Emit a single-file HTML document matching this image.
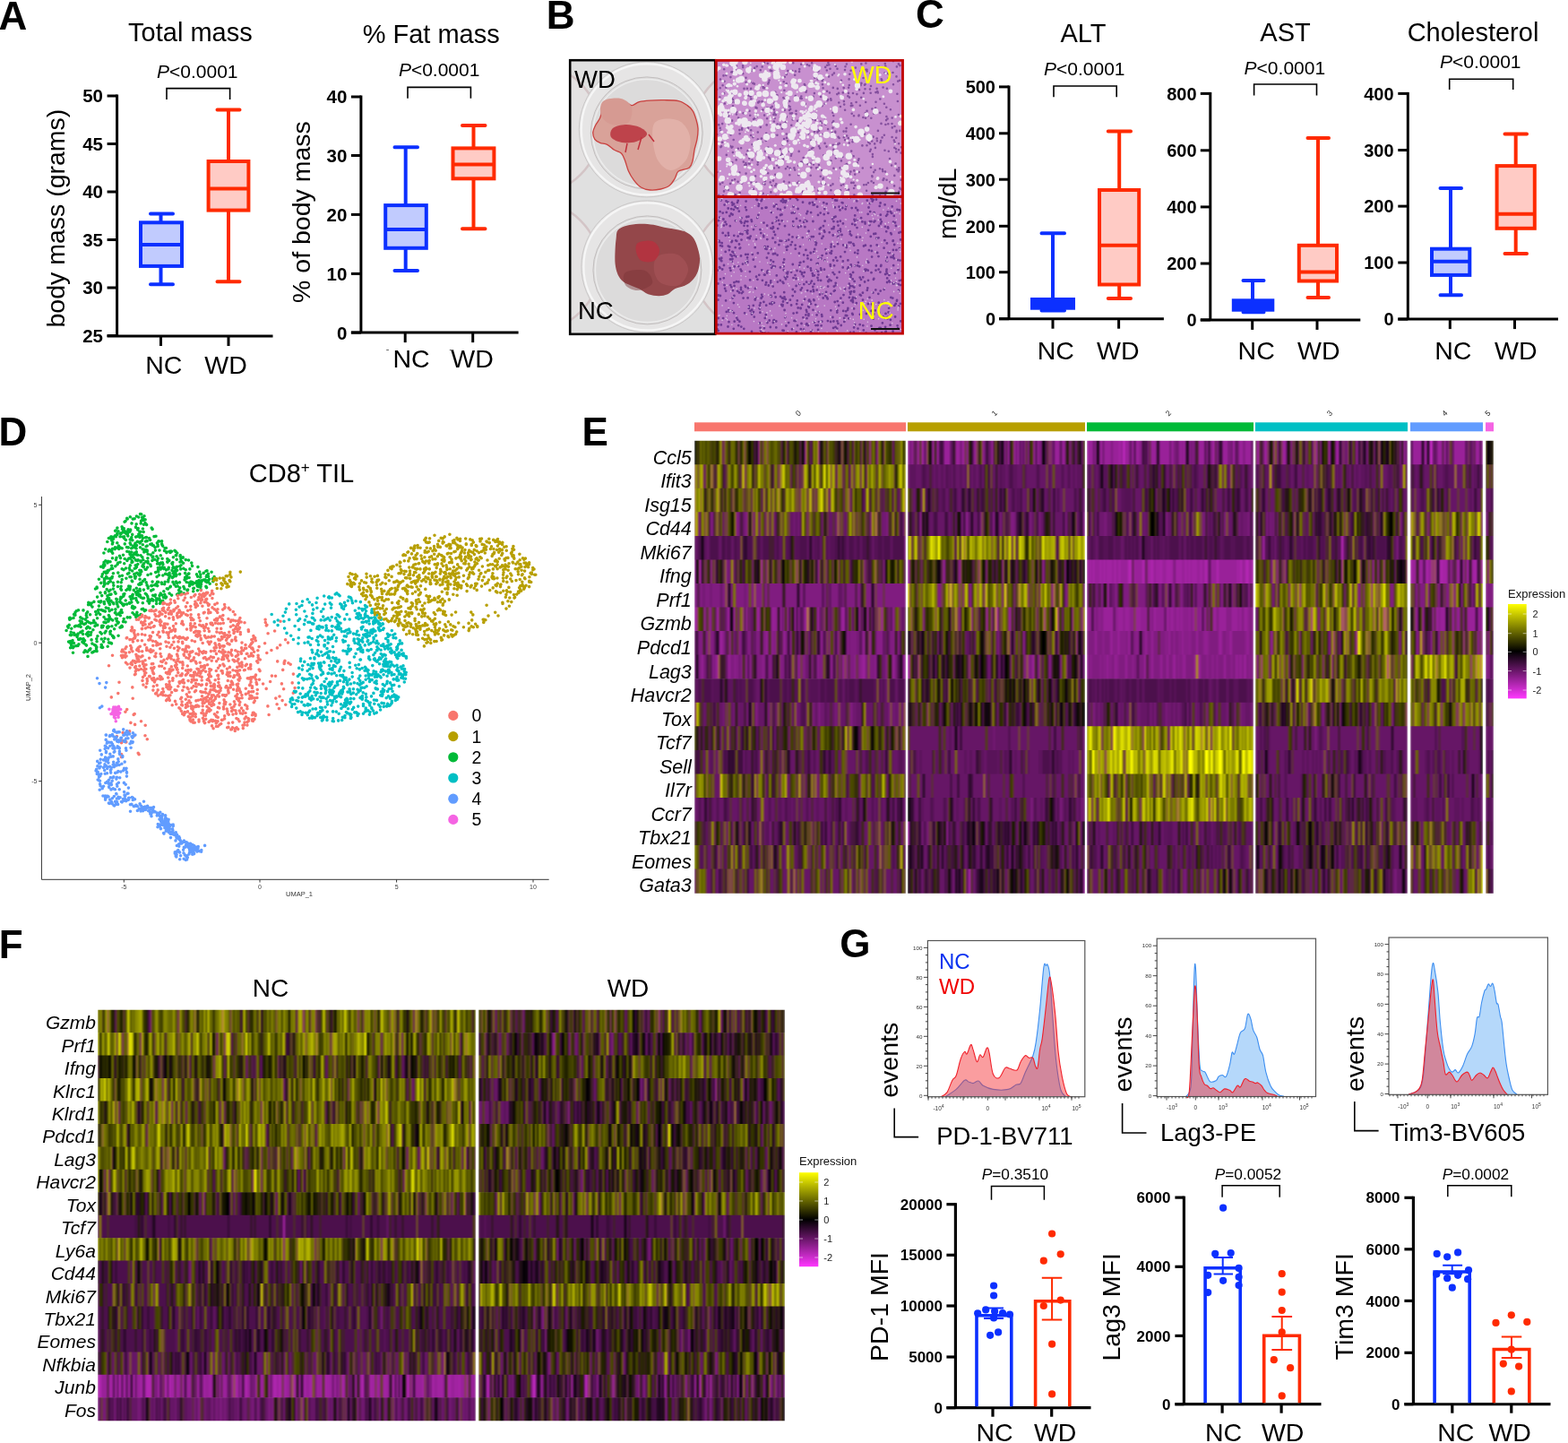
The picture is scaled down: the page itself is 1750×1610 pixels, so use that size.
<!DOCTYPE html>
<html><head><meta charset="utf-8"><title>Figure</title>
<style>
html,body{margin:0;padding:0;background:#fff;width:1750px;height:1610px;overflow:hidden}
svg{display:block}
text{font-family:"Liberation Sans",Arial,Helvetica,sans-serif}
.b{font-weight:bold}
.i{font-style:italic}
</style></head><body>
<svg width="1750" height="1610" viewBox="0 0 1750 1610">
<rect width="1750" height="1610" fill="#fff"/>
<text x="-1.5" y="32.7" font-size="44" class="b">A</text>
<text x="212.4" y="46.3" font-size="29" text-anchor="middle">Total mass</text>
<text x="175" y="86.6" font-size="21"><tspan class="i">P</tspan>&lt;0.0001</text>
<path d="M186 111V98.6H256.6V111" fill="none" stroke="#000" stroke-width="1.6"/>
<path d="M130.6 105.5L130.6 375" stroke="#000" stroke-width="3"/>
<path d="M119.6 375L304.5 375" stroke="#000" stroke-width="3"/>
<path d="M119.6 107L130.6 107" stroke="#000" stroke-width="3"/>
<text x="115" y="114.4" font-size="20.5" text-anchor="end" class="b">50</text>
<path d="M119.6 160.5L130.6 160.5" stroke="#000" stroke-width="3"/>
<text x="115" y="167.9" font-size="20.5" text-anchor="end" class="b">45</text>
<path d="M119.6 214L130.6 214" stroke="#000" stroke-width="3"/>
<text x="115" y="221.4" font-size="20.5" text-anchor="end" class="b">40</text>
<path d="M119.6 267.5L130.6 267.5" stroke="#000" stroke-width="3"/>
<text x="115" y="274.9" font-size="20.5" text-anchor="end" class="b">35</text>
<path d="M119.6 321L130.6 321" stroke="#000" stroke-width="3"/>
<text x="115" y="328.4" font-size="20.5" text-anchor="end" class="b">30</text>
<path d="M119.6 374.5L130.6 374.5" stroke="#000" stroke-width="3"/>
<text x="115" y="381.9" font-size="20.5" text-anchor="end" class="b">25</text>
<path d="M179.5 375L179.5 386" stroke="#000" stroke-width="3"/>
<path d="M255 375L255 386" stroke="#000" stroke-width="3"/>
<path d="M179.5 238.5V248.3M179.5 296.9V317.3" stroke="#0c30ff" stroke-width="4"/>
<path d="M168 238.5H193M168 317.3H193" stroke="#0c30ff" stroke-width="4" stroke-linecap="round"/>
<rect x="157" y="248.3" width="46" height="48.6" fill="#c1cbfe" stroke="#0c30ff" stroke-width="4"/>
<path d="M157 272.9L203 272.9" stroke="#0c30ff" stroke-width="4"/>
<path d="M255 122.6V180M255 234.6V314.3" stroke="#ff2a00" stroke-width="4"/>
<path d="M242.5 122.6H267.5M242.5 314.3H267.5" stroke="#ff2a00" stroke-width="4" stroke-linecap="round"/>
<rect x="232.6" y="180" width="44.8" height="54.6" fill="#ffcbc5" stroke="#ff2a00" stroke-width="4"/>
<path d="M232.6 210.6L277.4 210.6" stroke="#ff2a00" stroke-width="4"/>
<text x="182.8" y="417.4" font-size="28.5" text-anchor="middle">NC</text>
<text x="252" y="417.4" font-size="28.5" text-anchor="middle">WD</text>
<text transform="translate(72.2 243.6) rotate(-90)" text-anchor="middle" font-size="28.5">body mass (grams)</text>
<text x="481.2" y="48" font-size="29" text-anchor="middle">% Fat mass</text>
<text x="444.9" y="85.4" font-size="21"><tspan class="i">P</tspan>&lt;0.0001</text>
<path d="M455 109.7V97.4H525.4V109.7" fill="none" stroke="#000" stroke-width="1.6"/>
<path d="M402.9 106.5L402.9 371.1" stroke="#000" stroke-width="3"/>
<path d="M391.9 371.1L578.6 371.1" stroke="#000" stroke-width="3"/>
<path d="M391.9 108L402.9 108" stroke="#000" stroke-width="3"/>
<text x="387.3" y="115.4" font-size="20.5" text-anchor="end" class="b">40</text>
<path d="M391.9 173.5L402.9 173.5" stroke="#000" stroke-width="3"/>
<text x="387.3" y="180.9" font-size="20.5" text-anchor="end" class="b">30</text>
<path d="M391.9 239.4L402.9 239.4" stroke="#000" stroke-width="3"/>
<text x="387.3" y="246.8" font-size="20.5" text-anchor="end" class="b">20</text>
<path d="M391.9 305.4L402.9 305.4" stroke="#000" stroke-width="3"/>
<text x="387.3" y="312.8" font-size="20.5" text-anchor="end" class="b">10</text>
<path d="M391.9 371.1L402.9 371.1" stroke="#000" stroke-width="3"/>
<text x="387.3" y="378.5" font-size="20.5" text-anchor="end" class="b">0</text>
<path d="M452.2 371.1L452.2 382.1" stroke="#000" stroke-width="3"/>
<path d="M527.7 371.1L527.7 382.1" stroke="#000" stroke-width="3"/>
<path d="M452.7 164.2V229.1M452.7 276.8V302" stroke="#0c30ff" stroke-width="4"/>
<path d="M440.5 164.2H466M440.5 302H466" stroke="#0c30ff" stroke-width="4" stroke-linecap="round"/>
<rect x="430.2" y="229.1" width="45.6" height="47.7" fill="#c1cbfe" stroke="#0c30ff" stroke-width="4"/>
<path d="M430.2 256L475.8 256" stroke="#0c30ff" stroke-width="4"/>
<path d="M528.5 140V165.4M528.5 199.3V255.2" stroke="#ff2a00" stroke-width="4"/>
<path d="M516 140H541.5M516 255.2H541.5" stroke="#ff2a00" stroke-width="4" stroke-linecap="round"/>
<rect x="505.5" y="165.4" width="45.9" height="33.9" fill="#ffcbc5" stroke="#ff2a00" stroke-width="4"/>
<path d="M505.5 183.4L551.4 183.4" stroke="#ff2a00" stroke-width="4"/>
<path d="M431.2 390.5h2.7M501.8 390.5h4.5" stroke="#666" stroke-width="1"/>
<text x="459" y="410" font-size="28.5" text-anchor="middle">NC</text>
<text x="527" y="410" font-size="28.5" text-anchor="middle">WD</text>
<text transform="translate(346 236.6) rotate(-90)" text-anchor="middle" font-size="28.5">% of body mass</text>
<text x="1022.1" y="31.2" font-size="44" class="b">C</text>
<text x="1209" y="46.6" font-size="29" text-anchor="middle">ALT</text>
<text x="1165" y="84" font-size="21"><tspan class="i">P</tspan>&lt;0.0001</text>
<path d="M1176 108.3V96H1246.2V108.3" fill="none" stroke="#000" stroke-width="1.6"/>
<path d="M1126 95.4L1126 355.7" stroke="#000" stroke-width="3"/>
<path d="M1115 355.7L1298.9 355.7" stroke="#000" stroke-width="3"/>
<path d="M1115 96.9L1126 96.9" stroke="#000" stroke-width="3"/>
<text x="1111" y="104.2" font-size="20" text-anchor="end" class="b">500</text>
<path d="M1115 148.8L1126 148.8" stroke="#000" stroke-width="3"/>
<text x="1111" y="156.1" font-size="20" text-anchor="end" class="b">400</text>
<path d="M1115 200.2L1126 200.2" stroke="#000" stroke-width="3"/>
<text x="1111" y="207.5" font-size="20" text-anchor="end" class="b">300</text>
<path d="M1115 252.3L1126 252.3" stroke="#000" stroke-width="3"/>
<text x="1111" y="259.6" font-size="20" text-anchor="end" class="b">200</text>
<path d="M1115 303.7L1126 303.7" stroke="#000" stroke-width="3"/>
<text x="1111" y="311" font-size="20" text-anchor="end" class="b">100</text>
<path d="M1115 355.7L1126 355.7" stroke="#000" stroke-width="3"/>
<text x="1111" y="363" font-size="20" text-anchor="end" class="b">0</text>
<path d="M1175 355.7L1175 366.7" stroke="#000" stroke-width="3"/>
<path d="M1248.6 355.7L1248.6 366.7" stroke="#000" stroke-width="3"/>
<path d="M1175 260.3V334M1175 343.7V346.6" stroke="#0c30ff" stroke-width="4"/>
<path d="M1162.5 260.3H1188M1162.5 346.6H1188" stroke="#0c30ff" stroke-width="4" stroke-linecap="round"/>
<rect x="1150" y="332" width="50" height="13.7" fill="#0c30ff"/>
<path d="M1249.2 146.6V212M1249.2 317.5V332.9" stroke="#ff2a00" stroke-width="4"/>
<path d="M1236.8 146.6H1262M1236.8 332.9H1262" stroke="#ff2a00" stroke-width="4" stroke-linecap="round"/>
<rect x="1227" y="212" width="44.2" height="105.5" fill="#ffcbc5" stroke="#ff2a00" stroke-width="4"/>
<path d="M1227 273.7L1271.2 273.7" stroke="#ff2a00" stroke-width="4"/>
<text x="1178.3" y="400.6" font-size="28.5" text-anchor="middle">NC</text>
<text x="1247.8" y="400.6" font-size="28.5" text-anchor="middle">WD</text>
<text transform="translate(1067 227.3) rotate(-90)" text-anchor="middle" font-size="28.5">mg/dL</text>
<text x="1434.5" y="45.7" font-size="29" text-anchor="middle">AST</text>
<text x="1388.6" y="83" font-size="21"><tspan class="i">P</tspan>&lt;0.0001</text>
<path d="M1399.6 106.4V94H1469.5V106.4" fill="none" stroke="#000" stroke-width="1.6"/>
<path d="M1350.8 102.9L1350.8 356.9" stroke="#000" stroke-width="3"/>
<path d="M1339.8 356.9L1518.3 356.9" stroke="#000" stroke-width="3"/>
<path d="M1339.8 104.4L1350.8 104.4" stroke="#000" stroke-width="3"/>
<text x="1335.6" y="111.7" font-size="20" text-anchor="end" class="b">800</text>
<path d="M1339.8 167.8L1350.8 167.8" stroke="#000" stroke-width="3"/>
<text x="1335.6" y="175.1" font-size="20" text-anchor="end" class="b">600</text>
<path d="M1339.8 230.9L1350.8 230.9" stroke="#000" stroke-width="3"/>
<text x="1335.6" y="238.2" font-size="20" text-anchor="end" class="b">400</text>
<path d="M1339.8 294L1350.8 294" stroke="#000" stroke-width="3"/>
<text x="1335.6" y="301.3" font-size="20" text-anchor="end" class="b">200</text>
<path d="M1339.8 356.9L1350.8 356.9" stroke="#000" stroke-width="3"/>
<text x="1335.6" y="364.2" font-size="20" text-anchor="end" class="b">0</text>
<path d="M1397.7 356.9L1397.7 367.9" stroke="#000" stroke-width="3"/>
<path d="M1470 356.9L1470 367.9" stroke="#000" stroke-width="3"/>
<path d="M1398 313V335.3M1398 345.7V348.3" stroke="#0c30ff" stroke-width="4"/>
<path d="M1387.5 313H1410.5M1387.5 348.3H1410.5" stroke="#0c30ff" stroke-width="4" stroke-linecap="round"/>
<rect x="1374.8" y="333.3" width="47.5" height="14.4" fill="#0c30ff"/>
<path d="M1471 154V273.8M1471 313.5V331.9" stroke="#ff2a00" stroke-width="4"/>
<path d="M1459.5 154H1483M1459.5 331.9H1483" stroke="#ff2a00" stroke-width="4" stroke-linecap="round"/>
<rect x="1449.8" y="273.8" width="42.2" height="39.7" fill="#ffcbc5" stroke="#ff2a00" stroke-width="4"/>
<path d="M1449.8 303.4L1492 303.4" stroke="#ff2a00" stroke-width="4"/>
<text x="1402.2" y="400.5" font-size="28.5" text-anchor="middle">NC</text>
<text x="1471.8" y="400.5" font-size="28.5" text-anchor="middle">WD</text>
<text x="1644" y="45.7" font-size="29" text-anchor="middle">Cholesterol</text>
<text x="1607" y="75.7" font-size="21"><tspan class="i">P</tspan>&lt;0.0001</text>
<path d="M1617.7 100V88.2H1688.7V100" fill="none" stroke="#000" stroke-width="1.6"/>
<path d="M1571.3 102.9L1571.3 356.1" stroke="#000" stroke-width="3"/>
<path d="M1560.3 356.1L1739 356.1" stroke="#000" stroke-width="3"/>
<path d="M1560.3 104.4L1571.3 104.4" stroke="#000" stroke-width="3"/>
<text x="1555.6" y="111.7" font-size="20" text-anchor="end" class="b">400</text>
<path d="M1560.3 167.5L1571.3 167.5" stroke="#000" stroke-width="3"/>
<text x="1555.6" y="174.8" font-size="20" text-anchor="end" class="b">300</text>
<path d="M1560.3 230.1L1571.3 230.1" stroke="#000" stroke-width="3"/>
<text x="1555.6" y="237.4" font-size="20" text-anchor="end" class="b">200</text>
<path d="M1560.3 293L1571.3 293" stroke="#000" stroke-width="3"/>
<text x="1555.6" y="300.3" font-size="20" text-anchor="end" class="b">100</text>
<path d="M1560.3 356.1L1571.3 356.1" stroke="#000" stroke-width="3"/>
<text x="1555.6" y="363.4" font-size="20" text-anchor="end" class="b">0</text>
<path d="M1618.3 356.1L1618.3 367.1" stroke="#000" stroke-width="3"/>
<path d="M1690.5 356.1L1690.5 367.1" stroke="#000" stroke-width="3"/>
<path d="M1619 210V277.7M1619 306.9V329.2" stroke="#0c30ff" stroke-width="4"/>
<path d="M1607.5 210H1631M1607.5 329.2H1631" stroke="#0c30ff" stroke-width="4" stroke-linecap="round"/>
<rect x="1598" y="277.7" width="42.3" height="29.2" fill="#c1cbfe" stroke="#0c30ff" stroke-width="4"/>
<path d="M1598 291.7L1640.3 291.7" stroke="#0c30ff" stroke-width="4"/>
<path d="M1691.7 149.5V185.1M1691.7 254.8V283" stroke="#ff2a00" stroke-width="4"/>
<path d="M1679.5 149.5H1704M1679.5 283H1704" stroke="#ff2a00" stroke-width="4" stroke-linecap="round"/>
<rect x="1670.6" y="185.1" width="42.2" height="69.7" fill="#ffcbc5" stroke="#ff2a00" stroke-width="4"/>
<path d="M1670.6 238.7L1712.8 238.7" stroke="#ff2a00" stroke-width="4"/>
<text x="1621.8" y="400.5" font-size="28.5" text-anchor="middle">NC</text>
<text x="1691.8" y="400.5" font-size="28.5" text-anchor="middle">WD</text>
<text x="609.7" y="31.7" font-size="44" class="b">B</text>
<defs><clipPath id="cph"><rect x="636" y="67" width="162" height="306"/></clipPath><clipPath id="chw"><rect x="800" y="68" width="207" height="151"/></clipPath><clipPath id="chn"><rect x="800" y="220" width="207" height="152"/></clipPath></defs>
<g clip-path="url(#cph)">
<rect x="636" y="67" width="162" height="306" fill="#e0e0e0"/>
<circle cx="597" cy="144" r="72" fill="#e4e2e2" stroke="#d3c4c6" stroke-width="2.5"/>
<circle cx="846" cy="144" r="72" fill="#e4e2e2" stroke="#d3c4c6" stroke-width="2.5"/>
<circle cx="597" cy="297" r="72" fill="#e4e2e2" stroke="#d3c4c6" stroke-width="2.5"/>
<circle cx="846" cy="297" r="72" fill="#e4e2e2" stroke="#d3c4c6" stroke-width="2.5"/>
<circle cx="721.8" cy="144.4" r="75.5" fill="#e6e5e5" stroke="#c9c7c7" stroke-width="1"/>
<circle cx="721.8" cy="144.4" r="73" fill="none" stroke="#f6f6f6" stroke-width="2.2"/>
<circle cx="721.8" cy="148.4" r="62.5" fill="#dcdbdb" stroke="#c2bebe" stroke-width="1"/>
<circle cx="721.8" cy="148.4" r="60" fill="none" stroke="#ececec" stroke-width="1.5"/>
<circle cx="722.4" cy="297.4" r="73.5" fill="#e6e5e5" stroke="#c9c7c7" stroke-width="1"/>
<circle cx="722.4" cy="297.4" r="71" fill="none" stroke="#f6f6f6" stroke-width="2.2"/>
<circle cx="722.4" cy="301.4" r="60.5" fill="#dcdbdb" stroke="#c2bebe" stroke-width="1"/>
<circle cx="722.4" cy="301.4" r="58" fill="none" stroke="#ececec" stroke-width="1.5"/>
<path d="M672.7 117.6C674 115.8 676.9 113.6 679.7 112.7C682.5 111.8 686.3 111.8 689.6 112.1C692.9 112.4 696.9 113.7 699.5 114.6C702.1 115.5 703.2 117.8 705.5 117.6C707.8 117.4 710.1 114.5 713.4 113.6C716.7 112.7 720.8 112.4 725.4 112.1C730 111.8 736 111.6 741.3 111.7C746.6 111.8 752.9 111.7 757.2 112.7C761.5 113.7 764.5 115.8 767.1 117.6C769.8 119.4 771.5 120.9 773.1 123.6C774.8 126.2 776 130.2 777 133.5C778 136.8 778.8 139.8 779 143.4C779.2 147.1 778.7 151.4 778 155.4C777.3 159.4 775.8 163.3 775 167.3C774.2 171.3 774.1 175.9 773.1 179.2C772.1 182.5 771.8 185.2 769.1 187.2C766.5 189.2 759.9 189.1 757.2 191.1C754.6 193.1 754.9 196.4 753.2 199.1C751.5 201.8 749.9 205 747.2 207C744.6 209 740.9 210.2 737.3 211C733.7 211.8 729 212.3 725.4 212C721.8 211.7 718.4 210.8 715.4 209C712.4 207.2 709.8 204.1 707.5 201.1C705.2 198.1 703.1 194.8 701.5 191.1C699.9 187.4 698.9 182.5 697.6 179.2C696.3 175.9 695.6 173.3 693.6 171.3C691.6 169.3 688.2 169 685.6 167.3C683 165.6 680.4 162.6 677.7 161.3C675.1 160 672 160.3 669.7 159.3C667.4 158.3 665.1 157.4 663.8 155.4C662.5 153.4 661.6 150.1 661.8 147.4C662 144.8 663.5 142.2 664.8 139.5C666.1 136.8 668.6 134.2 669.7 131.5C670.9 128.8 671.2 125.9 671.7 123.6C672.2 121.3 671.4 119.4 672.7 117.6Z" fill="#d9a299" stroke="#c9413f" stroke-width="1.3"/>
<path d="M730 138C734 131.3 749.3 131.7 756 134C762.7 136.3 768.3 144.7 770 152C771.7 159.3 769.7 171.7 766 178C762.3 184.3 753.7 190.7 748 190C742.3 189.3 735 182.7 732 174C729 165.3 726 144.7 730 138Z" fill="#e3b5ad" opacity="0.8"/>
<path d="M673 113C676.7 109.8 687.7 108.8 693 110C698.3 111.2 703.7 115.5 705 120C706.3 124.5 704.7 133.8 701 137C697.3 140.2 688 140.3 683 139C678 137.7 672.7 133.3 671 129C669.3 124.7 669.3 116.2 673 113Z" fill="#d69a92"/>
<path d="M684 143C686.7 140.7 693 139.2 698 139C703 138.8 710 140.2 714 142C718 143.8 722.7 147.3 722 150C721.3 152.7 714.7 156.5 710 158C705.3 159.5 698.7 159.8 694 159C689.3 158.2 683.7 155.7 682 153C680.3 150.3 681.3 145.3 684 143Z" fill="#b8323d" opacity="0.85"/>
<path d="M716 153l-4 14M700 160l-2 10M724 150l6 8" stroke="#c0303c" stroke-width="1.5"/>
<path d="M689.6 256.7C691.6 254.2 695.5 252.9 699.5 251.7C703.5 250.5 708.4 249.9 713.4 249.7C718.4 249.5 724.6 250 729.3 250.7C733.9 251.4 737.3 252.9 741.3 253.7C745.3 254.5 749.2 254.9 753.2 255.7C757.2 256.5 761.8 257.2 765.1 258.7C768.4 260.2 771 262 773.1 264.6C775.2 267.2 776.7 270.6 778 274.6C779.3 278.6 780.8 283.9 781 288.5C781.2 293.1 780.3 298.4 779 302.4C777.7 306.4 775.4 309.6 773.1 312.3C770.8 315 768.4 316.6 765.1 318.3C761.8 320 756.5 320.7 753.2 322.3C749.9 323.9 748.2 326.9 745.2 328.2C742.2 329.5 738.9 330.2 735.3 330.2C731.7 330.2 727 329.5 723.4 328.2C719.8 326.9 716.7 323.9 713.4 322.3C710.1 320.7 706.5 319.6 703.5 318.3C700.5 317 697.9 316.3 695.6 314.3C693.3 312.3 691.1 309.7 689.6 306.4C688.1 303.1 687.1 299.1 686.6 294.5C686.1 289.9 686.4 283.2 686.6 278.6C686.8 274 687.1 270.2 687.6 266.6C688.1 263 687.6 259.2 689.6 256.7Z" fill="#94474a"/>
<path d="M734 286C738.3 283 750.3 281.7 756 284C761.7 286.3 767.7 294.3 768 300C768.3 305.7 763 315.3 758 318C753 320.7 742.7 318.7 738 316C733.3 313.3 730.7 307 730 302C729.3 297 729.7 289 734 286Z" fill="#a9555a" opacity="0.6"/>
<path d="M712 271C715 269 724 267.7 728 269C732 270.3 735.7 275.3 736 279C736.3 282.7 733.3 289 730 291C726.7 293 719.3 292.7 716 291C712.7 289.3 710.7 284.3 710 281C709.3 277.7 709 273 712 271Z" fill="#b9303d" opacity="0.8"/>
<path d="M698 304C701.7 301.3 715 300 720 302C725 304 729.3 312.3 728 316C726.7 319.7 717 323.7 712 324C707 324.3 700.3 321.3 698 318C695.7 314.7 694.3 306.7 698 304Z" fill="#7a3437" opacity="0.45"/>
</g>
<rect x="636.2" y="67.2" width="162" height="305.6" fill="none" stroke="#000" stroke-width="2.6"/>
<text x="641" y="98" font-size="27.5">WD</text>
<text x="645" y="356" font-size="27.5">NC</text>
<g clip-path="url(#chw)"><rect x="800" y="68" width="207" height="151" fill="#c890cf"/>
<path d="M893.6 152.5h0M991.3 138.3h0M905.1 156.7h0M838.2 145.3h0M930.4 187.7h0M819.5 113.8h0M818.8 190.3h0M943.5 74.3h0M1003.3 213.7h0M935.4 160.9h0M832.6 70.3h0M909.4 77h0M839.4 104.5h0M806.2 138.1h0M891.2 195.2h0M907.5 164.7h0M903.5 168h0M894.7 110h0M1006.5 218.3h0M973.9 174.9h0M865.3 102.7h0M859.8 78.6h0M958.6 128.5h0M975.2 126.4h0M998.3 195.9h0M800.1 99.7h0M988.4 139h0M1002.9 128h0M815.1 163h0M961.2 108.7h0M818 118.2h0M999.6 182.5h0M824.4 105.2h0M820.9 77h0M965 94.8h0M915.8 135.6h0M839.5 178.5h0M827.1 165.2h0M824.1 131.5h0M844.1 108.7h0M1001 189.3h0M863 201.6h0M843.6 127.5h0M976.9 164.9h0M820.8 217.4h0M844.1 107h0M959.9 117.7h0M861.3 79.1h0M818.7 156h0M850.3 158.8h0M876.9 136.4h0M998.5 141h0M918.9 198.8h0M837.8 91.3h0M988 191.5h0M851.6 96.7h0M953.1 210h0M840.7 211.5h0M982.6 159.1h0M887.2 83.7h0M808 213.4h0M849.4 174.4h0M853.2 192.4h0M923.5 112.3h0M836.3 176.8h0M814.2 102.5h0M915.8 196.7h0M927.2 110.3h0M989.9 98.8h0M803.4 108.6h0M892.3 77.1h0M836.5 123.7h0M918.4 87.9h0M875 202.5h0M1003 167.2h0M943.1 156.3h0M829.1 73.3h0M803.7 205.4h0M945.1 213.4h0M804.4 164.1h0M899.8 178.3h0M866 218.9h0M815.6 150.5h0M952.6 203.9h0M952.6 174.3h0M964.2 206.2h0M872.8 171.5h0M986.5 199.5h0M886.4 187.4h0M978.7 154.5h0M929.4 125.7h0M920.6 159.9h0M816.6 164.6h0M1005.6 200.8h0M950.7 126.7h0M952.2 155.7h0M891.2 194.6h0M817.3 181.3h0M806.2 158.8h0M899.6 102.8h0M944.6 143.1h0M927.2 207h0M853 69.7h0M862.3 170.4h0M841.9 93.6h0M987.5 167.7h0M891.5 202.7h0M867.7 168.6h0M841.1 133.1h0M966.8 206h0M982.2 126h0M920.7 115.8h0M828.2 143h0M973.3 196.2h0M947.2 211.5h0M857.3 93.5h0M893.3 109.5h0M844.3 130.5h0M929.5 142.6h0M865.3 194.7h0M1003.3 136.3h0M815.5 72.8h0M980.7 74.3h0M946.7 154.2h0M864 187.5h0M804 88.5h0M894.2 71.7h0M971.7 103.8h0M829.2 75.1h0M930.2 135.4h0M930.4 166.9h0M967.1 212.7h0M941.7 98.1h0M898.4 95h0M802.2 139.3h0M947.8 95h0M856.4 120.2h0M944.3 146.6h0M927.2 182.2h0M881.5 187.6h0M987.6 81.2h0M993 177.1h0M826.9 136.5h0M929.5 205.4h0M878 153.9h0M982 188.3h0M995.5 138h0M934.8 98.9h0M949.4 191.6h0M932.8 176.4h0M844.2 203.9h0M1003 215.6h0M911.2 187.4h0M866.3 205.4h0M977.1 120.6h0M817.1 134.6h0M913.9 184h0M900.9 72.3h0M967.5 77.7h0M965.6 94.1h0M869.3 187h0M829.1 90.5h0M906.9 177.3h0M973.9 172.1h0M995.8 142.4h0M996.5 81h0M845.8 147.5h0M860.1 178.1h0M932.2 146.9h0M974.6 152.6h0M864.5 125.6h0M975 204h0M843.1 196.5h0M1000.5 147.2h0M918.6 98.3h0M910.9 144h0M925.3 72.2h0M1000.7 145.9h0M882.9 189h0M916.5 142.1h0M943 78h0M911.5 130.5h0M998.1 207.4h0M855.7 139.4h0M826.3 133.5h0M968.9 204h0M898.6 115.9h0M839.6 161.3h0M991.5 87.5h0M961.3 71.4h0M840.2 102.3h0M942.2 116.6h0M873.6 161.6h0M821.7 178.4h0M825.4 145.1h0M851.9 97.9h0M909.8 134h0M877.8 130.4h0M909.6 92.1h0M842.3 163.3h0M932.2 148h0M976.2 160.4h0M977.4 103.1h0M953.3 190.4h0M986.9 115.7h0M865.2 207.3h0M845.2 218.8h0M983.7 88.2h0M849.5 177.7h0M853.7 82.6h0M972.3 131.7h0M963.5 87h0M883.4 171.5h0M803.7 98.3h0M941.3 205.6h0M1000.5 85.4h0M904.7 182.5h0M904.1 171.5h0M839.1 78.7h0M822 73.7h0M914.2 145.7h0M917.7 90.1h0M838.2 98.8h0M973.9 217.5h0M991.9 82.4h0M812.8 211.7h0M895.6 183.5h0M867.7 138.5h0M906.7 132.9h0M924.4 70h0M945.1 195.5h0M837.5 136.5h0M953 129.2h0M840.4 92.9h0M906.1 70.3h0M984.9 189.1h0M945.9 198h0M930.3 129.1h0M924.1 144.1h0M1003.4 189.5h0M853.5 205.6h0M954.1 185.5h0M968.6 129.3h0M985.6 200.9h0M943.8 183.9h0M958.4 129.3h0M949.6 78.7h0M870.7 138.8h0M802.2 121.7h0M932.2 162.2h0M848 210.6h0M937.9 119h0M936.6 154h0M910.3 126.8h0M1007 165h0M945.2 183h0M1002.9 71.4h0M927.4 179.6h0M853.1 128.6h0M810.4 97.5h0M877.8 82.9h0M851.9 204.8h0M913.9 144.7h0M1000.2 153.8h0M1006 164.3h0M967.6 79.5h0M923.7 182.6h0M809.3 208.5h0M833.1 139.2h0M835 142.8h0M926.5 76.8h0M995.7 131.5h0M909 158.3h0M875.7 111.1h0M935.6 152.7h0M858.7 176.2h0M861.3 70.1h0M850.7 74.5h0M832.4 182h0M880.7 203.5h0M954.9 75.6h0M1004.7 210.6h0M815.2 204.7h0M888.9 140.1h0M1001.4 104.8h0M908.3 209.5h0M949.6 138.7h0M1002.6 191.3h0M925 85.4h0M929.2 136.8h0M842.2 75.9h0M909.3 86.8h0M891.7 168.9h0M894.3 107.6h0M920.5 131.3h0M961 148.1h0M1006.5 211.8h0M952 104h0M823.6 202.8h0M962.4 162.4h0M874.4 109h0M941.8 153.3h0M922.5 163.6h0M955.9 96.7h0M851.5 215.9h0M989.6 200.7h0M808.2 77.2h0M856.1 132.2h0M929 83.5h0M912.1 78.9h0M817.9 170.1h0M914 163.3h0M877.2 140.3h0M843.6 119.9h0M954.2 194.6h0M815.4 86.1h0M967.5 162.2h0M959.1 100.2h0M887.8 107h0M967.6 123.7h0M935.3 217.4h0M867.4 150.8h0M954.4 207h0M888.5 123.8h0M820.1 200.2h0M816.3 80.5h0M916.8 141.2h0M941.9 113.1h0M960.5 79.5h0M844.1 168h0M816.9 113.9h0M950.1 172.8h0M858.6 89.6h0M874.1 177.6h0M875.8 85.7h0M946.8 154h0M990.1 209.9h0M989.1 134.1h0M966.2 114h0M865.7 128.3h0M993.5 203.1h0M851.4 122.6h0M875.7 122.9h0M881.9 126.5h0M840.4 153.1h0M965 149.6h0M973.1 153h0M836.6 182.6h0M982.3 110.5h0M804.6 145.9h0M912.6 153.7h0M1000 166.3h0M966.5 77.7h0M913.2 187h0M817.4 80.3h0M952.6 203.8h0M817.5 163.8h0M829.8 180.6h0M934.3 105.1h0M845.6 183.6h0M908 183.5h0M881.6 119h0M1000.4 169.5h0M902.2 149.1h0M949.2 174.9h0M989.4 130h0M971 168.7h0M976.7 189.7h0M972.6 202.2h0M998.3 164.7h0M908.4 175.2h0M966.1 131.7h0M887 90.1h0M953.4 217.6h0M877.7 93.3h0M842.3 132.2h0M860.4 214.4h0M812.3 114.6h0M823.8 165.8h0M960.6 95.1h0M812.9 137.3h0M920.9 205.3h0M807.5 84.4h0M838.2 100.8h0M848.7 176.3h0M923.1 101.8h0M838.3 110.4h0M835.7 182.4h0M864.5 150.8h0M969.1 140.4h0M853.9 202h0M989.3 119.7h0M913.3 212.5h0M899.9 101.4h0M810.3 211.1h0M965.9 126.1h0M909.2 145.9h0M856.8 217.5h0M936.1 103.9h0M802.3 139.4h0M876.9 188.3h0M947.7 159.5h0M832.6 91.7h0M866.6 107.2h0M979.9 145.9h0M931.9 218h0M855.2 148.7h0M831.2 184.3h0M800.3 192h0M975.2 192.1h0M817.1 108.8h0M948.3 82.7h0M899.4 138.8h0M997.8 156.6h0M977.5 113.8h0M963.4 131h0M989.8 81.7h0M971 99.5h0M912.5 147.4h0M832.6 193.6h0M864.5 114.9h0M815.7 114.2h0M896.7 176h0M874.5 171.8h0M821.9 127.5h0M895.6 214h0M971.8 166.7h0M802.6 124.9h0M947 103.9h0M916.8 137.2h0M802.2 217.7h0M965.5 99.2h0M927.5 111.8h0M877.8 149.5h0M861.7 118.9h0M881.2 168.7h0M853.1 98.2h0M951.4 117.7h0M995.6 153h0M949.8 118.1h0M971.2 81.9h0M829.2 82.3h0M940.3 175h0M837.2 128.7h0M973.2 157.5h0M818.7 102.2h0M832.5 86.7h0M884.2 79h0M990.6 132.5h0M905.9 165.7h0M958.7 192h0M879.9 118h0M885.3 70.3h0M882.9 173.7h0M1003.3 187.2h0M936.7 159.9h0M803.8 118h0M870.8 166.3h0M822 125h0M905.4 187.1h0M970.8 160.3h0M832.8 183.7h0M986.9 150.8h0M873 143.6h0M829.3 175.7h0M1004.3 145.9h0M948.1 194.2h0M840.8 210.7h0M929.8 97.9h0M817.2 104.9h0M919.3 173.3h0M868.1 208.3h0M874.8 137.9h0M825.7 215h0M828.1 204.5h0M912.5 152.7h0M916 107.9h0M988.2 217.8h0M969.2 158.8h0M825.4 192.5h0M859.7 203.4h0M849.9 154.6h0M972 96h0M913.4 79.5h0M806.6 95.2h0M1004.3 209.9h0M936.3 114.5h0M938.9 179.4h0M879 157.4h0M966.4 70.5h0M841.3 138.7h0M829.6 126.3h0M917.9 94.2h0M907.6 107.8h0M917.6 118.1h0M932.8 73.7h0M938.9 89.9h0M998.6 158.6h0M897.3 130.1h0M929.1 172.1h0M956.9 181.5h0M900.6 218.2h0M973.5 197.1h0M884.7 133.5h0M917.2 204.7h0M908.9 147.3h0M889.5 204.5h0M866.4 76.3h0M950.2 203.9h0M951.5 158.2h0M955.6 114h0M922.8 78.5h0M825.8 135.5h0M904 127.9h0M810.8 172.9h0M908.9 104.1h0M863.4 127.7h0M848.8 78.3h0M988.6 213.9h0M937.8 198.8h0M887.2 189.6h0M845.9 180.7h0M917.3 204.4h0M820.4 187.6h0M825.6 149.2h0M996.9 68.1h0M850.5 113.2h0M867.2 77.5h0M985.3 191.1h0M882.2 121.8h0M921.2 74.9h0M806.4 203.7h0M863.7 143.3h0M993.3 215.6h0M897.8 99.2h0M861.1 207.3h0M985.6 97.5h0M973.4 121.5h0M897.8 94h0M982.1 218.3h0M841.8 163.5h0M839.6 200.9h0M810.4 84h0M950.2 115.3h0M986.4 199.3h0M947.6 88.4h0M944.1 209.6h0M892.1 79.9h0M846.2 114.4h0M947.1 97.7h0M837.5 103.6h0M937.6 187.4h0M877.1 168h0M983.1 157.1h0M847.4 113.4h0M991.8 168.7h0M857.3 164.6h0M818.6 216.4h0M891.2 147.8h0M909.9 74.8h0M924.1 111h0M851.9 189.3h0M818 111.1h0M956.4 105.1h0M857.8 150.8h0M838.6 203.5h0M1004.5 73.1h0M895.6 181.3h0M879.6 208.3h0M903.5 95.2h0M915.1 165.4h0M874.4 167.4h0M962.1 146h0M904.7 195.7h0M941.6 146.6h0M997 94.3h0M961.4 92.9h0M925.9 103.5h0M891.2 184.7h0M962.8 187.5h0M848.8 141.9h0M845.8 155.6h0M903.3 73.3h0M923.5 175.9h0M918.5 199.8h0M837.3 90.9h0M803.7 142.9h0M890 134.7h0M854.4 188.6h0M815 205h0M917.8 150h0M963.9 103.9h0M830.3 115h0M808.8 115.5h0M928.6 147.3h0M854.8 156.9h0M818.3 191.9h0M835.5 106.5h0M833.1 172.3h0M972 186.8h0M812.7 130h0M875.4 100.7h0M1000.9 74.4h0M901.3 183h0M1004.1 89.8h0M894.3 180.5h0M808.1 104.3h0M984.2 89.4h0M881.3 113h0M887.9 79.5h0M807.1 218.4h0M958 178.8h0M847.6 106.2h0M914.2 104.5h0M895.5 208.8h0M875.3 118.9h0M1003.1 160.2h0M808.2 128.9h0M934.5 76.8h0M871 172.9h0M978.9 157.2h0M983.5 137.9h0M881.3 195.3h0M878.9 186h0M844.6 120.5h0M838 151h0M833.9 98.8h0M844.4 138.6h0M863.9 135.5h0M1005.6 170.6h0M978.6 98.9h0M879.3 79h0M943.1 122.8h0M856.8 70.8h0M837.7 107.6h0M881.3 207.5h0M948 108.6h0M874.7 91.2h0M993.9 122.3h0M958.5 177.2h0M987.8 71.1h0M866.7 126h0M817.2 201.2h0M867.3 184.4h0M907.5 76.3h0M881.6 104h0M808.5 90.8h0M923.2 72.8h0M864.6 132h0M912.6 88.5h0M946.3 107.3h0M950.2 168.6h0M830.5 98.9h0M858 175.6h0M883.9 126.4h0M979.3 102.1h0M860.5 120.1h0M844.7 74.1h0M805.1 163.2h0M917.1 190.1h0M1001.9 113h0M938.8 206.8h0M844.8 172.1h0M938 212.2h0M979.8 103.4h0M930.9 81.6h0M888.5 127.3h0M812.4 125.9h0M867.9 143.1h0M857.9 91.9h0M883.3 139.8h0M834.5 168.4h0M849.6 82.1h0M870.8 131.8h0M831.2 156h0M945.2 151.5h0M944.9 71.5h0M881 123h0M813 129.1h0M811.3 142.8h0M921.3 138.8h0M867.4 106.3h0M804.9 120.4h0M984.6 153.4h0M854.2 168.9h0M838.5 138.9h0M927.4 212.2h0M875.1 155h0M995.1 184.5h0M929.9 161.7h0M885.1 130.8h0M857.2 193.3h0M982.1 125.7h0M988.3 73.8h0M828.1 144.6h0M863.9 122.4h0M1002.2 90.6h0M839.8 102.5h0M940.8 103.4h0M800.2 150.1h0" stroke="#85509f" stroke-width="2.6" stroke-linecap="round"/>
<g fill="#eee8f0"><circle cx="881.5" cy="104.1" r="3.2"/><circle cx="854.7" cy="83.7" r="3.8"/><circle cx="843" cy="127.8" r="1.5"/><circle cx="901.6" cy="153.1" r="1.5"/><circle cx="875.9" cy="168.9" r="3.2"/><circle cx="851.6" cy="117.1" r="2.4"/><circle cx="952.7" cy="200.5" r="1.1"/><circle cx="906.1" cy="170.6" r="2.8"/><circle cx="979.3" cy="199.3" r="1.5"/><circle cx="882.3" cy="179.7" r="1.5"/><circle cx="867.7" cy="118.4" r="2.8"/><circle cx="946.3" cy="162.1" r="1.3"/><circle cx="825.9" cy="124.9" r="1.5"/><circle cx="935" cy="215" r="3.8"/><circle cx="994.8" cy="214.5" r="3.8"/><circle cx="856.1" cy="106" r="1.8"/><circle cx="993.2" cy="217.3" r="3.8"/><circle cx="873.8" cy="149.3" r="1.8"/><circle cx="868.3" cy="72" r="2.1"/><circle cx="835.4" cy="78.2" r="3.2"/><circle cx="858.7" cy="127.1" r="1.3"/><circle cx="913" cy="188.8" r="1.3"/><circle cx="856.7" cy="128.4" r="1.1"/><circle cx="899.8" cy="123.2" r="0.9"/><circle cx="831.4" cy="69.1" r="3.2"/><circle cx="816.2" cy="95.6" r="1.5"/><circle cx="1005.3" cy="129.7" r="1.8"/><circle cx="967.1" cy="127.8" r="2.4"/><circle cx="927.7" cy="192.9" r="1.5"/><circle cx="891.7" cy="193.9" r="1.3"/><circle cx="939.7" cy="108.9" r="2.4"/><circle cx="864.2" cy="145.7" r="1.5"/><circle cx="813.2" cy="123" r="1.5"/><circle cx="882.6" cy="189.3" r="1.1"/><circle cx="884.6" cy="203.8" r="0.9"/><circle cx="919.4" cy="102.3" r="1.8"/><circle cx="904.8" cy="109.8" r="3.2"/><circle cx="932.1" cy="121.5" r="3.2"/><circle cx="866.6" cy="82.2" r="3.8"/><circle cx="837.3" cy="75.1" r="1.5"/><circle cx="940.8" cy="94.8" r="1.3"/><circle cx="877.2" cy="95.5" r="1.8"/><circle cx="904" cy="128.9" r="2.4"/><circle cx="973.9" cy="183" r="1.3"/><circle cx="866.4" cy="181.9" r="1.8"/><circle cx="889" cy="213.4" r="1.8"/><circle cx="814.5" cy="126.9" r="1.3"/><circle cx="961" cy="147.3" r="3.8"/><circle cx="843.9" cy="161.1" r="3.8"/><circle cx="823.6" cy="194.5" r="2.1"/><circle cx="890.3" cy="138.6" r="2.4"/><circle cx="847.6" cy="158.7" r="2.4"/><circle cx="858.8" cy="75" r="1.8"/><circle cx="831.4" cy="138.8" r="3.8"/><circle cx="914.2" cy="75.9" r="2.1"/><circle cx="823" cy="96.2" r="1.3"/><circle cx="894" cy="149" r="1.5"/><circle cx="901.2" cy="213.2" r="1.1"/><circle cx="914.9" cy="186.9" r="1.5"/><circle cx="814.9" cy="143" r="2.4"/><circle cx="859.7" cy="130.8" r="0.9"/><circle cx="814.9" cy="217.2" r="3.2"/><circle cx="865.5" cy="212.5" r="2.4"/><circle cx="938.4" cy="133" r="1.8"/><circle cx="944.9" cy="195.5" r="3.2"/><circle cx="924.8" cy="172.9" r="1.3"/><circle cx="835.5" cy="155.7" r="1.5"/><circle cx="824" cy="210.1" r="1.8"/><circle cx="863.6" cy="69.2" r="1.5"/><circle cx="952.4" cy="122.4" r="1.8"/><circle cx="841.4" cy="78.8" r="1.8"/><circle cx="904.8" cy="210.2" r="3.8"/><circle cx="886.5" cy="142.4" r="1.1"/><circle cx="880.2" cy="180.2" r="2.1"/><circle cx="932.4" cy="123.4" r="2.8"/><circle cx="891.3" cy="212.1" r="3.8"/><circle cx="802.6" cy="160.2" r="1.8"/><circle cx="827.4" cy="203.2" r="1.8"/><circle cx="857.6" cy="83.4" r="2.8"/><circle cx="821.6" cy="167.3" r="1.5"/><circle cx="818.3" cy="122.9" r="3.8"/><circle cx="922.2" cy="173.3" r="0.9"/><circle cx="938.3" cy="91.5" r="1.3"/><circle cx="896.2" cy="115.7" r="2.8"/><circle cx="812.6" cy="101.6" r="1.8"/><circle cx="889.7" cy="102.7" r="1.1"/><circle cx="883.1" cy="167.1" r="2.8"/><circle cx="843.4" cy="123.9" r="1.8"/><circle cx="819.9" cy="188" r="3.2"/><circle cx="944.1" cy="186.7" r="3.2"/><circle cx="824.8" cy="138.8" r="1.8"/><circle cx="995.5" cy="203.3" r="1.8"/><circle cx="885.5" cy="152.7" r="1.1"/><circle cx="862.4" cy="144.6" r="2.8"/><circle cx="849.2" cy="168.1" r="1.5"/><circle cx="860.9" cy="185.4" r="1.8"/><circle cx="896.5" cy="217.5" r="1.3"/><circle cx="915.5" cy="137.4" r="1.1"/><circle cx="967.6" cy="144.1" r="2.8"/><circle cx="908.7" cy="129.4" r="3.8"/><circle cx="999.5" cy="130.4" r="1.3"/><circle cx="877.9" cy="112.4" r="1.8"/><circle cx="822.8" cy="113.4" r="3.2"/><circle cx="957.8" cy="185.1" r="1.5"/><circle cx="816.2" cy="107.4" r="1.8"/><circle cx="868.1" cy="141.8" r="2.4"/><circle cx="888.9" cy="140" r="1.8"/><circle cx="869.1" cy="85.6" r="2.4"/><circle cx="812.8" cy="147.7" r="1.8"/><circle cx="806.7" cy="122.3" r="2.4"/><circle cx="955.1" cy="141.6" r="1.8"/><circle cx="922.8" cy="83.8" r="1.8"/><circle cx="876.4" cy="113.5" r="2.8"/><circle cx="811.6" cy="95.7" r="1.8"/><circle cx="811" cy="82" r="1.5"/><circle cx="877.3" cy="81.6" r="1.1"/><circle cx="817.7" cy="216.6" r="1.8"/><circle cx="806.7" cy="90.6" r="1.5"/><circle cx="809.9" cy="162.3" r="1.8"/><circle cx="955.8" cy="155.6" r="3.8"/><circle cx="899.2" cy="118.7" r="1.1"/><circle cx="835.7" cy="80.6" r="1.3"/><circle cx="878.2" cy="135.6" r="1.1"/><circle cx="892.1" cy="203.5" r="1.1"/><circle cx="947.4" cy="174.2" r="3.8"/><circle cx="843.7" cy="130.6" r="1.1"/><circle cx="832.1" cy="109.4" r="1.8"/><circle cx="902.3" cy="133.9" r="2.4"/><circle cx="834.5" cy="156.5" r="1.8"/><circle cx="921.9" cy="137.8" r="1.3"/><circle cx="899.5" cy="216.1" r="3.8"/><circle cx="901.3" cy="163.5" r="1.8"/><circle cx="919" cy="106.8" r="1.5"/><circle cx="878.2" cy="176.2" r="2.8"/><circle cx="813.5" cy="95.1" r="2.4"/><circle cx="894.3" cy="141.5" r="2.8"/><circle cx="821.2" cy="114.3" r="0.9"/><circle cx="901.5" cy="141.9" r="1.8"/><circle cx="845.2" cy="98.1" r="2.8"/><circle cx="871.2" cy="92.6" r="1.3"/><circle cx="875.4" cy="211.6" r="1.5"/><circle cx="925.9" cy="193.4" r="1.1"/><circle cx="851.6" cy="71.1" r="1.5"/><circle cx="854.4" cy="79.4" r="1.5"/><circle cx="970.1" cy="150.2" r="1.1"/><circle cx="912.6" cy="178.8" r="3.2"/><circle cx="945.5" cy="157" r="1.5"/><circle cx="811.2" cy="209.4" r="2.4"/><circle cx="848.3" cy="136.4" r="3.8"/><circle cx="844.7" cy="164.7" r="3.8"/><circle cx="872.2" cy="103.1" r="1.1"/><circle cx="919" cy="207.9" r="1.5"/><circle cx="824.8" cy="217.3" r="1.3"/><circle cx="812.7" cy="168.6" r="0.9"/><circle cx="885.6" cy="89.6" r="2.4"/><circle cx="912.3" cy="134" r="1.1"/><circle cx="909" cy="121.5" r="1.5"/><circle cx="982.1" cy="83.4" r="1.5"/><circle cx="816.3" cy="141.5" r="2.4"/><circle cx="818.4" cy="203.8" r="1.5"/><circle cx="945.3" cy="209.8" r="1.3"/><circle cx="977.7" cy="209.2" r="2.1"/><circle cx="822.6" cy="113" r="0.9"/><circle cx="885.7" cy="90.5" r="2.8"/><circle cx="907.6" cy="155.6" r="1.1"/><circle cx="800.1" cy="78.3" r="1.8"/><circle cx="871.8" cy="70.3" r="1.5"/><circle cx="809.9" cy="123.8" r="2.4"/><circle cx="939.7" cy="136.7" r="1.8"/><circle cx="836.4" cy="90.6" r="2.1"/><circle cx="845.7" cy="206.7" r="3.2"/><circle cx="852.8" cy="200.4" r="1.5"/><circle cx="813.6" cy="145" r="1.5"/><circle cx="939.5" cy="187.3" r="1.1"/><circle cx="809.3" cy="152.1" r="3.2"/><circle cx="873.8" cy="205.6" r="1.8"/><circle cx="848.1" cy="217.9" r="1.5"/><circle cx="916.4" cy="210.5" r="0.9"/><circle cx="810.8" cy="73" r="1.8"/><circle cx="870.8" cy="208.5" r="3.8"/><circle cx="866.1" cy="74.5" r="3.8"/><circle cx="940.4" cy="201.3" r="3.2"/><circle cx="893.9" cy="124.2" r="1.5"/><circle cx="830.3" cy="199.5" r="3.8"/><circle cx="871.9" cy="75.4" r="1.3"/><circle cx="920.6" cy="109.4" r="2.8"/><circle cx="891.6" cy="189.3" r="1.1"/><circle cx="816.9" cy="101.7" r="1.5"/><circle cx="838.5" cy="213.7" r="1.1"/><circle cx="860.9" cy="187.7" r="2.1"/><circle cx="872.5" cy="218.6" r="0.9"/><circle cx="839.5" cy="210.6" r="0.9"/><circle cx="890.9" cy="156.2" r="1.5"/><circle cx="833.7" cy="94.1" r="1.5"/><circle cx="999" cy="160.4" r="0.9"/><circle cx="837.8" cy="70.3" r="0.9"/><circle cx="869.7" cy="196" r="3.8"/><circle cx="897.9" cy="162.2" r="1.8"/><circle cx="829.7" cy="155.5" r="1.8"/><circle cx="911.8" cy="137.5" r="2.1"/><circle cx="848.3" cy="209.3" r="3.2"/><circle cx="833.7" cy="144.8" r="1.5"/><circle cx="958.4" cy="209" r="2.4"/><circle cx="920.8" cy="91.8" r="1.5"/><circle cx="932.3" cy="163.7" r="2.1"/><circle cx="915.8" cy="143.1" r="2.4"/><circle cx="934.7" cy="171.5" r="1.8"/><circle cx="855.7" cy="154.7" r="2.1"/><circle cx="811.7" cy="116.2" r="0.9"/><circle cx="932.7" cy="214.5" r="2.1"/><circle cx="810.4" cy="110.3" r="2.8"/><circle cx="914.9" cy="210.8" r="2.1"/><circle cx="831.4" cy="115.7" r="2.4"/><circle cx="870.9" cy="97.7" r="2.1"/><circle cx="941.8" cy="188.4" r="1.5"/><circle cx="862.8" cy="104.9" r="0.9"/><circle cx="933.3" cy="170" r="3.2"/><circle cx="853.8" cy="111.5" r="1.5"/><circle cx="838.5" cy="172.8" r="3.8"/><circle cx="812.1" cy="199" r="0.9"/><circle cx="917.8" cy="210.5" r="2.1"/><circle cx="846.6" cy="175.4" r="1.3"/><circle cx="903.5" cy="215.9" r="2.8"/><circle cx="865.4" cy="109.2" r="3.2"/><circle cx="855.2" cy="184.5" r="1.8"/><circle cx="908.2" cy="141.7" r="3.8"/><circle cx="910.8" cy="139.4" r="1.5"/><circle cx="859.7" cy="208.8" r="1.8"/><circle cx="867.8" cy="78.6" r="1.8"/><circle cx="861.2" cy="197.8" r="2.4"/><circle cx="885.8" cy="129.4" r="2.1"/><circle cx="898.5" cy="130.8" r="3.2"/><circle cx="921.4" cy="131.4" r="1.1"/><circle cx="839.2" cy="183.7" r="1.3"/><circle cx="838" cy="214.3" r="2.8"/><circle cx="934.1" cy="174.6" r="1.8"/><circle cx="852.3" cy="204.6" r="0.9"/><circle cx="855.8" cy="172.9" r="1.3"/><circle cx="850.7" cy="191" r="2.8"/><circle cx="884.6" cy="81.1" r="1.5"/><circle cx="811.3" cy="139.5" r="1.1"/><circle cx="953.8" cy="178.3" r="1.5"/><circle cx="921.7" cy="115.7" r="1.1"/><circle cx="869.5" cy="71.3" r="3.8"/><circle cx="905.3" cy="130" r="1.5"/><circle cx="853.3" cy="187.5" r="2.1"/><circle cx="842.9" cy="168.1" r="1.8"/><circle cx="865.3" cy="162.2" r="1.5"/><circle cx="929.5" cy="151.1" r="3.2"/><circle cx="883.1" cy="169.3" r="1.5"/><circle cx="847.4" cy="159.2" r="3.2"/><circle cx="894.1" cy="100.1" r="2.8"/><circle cx="870.7" cy="175.5" r="1.8"/><circle cx="871.3" cy="132.4" r="1.8"/><circle cx="845.7" cy="128.2" r="1.5"/><circle cx="810.7" cy="100.5" r="1.1"/><circle cx="922.2" cy="175.5" r="3.8"/><circle cx="875.5" cy="140.2" r="3.2"/><circle cx="916.2" cy="150.2" r="1.3"/><circle cx="955.8" cy="156.3" r="2.4"/><circle cx="909.4" cy="142.8" r="3.2"/><circle cx="820.3" cy="75.3" r="2.4"/><circle cx="873" cy="182.6" r="1.5"/><circle cx="913" cy="93.4" r="1.5"/><circle cx="878.7" cy="109.3" r="2.4"/><circle cx="906.3" cy="149.5" r="1.8"/><circle cx="830.8" cy="115" r="2.8"/><circle cx="851.7" cy="94.9" r="1.1"/><circle cx="931.9" cy="72" r="0.9"/><circle cx="901.2" cy="173" r="1.5"/><circle cx="845.2" cy="139.6" r="2.1"/><circle cx="904.6" cy="122.2" r="2.8"/><circle cx="870.6" cy="134.4" r="1.3"/><circle cx="873.5" cy="174.7" r="1.8"/><circle cx="847.4" cy="176.5" r="3.8"/><circle cx="954.3" cy="183.8" r="2.8"/><circle cx="805.1" cy="116.9" r="2.1"/><circle cx="924.2" cy="198.2" r="1.1"/><circle cx="886.4" cy="205.2" r="2.4"/><circle cx="856.4" cy="168.7" r="1.8"/><circle cx="811.1" cy="185.7" r="0.9"/><circle cx="873.7" cy="122.4" r="1.5"/><circle cx="862" cy="70.3" r="1.8"/><circle cx="922.5" cy="108.6" r="1.1"/><circle cx="897.1" cy="145.3" r="2.8"/><circle cx="850.5" cy="191.3" r="1.5"/><circle cx="897" cy="147.9" r="1.5"/><circle cx="859" cy="112.7" r="3.2"/><circle cx="839.6" cy="199.2" r="3.2"/><circle cx="895.8" cy="124.1" r="1.1"/><circle cx="882.3" cy="151.5" r="3.2"/><circle cx="989.8" cy="194.2" r="1.5"/><circle cx="910.6" cy="118.7" r="2.4"/><circle cx="864.1" cy="198.2" r="1.1"/><circle cx="910.1" cy="85" r="1.8"/><circle cx="948" cy="181.4" r="1.8"/><circle cx="922.4" cy="150.5" r="3.8"/><circle cx="835.9" cy="138.1" r="3.2"/><circle cx="903.4" cy="209.3" r="1.8"/><circle cx="802.5" cy="177" r="2.8"/><circle cx="815.1" cy="183" r="2.4"/><circle cx="908.3" cy="215.5" r="1.5"/><circle cx="811.8" cy="73.2" r="1.3"/><circle cx="866.2" cy="85.4" r="3.2"/><circle cx="809.1" cy="153" r="3.2"/><circle cx="852.2" cy="176" r="2.1"/><circle cx="856" cy="98.2" r="1.5"/><circle cx="838.6" cy="103.8" r="3.2"/><circle cx="945" cy="215.9" r="3.2"/><circle cx="943.2" cy="209.2" r="0.9"/><circle cx="812.2" cy="142.3" r="2.4"/><circle cx="852.5" cy="85.7" r="2.8"/><circle cx="876.8" cy="117.8" r="2.8"/><circle cx="933.2" cy="159.8" r="0.9"/><circle cx="903.4" cy="183.6" r="1.5"/><circle cx="892.8" cy="141.2" r="2.4"/><circle cx="896.8" cy="195.4" r="3.8"/><circle cx="833.8" cy="123" r="1.8"/><circle cx="807.8" cy="72.3" r="1.8"/><circle cx="830" cy="175.7" r="1.8"/><circle cx="924.5" cy="206.4" r="1.1"/><circle cx="847.6" cy="95.2" r="1.8"/><circle cx="841.5" cy="164.7" r="1.3"/><circle cx="878.3" cy="180.8" r="0.9"/><circle cx="898.2" cy="74" r="1.5"/><circle cx="859.2" cy="168.4" r="3.8"/><circle cx="982.5" cy="207.6" r="3.2"/><circle cx="808.5" cy="111" r="1.1"/><circle cx="944.8" cy="207.6" r="1.8"/><circle cx="915.4" cy="86.2" r="3.2"/><circle cx="875" cy="159.4" r="2.8"/><circle cx="900" cy="108.7" r="1.5"/><circle cx="883.6" cy="153.2" r="3.2"/><circle cx="812.9" cy="162.9" r="1.8"/><circle cx="938.3" cy="198.2" r="1.3"/><circle cx="875.7" cy="172.8" r="1.5"/><circle cx="841.1" cy="152.1" r="0.9"/><circle cx="823.8" cy="171.8" r="3.2"/><circle cx="857" cy="217.7" r="1.1"/><circle cx="889.3" cy="206.8" r="1.3"/><circle cx="949.6" cy="197.4" r="1.8"/><circle cx="855.5" cy="152.8" r="3.8"/><circle cx="831.5" cy="186.2" r="1.5"/><circle cx="826" cy="158.4" r="1.8"/><circle cx="885.7" cy="95.7" r="2.8"/><circle cx="876.4" cy="208.9" r="3.2"/><circle cx="977.2" cy="124.2" r="3.2"/><circle cx="934.2" cy="139.9" r="2.8"/><circle cx="833.5" cy="77.6" r="1.3"/><circle cx="819.3" cy="173.8" r="1.1"/><circle cx="877.2" cy="166.1" r="1.8"/><circle cx="914.7" cy="155.9" r="3.2"/><circle cx="911.7" cy="117.3" r="1.5"/><circle cx="931" cy="138.7" r="2.1"/><circle cx="832.5" cy="108.2" r="1.8"/><circle cx="925.6" cy="171" r="3.8"/><circle cx="860" cy="136.8" r="1.5"/><circle cx="881.7" cy="207" r="1.8"/><circle cx="941.2" cy="197.1" r="1.1"/><circle cx="809.6" cy="128.3" r="3.2"/><circle cx="820.3" cy="102.8" r="3.2"/><circle cx="861.1" cy="123.5" r="1.5"/><circle cx="950.8" cy="68.5" r="1.3"/><circle cx="827.4" cy="88.5" r="3.8"/><circle cx="951.9" cy="153.5" r="1.8"/><circle cx="892.3" cy="159.4" r="0.9"/><circle cx="869.4" cy="89.7" r="1.1"/><circle cx="914.4" cy="215.3" r="1.8"/><circle cx="809.3" cy="159.1" r="1.5"/><circle cx="863.5" cy="131.1" r="1.1"/><circle cx="886.8" cy="91.7" r="1.3"/><circle cx="866.3" cy="177.3" r="0.9"/><circle cx="906.6" cy="150.5" r="1.3"/><circle cx="914.2" cy="115.9" r="3.8"/><circle cx="854.3" cy="104.6" r="3.8"/><circle cx="993.9" cy="101.8" r="2.4"/><circle cx="819.8" cy="93.6" r="2.1"/><circle cx="816" cy="102" r="1.5"/><circle cx="826.6" cy="174.1" r="2.8"/><circle cx="825.5" cy="105.8" r="2.4"/><circle cx="852" cy="115.6" r="1.3"/><circle cx="824.2" cy="89.5" r="3.2"/><circle cx="817.4" cy="106.4" r="1.5"/><circle cx="819.5" cy="78.2" r="1.5"/><circle cx="863.2" cy="140.4" r="2.8"/><circle cx="824.8" cy="79.7" r="2.8"/><circle cx="914.7" cy="104.6" r="2.1"/><circle cx="866.1" cy="73.3" r="1.8"/><circle cx="853.4" cy="88.1" r="3.2"/><circle cx="918.9" cy="87" r="1.1"/><circle cx="836.5" cy="167.1" r="1.3"/><circle cx="885" cy="91.6" r="2.8"/><circle cx="861.3" cy="112.5" r="2.1"/><circle cx="885.6" cy="145.8" r="3.8"/><circle cx="925.9" cy="192" r="2.1"/><circle cx="819.1" cy="89.9" r="1.3"/><circle cx="999.2" cy="185.5" r="1.3"/><circle cx="896.3" cy="153.2" r="2.8"/><circle cx="868.7" cy="195.7" r="0.9"/><circle cx="901.9" cy="125.1" r="1.5"/><circle cx="814.4" cy="108.4" r="2.8"/><circle cx="957" cy="95.5" r="3.2"/><circle cx="842.1" cy="137.8" r="3.2"/><circle cx="896.4" cy="150.7" r="2.8"/><circle cx="910.3" cy="155.8" r="1.5"/><circle cx="956.5" cy="191.5" r="1.5"/><circle cx="988.6" cy="81.7" r="1.3"/><circle cx="831.9" cy="147.4" r="0.9"/><circle cx="913.9" cy="203.1" r="1.5"/><circle cx="876.3" cy="115" r="2.8"/><circle cx="942.1" cy="161.4" r="1.3"/><circle cx="821.8" cy="70.3" r="1.5"/><circle cx="838.6" cy="191.5" r="1.5"/><circle cx="839.1" cy="115.6" r="3.8"/><circle cx="818.4" cy="83.1" r="1.1"/><circle cx="841.5" cy="189.5" r="1.5"/><circle cx="866" cy="81.2" r="2.4"/><circle cx="807" cy="112.7" r="1.8"/><circle cx="882.5" cy="79.6" r="1.8"/><circle cx="814.8" cy="105.1" r="1.8"/><circle cx="890.6" cy="143.5" r="1.5"/><circle cx="885.4" cy="150.5" r="2.8"/><circle cx="911.5" cy="123.7" r="0.9"/><circle cx="869.5" cy="142.2" r="1.5"/><circle cx="832.5" cy="103.9" r="2.8"/><circle cx="804" cy="200.7" r="2.1"/><circle cx="910.9" cy="92.5" r="1.8"/><circle cx="871.2" cy="181.4" r="3.8"/><circle cx="895.5" cy="148.5" r="2.4"/><circle cx="906.8" cy="217.3" r="2.8"/><circle cx="911.2" cy="152.4" r="2.8"/><circle cx="898.3" cy="124.7" r="1.3"/><circle cx="895.6" cy="208.5" r="3.8"/><circle cx="909.3" cy="73.1" r="1.8"/><circle cx="835.3" cy="155.5" r="2.1"/><circle cx="825.7" cy="135.3" r="3.2"/><circle cx="903.8" cy="95.5" r="2.4"/><circle cx="897.9" cy="133.7" r="0.9"/><circle cx="847.3" cy="104.9" r="3.2"/><circle cx="899.8" cy="174.2" r="1.5"/><circle cx="864.7" cy="70.9" r="1.5"/><circle cx="936.3" cy="83.1" r="1.1"/><circle cx="985.8" cy="107.8" r="1.5"/><circle cx="954.6" cy="183.9" r="1.5"/><circle cx="953.6" cy="88.6" r="1.5"/><circle cx="836" cy="180.4" r="0.9"/><circle cx="970" cy="153.6" r="3.8"/><circle cx="993.5" cy="180.4" r="1.8"/><circle cx="812.7" cy="178.3" r="2.8"/><circle cx="937.7" cy="172.7" r="3.2"/><circle cx="831" cy="134.8" r="3.8"/><circle cx="822.5" cy="68.6" r="1.5"/><circle cx="969.8" cy="157.2" r="0.9"/><circle cx="938.7" cy="174.6" r="1.5"/><circle cx="927" cy="121.5" r="1.1"/><circle cx="872.2" cy="217.4" r="2.4"/><circle cx="1004.9" cy="137.4" r="2.8"/><circle cx="924.6" cy="93.7" r="1.8"/><circle cx="875.2" cy="68.7" r="2.8"/><circle cx="901.7" cy="141.2" r="0.9"/><circle cx="959.9" cy="217.6" r="3.2"/><circle cx="882.1" cy="69.7" r="1.8"/><circle cx="812.5" cy="154" r="1.1"/><circle cx="943" cy="82.7" r="1.8"/><circle cx="873.9" cy="74.9" r="3.2"/><circle cx="840.5" cy="148.2" r="0.9"/><circle cx="908.4" cy="130.9" r="1.8"/><circle cx="901.1" cy="147.1" r="2.4"/><circle cx="874.1" cy="129.6" r="3.8"/><circle cx="878.1" cy="120.3" r="1.1"/><circle cx="832.7" cy="153.6" r="2.8"/><circle cx="896" cy="125.9" r="1.5"/><circle cx="812.3" cy="134.5" r="3.8"/><circle cx="938.5" cy="107.2" r="1.5"/><circle cx="894" cy="132.5" r="2.4"/><circle cx="852.4" cy="192.4" r="2.8"/><circle cx="921.1" cy="192.6" r="3.8"/><circle cx="902.7" cy="135.4" r="3.8"/><circle cx="855.6" cy="166.1" r="2.1"/><circle cx="919.8" cy="130.4" r="1.5"/><circle cx="817.7" cy="127.8" r="0.9"/><circle cx="820.7" cy="81.8" r="2.8"/><circle cx="900.9" cy="139.3" r="3.8"/><circle cx="926.7" cy="161.9" r="1.5"/><circle cx="856.2" cy="80.8" r="0.9"/><circle cx="833.1" cy="155.7" r="2.4"/><circle cx="910.2" cy="83.5" r="2.8"/><circle cx="928.2" cy="145.7" r="1.3"/><circle cx="848.1" cy="171.8" r="3.8"/><circle cx="842" cy="112.6" r="2.1"/><circle cx="810.6" cy="123.7" r="1.1"/><circle cx="835.3" cy="171.1" r="1.8"/><circle cx="979.7" cy="198.9" r="1.8"/><circle cx="849.4" cy="196.8" r="1.8"/><circle cx="910.6" cy="76.5" r="3.8"/><circle cx="854.3" cy="192.2" r="1.8"/><circle cx="877.8" cy="104.4" r="1.3"/><circle cx="943.8" cy="101.8" r="2.1"/><circle cx="905.4" cy="119.9" r="2.4"/><circle cx="825" cy="209.2" r="3.8"/><circle cx="880.7" cy="216.6" r="3.8"/><circle cx="893.3" cy="152.8" r="1.5"/><circle cx="826.2" cy="80.6" r="2.8"/><circle cx="803" cy="110.8" r="1.5"/><circle cx="933.2" cy="188.9" r="1.3"/><circle cx="921.2" cy="136.2" r="2.4"/><circle cx="805.9" cy="199" r="3.2"/><circle cx="901.1" cy="205.7" r="3.8"/><circle cx="811.7" cy="183.4" r="1.3"/><circle cx="859.9" cy="133.1" r="1.5"/><circle cx="956.7" cy="201.3" r="1.5"/><circle cx="862.6" cy="151.3" r="2.8"/><circle cx="904.7" cy="90" r="1.1"/><circle cx="875.8" cy="217.9" r="2.1"/><circle cx="894.7" cy="134.6" r="1.1"/><circle cx="917.9" cy="129.6" r="2.1"/><circle cx="935.4" cy="84.4" r="1.1"/><circle cx="926.3" cy="198.9" r="1.3"/><circle cx="804.7" cy="120.4" r="3.8"/><circle cx="809.6" cy="152.4" r="2.4"/><circle cx="842.8" cy="98.9" r="0.9"/><circle cx="819.2" cy="193" r="3.2"/><circle cx="803.2" cy="155" r="2.8"/><circle cx="841.4" cy="215.7" r="3.8"/><circle cx="853.4" cy="199.3" r="2.4"/><circle cx="871.6" cy="212.1" r="1.5"/><circle cx="959.6" cy="155.9" r="1.1"/><circle cx="820.7" cy="185.3" r="2.1"/><circle cx="856.5" cy="122.9" r="3.2"/><circle cx="867" cy="125.3" r="1.5"/><circle cx="824.3" cy="88.5" r="1.5"/><circle cx="907.2" cy="159.5" r="3.2"/><circle cx="835.6" cy="186.8" r="1.5"/><circle cx="825.6" cy="134.4" r="1.5"/><circle cx="804.4" cy="127.9" r="2.1"/><circle cx="836.9" cy="187.2" r="1.5"/><circle cx="941.2" cy="192.7" r="3.2"/><circle cx="816.5" cy="147.1" r="3.2"/><circle cx="941.7" cy="188.1" r="2.1"/><circle cx="921.2" cy="215.2" r="2.4"/><circle cx="956.1" cy="99.5" r="1.8"/><circle cx="902" cy="202.6" r="1.8"/><circle cx="818" cy="70.6" r="3.8"/><circle cx="855.6" cy="197.9" r="0.9"/><circle cx="888.6" cy="214.5" r="1.3"/><circle cx="881.1" cy="161.6" r="0.9"/><circle cx="835.2" cy="146.1" r="1.1"/><circle cx="841.4" cy="205.1" r="2.1"/><circle cx="859.2" cy="186.6" r="2.1"/><circle cx="887.9" cy="96.5" r="3.2"/><circle cx="856.1" cy="150.7" r="0.9"/><circle cx="902.2" cy="134.9" r="1.5"/><circle cx="887.3" cy="158.8" r="2.8"/><circle cx="932.1" cy="163.9" r="1.3"/><circle cx="849.1" cy="215.5" r="1.8"/><circle cx="874.7" cy="133.6" r="2.1"/><circle cx="854.7" cy="199.4" r="1.8"/><circle cx="887.5" cy="89.8" r="1.8"/><circle cx="916" cy="211.4" r="1.1"/><circle cx="873.7" cy="86.6" r="1.5"/><circle cx="821.8" cy="137.6" r="1.8"/><circle cx="802.6" cy="76.1" r="2.1"/><circle cx="849.7" cy="84.1" r="2.8"/><circle cx="849.7" cy="124.2" r="1.1"/><circle cx="885.8" cy="132.6" r="1.3"/><circle cx="901.8" cy="189.6" r="2.8"/><circle cx="812" cy="160.7" r="1.8"/><circle cx="904.6" cy="171.8" r="3.8"/><circle cx="806.7" cy="104.4" r="1.5"/><circle cx="905.5" cy="94.8" r="3.2"/><circle cx="1005.1" cy="197.1" r="0.9"/><circle cx="912.3" cy="97.6" r="2.8"/><circle cx="892.4" cy="90.2" r="2.4"/><circle cx="945.5" cy="194.6" r="1.5"/><circle cx="803.9" cy="190.8" r="1.1"/><circle cx="905.1" cy="95.9" r="1.5"/><circle cx="801.6" cy="124" r="3.8"/><circle cx="901.9" cy="128.3" r="3.2"/><circle cx="814.2" cy="194.4" r="1.5"/><circle cx="906" cy="90.2" r="1.5"/><circle cx="907.8" cy="175.9" r="2.4"/><circle cx="962.2" cy="151.2" r="2.1"/><circle cx="925.2" cy="182.1" r="2.8"/><circle cx="899.3" cy="179.6" r="3.2"/><circle cx="862.6" cy="177.9" r="2.1"/><circle cx="814" cy="103.2" r="1.5"/><circle cx="896.5" cy="70.6" r="1.3"/><circle cx="908.7" cy="95.9" r="1.5"/><circle cx="859.5" cy="187" r="1.8"/><circle cx="931.7" cy="153.2" r="1.8"/><circle cx="895.5" cy="193.3" r="1.5"/><circle cx="942.8" cy="151.4" r="1.1"/><circle cx="814.4" cy="111.4" r="1.3"/><circle cx="913.7" cy="159.7" r="1.5"/><circle cx="835.7" cy="204.2" r="1.3"/><circle cx="866" cy="115.4" r="1.8"/><circle cx="919" cy="203.8" r="2.4"/><circle cx="892.9" cy="135.4" r="1.8"/><circle cx="843.1" cy="108.5" r="2.4"/><circle cx="888.8" cy="110.4" r="3.2"/><circle cx="898.6" cy="211.6" r="1.1"/><circle cx="963.8" cy="110.2" r="1.3"/><circle cx="814.2" cy="113" r="3.2"/><circle cx="908.3" cy="161.5" r="2.4"/><circle cx="869" cy="179.6" r="1.3"/><circle cx="893.6" cy="183.8" r="2.8"/><circle cx="921.3" cy="175.7" r="1.8"/><circle cx="949.6" cy="153.8" r="1.3"/><circle cx="908" cy="181.1" r="1.8"/><circle cx="896.7" cy="99" r="3.2"/><circle cx="828" cy="158.4" r="2.8"/><circle cx="897.4" cy="138.4" r="2.8"/><circle cx="886.6" cy="181" r="1.8"/><circle cx="805.6" cy="147.3" r="1.8"/><circle cx="867.6" cy="170.8" r="3.8"/><circle cx="832.2" cy="126.2" r="1.8"/><circle cx="862.7" cy="104.7" r="3.2"/><circle cx="819.3" cy="188.2" r="3.8"/><circle cx="836.5" cy="207.4" r="1.1"/><circle cx="946" cy="195" r="2.1"/></g>
<rect x="972" y="214.5" width="32" height="2" fill="#111"/>
</g>
<g clip-path="url(#chn)"><rect x="800" y="220" width="207" height="152" fill="#b878c4"/>
<path d="M885.5 310.1h0M814.3 275.4h0M867.9 314.6h0M801.5 334.6h0M815.4 284.3h0M900.4 348h0M930.9 242.4h0M937.9 255.7h0M927.7 282.8h0M997.9 288.3h0M856.3 267.1h0M998.2 273h0M850.3 301.3h0M938.7 363h0M816.5 270.1h0M949.7 295.3h0M943.1 322.5h0M819.1 227.6h0M836.7 266.2h0M837.7 263.6h0M823.7 224h0M908.6 335.2h0M833 234.3h0M950.7 232.1h0M829 294.6h0M861.5 339.3h0M904.8 299.5h0M877.4 224.2h0M969.9 279.2h0M971.2 236.1h0M889.5 302h0M832 231.3h0M993.6 362.7h0M1007 302.7h0M951.7 311.4h0M898.8 246.1h0M932.9 287.4h0M940.5 226.4h0M860.9 237.1h0M957.9 292.8h0M859.2 338.8h0M907.8 264.1h0M881.2 220.3h0M812.5 225.6h0M999.1 353.5h0M912.7 363h0M911.7 323.6h0M821.7 286.3h0M926.5 282.2h0M935.1 272.2h0M935.5 251.6h0M901.3 285.1h0M908.9 228.4h0M850.2 328.8h0M834.4 292.4h0M1005.9 312.7h0M951.9 337.2h0M1000.4 278.9h0M881.9 334.7h0M805.3 291.2h0M856.2 304.6h0M951.7 350.9h0M904.9 325.1h0M816.4 320.3h0M992.4 313.5h0M901.5 297.7h0M885.2 247.2h0M840.8 340.8h0M906.8 225.8h0M927.3 346.3h0M934.8 247.4h0M997 247.7h0M905.2 289.9h0M834.3 260.6h0M838.6 245.5h0M808.5 318.1h0M937.9 258.2h0M997 284.3h0M894.5 361h0M934.4 290.8h0M954.6 332.5h0M863.8 230.6h0M951.6 333.7h0M924.3 237.8h0M954.1 246.6h0M965.1 314.5h0M931.8 231.4h0M875.5 331.4h0M823 225.9h0M885.6 349.6h0M930.4 255h0M816.9 347.2h0M974.4 326.6h0M842.8 334.1h0M802 246.2h0M866.3 365.4h0M807.4 244.4h0M951.9 335.9h0M855.5 231.6h0M976.8 367.5h0M988.1 306h0M817.6 332.5h0M934.4 346.4h0M957.2 296.4h0M1002.2 290.2h0M892.3 316.9h0M963.2 309.3h0M994.8 261.3h0M985.6 353.5h0M871.7 224.3h0M924.5 314.2h0M998.7 304.8h0M949.9 335.4h0M834.9 321.4h0M890.8 252.9h0M856.9 275.1h0M952.1 303.9h0M866.4 228.4h0M963 334.6h0M973.1 339.5h0M813.1 262.7h0M895.8 265.1h0M970.5 251.1h0M803 288.6h0M810.5 224.3h0M925.5 311.9h0M912.2 230.7h0M916.1 299.5h0M863 253.9h0M832.3 293.4h0M875.9 309h0M939.5 262h0M925.7 259.3h0M954.3 251h0M923 331.9h0M965.5 300.7h0M988.8 369.9h0M964 274.5h0M855.2 315.2h0M826.6 246.9h0M819.6 318.9h0M880.2 360.1h0M966.9 300.8h0M870.5 268.7h0M810.8 236.9h0M980.5 265.3h0M801.7 369h0M878.7 337.8h0M893.8 367.2h0M816.7 291.9h0M934 223.7h0M989.9 271.4h0M940.3 232h0M816.2 233.1h0M963.3 363.2h0M989.6 300.7h0M818.9 338.1h0M905 338.9h0M931.3 306.1h0M835.4 241.7h0M816.9 285.7h0M859.8 365h0M810.1 335.4h0M824.8 235.7h0M991 253.4h0M923.2 308.9h0M882.6 273.2h0M829.1 325.7h0M877 311.3h0M969.5 231.5h0M887.6 273.6h0M993 314.4h0M840.8 289.7h0M803 298.2h0M814.4 241h0M905.2 301.8h0M844.1 308.7h0M864.5 326.8h0M810.8 347.9h0M892.9 246.3h0M860.2 315.4h0M819.7 358.7h0M845.8 282.4h0M815 289.3h0M999 248.4h0M836.9 303.1h0M932.5 241.7h0M845.4 311.8h0M849.6 224.2h0M943.8 352h0M966.9 350h0M844 267.1h0M924.2 313.6h0M929.6 304.1h0M848.4 256.2h0M817.5 228.7h0M920.3 233.1h0M981.5 365.8h0M830.3 366.8h0M929.2 220.9h0M879.3 274.9h0M864 230.2h0M850.4 222.6h0M892.8 293.2h0M848 360.5h0M983.4 295.9h0M965.9 273.7h0M955.8 338.2h0M872.9 332.5h0M872.7 246.3h0M886.7 237.3h0M948.6 258.3h0M903 342.9h0M923.9 358.1h0M950.2 325.3h0M953.3 325h0M990.2 310.4h0M936.8 303.6h0M910.5 363.1h0M862.1 248.9h0M903.7 267.4h0M947.8 316.7h0M800.4 251.7h0M928.2 280.2h0M940.8 291.4h0M823.1 324.8h0M1001.5 234h0M927.5 313.2h0M926.8 296.8h0M904.9 370.4h0M980.5 286.1h0M968.3 321.5h0M966.7 371.7h0M814.8 252.2h0M848 344.4h0M991.3 254.4h0M900.5 355.2h0M949.5 309.2h0M984.9 360.4h0M818.8 366.8h0M860.3 313.4h0M955.9 264.7h0M863.4 357.6h0M963.8 368.4h0M819.4 315.2h0M953.1 365.4h0M950.2 262.6h0M820.9 246.3h0M853.6 306.7h0M866.8 242.6h0M817.9 324.2h0M968.7 238.8h0M906.3 369h0M874.7 301.3h0M967.8 223.6h0M980.7 337.7h0M952.4 272.1h0M901.8 363h0M812.7 232.5h0M932.5 364.8h0M830.9 248.7h0M895.2 339.9h0M916.7 320.3h0M810.7 250.3h0M921.2 330.1h0M818.9 233.8h0M865.1 283h0M869 245.9h0M815.3 318.1h0M997.4 316.4h0M990.3 239.3h0M927.5 275.5h0M975.3 311h0M927.1 359h0M997.8 240.9h0M890.6 233h0M916 254.1h0M944.6 274h0M801.6 355h0M826.2 260.8h0M907.7 228.7h0M959.8 328.9h0M824.3 314.4h0M826.6 300.6h0M819.3 262.8h0M893.2 302.8h0M935.4 360.9h0M869.4 273.2h0M843.3 332.1h0M876 252.2h0M839.8 283.9h0M973.1 286.6h0M968.4 291.7h0M920.4 258.8h0M884.7 330.1h0M817.4 289h0M852.3 264.2h0M870 250.1h0M919.3 226.2h0M849.3 260.1h0M837.5 346.8h0M942.1 354.9h0M827.5 248.5h0M864.9 297.3h0M972.6 346.9h0M978 222.6h0M805.7 271.2h0M888.7 221h0M872.5 239.4h0M980.9 252h0M866 246.6h0M975.6 237.1h0M891 253.5h0M851 371.2h0M947.9 331.9h0M873.5 368.6h0M999.8 316.6h0M847 227.4h0M912.7 293.9h0M978.6 371.7h0M969.1 256.8h0M1003.8 313.1h0M807.9 251.6h0M998.4 340.9h0M953.3 320.6h0M804.8 362.4h0M861.7 337.3h0M911.7 294.2h0M908.9 359.6h0M972.9 280h0M976.5 246.6h0M872.3 268.8h0M809.7 280.9h0M800.4 367.2h0M969.3 292.8h0M812.8 260h0M959.9 264.6h0M819.6 284.9h0M919.7 239.2h0M878 304.6h0M954.2 281.9h0M1005.2 258.9h0M955.3 232h0M989.4 302.8h0M835.8 343.9h0M982.8 239.7h0M982.7 365.8h0M873.6 340.2h0M949.1 306.2h0M880.2 267.6h0M968.9 339h0M995.7 230.4h0M918 327.3h0M845 223.2h0M985 338.7h0M947.6 270.6h0M890.7 343.5h0M819.4 329.9h0M946.4 290.4h0M997.2 316h0M983 249.5h0M884.5 264.4h0M903.2 334.6h0M1005.2 358.4h0M976.5 368.3h0M951.9 332h0M818.8 281.9h0M901.3 236h0M986.6 276.7h0M850.4 232.4h0M911.1 271.2h0M996.3 316.4h0M889 243.9h0M810.1 324.6h0M926.7 295.2h0M904.8 282.4h0M987.6 228.4h0M847.9 340.7h0M865.3 270.4h0M889.5 265h0M957.2 234.5h0M915 328.6h0M871.1 330.9h0M873.5 314.6h0M821.2 268.3h0M916.1 312.9h0M896 225.7h0M911.6 351.5h0M856.2 251.7h0M928.5 255.3h0M821.1 231.3h0M929.4 354h0M959.7 309.6h0M981.1 349h0M855.6 277.9h0M1001.6 363.3h0M932.7 315.8h0M870.9 233.8h0M868.2 255.1h0M930.8 319.6h0M930.4 358.5h0M800.1 251.3h0M820.7 276.2h0M989.1 291.1h0M965.4 247.8h0M873.4 341.4h0M860.7 331h0M924.1 319.6h0M806 274.7h0M1003.8 277.1h0M857.7 371.9h0M922.1 325.8h0M900.1 314.7h0M880.7 261.8h0M860.3 254.6h0M943.7 233.3h0M824.2 297.1h0M1004.9 338.8h0M938.4 332.7h0M842.7 297.6h0M803.6 299.1h0M806.7 237.6h0M825 272.5h0M898.4 253.2h0M816 238.5h0M996.6 369.7h0M989.1 240.8h0M841.8 353.6h0M803.2 242.6h0M934.3 366.6h0M991.6 348.4h0M865.7 331.5h0M993.9 356.8h0M1000.9 335.8h0M962.9 326.7h0M887.5 307.1h0M992.4 306.9h0M805.3 288h0M980.3 327.8h0M899.9 362h0M956.5 254.1h0M945.2 352.2h0M801.4 362.4h0M889.4 348.9h0M802.6 268.6h0M862.9 253.1h0M936.1 341h0M934.5 358.3h0M823.6 263.6h0M883.1 340.5h0M952.8 370.6h0M980.6 300.6h0M953.1 344.4h0M907.7 323.3h0M976.7 346.4h0M832.6 224.6h0M946.4 344h0M839.2 349.3h0M956.7 245h0M832.1 320h0M929 244.3h0M987.9 252.8h0M972.5 363.7h0M825 326.5h0M913.8 359.1h0M891.9 282.6h0M848.3 348.7h0M866.3 358.5h0M807.1 355.1h0M803.9 330h0M996.6 268.9h0M922.3 282.9h0M813.5 347.5h0M902.2 341.9h0M807.4 244.8h0M847.6 344.1h0M804.8 223.4h0M878.2 278.8h0M975.2 350.5h0M849.6 332.8h0M874 336.5h0M936.5 230.7h0M897.2 284.4h0M895.1 304.4h0M943 281.1h0M907.5 345.8h0M940.9 249.4h0M828.5 261.3h0M996.9 278.9h0M982 366.6h0M944.7 276.1h0M954.2 296.3h0M997.2 296.2h0M931.7 324.1h0M930.4 247.1h0M917.6 285.1h0M940.8 337.7h0M842.7 276.2h0M853 366.1h0M901.5 288.4h0M999.7 339h0M977.8 296.5h0M826.2 276.6h0M817.4 280.8h0M893.3 292.9h0M1002.5 301h0M834.3 247.2h0M940.7 298.4h0M884.8 295h0M884.8 323h0M922.7 227.4h0M902.6 258h0M920.6 290.4h0M957.5 366.6h0M953.6 313.9h0M905.1 237.2h0M951.2 249.9h0M878.6 308.8h0M854.8 351.2h0M913.1 367.9h0M804.6 290.6h0M866.8 307.4h0M934.2 309.8h0M994.5 287h0M876.7 334h0M914.7 260.9h0M990.8 254.3h0M815.5 301.8h0M988.5 349.9h0M969 312.8h0M905.8 264.2h0M834.1 287.3h0M972.5 304.2h0M1003.2 341.6h0M912.5 309.8h0M886.5 357.9h0M972.4 247.1h0M986.7 322.9h0M874.6 333.2h0M887.2 325.5h0M904.5 315.9h0M990.6 355.4h0M899.4 278.9h0M948 321.4h0M819.7 297.4h0M857.8 318.5h0M834.6 265.3h0M852.2 262.6h0M917.1 351.2h0M932.7 318.3h0M957.6 279.4h0M888.6 319h0M842.8 334.5h0M990.7 353.9h0M813.5 359.2h0M846.4 239.8h0M927.7 272.7h0M837.1 312.4h0M911.1 301.6h0M905.9 313.7h0M960.9 329.6h0M946.1 345.8h0M897.3 317.2h0M823.3 232.4h0M893.7 323.5h0M848.6 365.8h0M859.9 294.7h0M897 367.6h0M831.8 258.2h0M931.3 275.1h0M871 240h0M989.8 287.2h0M919.8 257.3h0M993.7 236.1h0M944.4 230h0M910 269.4h0M996.8 286.7h0M973.7 224.5h0M848.8 369.9h0M876.5 225.8h0M853.7 275.1h0M909.2 278h0M863.1 292.1h0M897.1 247.8h0M907.2 307.7h0M918.7 332.5h0M893.8 252.4h0M995.2 237.9h0M862.9 283.4h0M885.4 252h0M978.2 266h0M913.2 312.6h0M827 285.5h0M827.5 302.4h0M951.2 349.8h0M994.5 237.2h0M895 321.3h0M877.4 363.5h0M902.4 352.2h0M813.9 279.1h0M944.2 347.3h0M902.5 350.5h0M957.3 282.8h0M946.7 298.5h0M823.3 356.7h0M974.8 355.6h0M848.7 338.1h0M808 296h0M862.6 296.8h0M879.3 303.6h0M889.8 335.4h0M936.2 262.2h0M841 256.1h0M867.6 284.6h0M904.4 336.3h0M1003.3 259.7h0M861.1 298.8h0M801.4 316.5h0M807.8 310.3h0M921.5 278.2h0M1005.1 267.5h0M803.6 236.2h0M849.8 332.1h0M953.1 273.8h0M982.8 244.8h0M847.3 306.8h0M910.3 340.1h0M863.9 357.1h0M930.8 324.8h0M918.9 252.2h0M916.6 363.3h0M803.1 270.2h0M863.8 258.7h0M959.7 318.5h0M827.8 327.1h0M981.8 229.9h0M803.9 311.4h0M982.4 303.6h0M904.7 281.8h0M917.3 358.7h0M923.7 333.4h0M896.4 354.3h0M959.2 297.3h0M862.5 265.7h0M1002.7 317.2h0M814.7 299.1h0M888.5 311h0M858.7 357.5h0M899.9 345.9h0M853.8 354.9h0M913.1 302.9h0M890 363.2h0M916.5 301.2h0M875.2 289.5h0M855.9 287.6h0M854.6 231.7h0M875.6 224.1h0M937.5 234.4h0M987.4 268.2h0M856.2 303.5h0M860.4 330h0M862.9 360h0M808.6 228.6h0M982.7 324.6h0M854.5 317.7h0M874.6 297.3h0M856.9 302.1h0M934.3 348.6h0M853 306.6h0M917.4 352.9h0M899.4 351.4h0M991.4 282.1h0M884 367.3h0M920 300.7h0M961 311.9h0M907.3 320h0M854.2 277.4h0M801.8 329.5h0M970.5 331.9h0M1001.1 334.9h0M822.2 268.9h0M990.8 236.3h0M981.7 341.1h0M830.5 251.8h0M951.5 319.3h0M806.2 300.5h0M839 350.5h0M910.9 222h0M881.9 221.6h0M987.5 354.9h0M948.6 220.4h0M994.2 260.1h0M934.7 336.1h0M915.7 237.6h0M850.8 331.1h0M825.6 277.2h0M992.9 282.2h0M831.6 318.8h0M872.3 340h0M875.6 346h0M970.9 247.1h0M913.2 287.7h0M825.4 358.7h0M870.8 313h0M812.5 364.5h0M1002.9 324h0M827 320.8h0M897 291.9h0M845.2 243.1h0M974.9 311.8h0M954.6 332.3h0M883.1 303.6h0M862.7 319.6h0M889.2 339.2h0M860.4 278h0M817 225.9h0M844.4 222.6h0M887.8 277.7h0M982.6 226.5h0M1003.9 234.4h0M971.9 274.4h0M850.9 312.8h0M873.7 222.5h0M827 323.2h0M949 371h0M852.4 336.9h0M870.9 298.4h0M857.6 282.6h0M989.2 258.3h0M887.8 358.1h0M893.5 343.6h0M910.6 273.2h0M949.1 319.2h0M878.8 371.7h0M819 349.2h0M949.2 327.9h0M898.1 333.8h0M809.1 321.9h0M979.2 282h0M953.3 325.7h0M903.9 337.1h0M900.3 238.3h0M908.2 334.5h0M834 290.2h0M972.8 222h0M978.7 273.4h0M875.2 326.2h0M918.7 263.7h0M832.2 283.9h0M984.2 371.2h0M948.6 325.8h0M942.3 358.9h0M833.3 242h0M974.6 223h0M908.2 281.2h0M990.1 315h0M846.6 229.8h0M897.8 303.9h0M896.7 308.3h0M812.8 274.6h0M971.8 263.9h0M839 247.1h0M994.3 352.1h0M883.9 270.1h0M876.2 354.1h0M988.1 364.8h0M977.3 323.4h0M824.2 363.2h0M834.6 332.4h0M873.9 225.6h0M936.2 258.7h0M983.8 247.5h0M938.2 286.4h0M809.8 262.8h0M864 337.8h0M959.7 362.2h0M834.3 252.1h0M877.3 268.7h0M842.7 334.4h0M801.1 301.6h0M827.5 267.6h0M860.4 290.3h0M994.4 331.9h0M888.9 370.4h0M852.5 248.6h0M931.7 337h0M949.9 297.1h0M949.6 270.6h0M996.3 332.6h0M965.8 302.1h0M990.1 291.4h0M996.9 287.4h0M996.8 268.3h0M906.8 305.2h0M913.8 348.2h0M975.5 247.6h0M946.1 299.9h0M883.7 237.6h0M988.3 370.3h0M949.9 306.8h0M817.1 268.8h0M868.1 233.2h0M877.6 275.7h0M885.5 230.5h0M827.3 364.6h0M914.8 255.4h0M893 275.2h0M900.5 246.9h0M954.1 361.8h0M930.1 365.9h0M968.7 301.7h0M908.1 325h0M876 231.6h0M893.6 344.2h0M939.7 226.1h0M971 227.1h0M907.4 247h0M862.1 255.1h0M927.3 328h0M983.1 296.9h0M812.5 225.8h0M817.6 239.5h0M836.4 265h0M831.1 349.3h0M874.4 292.9h0M962.4 247.4h0M903.7 226.3h0M900.4 361.1h0M917.3 265.9h0M931.1 296.3h0M903 316.7h0M947.2 355.3h0M1002.2 366.1h0M967.8 323.8h0M965.6 249.5h0M840.9 348.1h0M890.2 223.1h0M954.2 240.4h0M856.4 360h0M839.2 345.7h0M855.2 340.7h0M878.9 305.4h0M941.5 329.1h0M842.9 322h0M834.4 257.2h0M961.1 243.2h0M885.7 237.3h0M920.6 246.7h0M874.7 368.8h0M892.2 296.1h0M806.7 259.9h0M821.9 314.2h0M831.9 246.9h0M829.6 332.6h0M935 264.4h0M865.1 262h0M913.4 306.6h0M827.5 243.3h0M929.7 262.5h0M937.8 246.7h0M820.3 230.6h0M977.5 301.6h0M804 274.1h0M930.7 253.2h0M972.2 220.8h0M908.8 307.3h0M839 370h0M913 239.9h0M956.3 224.3h0M941.2 346.9h0M932.2 223.5h0M813.2 346.2h0M975.3 261h0M992.1 343.7h0M822.2 354.5h0M802.8 269.3h0M843.3 251.9h0M903.5 227h0M999.9 252h0M941.2 273.5h0M989.9 305.2h0M902.7 335.6h0M916.4 288.5h0M835.9 341.6h0M930.1 290.5h0M1004.6 290.6h0M953.5 244.9h0M874.4 315.9h0M853.5 371.4h0M1005 318.1h0M948.8 261.2h0M959.8 350.8h0M895 306h0M935.5 257.9h0M809.5 247.7h0M908.7 316.8h0M977.2 260.7h0M834.7 283.8h0M833.9 259.4h0M901.2 324.1h0" stroke="#6e3a93" stroke-width="2.8" stroke-linecap="round"/>
<path d="M821.8 246.4h0M897.5 299.2h0M836.4 320.3h0M916.9 366.4h0M997.5 315.4h0M818.3 299.4h0M856.2 262.4h0M815.7 325.1h0M935.9 261.8h0M847.8 370.9h0M914.4 326h0M850.9 363.2h0M948.8 297.4h0M823.2 286.3h0M805.1 251.9h0M961.8 236.9h0M842.5 271.9h0M1000.3 245h0M886.2 300.9h0M809.4 305.6h0M814.5 268.6h0M866.7 371.6h0M890.7 265.5h0M868.2 265.6h0M833.5 268h0M943.2 273.6h0M847.5 225.8h0M963 265.3h0M856 348.9h0M1000.6 303.7h0M814.4 347.1h0M957.9 222.6h0M859.6 346.9h0M898.5 246.8h0M1003.9 252.3h0M837.4 325.6h0M1004.3 327.5h0M804.1 223.1h0M844.4 321.1h0M998.6 237.6h0M938.4 322.6h0M806.1 357.2h0M864.9 276.9h0M964 302.6h0M929.6 228.8h0M928.8 242.7h0M970.5 337.7h0M934.3 318h0M1002.1 346h0M948.2 274.7h0M802.6 372h0M813.3 226.6h0M923.1 370.8h0M892.2 251.8h0M804 244.5h0M875 273h0M855.7 353.6h0M1006.9 368.7h0M840.6 326h0M833.9 290.3h0M903.6 267.9h0M962.3 253.4h0M966.2 336.4h0M930.2 231.6h0M825.1 342.5h0M998.4 256.4h0M938 335.2h0M979.9 240.7h0M842.4 229.5h0M943.5 274.4h0M944.5 245h0M932.1 261.4h0M890.8 309.7h0M996.8 249.1h0M962.1 227.6h0M836.6 325.9h0M817.2 347.8h0M983.9 253.3h0M946.3 318.6h0M1002.4 295.3h0M876.2 353.5h0M855.3 358.8h0M875 281.9h0M973 335h0M838.1 320.1h0M1004.6 280.8h0M915.5 319.7h0M949 279.4h0M878.8 246.9h0M929.6 270.2h0M962.8 226.7h0M957.2 244.4h0M979.8 345.1h0M873.7 235.1h0M843.6 251.6h0M1002.6 342.6h0M804.9 221.3h0M915.7 289.1h0M914.3 347.9h0M973.4 240.5h0M1000.5 289.8h0M897.3 243h0M849.4 248.3h0M858.1 302.7h0M853.4 260.9h0M822.9 230.5h0M988.6 286.7h0M893.6 239.9h0M1003.6 221.9h0M962.4 226.6h0M859.7 293.9h0M894.3 327h0M918 326.7h0M813.8 264.6h0M856.8 293.2h0M886.7 236.4h0M826.6 229.2h0M811.4 318.4h0M999.5 310.2h0M840.9 312.8h0M902.5 263h0M966.4 260h0M863.3 226.9h0M850.1 360.2h0M899.2 330.8h0M901.4 260.3h0M873.4 297.4h0M863.9 298.3h0M805.2 278.9h0M823.9 292.7h0M909.8 358.5h0M980.6 355.8h0M892.1 264.8h0M975.4 238.1h0M878.6 229.4h0M968.2 333.3h0M991.7 248.2h0M973.2 326h0M912.8 287.4h0M966.7 291.9h0M995.8 360.6h0M876 301.9h0M888.9 357h0M976.8 280.9h0M876.1 268.2h0M937.5 321.1h0M928.5 299.2h0M939 220.9h0M899 325.4h0M951 343.9h0M846.7 360.8h0M1000.6 314.3h0M969.9 249.9h0M838.9 253.1h0M910.5 355.8h0M872.5 361.9h0M971.9 226.7h0M806.1 371.7h0M903.5 338.4h0M978.3 266.2h0M803.1 351.7h0M992.8 280.7h0M936.8 221.8h0M994.5 312.9h0M1002.4 324.7h0M874.4 247.3h0M906.5 351.4h0M910.6 301.9h0M845.5 242.4h0M849.3 266.2h0M897.7 363.2h0M856.2 254.7h0M953.3 362.6h0M848.8 265.4h0M885.8 229.2h0M819.2 303.8h0M850.9 255.5h0M966.7 293.2h0M916.8 319.7h0M953.7 360h0M1000.8 237h0M953.3 223.8h0M824.7 258.9h0M826.8 243.2h0M848.3 343.5h0M962.8 296.2h0M913.8 333.7h0M922.3 231.7h0M895.2 250.8h0M897.4 368.6h0M840.8 269h0M920.4 320.2h0M863.3 280h0M903.2 361.3h0M810.3 355.3h0M915.3 359.3h0M880.8 318.9h0M804.8 253.8h0M934.3 270.1h0M907.2 369.4h0M916 321.7h0M916.8 258.3h0M1004.1 277.8h0M804.9 284.6h0M885.8 251.3h0M888.5 231h0M994.8 299.2h0M859.3 303.3h0M922.4 279.2h0M967.5 289.2h0M991 336.5h0M943.4 244.7h0M945.7 368.9h0M968.3 226.7h0M858.7 220.3h0M937.7 354.7h0M942.1 320.9h0M912.2 331h0M913.2 341.5h0M832.3 291.5h0M930.2 230.4h0M916.4 359.1h0M818.1 331.6h0M948.8 355.2h0M1000 316.9h0M923.7 292.1h0M891.1 311.5h0M869.9 341.4h0M913.1 286.1h0M906.6 327.8h0M973.1 343.9h0M946.8 257.1h0M800.1 238.3h0M817.4 297.1h0M816 291.9h0M956.5 286.9h0M980.8 274.7h0M900.3 260.3h0M827.1 307.8h0M825.7 242.5h0M860.1 330.7h0M1002.6 253h0M849.8 367.4h0M920.2 341.1h0M1006.8 320.3h0M851.2 369.2h0M984.7 220.4h0M1000.4 318.6h0M848 292.1h0M862.4 337.8h0M882.8 233h0M984.1 270.3h0M836 326.3h0M827 312h0M892 238.5h0M997.6 325.4h0M811.6 356.7h0M933.5 345.1h0M959.8 245.9h0M865 246.2h0M967.9 364h0M918.7 321.2h0M1002.1 299.2h0M891.2 262.7h0M1004.1 238.6h0M839.4 349.4h0M805.6 250.1h0M909.5 256h0M879.6 223.9h0M938.4 231.3h0M859.9 235.5h0M944 253h0M914.8 225.1h0M917.2 272h0M988 249.4h0M861.3 352h0M812.6 294.6h0M900.5 264.2h0M834.8 295.8h0M806.1 221.4h0M859.2 277.4h0M853.4 328h0M886 312.5h0M922.1 328h0M992.9 305.3h0M943.7 304.6h0M815.8 346.8h0M909.5 226h0M953.8 296.2h0M996.1 283.4h0M897.5 356.2h0M992.1 337.1h0M892 285.6h0M952.3 356.4h0M894.8 326.8h0M916.2 303.8h0M844.3 262.8h0M852.8 369.6h0M805.3 253.3h0M842.1 344h0M939 266.9h0M822.1 322.3h0M954.5 317.5h0M948 310.9h0M806.1 340.9h0M980.3 245.4h0M879.3 369.5h0M1002.1 344.2h0M974.5 243.9h0M981.2 345h0M841.4 358.6h0M968.4 359.2h0M985.9 234.1h0M835.1 342.5h0M835.8 272.9h0M963.3 346.2h0M882.7 282.7h0M944.1 371.3h0M930 272.7h0M849.7 248.5h0M926.6 329.4h0M846 333.1h0M925.1 307h0M908.9 282.5h0M803.1 301.7h0M937.1 354.9h0M1001.4 318.4h0M833.2 350.6h0M885.7 366.4h0M995.5 233.7h0M810.8 227.5h0M939.8 294.8h0M929.1 269.4h0M922.8 234.4h0M842.7 331.5h0M847.4 237.3h0M934.4 369.5h0M993.7 354h0M947.7 221.2h0M832.3 308.5h0M910.2 347.2h0M806.3 315.1h0M814.9 334.8h0M818.5 294h0M959.8 369.7h0M964.9 338.9h0M861.7 317.1h0M912.1 295.2h0M923.3 287.6h0M878.4 336h0M933.9 368.2h0M991.9 341.7h0M822.8 296.5h0M902.9 340.1h0M988.3 249.9h0M802.2 352.2h0M1002 271.4h0M924.4 278.6h0M879.5 316.8h0M943.2 356.9h0M875.5 295.1h0M893.3 369.9h0M907.1 359.5h0M1000.5 224.4h0M959.7 237h0M903 315.8h0M816.3 307.9h0M943.2 272.9h0M911.6 280.2h0M831.5 258.8h0M994.8 316.8h0M912 342.4h0M973.2 334.9h0M882.9 302.1h0M866.7 229.8h0M991.4 232.2h0M877 349.5h0M864.2 358.5h0M804.4 242.8h0M892.6 316.6h0M964.2 356.2h0M969.6 248.2h0M1005.3 227h0M896.6 273h0M804.9 250.9h0M1005.7 367.5h0M871.3 372h0M952.9 225h0M924.7 251.1h0M857.6 329.1h0M842.9 273.5h0M801.2 268.8h0M862.8 237.3h0M820.1 281.8h0M816.9 362.3h0M853.4 275.8h0M813.2 343.5h0M839.2 231.6h0M876.8 358.7h0M990 290.9h0M920.2 231.1h0M986.9 334.6h0M851 347.7h0M833.1 293.4h0M859.3 306.3h0M851.9 302.6h0M852.9 222.4h0M823.5 339.9h0M892.6 297.9h0M936.6 258.8h0M839 282h0M955.6 331.3h0M895.2 312.3h0M852.8 364.1h0M932.5 342.2h0M876.4 308h0M947 300.9h0M957.5 261.4h0M962.4 268.4h0M906.7 241.8h0M883.6 354.7h0M806.3 248.6h0M912.3 320h0M942.2 324.4h0M949 311.6h0M831.8 302.7h0M858.1 220.8h0M905 368.2h0M896.6 335.6h0M929 225.7h0M913.6 370.2h0M935.3 265.2h0M987.3 321.7h0M993.1 349h0M920.8 291.1h0M909.8 268.6h0M976.6 239.4h0M1004.8 271.6h0M891.1 312.5h0M864.4 312.4h0M811.3 352.2h0M821.8 352.7h0M977.7 339.6h0M955.4 248.4h0M917.6 229.4h0M954.3 339.8h0M843.6 287.3h0M818.8 321.5h0M944.5 229.1h0M926.8 353.6h0" stroke="#dcc3e2" stroke-width="1.6" stroke-linecap="round"/>
<rect x="972" y="366" width="32" height="2" fill="#111"/>
</g>
<path d="M799.3 67.3H1007.5V372.2H799.3ZM799.3 219.5H1007.5" fill="none" stroke="#c00000" stroke-width="2.8"/>
<text x="995.5" y="93" font-size="27.5" text-anchor="end" fill="#ffff00">WD</text>
<text x="997.5" y="356" font-size="27.5" text-anchor="end" fill="#ffff00">NC</text>
<text x="-1.4" y="496.7" font-size="44" class="b">D</text>
<text x="336.5" y="538" font-size="29" text-anchor="middle">CD8<tspan font-size="17" dy="-11">+</tspan><tspan dy="11"> TIL</tspan></text>
<path d="M46.4 554V981.3H612.7" fill="none" stroke="#333" stroke-width="1"/>
<path d="M138.3 981.3L138.3 984.5" stroke="#333" stroke-width="1"/>
<text x="138.3" y="992" font-size="7" text-anchor="middle" fill="#444">-5</text>
<path d="M290 981.3L290 984.5" stroke="#333" stroke-width="1"/>
<text x="290" y="992" font-size="7" text-anchor="middle" fill="#444">0</text>
<path d="M442.6 981.3L442.6 984.5" stroke="#333" stroke-width="1"/>
<text x="442.6" y="992" font-size="7" text-anchor="middle" fill="#444">5</text>
<path d="M595 981.3L595 984.5" stroke="#333" stroke-width="1"/>
<text x="595" y="992" font-size="7" text-anchor="middle" fill="#444">10</text>
<path d="M43.2 563.3L46.4 563.3" stroke="#333" stroke-width="1"/>
<text x="41.5" y="565.8" font-size="7" text-anchor="end" fill="#444">5</text>
<path d="M43.2 717.2L46.4 717.2" stroke="#333" stroke-width="1"/>
<text x="41.5" y="719.7" font-size="7" text-anchor="end" fill="#444">0</text>
<path d="M43.2 871.6L46.4 871.6" stroke="#333" stroke-width="1"/>
<text x="41.5" y="874.1" font-size="7" text-anchor="end" fill="#444">-5</text>
<text x="334" y="999.5" font-size="7.5" text-anchor="middle" fill="#333">UMAP_1</text>
<text transform="translate(33.5 767) rotate(-90)" text-anchor="middle" font-size="7.5" fill="#333">UMAP_2</text>
<path d="M152.1 612h0M164.7 665.4h0M120.2 721.3h0M107.6 725.4h0M134 598.8h0M123.9 670.2h0M130 622.3h0M210.9 650.2h0M126.3 650.3h0M76.2 700.3h0M134.8 666.2h0M103.6 727.7h0M106.3 695.1h0M131.1 629.6h0M91.4 693.9h0M164.9 622.7h0M126.5 600.7h0M141.5 610.5h0M149.8 640.6h0M82.6 721.3h0M98.3 709.6h0M122.8 645.7h0M237.4 645.8h0M153.8 619.2h0M141.1 595.6h0M157.2 627h0M134 700.1h0M134.3 686.7h0M120.4 651h0M182.5 666.5h0M115.4 681.4h0M131.7 676.9h0M132.1 709.3h0M160.4 658.1h0M101.2 708.3h0M230.9 649.6h0M185.1 640.4h0M147.4 677.9h0M110 683.7h0M152.5 608.6h0M126.6 601.3h0M151.5 633.8h0M176.1 668.1h0M113.2 719.2h0M120 638.7h0M92.6 707.5h0M164.9 627.1h0M210.9 640.1h0M135.3 594.9h0M173.4 663.8h0M175.6 629h0M136.4 642.2h0M173.4 614.1h0M143.1 623.8h0M121.4 649.6h0M147.8 619.6h0M175.5 649.2h0M181.7 670.3h0M201.1 620.8h0M162.9 626.6h0M123.1 658.2h0M151.3 630.7h0M75.6 698.8h0M145.1 665.7h0M138 635.7h0M123.1 707.2h0M84.3 708.3h0M190 642.4h0M121.4 699.2h0M153.7 661.4h0M156.9 625.7h0M111.9 705.5h0M77.5 689.7h0M142.8 598h0M145.8 623.1h0M174.2 651.6h0M82.6 685.6h0M98.6 674.8h0M166.5 673.1h0M117.5 661.8h0M116 694.3h0M160.2 593.5h0M112.6 632.3h0M87.5 680.8h0M173.1 610.7h0M220.7 650.2h0M127.6 701.8h0M78.2 690.1h0M178.3 629.6h0M176.4 628.6h0M138.1 594h0M208.5 642.5h0M216.4 656.2h0M172.9 665.3h0M197.7 636.3h0M222.8 650.2h0M177.4 641.7h0M151.5 588h0M136.2 634.7h0M115.9 617h0M112.8 650.4h0M78.6 722.7h0M93 680.9h0M122.2 681.8h0M134.5 622.6h0M151.9 617.9h0M181.8 642h0M83.4 699h0M142.2 579h0M160.5 628.9h0M224.4 651.9h0M140 581.5h0M116.2 638.2h0M140.9 658.5h0M155 665h0M136.5 673.8h0M124.9 645h0M87.9 697.8h0M145.3 665.9h0M136.1 587.8h0M143.9 623h0M199.7 662.5h0M118.2 704.3h0M137.5 593h0M117.4 682.1h0M201.7 662.7h0M176.1 609.4h0M145.3 630.9h0M162.4 599.7h0M192.5 644.6h0M227.1 647h0M146.2 643.8h0M210.2 640.2h0M139.3 606.9h0M119.8 604.5h0M167.8 630h0M132.4 612.2h0M140.6 595.1h0M213.1 651.7h0M89.8 688.9h0M207.3 624.6h0M159.3 667.5h0M125.7 634.2h0M153.3 686.6h0M134.2 668.6h0M187.5 657h0M193.4 621.8h0M108.3 656.1h0M138.8 600.8h0M138.2 589.5h0M189.1 662.1h0M193.5 632.8h0M124.6 615.4h0M101.4 675h0M195.7 639.8h0M144.8 658h0M120.4 670.6h0M167.8 670.2h0M126.8 710.6h0M111.7 685.5h0M214.6 649.5h0M98.8 672.2h0M90.8 695.5h0M136.2 646.6h0M164.6 633h0M136.2 683.4h0M153.8 629.5h0M137.5 619.2h0M157.1 685.5h0M123 626.7h0M215.8 656.5h0M113.2 680.5h0M202 630.7h0M150.3 634.2h0M160.1 580.4h0M147.7 648.8h0M158.6 580.4h0M146.3 668.6h0M77.2 697.4h0M98.1 699.2h0M144.1 615.9h0M152.2 618.5h0M113 722h0M118.1 694.8h0M135.9 698.3h0M181.4 632.9h0M135.2 649.7h0M113.7 664.6h0M117.4 660.8h0M154.1 687h0M143.7 654h0M123.3 645.2h0M135.5 658.3h0M124 598.9h0M162.1 635.2h0M156.3 664.1h0M130.7 595.2h0M119.6 699.7h0M138.6 674.4h0M220.6 643.3h0M197.6 663.3h0M211.8 652.4h0M176.1 607.9h0M84 683.4h0M150.6 677.7h0M200.7 655.9h0M224.9 647.7h0M144.7 673.2h0M188.8 644.7h0M156.3 659.2h0M184.6 640.2h0M116.8 630.1h0M202.7 626.6h0M137.8 675.6h0M195 614.3h0M141.9 625.5h0M193.8 638.7h0M123.9 601.1h0M224 654.4h0M168.2 619.1h0M151.6 588.5h0M163.6 585.4h0M146.8 616.1h0M145.2 605.9h0M137.4 675.2h0M209.6 658.1h0M231.1 647.8h0M169.7 653.4h0M121 693.2h0M116.3 648.5h0M100.6 685.8h0M115.6 629.9h0M82 689.4h0M93.8 696.5h0M129.8 668.3h0M180.7 651.5h0M120.6 626.2h0M143.9 639.4h0M186.9 627.2h0M196.3 654.2h0M163.2 649.9h0M113.3 707.1h0M182.7 634.6h0M181.6 609.1h0M183.6 666.6h0M198.2 654h0M146.3 621.7h0M196.9 632.6h0M148 683.7h0M150.3 643.3h0M208.2 649.5h0M161 575.7h0M76.6 716.1h0M123.7 690.7h0M138.6 598.8h0M140.9 645.3h0M206.6 639.6h0M147.8 602.8h0M128.3 612.6h0M214.5 631.4h0M134.2 595.2h0M200.5 649.7h0M208.3 645.4h0M163.5 599.6h0M144.9 643.6h0M122.8 705.1h0M110.1 680.3h0M196 638.2h0M127.1 711.6h0M204.2 622.2h0M160.5 585.2h0M159.5 648.4h0M147.7 596.4h0M120 645.1h0M85.2 681.8h0M130.8 605.8h0M187.9 647.1h0M89.7 712.5h0M128.4 683.7h0M121.2 614.9h0M211.5 653.7h0M131.5 654.5h0M149.1 679h0M176.7 637.9h0M144.9 593.2h0M124.7 631.3h0M174.7 668.1h0M91.5 695.1h0M121.1 678.9h0M189.9 655h0M126.9 673.8h0M91.9 716.3h0M135.5 699.7h0M150.2 617.1h0M229.9 637.3h0M116.2 672.9h0M146.8 671.9h0M149.6 618.5h0M79.2 705.3h0M184 611.5h0M157.2 666.6h0M204.2 621.7h0M130.2 671.6h0M100.5 724.2h0M119.2 657.6h0M110.4 646.2h0M125.6 612.2h0M194.3 651.9h0M137.7 665.3h0M116.9 646.4h0M114.8 631.8h0M234.2 651.2h0M172.8 624.3h0M139.2 623.5h0M171.5 608.9h0M184.9 667.1h0M120.6 691h0M107.9 722.1h0M151.5 660.7h0M89.2 692.8h0M131.5 649.3h0M124 663.1h0M125.7 617.3h0M152.3 669.8h0M148.2 663.2h0M157.1 619.8h0M132.4 685.2h0M223.7 643.9h0M116.5 650.1h0M154.8 596.1h0M153.5 659.5h0M158.2 679.8h0M128.9 683.4h0M135.1 672.4h0M112 672h0M156 657.2h0M147.7 664.2h0M87.4 698.6h0M182.8 659.8h0M129.3 697.4h0M162.6 680.7h0M156.2 652.3h0M183.8 663.4h0M81.5 728.3h0M126.8 653.3h0M123.4 704.3h0M113.8 680.7h0M153.4 625.4h0M116.8 631.1h0M132.8 612.5h0M122.5 674.4h0M153.7 590.9h0M161.3 615.6h0M97.4 699.9h0M202 660.3h0M223.8 641h0M145 656.7h0M149.5 622.4h0M232.6 649.3h0M124.9 698.7h0M114.3 640.7h0M161.3 681.6h0M186.3 656.8h0M134.9 595.8h0M186.7 626.8h0M156.1 605.9h0M216.6 650.6h0M122.2 688.1h0M80.9 716.9h0M95.7 726.5h0M218.8 650.5h0M131.7 628.1h0M160 632.6h0M118.1 639h0M78.4 715.5h0M176.6 649.4h0M194.7 641.6h0M131.8 639.1h0M120.1 699.3h0M156 599.5h0M110.4 676.1h0M133.5 620.3h0M124.1 670.9h0M157.8 651.4h0M187.7 649h0M232.5 643.3h0M177.8 667.9h0M188.8 625.4h0M133.4 642.9h0M170.9 676.9h0M121.5 716.9h0M96.5 707.6h0M121.5 672.6h0M197.2 624.3h0M117.8 625.7h0M152.5 663.5h0M183.5 614.5h0M171.1 669.5h0M156.7 640.6h0M152.5 632.4h0M93.8 727.7h0M165.3 667.8h0M170.1 590.4h0M95.2 691.1h0M132 592.7h0M201.7 634.9h0M95.4 695.7h0M109.5 680.8h0M190.3 616.3h0M196.2 642.8h0M170.8 621h0M112 661.3h0M174.8 653.3h0M141.8 615.2h0M188 634.9h0M133.6 683.8h0M183.6 651.8h0M210.5 625h0M132.2 694.4h0M187.5 641.2h0M209 658.8h0M138.7 592.1h0M105.3 726.8h0M131.3 611.3h0M105.5 719.5h0M117.9 691h0M110.2 671.3h0M116.5 652.3h0M186.8 623.5h0M171 657.8h0M180.5 663.8h0M92.4 713.1h0M136.5 590.3h0M152.3 615.9h0M151.1 606h0M195.9 634.9h0M152.9 683.4h0M119.2 668.8h0M165 641.5h0M130.9 589.1h0M129.5 598.8h0M187.5 657.1h0M122.1 613.3h0M147 583.9h0M161.1 613.4h0M229.5 648.7h0M222 647.5h0M164.2 614h0M200.6 631.8h0M145.3 576.8h0M118.4 639.8h0M135.5 666.9h0M206.1 646.9h0M166 669.4h0M124.9 680.2h0M97.4 693.3h0M196.1 615.4h0M144.3 633.7h0M108.6 666.1h0M115.2 633.3h0M150.4 640.3h0M120 627.9h0M158.6 597.9h0M139.1 582.3h0M137.9 663.1h0M166.6 600.5h0M164.1 652.9h0M128.5 610.7h0M179.2 662h0M123.3 648.6h0M141.6 674.1h0M220.9 632.6h0M163.7 663.5h0M185.4 611.5h0M114.7 722.3h0M97.7 682.9h0M117 651.9h0M149.1 610.7h0M102.8 728h0M197.5 632.3h0M106 698.5h0M192.1 636.4h0M83.9 686.2h0M193.5 643.5h0M157.2 583.9h0M97.6 727.2h0M188.1 641.6h0M151.1 609.7h0M195.3 641.9h0M155.8 636.3h0M151.5 624.9h0M178.4 633.9h0M151.7 661.2h0M207.2 635.7h0M103.9 702.8h0M170.3 608.5h0M223.5 652h0M128.2 660.5h0M165.1 618.3h0M190.5 615h0M135.2 681.3h0M136.4 699.3h0M123.2 599.7h0M128.6 592.2h0M143.2 610.9h0M156.9 593.3h0M174.9 620.8h0M185.9 616.6h0M201 627h0M219.5 640.9h0M130.8 596.5h0M125.3 643.6h0M130.3 690.3h0M149.4 677.2h0M159.4 630.6h0M141.7 578.4h0M204.9 654.6h0M97.7 706h0M124.1 634.6h0M196.7 619.7h0M95 725.8h0M146.8 599.6h0M214.8 651.9h0M199.6 658.6h0M156 646.2h0M179.3 672.1h0M103 677.1h0M192.5 629.6h0M174 598.3h0M118 638.1h0M145 635.8h0M98.7 705.3h0M181.3 627.8h0M190 616.5h0M198.6 663h0M201.2 619.6h0M165.1 628.1h0M152.5 619h0M129 592h0M82.5 717.5h0M143.8 591.4h0M145.4 654.5h0M177.8 604h0M154.1 624.9h0M153.8 672.1h0M158.5 603.3h0M185.9 615.9h0M154.7 577h0M159 631.8h0M150 685.7h0M157.8 637.8h0M170.9 616.7h0M188 640.9h0M191.9 628.6h0M180.6 603.7h0M154.8 652.1h0M96.5 701.1h0M96.5 720.1h0M162.3 662.2h0M152.4 576h0M180.3 650.1h0M129.2 690.3h0M180.7 607.5h0M219.4 648.9h0M162.5 604h0M213 649.1h0M160.5 667.3h0M151.1 610.5h0M152.2 584.7h0M147 627.5h0M113.7 698.3h0M145.2 602.1h0M138.1 664.5h0M145.3 654.3h0M140.4 602.5h0M196.3 619.5h0M117.7 612.7h0M77.8 691.3h0M124.8 614.8h0M116.1 627.2h0M149.3 658.4h0M95.8 719.2h0M121.6 659.7h0M124.5 717.9h0M191.6 664.1h0M120.3 636.5h0M211.9 634.9h0M151.6 599.1h0M193.1 639.8h0M222.2 654.8h0M141.7 593h0M121.7 667.6h0M236.1 638.2h0M86.9 720.5h0M155.9 593.3h0M220.4 658.8h0M97 688.8h0M84.9 698.3h0M123.6 717.4h0M121.1 692.6h0M156.5 610.8h0M155.8 642h0M130.3 672.1h0M106.5 657h0M113.5 700h0M164.2 609h0M93.5 717.6h0M125.4 607h0M165 626.4h0M157.5 581.2h0M122.2 663.5h0M100.6 724.6h0M159.4 600.5h0M108.9 709.8h0M178.5 673.3h0M119.9 664.8h0M107.4 685.8h0M153.4 604.4h0M128.8 631.8h0M178.1 664.4h0M79.6 719.8h0M148.5 667.6h0M104 694.7h0M165.2 654.6h0M125.5 709.4h0M120.8 699h0M142.5 595.6h0M99.3 725.4h0M116 688.5h0M233.6 646.3h0M181.1 623.3h0M192.8 627.5h0M167.6 602.5h0M170.1 649.1h0M140 694h0M147.7 637h0M130.7 611h0M107.8 712.7h0M125.7 692h0M81.4 722.7h0M87.7 713.5h0M211.1 644.5h0M205.9 656.9h0M220.3 654.1h0M168.8 653.6h0M131.8 695.2h0M126.2 672.5h0M94.1 714.2h0M168.4 640.2h0M206.6 644.2h0M156.5 573.5h0M120 700.7h0M137.5 693.6h0M185.6 666.1h0M205.3 662h0M163.7 613.9h0M81 714.5h0M116.9 650.4h0M176.9 603.8h0M108.1 715.8h0M179.3 619.7h0M78.7 690.2h0M169.9 625.5h0M147.9 664.8h0M107.5 723.3h0M163.1 635.2h0M116.4 645.7h0M79.8 701.2h0M237.8 648.8h0M228.9 646.7h0M158.7 577.4h0M170.9 670.1h0M140.5 634h0M116.3 671.5h0M176.5 623.1h0M227.2 639.4h0M78.3 708.5h0M184.2 649.3h0M157 604.6h0M101.1 673.2h0M99 694.3h0M87.1 707h0M165.2 656.3h0M189.1 639.4h0M138.2 690.6h0M112.7 670.9h0M151.7 667.6h0M114.5 699.8h0M204.9 634.2h0M175.1 643.6h0M163.6 615.3h0M93.2 712.9h0M147.8 676.2h0M174.6 670.4h0M169.7 668.2h0M190.3 654.4h0M90.1 699.4h0M116.5 673.8h0M102.1 673h0M200.6 640.6h0M159.2 612.8h0M170.7 664.3h0M134.1 610.9h0M145.6 591.4h0M144.5 672.5h0M175.4 625.7h0M130.4 693h0M169.4 606.7h0M94.6 714.7h0M108.1 655h0M214 651h0M153.4 598.5h0M185.5 635.9h0M192.9 633.6h0M159.7 679.4h0M169.2 668.5h0M78.5 717.2h0M140.2 670h0M197.2 632.8h0M180.6 606.7h0M98 732.4h0M106.7 682.5h0M126.4 657.1h0M152.9 639.2h0M181.9 629.6h0M143.1 590.7h0M178.5 669.7h0M134.8 657.1h0M155.6 663.4h0M120.8 713.2h0M197 641.4h0M79.1 690.2h0M160.4 632.2h0M175.4 605.8h0M117 706.1h0M120.4 667.3h0M163.1 609.7h0M164.2 614.7h0M115.7 654.3h0M128.9 679.9h0M129.1 662.2h0M156.5 597h0M113.3 713h0M224.9 648.9h0M113.7 643.3h0M164.2 603.6h0M121.6 636.2h0M130.2 685.8h0M230.3 643.5h0M152.3 656.2h0M193 649.4h0M204.6 628.2h0M121.4 600.5h0M101.7 705.6h0M239.1 643.5h0M102.9 718.1h0M118.3 678.1h0M89.6 713h0M198.9 662.3h0M215.7 659.7h0M150.1 578.7h0M167.8 607.2h0M142.4 640.2h0M132.4 609.1h0M168.7 658.9h0M104.9 671.4h0M152.2 685.9h0M160.8 616h0M159.3 672.8h0M78.1 689.4h0M213.8 628.1h0M230.9 641.7h0M150.3 607.9h0M142.5 657.1h0M121.4 686.5h0M178.4 633.1h0M174.6 673.5h0M79.5 708.6h0M114.1 722.5h0M164.9 670.6h0M231.6 643.2h0M83 708.4h0M86.8 708.3h0M92.1 704h0M154.4 640.7h0M148.2 579.1h0M96.5 684.5h0M118.6 643.5h0M151.8 688.4h0M115.2 698.2h0M102.1 713.9h0M232.5 640.2h0M162 583.6h0M86.1 710.6h0M178 614h0M82.3 706.2h0M126 599.3h0M168.3 631.6h0M161.6 646.6h0M164.2 615.3h0M150.9 645.3h0M130.8 674.2h0M135.1 654.2h0M239.3 646h0M230.6 655.6h0M115.6 715.9h0M175.7 653.6h0M179.4 628h0M113.6 721h0M172.7 652.8h0M154.2 589.6h0M147.2 648.1h0M231 636.9h0M159.3 607.8h0M124.7 603h0M147.3 625.7h0M201.8 623.6h0M125.9 605.1h0M170.2 622.1h0M189.1 615.3h0M138.7 628.7h0M221.9 653.3h0M128.4 597.7h0M147.9 627.1h0M222.7 638.1h0M134.1 627.2h0M130.4 668.8h0M145.1 688.9h0M74.1 703.5h0M132.4 684.9h0M108.7 697.4h0M106.9 720.4h0M88.1 713.5h0M126.7 711.5h0M146.7 611.7h0M157.4 636.6h0M129.4 624.6h0M100.3 700.8h0M100.9 723.8h0M108.6 689.7h0M148.8 609.4h0M146 607.7h0M133.8 671.4h0M197.6 650.4h0M145.1 618.6h0M191.5 615.3h0M200.5 662.3h0M220 653.3h0M92 690.2h0M87.9 718.7h0M197.7 617.1h0M174.4 651.6h0M142.2 688.9h0M135.5 680.5h0M169.2 589h0M159.4 590h0M96.3 686.5h0M196.6 649.1h0M104.7 692.3h0M149.1 610.1h0M137.1 599h0M121.5 670.7h0M125.5 622.7h0M188.3 633.3h0M108.1 726.6h0M145.6 591h0M85.1 720.6h0M173.7 638.6h0M172 598.6h0M136.2 611.7h0M89.9 705.4h0M155.9 639.7h0M117 712.4h0M176.4 636.4h0M224.2 657.9h0M176.4 633.5h0M159.8 624.8h0M126.4 639.7h0M99.2 708.8h0M90.1 695.7h0M155.6 605h0M159.6 578.3h0M151.5 643.3h0M183.3 633.3h0M157.7 573.8h0M179.3 635.1h0M229.9 654.4h0M101.2 695.3h0M138.9 662.5h0M195.4 637.2h0M162.1 579.8h0M156.8 650.4h0M158.9 621.7h0" stroke="#00BA38" stroke-width="3.6" stroke-linecap="round"/>
<path d="M243.4 789.4h0M257.3 728.3h0M257.8 813.9h0M239.5 764.6h0M250.5 727.5h0M190.6 704.3h0M244.8 719.9h0M139.9 723.8h0M247.1 748.5h0M285.1 798.5h0M274 742.7h0M213.9 767.7h0M232.7 683.9h0M218.9 729.3h0M210.5 734.6h0M212.6 753.5h0M181.7 680.5h0M256.6 709.1h0M177.1 687.4h0M228.7 806.6h0M224.9 795.5h0M232.6 710.9h0M170.9 750.6h0M224.5 670.1h0M185.6 763.8h0M274 719.5h0M249.5 788.7h0M243.2 800.4h0M264.4 779.7h0M226.9 662.4h0M219.9 752.2h0M196.9 678.2h0M225 698.4h0M166.1 689.8h0M237.8 765h0M200 680.7h0M227.7 665.5h0M233.2 790.2h0M158.7 726.7h0M208.3 774.7h0M246.7 701.4h0M205.1 730.1h0M184.6 687.7h0M252.6 731.2h0M207 724.4h0M232.3 701.2h0M264.9 749.8h0M232.9 774.6h0M247.9 690.6h0M269.9 775.5h0M252.5 775.6h0M247.5 803.4h0M177.2 705.3h0M242.9 679.8h0M177.8 743.3h0M222 805.1h0M241.5 799.6h0M166.7 696.4h0M236.5 695.3h0M148.4 737.4h0M274.7 723.2h0M277.7 732.3h0M249.3 695.2h0M226.7 782.2h0M179.3 697.7h0M187.8 776.6h0M189.9 775.8h0M235.8 803.3h0M191.3 743.9h0M163.7 688.8h0M275.3 729.5h0M187.9 708.6h0M221.9 729.9h0M189.2 746.8h0M177 719.1h0M182.7 698.4h0M232.6 675.4h0M180.6 743.3h0M216.6 750.3h0M159.5 697.8h0M226.4 801.2h0M265.3 731.1h0M249.9 775.5h0M213.6 754.1h0M226.5 697.7h0M187.7 756h0M277.6 756.9h0M158.3 701.6h0M225.5 727.7h0M193.9 716.2h0M254.9 811.4h0M171.3 765.8h0M246.1 695.7h0M226.4 772.3h0M226.1 743.7h0M172.2 698.5h0M183 736.4h0M198.3 689h0M161.8 692.9h0M229.7 768.8h0M159.5 740.7h0M234.1 772.4h0M240.7 777.8h0M247.1 727.8h0M244.5 773h0M254.6 770.6h0M238.4 733.5h0M262.9 711.1h0M186.8 751.6h0M235.3 732.7h0M207.9 713.4h0M190.2 749.3h0M157.2 733h0M155.3 738h0M210.8 722.1h0M169.3 740.8h0M285.3 714.8h0M198.8 765.8h0M211 781.7h0M211.8 732.1h0M204.6 758.5h0M162.4 701h0M171 726h0M181.9 704h0M282.3 755.5h0M232.7 752.8h0M222.7 663.1h0M228.1 784.3h0M221.8 763.6h0M188.2 717h0M250.2 742.9h0M213 703.1h0M221.7 705.5h0M259.4 811.7h0M224.9 772.2h0M203.7 796.4h0M242.8 683.5h0M242.6 794.8h0M161.8 751.5h0M270.1 778.8h0M233.2 734.9h0M168.1 700.2h0M221.6 704.6h0M243.5 695.8h0M231 689.8h0M241 798.4h0M273.5 723.4h0M194.3 701.8h0M189.2 751.9h0M251.1 727.4h0M278.6 764.6h0M249.6 791h0M188.5 779h0M208.5 702.1h0M238.3 769.7h0M282.2 724.4h0M279.8 719.2h0M204.3 761.5h0M179.9 693.5h0M236.3 710.3h0M274.3 774.4h0M153.2 737.9h0M227.3 683.9h0M262.5 812.9h0M236.5 782.8h0M196.3 695.8h0M239.4 796.8h0M248.7 680.1h0M241.6 690.3h0M256.4 744.4h0M189.3 701h0M267.1 779.2h0M247.7 735.7h0M174.8 720h0M228 742.8h0M231.9 673.2h0M172.5 761h0M213.4 796.5h0M167.7 713.7h0M192 703.6h0M239.3 710h0M195.5 782.4h0M210.7 722h0M202 683.4h0M183.4 696h0M164.1 757.4h0M242.9 753.7h0M135.9 726.9h0M197.9 684.2h0M250.2 720.8h0M266 735.4h0M141.2 712h0M189.6 673.5h0M233.4 704.4h0M281.7 802.7h0M237.9 769.6h0M168.5 710.1h0M189.8 769h0M286.1 761.6h0M224.5 764.6h0M245.8 714.3h0M227.4 726.7h0M209.3 711.7h0M279 776.3h0M280.7 717.9h0M217.5 715.7h0M219.1 766h0M201.1 753.7h0M226.7 747.8h0M214.1 689.7h0M175.2 764.6h0M140.3 728.5h0M281.5 797.7h0M167.2 754.6h0M188.5 705.8h0M186.4 674.3h0M188.8 689.8h0M137.2 731.4h0M264.4 778h0M218.2 675.4h0M204.6 696.9h0M205.3 797.7h0M163 741.7h0M206.4 727h0M269.4 729.2h0M268.3 705.6h0M167.1 709.5h0M264.1 811.7h0M207.4 676.9h0M181.1 738.5h0M231.6 741.8h0M254.9 727.8h0M265.5 766.2h0M228.2 671.7h0M182.4 700.6h0M270.7 796.3h0M243.5 765.6h0M144.4 727.8h0M181 685.3h0M261.1 788.2h0M207.9 733.8h0M150.4 752.8h0M250.7 798.7h0M262.3 785.8h0M218.6 770.6h0M233.6 754.9h0M245.4 720.6h0M223.9 771.5h0M196.3 744.5h0M267.4 755.1h0M208 721h0M148.4 715.9h0M286.7 737.7h0M205.4 761.9h0M168.3 727.4h0M170.8 740.6h0M212.7 784.2h0M252.5 714.2h0M289.2 747h0M193.7 681.9h0M229.3 699.4h0M152.5 732.3h0M152.4 691.2h0M211.2 772.2h0M185.9 766.6h0M182.6 678.2h0M258.2 760.2h0M236.3 775.8h0M213.3 666.5h0M155.8 743h0M236.4 661.7h0M248.3 803.3h0M227.7 798.3h0M209.8 777.2h0M250.7 783.1h0M278.4 721.3h0M240.4 804.4h0M179.8 755.4h0M226.2 717.5h0M253.5 733.4h0M264.9 704.5h0M228.9 733.6h0M218.2 699.7h0M202.6 711.8h0M217.9 663.5h0M250.3 710.4h0M183.7 698.5h0M237.9 785.4h0M207 794.7h0M196.3 742.2h0M261.4 705h0M206.7 712.9h0M266.4 781.8h0M228.8 772.2h0M152 746.7h0M267.2 786.6h0M267 768.2h0M261.7 737.9h0M207.3 753.3h0M262.2 685.8h0M258.7 813.7h0M212.8 748.1h0M235.5 754.8h0M209 672.5h0M189.2 732.2h0M288.9 735.8h0M234.9 761.8h0M230.4 764.1h0M164.1 725h0M194.1 736.5h0M225.5 776.7h0M203.8 717.8h0M161.6 746h0M267 691.5h0M233.4 674.5h0M203.2 751.9h0M226.2 787.8h0M181.2 757.4h0M266.4 752.5h0M283.2 795.4h0M232.8 781.8h0M288.2 733.8h0M226.7 795.9h0M161.9 708.5h0M235.4 711h0M249.8 721.2h0M224.5 744.3h0M262.8 701.4h0M219.8 753.3h0M168.9 681.6h0M198.8 750.6h0M264.8 744.4h0M211.1 730.3h0M254.3 759.5h0M271.5 793.1h0M251.9 708.7h0M173.8 715.9h0M198.3 664.4h0M162.9 766.6h0M159.7 694.8h0M263.3 732.4h0M178.5 754.6h0M248.1 748.7h0M226.2 784.4h0M219.4 758.8h0M279.8 746.3h0M229.4 798.2h0M150.5 711.9h0M185.4 750.5h0M255.5 750.9h0M221.3 781.2h0M189 763.5h0M254 731.2h0M229.9 773h0M242.4 673h0M214.3 758.2h0M244.9 808.8h0M237.9 662.6h0M201.9 663.8h0M232.4 757.6h0M186 705.7h0M209.8 750.6h0M199.6 683.2h0M222.5 668.1h0M171 751h0M190.4 669h0M235.7 696.4h0M158.6 701.6h0M260 797.1h0M260.3 692.1h0M195.4 742.8h0M215.7 806.3h0M255.2 737.2h0M251.4 776.5h0M281.1 776.9h0M224.3 743.4h0M229 664.3h0M230 671.7h0M176.4 776.1h0M258.4 760.4h0M265 737.6h0M199.9 789.7h0M223.9 672.8h0M136.4 733.8h0M139.8 733.2h0M250.6 706.6h0M240 717.8h0M225.4 764h0M220.3 710.1h0M270 717.1h0M228.2 683.2h0M200.4 681.6h0M197 754h0M239.9 726h0M229 778.7h0M227.3 779.9h0M256.6 750.2h0M250.2 785.4h0M262.9 692.8h0M146.9 704h0M145.9 740.6h0M155.1 726.7h0M188.2 749.6h0M181.9 673.7h0M192.8 759.2h0M216.9 758.6h0M271.3 812.6h0M191.5 748.1h0M258.4 789.7h0M228.5 709.2h0M154.3 724.5h0M231.2 662h0M227.6 803.8h0M150.3 737.8h0M170.4 758.8h0M285.8 758.3h0M284.1 778.7h0M239 763.2h0M253.9 793.6h0M212.7 727.4h0M215.9 794.6h0M224.2 712.2h0M273.7 786.5h0M193.5 698.6h0M136.6 725h0M213.1 737.4h0M150.5 708.6h0M218.3 738.3h0M198.2 737.3h0M141 721.7h0M236.7 659.3h0M237.6 803.5h0M182.3 705.2h0M237.6 733.6h0M266 758.2h0M195.6 709.9h0M191.2 684.4h0M261.4 782.8h0M254.8 754.2h0M233.9 804.7h0M259.9 763.8h0M200.8 738.8h0M251.1 677.5h0M204.1 742h0M230.6 782.4h0M224.2 780.6h0M275.9 790.8h0M269.6 722.7h0M163.6 725.4h0M209.3 743h0M241.2 807h0M170.5 715.2h0M161.8 689.3h0M219.2 704.2h0M244.2 714.2h0M258.2 692.1h0M240.3 779.8h0M275.8 788.1h0M259.7 806.1h0M175 719.2h0M215.8 796.7h0M188.6 685h0M260.2 697.8h0M243.1 810.5h0M241.3 748.5h0M244.5 777.1h0M289.4 758.3h0M240.9 719.8h0M274.5 799.8h0M194.4 723.3h0M243.9 761.5h0M282.3 795.4h0M205 669.7h0M234.5 664.2h0M200.1 723.1h0M280.2 776.2h0M151.5 743.5h0M235.1 695.4h0M224.6 664h0M248.4 751.1h0M277.8 802.3h0M236.9 765.8h0M249.6 707h0M196.7 785.8h0M227.5 700.4h0M265.3 727.2h0M217.4 771.7h0M146.4 724.3h0M191.3 732h0M226.3 728.8h0M242.3 692.2h0M248.6 733.4h0M225.1 755.4h0M216.7 758.9h0M169.4 726.9h0M198.2 721.7h0M277.4 704.5h0M203.2 663.1h0M184.7 696h0M194.1 681.3h0M178.4 710.4h0M205.5 731.3h0M233.4 759.2h0M207.2 723.7h0M213.8 761h0M260.2 792h0M154.7 691.2h0M230.2 795.8h0M203.5 786.9h0M192.2 786.8h0M164.4 759.7h0M233.7 718.8h0M160.5 747.6h0M239.5 691.8h0M215 736.6h0M248.6 720.9h0M255.7 705.2h0M282.7 712.8h0M158.4 707.7h0M281.4 767.4h0M183.5 673.1h0M241.4 771.5h0M153.7 714.7h0M261.4 755.1h0M285 754.3h0M159.4 738.4h0M181.3 679.3h0M264.4 770.7h0M152.6 732.4h0M283.6 727.3h0M217.9 671.3h0M218.3 704.2h0M281.7 723h0M235.3 786.3h0M261.3 736.9h0M264.8 769.1h0M186.7 735h0M220 746.3h0M239.1 722.8h0M263.5 795.8h0M158.4 714.7h0M267.6 747.8h0M217.2 806.3h0M249.6 735.4h0M207.5 786.2h0M187.9 768.8h0M279.1 763.8h0M151.3 749h0M245.4 742.6h0M183.6 745.8h0M229.6 728.2h0M177.9 686.7h0M219.5 788.2h0M186 721.3h0M169.2 694.6h0M172.9 691.2h0M273.1 801.9h0M188.2 765.7h0M229.9 780.3h0M237 677.9h0M241.6 681.5h0M162 736.7h0M262.5 713h0M193.9 680.3h0M241.9 705.1h0M171.9 682h0M264.9 737.6h0M277.7 745.5h0M210.1 747.5h0M243 690.3h0M173.1 758.9h0M236.2 737.2h0M201 790.8h0M237.2 782.7h0M178.9 696.7h0M235.6 747.3h0M149.7 712.1h0M233.8 746.5h0M174 680.9h0M280.5 729.1h0M179 729.6h0M218.3 799.8h0M215.7 698.7h0M260.6 769.2h0M210.1 768.8h0M256.9 786h0M258.5 725.4h0M276.1 805.6h0M215.4 803h0M162.2 687.5h0M200.1 760.9h0M174 687.5h0M265.5 748.3h0M201.7 779.7h0M235.8 803.3h0M194.6 680.3h0M216.4 753.2h0M277.2 702.7h0M239.3 679.7h0M191.3 685.3h0M244.8 764.7h0M206.8 663h0M212.8 695.8h0M213.5 691.7h0M230.9 788.3h0M231.7 661.3h0M145.7 720.5h0M241.6 737.8h0M241.4 722.6h0M267.9 689.6h0M189 730.2h0M237.3 804.7h0M243.9 757.4h0M230.4 696.6h0M277.2 773.3h0M187.2 680.3h0M257.2 764.6h0M158.7 686.3h0M212.9 777.7h0M190.5 672.8h0M208.9 727.1h0M262.3 815.5h0M214 700.3h0M170.8 720.3h0M263.6 796.2h0M266.9 759.2h0M175.6 717.5h0M187 696.3h0M257 754.4h0M206.1 796h0M170.9 770.1h0M230.7 763h0M258.2 730.2h0M236.2 787.5h0M276.3 756.8h0M141.1 732h0M274.3 768.3h0M250.6 674.5h0M154.7 747.4h0M267.1 804.8h0M253.4 712.2h0M247.9 712.8h0M249.9 721.3h0M216.7 665h0M242.9 775.7h0M150 703.6h0M213.2 805h0M167 681.4h0M184.9 683.4h0M282.4 804.4h0M188.6 674.6h0M265.1 701.9h0M260.3 682.5h0M290.1 748.6h0M262.2 785.9h0M252.7 765.5h0M144.9 713.6h0M281 779.1h0M236.9 667.5h0M219.3 708.1h0M215.9 691.6h0M232.6 680.3h0M222.8 726.6h0M228.2 703.8h0M269.1 694h0M273 806h0M135.4 731.6h0M203.1 759.9h0M271.6 725.7h0M190.7 766.8h0M182.3 672.6h0M244.7 726.7h0M156 689.1h0M197.6 730.1h0M235.6 779.5h0M265.9 692.8h0M265.7 813.6h0M245.4 688.1h0M267.5 743.3h0M178.6 683.1h0M250.6 801.9h0M156.3 721.3h0M265.8 730.5h0M277.7 771.9h0M153.1 734.8h0M163.9 762.5h0M236.6 809.9h0M172 744.6h0M286.6 763.4h0M203.8 770.2h0M182.4 771.9h0M223.3 709h0M157.5 746.5h0M167.7 712h0M220.6 675.7h0M222.9 754.3h0M218.5 762.6h0M179.9 732.5h0M263.4 699.1h0M207.6 748h0M231.1 793.7h0M240.6 778.4h0M283.9 802.4h0M215.9 735.9h0M235.4 726.6h0M233.1 805.5h0M203.9 739.9h0M203.9 724.8h0M286.9 778.5h0M197.5 686.7h0M231.2 758.5h0M277.6 804.2h0M259.3 761.9h0M173.7 732.7h0M262.8 725.7h0M262.9 792.8h0M245.9 688.1h0M230.5 661.8h0M161.7 719.2h0M165.8 714.1h0M202.5 686.3h0M198.1 747.2h0M275.9 729.2h0M146.3 703.6h0M258.9 714.4h0M268.4 795.8h0M268 756.7h0M250.1 780.9h0M271 809.2h0M289.1 721.6h0M233.6 793.6h0M265.1 697h0M245.2 706.1h0M266.2 702.2h0M147.9 726.8h0M188.3 678.2h0M238.7 786.3h0M232.1 716.1h0M207.6 685.7h0M222 748.4h0M202.6 778.2h0M257.3 766.9h0M251.9 783.5h0M263.9 801.5h0M212.8 700.8h0M253.9 717.9h0M279.6 731.7h0M282 716.6h0M210.1 721.4h0M171.6 756.6h0M188.2 733.4h0M210.3 799.6h0M206.5 667h0M191.6 772.5h0M221.1 669.3h0M202.3 793.2h0M232.3 757.6h0M195.1 769.9h0M228.3 745.2h0M279.7 741.5h0M184.4 700.3h0M278.4 779.5h0M267.6 770.6h0M154.7 735.8h0M235.1 792.3h0M212.5 800.6h0M178.8 691.9h0M222 803h0M263.2 748.5h0M243.9 771.4h0M221.5 750.8h0M281.7 804.3h0M249 728.7h0M249.5 730.7h0M159.5 755.5h0M223.3 692.8h0M154.2 722.7h0M238.7 781.6h0M154 707.9h0M195.4 704.1h0M232.8 716.8h0M203.7 738.7h0M192.8 756.9h0M261.4 753.7h0M229.1 710.5h0M217.6 750.1h0M146.7 722.8h0M243.5 753.3h0M154.8 726.5h0M145 745.1h0M287.8 725.7h0M221.8 746.8h0M174 729.1h0M203.3 695h0M202.6 753.7h0M187.1 767.1h0M275.3 741.2h0M255.1 806.7h0M264.4 764.1h0M280.6 723.1h0M223.2 739.3h0M254.1 796h0M193.3 711.8h0M197.1 741.6h0M222.5 709h0M272.4 747.8h0M213.1 685.7h0M191 735h0M267.8 783.4h0M178.1 711h0M157.8 695h0M193 756.9h0M272.5 808.9h0M250.4 732h0M209.3 686.6h0M193 747.3h0M158.9 738.1h0M227.5 662.4h0M225.9 676.2h0M269.5 790.1h0M140.4 739.2h0M269.8 739.1h0M185.6 781.6h0M258.6 715.2h0M191.8 719.5h0M191.4 704.3h0M218.4 677.5h0M290.3 736h0M213 727.9h0M146.9 739h0M253.9 708.7h0M288.1 731.3h0M260.4 703h0M239.8 674.4h0M181.8 768.6h0M254.8 767.9h0M264.2 763.8h0M198.2 731.9h0M284.7 711.8h0M287.3 769.5h0M200.8 687.9h0M244.9 784.5h0M212.7 680.2h0M201.7 760.9h0M273.3 747.5h0M223.9 751.2h0M254.4 731.7h0M176.2 769.9h0M228.4 806.6h0M265.7 763.1h0M262.9 776.7h0M215.1 791.6h0M281.5 765.9h0M186.6 780.3h0M213 747.4h0M222.7 697.3h0M178.7 683.5h0M196.3 739h0M229.7 668.8h0M235.4 716.1h0M198.2 711.3h0M227.5 804.7h0M245.4 766.8h0M253.2 752.5h0M280 758.2h0M174.8 773h0M153.2 724.3h0M231.5 792.7h0M179.3 685.1h0M240.2 758.7h0M225.2 759h0M137.9 727h0M282.9 709.6h0M158.3 688h0M209.2 784.6h0M251.3 785.8h0M229.7 802.3h0M267.5 700.3h0M182.9 681.4h0M217.4 695.7h0M225.7 669h0M170.6 705.6h0M260.6 755.8h0M280.7 771.7h0M282.4 731.9h0M166.4 689.4h0M282.6 771.6h0M218.9 781.9h0M198.6 676.8h0M245.4 722.6h0M252 766.9h0M194.7 670.3h0M173.7 773.9h0M273.5 734.8h0M239.2 767.1h0M209.6 681.2h0M268.5 772.4h0M247.4 710.6h0M168.1 724.8h0M179.7 738h0M212.8 676.6h0M193.6 691.3h0M184.8 776h0M188.7 780.7h0M216.1 765.6h0M287.8 739.3h0M240.2 770.4h0M197.5 747h0M233.7 784.2h0M139.4 731.2h0M280 755.7h0M203.6 716.2h0M170.1 748.2h0M179.3 774.8h0M253.8 734.2h0M233.9 752.2h0M166.8 726.3h0M159.9 764.1h0M202.7 786.4h0M246.7 807.5h0M224.8 667.8h0M248.8 725h0M197 770.2h0M280.8 713.8h0M284.3 782h0M189.9 722.2h0M266.9 740.2h0M258.6 793.4h0M226.8 784.1h0M221.8 730.6h0M256.1 718.9h0M200.2 712.3h0M221.9 788.1h0M230.5 661.3h0M142.2 741h0M219.2 673.6h0M178 693.6h0M243.5 753.9h0M149.7 706.2h0M210.1 759.6h0M199.1 715.9h0M244.8 790h0M249 741.1h0M255.2 678.4h0M227.3 734.3h0M195.8 770.4h0M253.9 750h0M225.5 665.2h0M195.6 702.2h0M162.1 696.8h0M212.2 804h0M238.3 775.8h0M285.1 797h0M173 685.5h0M157.7 694h0M151 710.3h0M283.8 796.9h0M255.2 797.3h0M171.3 745.8h0M175.8 708.2h0M193.3 688.7h0M214.2 714.8h0M233 682.8h0M218.8 709.3h0M159 759.4h0M179.1 757.9h0M229.6 749.3h0M198.8 667.8h0M155.8 721.5h0M279.7 743.1h0M169.4 757.2h0M213.3 787.9h0M174.6 692.2h0M168.8 745.4h0M228.9 700.1h0M260.1 736.3h0M204.4 711.4h0M266.4 695.5h0M211.9 802.8h0M280 761h0M185.2 739.9h0M226.2 792.4h0M178.7 723.7h0M189.3 781.4h0M179.2 718.5h0M185 716.1h0M275.9 809.1h0M152.7 725.3h0M171.6 751.8h0M165 699.7h0M209.6 787.9h0M284.1 756h0M248.6 691.5h0M199 735.1h0M169 680.7h0M221.7 724h0M236.3 778h0M173.1 758.8h0M257.5 693.6h0M171.4 699.2h0M224.3 713.7h0M207.3 789.5h0M253.7 811.8h0M233 790.5h0M287 774h0M264.9 774.6h0M268.3 707.8h0M246 770.4h0M255 772.3h0M206 794.5h0M190.4 681.9h0M151.2 752.1h0M238.9 726.3h0M233.5 785.2h0M187.4 780.2h0M212.1 796.5h0M159.5 739.2h0M285.5 753h0M212.8 689.1h0M181.3 680.6h0M197.1 741.6h0M227.2 743.9h0M195.3 672.2h0M147.3 699.7h0M218.4 788.4h0M265.1 696.5h0M203.1 783.1h0M203.7 745.5h0M188.7 684.4h0M202.7 695.8h0M222.2 689.3h0M270.2 741.8h0M188.5 732.1h0M268.8 727.6h0M242.1 701.2h0M147.7 713.5h0M209 767.2h0M221.9 666.5h0M230.1 711.8h0M258.9 731.3h0M230.7 735.9h0M195.5 704h0M253.5 746.2h0M247.1 705.8h0M207.3 780.2h0M203.4 693.4h0M208.3 752.3h0M234.9 683.4h0M154.4 732.3h0M273 694.7h0M266.9 701.4h0M240.4 695.3h0M270.1 725.5h0M224.8 749h0M197.4 745.2h0M198 736.3h0M147.5 701h0M233.8 749.5h0M182 775.6h0M217 788.8h0M253.2 791.1h0M161.5 753.5h0M217.5 674.2h0M208.6 721.6h0M209.4 661.8h0M159.6 739.9h0M215 798.9h0M247.3 705.7h0M241.4 810.5h0M283.3 783.7h0M179.5 693.8h0M265.4 697.7h0M248.5 775.6h0M200.5 762.3h0M264.8 752.9h0M213.8 790.4h0M243.5 745.3h0M267.2 793.1h0M205.1 766.4h0M235.3 765.6h0M147.5 741.6h0M204.7 683.9h0M236.3 710h0M224.3 658.8h0M246.4 767.8h0M213.1 804.2h0M277 801.5h0M280.7 756.3h0M229.7 727.6h0M188.3 711.4h0M258.3 760.9h0M189.1 764.7h0M248.9 686.6h0M254.9 690.5h0M243 804.9h0M216.5 733.7h0M255.4 710.5h0M218.2 796.8h0M200.5 710.5h0M214.8 788h0M250.7 678.6h0M209.5 793.9h0M238.1 812.8h0M241.4 729.4h0M163.7 722.9h0M243.8 713.3h0M212.6 697.8h0M230.7 668.4h0M152.6 746.9h0M224.3 668.9h0M234.4 779.5h0M243.7 735.1h0M146.7 739.4h0M198.6 725.9h0M219.1 740.1h0M221.7 685.9h0M257.4 699.3h0M151.9 730.2h0M274 795.5h0M141.7 711.6h0M175.9 757.3h0M270.1 744.1h0M256.8 680.2h0M160.1 740.5h0M228.6 742.9h0M260 747.7h0M255.1 773.1h0M222.9 704.7h0M235.1 769.9h0M216.7 705.5h0M265.7 802.5h0M189.1 760.4h0M237.4 697.2h0M214.5 753.9h0M177.9 682.9h0M220.1 787h0M162.9 746.5h0M216.1 755.1h0M180.4 772.8h0M263.3 714.8h0M172.8 732.2h0M239.3 766.8h0M231.5 777.6h0M214.9 726.9h0M218.8 787.3h0M277.4 745.9h0M222.1 707h0M261 706.4h0M244.7 718.9h0M151 739.5h0M307.8 779.1h0M324.2 741.2h0M321.4 717.1h0M312.7 719.7h0M293.6 763h0M297.9 697.3h0M301.6 760.5h0M307.5 754.2h0M313 693.3h0M298.9 787.9h0M316.6 768.7h0M312 777h0M317.9 737.4h0M299.1 706.8h0M327.3 773.3h0M329.1 767.6h0M306.6 704h0M326.2 761.9h0M297.3 697.9h0M309.7 737.9h0M314.4 762.9h0M297.8 728.5h0M302.9 725.5h0M295.6 717.7h0M315.1 781.6h0M300.1 797.5h0M297.2 768.4h0M318.6 713.7h0M327.4 752.1h0M303.4 754.1h0M309.1 785.7h0M296.3 694.5h0M317.2 739.1h0M296.1 691.2h0M309.4 722.9h0M318.8 786.2h0M315.7 747.4h0M311.4 790.6h0M321.9 739.7h0M317.2 740.4h0M125.5 731.2h0M124.3 777.9h0M131.8 773.6h0M136.6 826.3h0M140.8 827.9h0M141.7 791.6h0M130.4 821.5h0M150.6 744.5h0M149.2 797.4h0M166.6 734.3h0M139.9 794.2h0M166.6 754.6h0M147.8 766.9h0M162.8 750.8h0M137.1 817.5h0M148.2 779.3h0M150.2 796.6h0M121.5 742.8h0M160.7 743.6h0M140.3 827.9h0M133 761.2h0M161 748.9h0M136.5 731.5h0M135.6 828.8h0M159 731.9h0M150.6 808.4h0M164.3 824.7h0M145.9 806.4h0M155.1 841.7h0M162.2 809.3h0M162 820.8h0M149.1 821.4h0M154.2 840.3h0M135.4 844.6h0M144.6 815.9h0M157.5 804.8h0M135.5 841.6h0" stroke="#F8766D" stroke-width="3.6" stroke-linecap="round"/>
<path d="M390.4 744.5h0M436.2 718.7h0M339.2 786.6h0M358.2 773.6h0M440 752.5h0M335.5 737.6h0M409.5 677.1h0M341.3 795.2h0M390.2 796.6h0M411.7 718.9h0M357.8 782.3h0M408.2 791h0M433.5 747.3h0M343.5 785.6h0M425.1 755.9h0M443.8 734.6h0M384.7 690.9h0M325.6 788.5h0M393.3 791.5h0M401.8 719.9h0M352.8 729.7h0M450 742.9h0M437.3 764.6h0M395.8 794.9h0M422.1 693.3h0M423.6 740.7h0M431.2 778.7h0M415.8 742.6h0M442 780.8h0M410.5 706.1h0M431.7 762.7h0M359.7 778.1h0M443.9 748.6h0M408.3 745.6h0M430.1 740.3h0M397.1 729.3h0M426.9 731.6h0M385 798.6h0M343.2 668.8h0M337.4 756.7h0M333.1 778.2h0M348.9 684.4h0M425.3 720.2h0M432.4 722.3h0M405.5 785.5h0M446.3 714.9h0M356.5 796.7h0M365.6 786h0M347.7 753.4h0M346.6 767.2h0M348.2 776.7h0M335.2 793.9h0M404.5 778.9h0M371.1 783.9h0M445.5 765.7h0M332.8 692.5h0M405.2 772.7h0M351 734.9h0M349.3 762.6h0M395 714.9h0M353.8 701.3h0M428.1 743h0M409 707.3h0M415.3 679.8h0M375 778h0M432.3 743.4h0M444.7 777.9h0M448.3 746.1h0M416.7 696h0M368.9 772.5h0M427.8 741.2h0M428.7 721.4h0M405 699.4h0M408.3 774.4h0M324.7 709.3h0M378.2 776.7h0M369.8 763.3h0M375.1 715.3h0M426.1 775.6h0M422.7 700.1h0M370.7 775.2h0M414.5 689.5h0M354.2 772.9h0M381.7 803.5h0M355.4 719.4h0M428.1 752.7h0M358.5 682.3h0M417.4 735.6h0M432.4 707.3h0M318.4 683.1h0M359.9 792.4h0M348.8 728h0M416.7 693.7h0M364 766.4h0M408.6 681.8h0M348.4 800.4h0M369.9 674.6h0M371.1 698.8h0M418.6 736.8h0M330.7 685.7h0M379.5 746.5h0M358.8 778.7h0M342.8 757.8h0M438.1 771.2h0M361.7 665h0M405.7 708.2h0M389.5 702.1h0M361.9 719.7h0M384.3 709.8h0M345.7 793.1h0M365 803.4h0M319.4 679.2h0M370.7 711.1h0M362.1 760.5h0M419 692.4h0M405.5 690.3h0M370.4 703.9h0M353.1 755.1h0M337.3 747.1h0M425.1 735.1h0M339.8 738.4h0M418.4 755.3h0M333.2 767.3h0M353.8 772.9h0M391 666.5h0M447.8 756.3h0M389.3 666h0M428.6 730.2h0M420.6 715.3h0M402.6 778h0M342 687.7h0M364.2 779.8h0M443.4 778.9h0M378.5 702.1h0M387.6 795.8h0M353.3 714.5h0M343.7 786.9h0M367.5 667.1h0M424.5 703.4h0M324.4 780h0M406.7 708.2h0M383.3 716.2h0M375.5 711.7h0M390.9 705h0M379.1 664.8h0M383.3 787.3h0M418.8 752.5h0M387.4 763.4h0M333.7 745.4h0M435.2 787h0M385 704.3h0M369.8 711.7h0M425.4 771.9h0M378.9 688.1h0M432.9 740.5h0M422.5 786.3h0M424.6 792h0M397.1 670.8h0M443.4 757.7h0M366.3 713h0M338.3 777.6h0M442.8 722.3h0M326.9 780.7h0M391.7 783.2h0M426.6 720.2h0M412.8 736h0M361.9 739.2h0M411 747.7h0M371.6 733.7h0M426.8 747.1h0M357.1 745.9h0M427.8 718.8h0M343.9 694.3h0M420.1 759.7h0M441.4 781.5h0M422.4 700.5h0M359.9 710.7h0M383.9 755.7h0M378.1 694.7h0M405.5 694.3h0M398.3 684.7h0M433.9 747.2h0M428.5 738h0M358.4 753h0M363.6 691h0M416.5 793h0M408.9 777.7h0M437.3 782.3h0M377.3 686.4h0M444.7 719.1h0M362.9 768.1h0M414.5 703.2h0M339.9 682h0M443.5 723.5h0M432.9 786.1h0M371.6 793.9h0M453.5 734.2h0M345.6 746.5h0M437.3 784h0M412 754h0M383.9 748.6h0M396.1 717.4h0M370.8 760.8h0M349.9 759.4h0M346.5 719.5h0M386.4 710.1h0M409.5 709h0M367 727h0M345.5 779.4h0M333.2 711.7h0M388.1 795.7h0M420.6 755.3h0M343.8 716.2h0M429.2 765.1h0M368.4 713.3h0M393.2 755.1h0M432.1 754.3h0M360.8 679.5h0M437.3 703.6h0M411.3 756.7h0M414.5 776.9h0M411.8 753.5h0M349.1 745.6h0M420.7 686.3h0M409.6 703.7h0M390.2 691h0M417 711.4h0M360 731.2h0M328.8 785.5h0M408.1 707.5h0M427 774.7h0M358.2 765.1h0M411.6 734.5h0M418.9 704h0M367.7 772.2h0M416.8 704.8h0M380.6 777.8h0M423.6 754.2h0M363.8 703.2h0M390.2 772.2h0M382 754.6h0M399.6 689.2h0M360.4 800.1h0M437.2 753.1h0M445 748.7h0M394.4 768.7h0M447.2 751.8h0M391.8 774.4h0M420.5 725.3h0M396.8 742.3h0M391.9 800.4h0M345.5 801.2h0M413.2 758.5h0M371.2 804.5h0M382.7 714.3h0M333.3 762h0M373.4 777.2h0M439.2 757.9h0M417.8 796.1h0M349.6 689.7h0M409.1 765.8h0M374.1 737.7h0M400 772.2h0M399.3 724.5h0M440.1 743.3h0M436.7 738.7h0M388.3 670.2h0M374.9 735.6h0M410.4 687.9h0M413.8 717.6h0M419 694.6h0M359.1 764.1h0M429.8 743.3h0M355.5 740.1h0M337.8 767.9h0M351 772.2h0M410.3 747.4h0M346 786.2h0M426.2 775.7h0M366.6 666.5h0M416.9 773.4h0M368.6 746.2h0M428.2 701h0M442.9 747.5h0M414.2 724.5h0M389.8 725.3h0M439 711.6h0M407.3 719.9h0M407.1 679.3h0M415 681.1h0M414.8 789.9h0M352.5 790.9h0M375.7 753.7h0M391.5 724.4h0M388 706.7h0M378 738.4h0M399.7 788.1h0M442 757.9h0M429.7 736.3h0M371.7 801.6h0M384.6 784.6h0M435.4 778.5h0M375 734.3h0M395.2 713h0M417.9 688.8h0M394.3 773.2h0M387.1 761.8h0M427.4 696.2h0M416.7 702h0M417.4 781h0M417.2 712.9h0M320 706.4h0M435.1 708.6h0M362.6 714.6h0M355.4 731h0M399.1 712.8h0M408.2 754h0M365.7 690h0M374.2 765.4h0M303.2 685.5h0M404.8 711.9h0M357.4 709.1h0M448.6 717.9h0M361.1 798.7h0M366.1 717.4h0M402.4 671.6h0M432.6 785.3h0M358.9 800.2h0M362 765.7h0M425.8 747.6h0M388.1 727.1h0M383.2 788.3h0M391.8 797.2h0M359.1 789.6h0M443.5 780.3h0M385.5 781.3h0M407.4 794h0M361.6 800.1h0M432.3 742.8h0M340.4 691.9h0M384.5 672.4h0M399.4 718.3h0M383.8 767.6h0M371.1 747.4h0M385.9 780.5h0M378.2 736.2h0M418.2 734.9h0M367.8 765.7h0M360.6 751.6h0M376.2 685.8h0M368.3 672.9h0M368.3 692.1h0M416.9 730.8h0M415.2 753.1h0M427.3 768.9h0M402.5 736h0M368.4 726.7h0M361.5 799.2h0M402.3 686.4h0M345.3 672h0M340.3 787.1h0M322.7 691.4h0M370.4 712.4h0M430.6 749.1h0M376.4 761.7h0M385.7 726.5h0M431.4 738.6h0M445.9 718.3h0M404.8 716.3h0M368.5 781.5h0M348.3 689.3h0M398.8 704.3h0M381 674.6h0M413 752.7h0M401.4 764.2h0M396.3 681.2h0M385.7 675.5h0M422.3 723.7h0M343.3 797.8h0M332.8 782.2h0M410.4 782.6h0M391.5 763h0M424.7 775.7h0M343.8 741.6h0M441.8 711.9h0M387.3 729.6h0M367.7 734.3h0M376.2 739.8h0M362.7 674.1h0M387.1 782.8h0M415.2 758.6h0M443.5 721.6h0M345.8 694.2h0M360.3 750.1h0M344.3 794.8h0M441.5 730.7h0M438.8 708.5h0M422.2 736.3h0M397.4 707.2h0M354.4 780.2h0M420 752.6h0M413 705.9h0M346.9 703.4h0M374.9 689.5h0M383.6 679.4h0M372.2 771.5h0M412.5 797.2h0M428.8 770.2h0M420.9 721.8h0M348.2 712.5h0M372.4 804.8h0M428.2 788.4h0M438 741.7h0M337.3 778.1h0M386.2 756.3h0M418.8 690.8h0M363.3 772.9h0M431.7 788.1h0M340 717.3h0M362.6 729.8h0M337.7 742.8h0M383 726h0M328.4 771.3h0M402.2 770.4h0M356 702h0M366.7 703.7h0M435.9 723.2h0M435.5 761.9h0M407.8 703.2h0M354.7 795.5h0M326 778.7h0M345.5 757h0M364.1 757.3h0M366.3 710.8h0M384.9 800.7h0M423 702.4h0M400.3 757h0M365.6 733.7h0M333.7 702.4h0M358.6 699.6h0M428.5 784.7h0M365.2 783.1h0M394.5 707.1h0M388.2 702.8h0M348.1 725.3h0M350.4 740.3h0M359.4 803.9h0M366.1 689.6h0M406.8 767.3h0M413.1 759h0M403.9 679.5h0M432.7 785.4h0M413.2 784h0M410.1 715.7h0M380.4 770.9h0M362.5 719.8h0M400.5 715.8h0M411.2 725.9h0M376.3 692.9h0M432.6 771.4h0M337.6 671h0M357.7 800.5h0M339.5 696.6h0M408.2 758.2h0M330.8 790.1h0M363.5 768.7h0M391.4 801.5h0M441.5 777.2h0M356.5 742.2h0M407.1 748.3h0M399 762.6h0M331 673.5h0M403.3 762.7h0M390.7 705.8h0M348.5 695.9h0M436.9 728.7h0M380.4 771.8h0M371.1 745.4h0M391.5 799.9h0M343.2 748.5h0M418.6 728.2h0M341.2 774.8h0M404.4 776.6h0M443.9 759h0M383.4 760.7h0M358.4 727.3h0M382.3 800.2h0M363.1 789h0M433.3 724.1h0M400.1 796.5h0M436.8 785.1h0M412.6 760.4h0M348 780h0M435.4 779.2h0M404 714.6h0M353 672.5h0M340.8 777.2h0M403 767.6h0M363.2 773.6h0M425 698.2h0M344 711.1h0M351.3 692.1h0M426.7 748.4h0M430.6 735.1h0M347.9 764h0M371.4 781.9h0M390.5 785.1h0M441 777.8h0M402.8 726.8h0M402.8 762.6h0M388.9 720.2h0M401.4 723.4h0M414.8 683.6h0M372.7 708.3h0M370.1 751.9h0M400.2 717.1h0M348.1 756.7h0M323.9 783.1h0M352.9 768.5h0M337 797.4h0M329.1 698.5h0M397.7 794.9h0M404.2 745.5h0M397.9 707.9h0M334.1 677.1h0M417.2 692.4h0M378.3 698.5h0M409 710.7h0M422.6 696.1h0M378.3 737.6h0M365 723.6h0M376.5 760.7h0M435.5 727.3h0M371.5 721.5h0M404.1 767.2h0M442.8 733.2h0M448.6 729.8h0M357.5 793.6h0M434.8 738.4h0M408.4 781.4h0M391.5 783.8h0M387.9 763.9h0M422 752.7h0M434.2 719.7h0M353.7 728.9h0M378.5 775.1h0M437.2 725.9h0M381.4 704.6h0M407.7 684.9h0M412.5 709.2h0M390.6 771.6h0M351.3 767.3h0M422.2 718.1h0M430.6 712.5h0M443 742.3h0M425.2 729.5h0M407.5 675.6h0M433.6 749.3h0M399.3 796.5h0M330.9 781.6h0M411.7 753.9h0M400.3 713.2h0M375.9 661.9h0M356.4 744.1h0M372.3 727.5h0M432.9 721.1h0M445.4 728.2h0M354.2 699.2h0M419.4 768.5h0M451.2 731.7h0M416.6 716h0M410.7 714.5h0M381.3 676h0M443.2 759.2h0M404.6 681h0M389.9 758.1h0M367.5 742.5h0M322.7 673.9h0M420.3 795.1h0M376.3 701.8h0M335.2 774h0M401.4 746.9h0M368.2 746.4h0M436.9 768.3h0M344 772.9h0M424.9 776h0M430.2 731.1h0M379.3 772.5h0M349.1 791h0M361.9 692h0M369.5 678.3h0M400.4 741.6h0M352.3 775.8h0M383.4 766.3h0M385.5 788.1h0M400.7 684.2h0M364.7 728.4h0M440.8 707.2h0M407.3 686.1h0M449.4 754.4h0M419.6 717.6h0M391.3 779.4h0M345.9 770.9h0M427.4 702.5h0M404.8 725.2h0M426.5 776.5h0M451.6 746.5h0M397.6 689.1h0M379.8 753.6h0M433.1 716.3h0M354.6 725.8h0M442.8 724.9h0M364.1 698.1h0M399.9 684.7h0M348 740.3h0M443.9 745.3h0M420.1 692.1h0M345.2 710.9h0M400.7 708.7h0M345.6 778.7h0M425.2 689.6h0M407.2 688.7h0M429.6 741.1h0M412.2 696h0M424.2 788.4h0M367.4 733.6h0M362.1 721h0M390.1 768.9h0M388 772.1h0M375.5 776.9h0M421 738.2h0M384.8 676.2h0M386.3 703.2h0M452.6 750.7h0M370.6 770.5h0M451.2 749.1h0M354.6 710.9h0M443.1 780.2h0M378.6 774.1h0M370.4 698.8h0M395.4 733h0M373.2 734.7h0M367.9 761.4h0M419.7 749.9h0M363.9 770.2h0M420.3 762.8h0M358.6 743.1h0M388.8 723.9h0M368.2 765h0M443.6 723.6h0M414.9 790.6h0M419.5 781.2h0M424.2 754.7h0M380.9 790.4h0M357.9 747.1h0M421.3 768.9h0M395.3 761.7h0M381.5 677.9h0M387 779.3h0M435.3 743.9h0M450.4 757h0M453.2 750.3h0M450.8 746.8h0M408.5 693.4h0M367.8 712.9h0M366.3 763.2h0M347.3 781.1h0M412.2 784.5h0M451 752.3h0M332.9 718h0M445.6 731.4h0M386.8 786.4h0M348.4 801.2h0M386.6 784.3h0M433.1 710.5h0M428.2 771.7h0M360.2 699.9h0M343.9 716.9h0M346.4 734.5h0M411.8 732.7h0M418.9 689.6h0M366.2 777.4h0M377.6 804.1h0M392.7 670.1h0M350.3 800.5h0M423.6 733.9h0M389.2 783.9h0M394.3 773.1h0M443.7 730h0M431.7 720.7h0M400.6 678.6h0M330.4 680.2h0M447.2 744h0M405.2 761.4h0M354 798.6h0M450.2 729.1h0M429.6 737.1h0M436.9 750.4h0M434.2 787.4h0M409.6 710.9h0M386.2 758.5h0M358.3 747.6h0M376.8 699.1h0M354.2 756.4h0M345.7 752.2h0M332.4 754.5h0M405.5 787.5h0M338.9 758.6h0M366.7 751h0M387.1 685.5h0M388.5 790.8h0M420.3 738h0M378.2 796.2h0M437.8 777.3h0M365.3 794h0M330.3 771.5h0M350.9 733.7h0M326 785.8h0M332.6 794.6h0M432.2 760.3h0M349.8 741.7h0M403 689.4h0M402.7 714.6h0M403.6 702h0M349.8 696.1h0M402.9 722.5h0M310.1 697.6h0M413.9 703.3h0M375.4 777.9h0M393.1 750.5h0M336.7 783.3h0M401.4 724h0M397.7 774.8h0M387.8 760.9h0M384.4 704.6h0M448.1 725.4h0M349.7 779.8h0M431.2 787.8h0M340.3 776.5h0M379.7 673.7h0M343.5 775.9h0M335.7 735h0M442.3 776.4h0M420.9 725.7h0M370.7 774.6h0M373 767.3h0M390.2 739.4h0M361.5 738.7h0M410.8 792.7h0M417.1 748.8h0M411.2 751.9h0M339.6 757.6h0M404.2 780.2h0M437.5 765h0M379.5 759.5h0M382.5 771.9h0M380 695.2h0M380.5 785.8h0M401.8 754h0M380.5 744.2h0M329.7 772.2h0M445.7 751.9h0M358.2 793.9h0M399.7 687.8h0M436.2 742.2h0M355 796.5h0M364.4 700.8h0M348.1 799.1h0M407.8 709.5h0M404.9 727.6h0M347 743.1h0M373.5 779.4h0M378.7 748.6h0M417.3 683.5h0M393.5 672.7h0M429.6 724h0M417.8 785.2h0M390.9 784.3h0M434.2 768.8h0M371 770h0M434.4 748.1h0M407.5 744.2h0M386.4 794.5h0M354.1 667.3h0M413 794.6h0M414.7 703h0M426 784.4h0M427.1 695.8h0M351.5 800.8h0M453.3 732.5h0M385.3 715.5h0M387.9 780.8h0M409.5 792.9h0M410 725.4h0M361 778.4h0M380.4 701.4h0M425.2 691.2h0M409.9 687.5h0M368.3 774.6h0M394.9 779.6h0M445.3 752.3h0M370.2 688.5h0M316 687.2h0M384.2 757.4h0M448 752.9h0M337.9 795h0M366.1 751.4h0M367.3 665.8h0M334.6 690.5h0M355.9 731.7h0M443.2 755.4h0M433.5 776.7h0M411.8 689.4h0M389.8 726.3h0M433.2 720h0M419.5 709.1h0M375.3 794.1h0M419 754.1h0M369.7 737.6h0M423.7 695.5h0M358.4 768.3h0M306.2 693.9h0M317.6 701h0M336.9 675.5h0M402 736.1h0M374.2 743.5h0M394.7 789.4h0M423.7 703.6h0M442 780.5h0M334.2 752.6h0M404.1 694.2h0M409.1 694.1h0M449.7 731.3h0M357.5 789.2h0M411.7 692.5h0M356.2 698.5h0M399.1 769.2h0M372.4 742.5h0M452.5 757.2h0M366.6 731.3h0M317 693.3h0M405.5 796.3h0M451.3 761h0M354.9 715.7h0M425.1 725.3h0M370.3 667h0M354.9 795.6h0M420.5 781.4h0M415.3 706.8h0M452.8 752.8h0M377.9 663.5h0M364.7 800.3h0M360.7 688.1h0M376.9 764.1h0M419.2 767.9h0M416.4 751.8h0M370 773.9h0M439.8 764.2h0M353.9 678.3h0M425 749.8h0M398.6 795.7h0M408.7 778h0M404 767.2h0M418.1 761.4h0M437.6 776.9h0M371.7 772.6h0M400.3 690.5h0M433.7 751h0M399.1 798.4h0M427.9 748h0M427.3 763.5h0M433 714.5h0M382.5 753.2h0M360.2 803.1h0M373.2 750.9h0M381.7 774.1h0M357.9 739.9h0M375.3 782.7h0M382.7 769.1h0M408.3 790.1h0M348.5 674.9h0M440.2 727.9h0M358.2 691.9h0M368 769.7h0M327.4 713.5h0M369.9 787h0M310.2 692h0M391.8 667.5h0M402 778.6h0M374.2 663h0M357 777.6h0M374.7 699.9h0M342.7 775h0M377.1 697.1h0M401.8 759.6h0M398.2 745.7h0M374.7 689.9h0M412.8 787h0M377.6 803.7h0M390.8 797.4h0M349.7 680.1h0M427 732.6h0M439.9 775.1h0M403.3 700.3h0M410.1 748.9h0M444.7 758.9h0" stroke="#00BFC4" stroke-width="3.6" stroke-linecap="round"/>
<path d="M530.2 630.4h0M500 709.9h0M431 690.6h0M490.6 701.3h0M433.5 668.8h0M522.6 619.5h0M540.2 611.5h0M459.2 649.9h0M461.8 630.3h0M555.1 634.7h0M398.4 642.9h0M476 634.5h0M480.8 651.4h0M488.2 649.9h0M469.4 661.2h0M489.1 667.1h0M455.8 686.2h0M507.3 642.3h0M482.6 639.2h0M585.6 637.1h0M436.9 692.7h0M514.6 621h0M480.2 651.6h0M478.3 626h0M421.4 648.2h0M565.5 658.9h0M442.9 630.2h0M482.5 644.2h0M415.9 649.8h0M554.5 613.5h0M505.5 603.6h0M517.2 648.8h0M464.3 704h0M414.3 660.6h0M491.4 680.6h0M549.2 620.4h0M434 659.4h0M390.3 647.4h0M504.4 639.8h0M429.1 681.7h0M531.8 609.8h0M487.2 643.5h0M475 643.9h0M488.3 620.8h0M458.4 677.5h0M497.8 704.5h0M470.7 648.3h0M559 652.1h0M476.7 616.3h0M465.5 707.7h0M428.8 685.4h0M465.1 673.7h0M486.8 651.5h0M496.7 704.3h0M503.1 611.6h0M544.7 636.4h0M490.2 665.5h0M504 626.4h0M426.1 659.9h0M590.5 629.7h0M532.2 651.3h0M575.9 629.2h0M474.9 635.8h0M501.3 640.1h0M486.3 696.9h0M451 640.6h0M490 618.4h0M547.4 612.5h0M424.2 678.9h0M577.9 627.1h0M453.2 637.5h0M474.6 695.5h0M523.7 615h0M437.1 663h0M407.8 664.6h0M573.5 663.5h0M519 613.6h0M529.9 627h0M420.5 652.8h0M507.8 605.9h0M496 625.1h0M495.7 638.8h0M446.4 628h0M488.8 610.2h0M476.9 697.4h0M441 649.3h0M510.7 629.9h0M478.2 615.2h0M446.9 627.5h0M550.2 655.9h0M456.7 633.1h0M459.3 672.5h0M465.1 623.6h0M481.6 620.7h0M526.3 607.3h0M543.8 604.8h0M445.4 692.6h0M420.8 656.3h0M554.9 660.9h0M486 629.8h0M580.7 653.9h0M498.3 645h0M580.2 624.8h0M496.7 696.8h0M523.2 703.6h0M408.5 664.6h0M484.8 715.6h0M568.4 676.3h0M469.6 680.3h0M466.8 657.9h0M499.7 652.8h0M462.9 648.3h0M452.9 657.6h0M505.6 637h0M507 649h0M465.9 648.7h0M566.9 670.8h0M539.8 694.4h0M449.9 668.3h0M480.8 717.5h0M471.8 684.3h0M555.3 626.7h0M535.9 621.5h0M405.5 656.3h0M441 656.3h0M471.5 682.9h0M473.9 713.6h0M458.1 696h0M452 692.5h0M488.5 607.2h0M579.9 629.8h0M463.6 660.3h0M532.2 658.4h0M457.5 639.7h0M451.2 656.2h0M452.9 682.5h0M413.4 657.2h0M573.8 623.2h0M539.2 691.2h0M405.5 661.3h0M443.5 672.5h0M443.4 687.3h0M519.7 601h0M492.7 619.6h0M580.9 629.5h0M431.7 663h0M468.2 644.5h0M528.3 699.7h0M502.2 634.7h0M550 618.4h0M506.9 656.8h0M461.3 700.7h0M496.3 682.5h0M510.9 611.4h0M464.8 698h0M459.7 684.6h0M556.7 616.3h0M571.9 612.4h0M519.6 621.4h0M433.8 693.6h0M552.7 683.3h0M464.5 670.9h0M494.8 625.7h0M583 652.3h0M578.5 640.8h0M450.4 702.6h0M456.9 704.1h0M592.2 639.4h0M526.3 608.4h0M479.6 600.7h0M558 614.4h0M444.2 649h0M500.4 617.3h0M472.9 627.4h0M580.8 657.8h0M486 638.3h0M514.1 623.3h0M444.9 683.2h0M554.9 645h0M431 668.7h0M499.3 617.9h0M494.4 624.4h0M430.3 684h0M465.7 700.8h0M511.8 695h0M467.5 658h0M515.3 625.7h0M550.9 612.5h0M435.7 633.1h0M505.8 663.3h0M586.8 628.1h0M556 687h0M551.3 617.6h0M514.7 656h0M513.6 601.2h0M572 620.8h0M468 698.7h0M553.9 653.4h0M504.1 686.1h0M548.5 609.7h0M442.2 657.9h0M504 624.1h0M501 607.3h0M485.5 708h0M468.5 671.5h0M406.6 649.7h0M495.6 708.9h0M445.9 685.5h0M470 620.1h0M482 669.8h0M401.5 651.1h0M464.5 669.9h0M534.6 636.2h0M463.9 623h0M554.2 653.6h0M480.2 671h0M413.5 664.1h0M527.2 633.6h0M567.2 636.3h0M403.6 662.7h0M473.7 704.5h0M430.7 644.6h0M594.8 635.7h0M458.5 699.2h0M527.8 685.9h0M517.4 699.8h0M560.7 617.4h0M571.3 648.5h0M409.2 658.9h0M490.9 646.4h0M498.1 608.9h0M491.3 640.1h0M484.3 639.7h0M505.6 637.4h0M560.8 605.4h0M466.1 608.5h0M447.7 638.8h0M544 625h0M490.9 646.9h0M515.6 614.6h0M590.9 643.8h0M463.9 638.7h0M447.2 666.2h0M492.3 637.6h0M506 698.7h0M530.8 653.5h0M463.1 692.6h0M484.8 612.2h0M495.1 645.7h0M473.8 602.6h0M494.9 645.6h0M549 643.9h0M496.8 657h0M459 683.5h0M452.5 619.5h0M433.7 641.4h0M479.7 690.5h0M565.1 609.7h0M576 647.6h0M519.8 626.1h0M532.1 614.7h0M498.6 633h0M488.4 681h0M482.3 640.7h0M426.5 662.5h0M465.9 643.6h0M545.9 636.2h0M509.7 705h0M460.4 632.9h0M527.2 639.3h0M457.8 645.6h0M455.8 625.9h0M494.8 702.9h0M451.3 625.8h0M557.6 612.5h0M494.2 620.8h0M587.1 653.3h0M459.8 683.9h0M555.1 630.1h0M455.9 678.6h0M466.5 708.5h0M474.4 684.3h0M450.3 698.5h0M508 636.7h0M474.2 616.2h0M467.8 641.8h0M506.2 640h0M590.6 654.6h0M510.3 657.6h0M443.4 657.9h0M568 628.8h0M457.5 637h0M507.9 699.7h0M550.3 645.6h0M447.4 635.5h0M458.6 611.4h0M487.2 633.6h0M486.5 643.4h0M559.8 619.5h0M584.7 657.3h0M501.9 596.3h0M392.4 654.5h0M544.8 630.7h0M509.4 640h0M488.1 630.3h0M500 655.3h0M522.3 645.6h0M564.1 634.9h0M469 700.8h0M514.6 624h0M562 638.7h0M477.6 688.4h0M464.6 708.3h0M578.5 660.1h0M417.7 668.8h0M500.2 651.6h0M512.1 621.7h0M473.1 646.7h0M510 608.1h0M463.2 634.2h0M486.9 706h0M566.3 660.2h0M460.7 632.5h0M514 609.8h0M538.4 647.6h0M444.2 696.4h0M536.2 640.2h0M474.8 657.4h0M440.1 663.1h0M475.6 604.9h0M565 622.5h0M455.8 654.6h0M497.6 686.5h0M506.5 632.7h0M465.2 672.4h0M463.8 702.5h0M491.2 652.8h0M484.9 667.4h0M537.5 654.1h0M476 717.2h0M490.8 694.2h0M409 640.3h0M583.5 622.8h0M439.5 687.2h0M447.6 649.5h0M411 654.6h0M484.3 696.4h0M520.8 636.1h0M460.4 662.2h0M438.1 679.9h0M526.2 698.9h0M485.4 699.8h0M569.6 660.6h0M527.2 602.8h0M494.4 673.8h0M474 707.9h0M574 667.1h0M461.8 614.2h0M428.8 670.5h0M513.6 619.1h0M474.2 697.9h0M503.5 617.5h0M454.1 660.6h0M557.3 606.5h0M414.8 649h0M529.2 656.2h0M522.9 622.6h0M557.2 623.3h0M456.6 687.6h0M573.2 619.8h0M474.2 628.3h0M461.8 622.3h0M501.3 668.9h0M427.5 675.7h0M558.2 632.9h0M514.5 616.7h0M485 647.1h0M491.7 670.1h0M550.9 643.8h0M452.5 658.8h0M494.6 684.9h0M494.1 649.4h0M511 650.4h0M503.2 644.7h0M524.6 638.7h0M516.1 611h0M496.3 670.9h0M546.1 605.6h0M523.7 701.4h0M581.9 632.3h0M497.6 640.5h0M489.3 703.4h0M500 648.2h0M445.6 691h0M446.9 695h0M546.7 658.5h0M462.9 609.1h0M505.7 605.5h0M464.7 696.9h0M502.2 621.6h0M508.6 683h0M444.6 673.7h0M489.1 703.5h0M498.1 630.8h0M477.3 605.5h0M554.9 626.8h0M465.1 654.7h0M578.2 637.8h0M541.9 691.8h0M561.8 659.3h0M512.9 610.7h0M540.9 612.5h0M492.8 714.3h0M453.9 660.1h0M465.2 679.7h0M518.7 624h0M455.6 615.8h0M560.5 607.4h0M513.5 603.5h0M452.4 699.5h0M473.2 679.4h0M485.9 623.7h0M413.3 656.4h0M521.1 659.6h0M485.2 629.8h0M502.8 696.9h0M478.2 668.5h0M494.3 604.5h0M589.6 632.8h0M569.8 646h0M526.1 624.2h0M391.4 649.4h0M444.2 654.6h0M479.2 605h0M563.7 634.7h0M470.7 687.8h0M557.5 604.9h0M464.1 677.4h0M469.1 611.3h0M476.6 702.7h0M497 657h0M590.8 648.2h0M452.5 644.8h0M529.3 613.4h0M454 695.5h0M494.5 646.9h0M478.5 701.9h0M443 648.1h0M566.9 622.4h0M586.4 623.1h0M421.4 642.4h0M497 638.6h0M483.4 692.2h0M565.3 614.3h0M501.3 669.2h0M495.8 643.4h0M567.5 632.3h0M513.9 609.3h0M525.6 621.1h0M579.6 655.8h0M503.7 702.8h0M492.3 711.4h0M480.2 647.3h0M471.4 675.8h0M512.4 632.9h0M514.7 633.7h0M518.4 617h0M549.9 639.8h0M464.1 619.6h0M543 604h0M570.9 642h0M392.7 653.4h0M579.1 661.3h0M492.2 600.3h0M451.8 688h0M560.9 672.3h0M565.1 644.6h0M509.1 644.5h0M426.9 678.8h0M511.7 655.1h0M396.7 641h0M502.8 643.2h0M579.3 633.9h0M488.5 671.8h0M485 597.2h0M523.1 695.4h0M405.3 664.8h0M560.4 613.4h0M509.9 600.2h0M446.3 627h0M550.4 634.9h0M500.4 693.8h0M437.1 634.8h0M474.3 614.5h0M449.7 667.5h0M396.9 646.3h0M447.1 639.6h0M463.7 651.1h0M458.9 654.9h0M493.3 660.2h0M553.3 631.9h0M425.6 657.2h0M465 699.7h0M468.9 702.2h0M458.7 696.9h0M544 649.8h0M395.7 651.6h0M472.4 680.2h0M465.5 647.9h0M445.6 677.6h0M456.3 684.8h0M464.7 635.3h0M523.1 644.1h0M555.8 604.6h0M478.2 671.8h0M432.9 636.4h0M499.6 643.6h0M448.3 636.7h0M493.9 651.9h0M414.8 664.8h0M540.4 608h0M499.1 661.3h0M519.2 629h0M510.6 653.9h0M421.6 683.4h0M480.2 649.7h0M467.5 694.6h0M484.5 669.3h0M536 604h0M500.1 649.7h0M486.7 695.9h0M507 602.5h0M554.7 626.1h0M552.4 626h0M465.4 704.9h0M426.8 650.2h0M439.1 632h0M502.9 641.3h0M491.9 637.4h0M515.8 611.5h0M460.1 655.3h0M523.2 619.3h0M520.3 606.9h0M440.7 678.2h0M430.1 640.7h0M461.4 612.5h0M433 660.9h0M455.1 685.5h0M534.3 625h0M544 650.5h0M498.9 635.4h0M456.1 641.8h0M486.3 614.3h0M497.8 649.2h0M462.5 638.6h0M462.2 610.5h0M573.4 613.3h0M469 634.9h0M494.1 600.9h0M526.7 634.9h0M551.6 616.4h0M594.7 633.6h0M504.9 703.2h0M563.6 625.3h0M535.7 601.3h0M409.7 659.7h0M545.4 647h0M481.6 693h0M488.5 628.9h0M426.3 669.2h0M583.1 640.8h0M466.4 611h0M453 670.6h0M508.2 615.3h0M454.7 698.5h0M467 646.8h0M525.8 683.1h0M523.7 614.1h0M411.9 671.9h0M587.8 629h0M532.1 622.7h0M558.5 652.9h0M484.3 683.6h0M498.8 609.2h0M395.5 645.2h0M520.6 651.7h0M587.4 631.6h0M420.6 678.7h0M565.6 631.5h0M530.6 651.3h0M488.8 608.9h0M534.5 616.6h0M521.6 653.4h0M469.5 653.8h0M549.3 642.7h0M532.5 698.8h0M478.7 711.9h0M408 668.8h0M453.9 668.9h0M507.2 652.5h0M536.9 639.5h0M567.9 655.4h0M437.7 632.1h0M494.1 606.1h0M508.4 646.7h0M558.7 661.3h0M587.9 630.5h0M558.5 654.6h0M471.7 712.3h0M508.6 707.6h0M445.1 670.8h0M461.4 641.8h0M538.4 632h0M509.9 634.9h0M527.5 638.9h0M462.7 611.4h0M442.8 689.6h0M499.5 703.7h0M462.7 623.7h0M490 679.3h0M479 605.1h0M538.2 607.4h0M487.9 706.1h0M415.5 666.4h0M531.9 609.3h0M489.2 707.3h0M485.4 690.2h0M413.3 675.4h0M451.6 637.3h0M496.4 685.8h0M431 644.3h0M501.9 611.7h0M503.5 708h0M454.1 653.9h0M428.6 691h0M517.5 642.3h0M518.7 623.7h0M457.5 645.2h0M461.5 648.7h0M564.3 666.3h0M486.1 702.7h0M446.2 650.8h0M440.7 662.3h0M418.3 683.4h0M508.9 622.9h0M487.1 715.5h0M500.8 710.7h0M435.7 633.8h0M465.1 708.4h0M466.9 713.5h0M491.5 671.6h0M534.8 643.3h0M581.9 632.3h0M502.8 607.9h0M553.9 603.1h0M422.7 647h0M543.1 675.2h0M534 646.3h0M546.3 605.6h0M596 635h0M501.5 627.8h0M525.6 624.7h0M506.8 615.7h0M562.8 610.3h0M532.8 698.7h0M506.4 641.7h0M454.9 616.2h0M484.5 609.6h0M454.5 653h0M495.7 621.9h0M472.6 646.9h0M510.2 664.2h0M597.8 641.2h0M502.8 652h0M512.2 643.9h0M420.2 649.6h0M454.8 659.5h0M484.7 618.2h0M572.6 628h0M409.2 644.1h0M405.9 657.7h0M460.7 707.7h0M479.6 665.4h0M531.1 608.5h0M571.2 618.5h0M447.4 676.8h0M526 615.8h0M441.3 659.8h0M419.6 674h0M437.1 643.4h0M590.6 627.8h0M499.1 662.7h0M475.4 649h0M580.3 646.5h0M408.6 650.3h0M473.9 621.8h0M521.9 634.4h0M551.5 645.7h0M532.5 628.8h0M511.8 639.4h0M423 689.1h0M568.8 667h0M541.9 638.4h0M537.2 622.8h0M561.8 635.8h0M424.8 652h0M569.8 640h0M522.6 616.8h0M387.8 651.6h0M561.6 641.2h0M552.6 631.6h0M440.5 693.6h0M541.4 651.5h0M570.8 671.6h0M560.7 631.9h0M444.7 653h0M447.8 682.2h0M493 628.9h0M450.7 618.7h0M542.8 610.1h0M479.3 625.6h0M449.3 697.4h0M468.7 663h0M391.5 651.5h0M426.4 666.5h0M476 664.7h0M428.8 659.4h0M577.8 634.8h0M454.1 685.9h0M539.6 614h0M564.9 663.4h0M465.7 634.7h0M465.7 617.6h0M444.7 685.7h0M527.9 616.5h0M553.5 659.9h0M437.8 690.1h0M541.3 617h0M489 666.2h0M545 687.1h0M504.9 710.1h0M561.5 645.1h0M463.7 648.6h0M482.2 642.9h0M393.2 640.8h0M571.3 615.7h0M467.4 685.4h0M540.2 691.2h0M555.4 609.1h0M508.9 651h0M467.1 668.8h0M479.4 621.7h0M523.7 641.2h0M552.9 604.4h0M429.9 643.9h0M592.7 649.5h0M435.5 657.6h0M574.6 666.4h0M458.1 679.2h0M467.6 628.6h0M455.9 694.7h0M439.7 649.6h0M496.2 598.9h0M450.4 698.7h0M529.4 632.1h0M463.1 690.2h0M530.7 696.2h0M491.6 635.4h0M514.9 653.6h0M456.3 683.8h0M476.2 713.2h0M585.1 628.1h0M495.8 626.2h0M459.5 617.9h0M550.2 618.5h0M454.1 670.6h0M553.4 624.8h0M463.7 629.5h0M437.6 672.5h0M470.8 688h0M424.1 689.7h0M593.4 640.4h0M476.3 611.2h0M418.5 685.6h0M565 679.1h0M491.3 610.4h0M478 666h0M549.8 629.7h0M421.2 647.2h0M481.8 703.6h0M563.1 623.9h0M432.7 692.6h0M593.4 639h0M419.4 674.6h0M504.4 627.7h0M473.7 637.8h0M502.4 609.7h0M485.7 685.5h0M575.2 634.8h0M443.7 678h0M474.8 601.2h0M421.6 670.2h0M424.5 688.9h0M472.5 639.3h0M477.3 716.4h0M442 682.9h0M515.6 615h0M430.4 651.2h0M582.8 649.2h0M582.5 641.7h0M584.5 623.3h0M566 643h0M560.5 630.9h0M422.6 674.1h0M464.3 696.5h0M449.8 648.3h0M396.3 644.4h0M489.7 603.4h0M583.8 654.1h0M497.8 699.2h0M528.7 640.3h0M475.3 633.5h0M523.4 644.1h0M565.8 649.4h0M576.8 663.1h0M441.3 692.5h0M572.9 609.6h0M582.1 636.3h0M502.1 621.6h0M586 632.6h0M473.4 720.9h0M471.8 626.4h0M537.5 601.1h0M547.1 629.8h0M537.5 615.4h0M390.8 639.9h0M495.2 605h0M479.3 634.9h0M457.1 622.9h0M451.5 656.8h0M526.7 691.9h0M573.6 613.3h0M573.6 622.2h0M445 639.7h0M517.8 628.7h0M477.7 709h0M473.5 634.9h0M512 652.3h0M478.7 640h0M494.6 682.1h0M403.5 647.9h0M511 601.9h0M494.5 631.5h0M449.5 656.7h0M468.9 698.7h0M506.2 708.9h0M470.7 623.5h0M545.8 601.3h0M418.1 643.3h0M572.2 627.2h0M417.7 679.9h0M474 687.3h0M540.1 643.8h0M449.9 619.6h0M454.8 662.6h0M443.2 683.8h0M413.4 642.7h0M527.7 633.9h0M531.1 623.7h0M549.7 645.3h0M499.9 657.3h0M451.2 698h0M423.5 685.5h0M484.7 705.2h0M415 646.1h0M586 645.8h0M400.8 654.9h0M528 634.4h0M421.5 677.6h0M563.5 632.2h0M475.3 600.4h0M467.1 628.7h0M401.5 658.1h0M423.5 666.5h0M528.4 605.1h0M480.4 611.9h0M524.8 601.9h0M434.3 647.8h0M477.2 645.8h0M482.9 614.7h0M570.5 617.2h0M460.2 676.1h0M561 673.5h0M477.9 644.8h0M437.2 656.6h0M460.5 673.6h0M525.2 654.9h0M564 630.1h0M581.7 659.2h0M454 644.9h0M550.7 602.4h0M511.2 608.8h0M596.7 641.2h0M494.2 675.3h0M555.3 651h0M555.5 601.6h0M421.2 667.5h0M464.5 705.5h0M560.9 631.8h0M584.8 624.2h0M483 623.9h0M391 653.2h0M561.8 648.4h0M526.2 653.3h0M493.9 668.3h0M590.7 649.3h0M439.6 678.4h0M529.4 618.6h0M409.3 665.9h0M493.3 624.8h0M414.2 659.6h0M436.6 692.5h0M480.6 713.9h0M579.9 618.3h0M474 673h0M485.7 669.1h0M532.8 699.4h0M435.1 663.1h0M475.6 626.1h0M457.5 641.2h0M446.2 694.8h0M523.1 629.3h0M467.3 663.9h0M493.6 713.8h0M446.5 632h0M394.5 650.2h0M478.8 628.3h0M553.1 652.7h0M520.3 607.5h0M482.6 693.2h0M533.7 625.2h0M471.8 697.9h0M457 706.4h0M453.6 707.7h0M510.7 612.6h0M585.5 655.6h0M442.9 686.7h0M585.5 644.9h0M487.4 647.9h0M523.9 632.6h0M444.7 697.9h0M431.3 679.5h0M389 643.5h0M542.4 613.2h0M246.9 650.7h0M253.7 642.7h0M245.3 645.1h0M248.8 645.1h0M241.7 645.7h0M256.7 641.1h0M241.7 647.2h0M253.6 651.5h0M256.1 647.6h0M247.5 651.4h0M252.2 642.8h0M256.9 638.2h0M239.5 645.1h0M251.2 650.6h0M238.3 647.7h0M250.2 645.8h0M251.3 649.2h0M268.3 638.1h0M248.3 652.9h0M246.9 656.8h0M253 655.1h0M241.5 652.1h0M253.1 655.1h0M255.1 654.4h0M242.3 656.5h0M249.8 647.6h0M256.8 648.8h0M257.9 643.9h0" stroke="#B79F00" stroke-width="3.6" stroke-linecap="round"/>
<path d="M135.9 894.7h0M138.4 827.3h0M130.4 891.1h0M126.2 843.9h0M117.3 863.2h0M112 851h0M139.7 892.8h0M137.5 859.7h0M133.2 880.8h0M132.2 849.8h0M118.2 825.4h0M141.9 820.1h0M124.4 875.6h0M117.3 832.2h0M121.8 845.1h0M121.4 896.1h0M130.3 817.3h0M121.1 889h0M118.7 888.4h0M142.9 823.8h0M136.8 843.5h0M125.2 871.3h0M130.6 851.3h0M128 835.2h0M146.1 834.2h0M134.4 826.4h0M117.2 835.5h0M147.9 828.6h0M130 886h0M135.9 852.3h0M131.8 846.9h0M131 861.7h0M142.9 816.9h0M112.1 876.8h0M136.1 895h0M117.3 888h0M139.8 827.4h0M141.6 815.6h0M141.5 862.2h0M125.8 831.5h0M119.5 862.8h0M127.8 825h0M133.4 838.3h0M137.7 813.9h0M126.8 866.8h0M127.7 855.2h0M108.4 863.1h0M114.2 879.7h0M131.2 832.9h0M140.9 837.2h0M130.8 852.2h0M126.8 832.6h0M139.8 817.7h0M132.4 827.8h0M150.9 820.1h0M119.7 857.4h0M121.5 870.3h0M138.7 819.9h0M122 828.3h0M122.8 832.3h0M117.8 873.5h0M131.8 816.9h0M128.7 862.4h0M117 852.9h0M126.8 815.5h0M120.6 834.7h0M131.6 897.4h0M138.6 883.5h0M126.9 821.7h0M135.5 823.2h0M130.1 822.2h0M131.2 833h0M148.5 821.4h0M117.6 845.1h0M131.2 834.1h0M129.9 869.1h0M130.2 854h0M122.8 820.5h0M126.7 850.3h0M115.6 877.3h0M109.2 861.4h0M146.4 827.4h0M111.7 837.3h0M141 892.9h0M122.2 896.4h0M111 857h0M118.3 845.5h0M130.6 894.7h0M124.3 828.4h0M133.1 853.5h0M127.6 898.9h0M127.2 855.6h0M117.6 892.3h0M127 898.6h0M111.8 865.7h0M132.1 825.7h0M127.4 834.1h0M147.9 823.1h0M111.5 871.3h0M118.5 838.5h0M124 820.8h0M123.4 859.4h0M122.4 821.4h0M128.4 880.8h0M115 888h0M108.3 863.5h0M126.2 867.6h0M109.6 863.9h0M130.8 877.3h0M126 834.9h0M125.4 830h0M108.9 854.8h0M144.6 818.9h0M140.3 858.5h0M134.1 889.7h0M124.2 856.5h0M138.3 893.2h0M118.3 833h0M127.9 838.6h0M116.3 855.7h0M119.3 829.3h0M137.4 891.6h0M132.5 891h0M133.8 841.8h0M145.1 829.7h0M129.6 897.4h0M138.6 857.4h0M141.4 861.4h0M111.6 874.8h0M141.4 866.1h0M121.8 878.6h0M119.7 849h0M121.1 874.2h0M131.9 860.5h0M118.3 846.2h0M134.9 823.3h0M118.4 839.8h0M125.4 819.5h0M140.2 875.3h0M139.2 826.2h0M128 816.2h0M139.1 887.5h0M123.9 873.8h0M119.6 872.2h0M122.8 841.2h0M110.8 871h0M128.6 894.2h0M120 855.9h0M119.9 847.2h0M147.1 821.8h0M115.6 847.9h0M125.9 834.7h0M110.5 867.1h0M129.7 885.5h0M124 880.9h0M124 858.3h0M143 885.3h0M114.1 878.2h0M120.5 847.7h0M123.3 875h0M112.2 847.2h0M138.3 826.4h0M130.7 827.1h0M140.7 824.1h0M141.8 816.4h0M107.1 859.9h0M137.8 820.3h0M138.4 873.4h0M125.9 867.7h0M112.2 855.2h0M139.2 850.1h0M118.1 849.3h0M124.4 894.5h0M120.2 888.4h0M148.2 827.8h0M135.5 894.6h0M143.4 879.1h0M130 896.4h0M138.2 820.2h0M122.7 892.2h0M132.4 873.2h0M125.3 890.8h0M139.2 890.6h0M148.4 817.8h0M112.8 863.5h0M123.3 867.6h0M126.2 853.3h0M134.8 861.1h0M133.4 840.5h0M119.8 827.8h0M126.7 815h0M127.3 814.3h0M124.2 844.1h0M133.3 816.8h0M118.6 889.8h0M132.9 834h0M140.5 834.7h0M116.7 859.5h0M130.4 867.2h0M136.8 844.6h0M129.2 823.9h0M122.5 855.2h0M107.7 858.2h0M133.7 867.7h0M127.3 888.5h0M142.1 885.4h0M113.3 841.9h0M129.1 895.5h0M121.6 877.7h0M111.2 881.3h0M118.2 820.1h0M125.2 896.7h0M141 857.3h0M133.3 834.9h0M126.3 879.9h0M108.7 849.4h0M118.5 820.1h0M118.8 854.8h0M127.2 852.8h0M121 873.5h0M109.2 870h0M117.6 890.5h0M123.7 862.1h0M130.5 875h0M139.8 887.8h0M132.1 889.2h0M127.2 839.2h0M120.9 851.1h0M115.6 856.4h0M125 895.7h0M110.7 851.7h0M160.5 894.3h0M156.1 896.7h0M140.7 893.7h0M151.9 898.3h0M150.5 899.5h0M149.2 899.6h0M160.3 900.9h0M146.9 897.4h0M148.3 892.4h0M153.3 899.5h0M144.2 890.3h0M145.5 905.2h0M145.4 897.8h0M138.7 891h0M148.5 890.4h0M147.4 889.6h0M151.2 898.7h0M143.6 891.9h0M143.4 890.6h0M157.1 904.9h0M150.5 891.8h0M143 892.4h0M153.4 904.5h0M139 887h0M165.7 904.7h0M159 903.6h0M162.5 903.4h0M160.6 901.7h0M158.5 903.3h0M168.2 902.5h0M163 900.7h0M164.6 899.2h0M161.1 903.4h0M166.3 904.7h0M161.9 900h0M165.7 901.1h0M159.5 904.7h0M155.3 902.4h0M157 898.8h0M168.7 908.2h0M164.3 901.2h0M159.7 902.5h0M157.6 899.3h0M158.4 902.5h0M157.8 902.4h0M161.8 900.4h0M176.9 907.8h0M168.2 906.6h0M170.8 903.4h0M167.4 905.7h0M170.7 906h0M171.5 900.5h0M175.9 908.2h0M179.9 913.4h0M176.6 909.3h0M175.5 907.1h0M175.3 909.9h0M170.6 904.1h0M178.6 910.7h0M169 910.8h0M178.8 906.3h0M173.2 905.9h0M167.8 908.1h0M168.6 901.2h0M170.9 904.7h0M188.1 918.6h0M187.8 918.4h0M181.2 918.4h0M180.9 910.8h0M187.3 924.2h0M181.5 908.6h0M178.6 910h0M179.7 916.4h0M185.4 919.8h0M184.6 910.6h0M185 922.9h0M187.8 915.8h0M180.9 913.9h0M179.8 911.1h0M184.6 909.7h0M180.6 916.2h0M184.6 914.4h0M187.5 918.4h0M184.5 913.3h0M185.4 917.5h0M183.9 923.7h0M185.2 927.3h0M191.9 927.7h0M182.8 920.8h0M196 931.1h0M187 921.8h0M191.4 928.5h0M192 930.4h0M192.7 920.2h0M194 931.2h0M181.4 920.4h0M193.1 928.8h0M192.9 926.6h0M187.8 918.6h0M188.9 926.4h0M188.2 921.5h0M185.2 921.3h0M190 930.2h0M191.4 928.9h0M189.3 924.9h0M189.4 922.3h0M197 931.8h0M198.5 934.4h0M196 937.9h0M200.9 941.2h0M200.5 937h0M190.5 934.6h0M196.9 933.1h0M201.1 937.4h0M200.5 935h0M199.7 941.7h0M195 931.6h0M199.8 933.6h0M204.5 939.6h0M200.6 936.8h0M197.6 931.4h0M201.8 938.5h0M200.6 937.1h0M198.8 935.5h0M196.3 928.7h0M199.8 935.6h0M197 934.5h0M209.7 942.8h0M206.4 939.3h0M209.3 941.5h0M216.5 943.6h0M202.8 940.9h0M213 944.8h0M208.3 939.7h0M205.4 938.1h0M202.1 939h0M215.3 946.3h0M211.5 947.9h0M213.2 943.5h0M205.3 945.4h0M212 945.3h0M212.1 941.3h0M207.5 942.7h0M216.2 948.8h0M212.7 942.6h0M209.7 945.1h0M206.3 945.4h0M208.2 940h0M220.2 948.2h0M224.1 949.2h0M220.1 945.1h0M212.5 950.2h0M221 946.3h0M219.9 950.1h0M215.5 943h0M216.6 952.6h0M212.6 941.3h0M221.2 944.6h0M222.4 949.6h0M216.2 948h0M224.8 948.6h0M214.5 951.2h0M228.6 943.4h0M214.8 953.3h0M224.6 950.2h0M182.7 916.5h0M176 922.8h0M187.5 915.8h0M188.3 928.4h0M193.2 920.1h0M183 930.1h0M192.5 924.7h0M183.5 920.2h0M188.1 914.3h0M178.3 921.9h0M179.6 924.5h0M178 914.1h0M182.6 929.5h0M185.7 926.2h0M193.3 921.6h0M185.5 915.4h0M179.2 919.9h0M180.2 914h0M181.3 919h0M184.1 919.2h0M178.5 920.7h0M190.2 920.5h0M184.2 919.3h0M183.3 921.1h0M185.4 920.7h0M179.4 924.8h0M176.3 919.6h0M191.6 920.5h0M185.6 913.4h0M188.1 919.7h0M186.5 916.2h0M181.7 920.4h0M205.4 938.2h0M208.6 959h0M205 938.9h0M204.6 948.2h0M208.8 956.6h0M210.4 945h0M214.3 948.6h0M218.3 946.4h0M205.2 958.2h0M206.3 953.9h0M208.8 954.8h0M197.7 950.1h0M205 951.7h0M211 952.9h0M197.1 953.5h0M199.8 944.3h0M195.3 952.2h0M200.6 951.1h0M213.3 946.5h0M217.5 946h0M213.1 943.8h0M198 950.3h0M207.3 959.5h0M196.2 955h0M214.7 942.5h0M208 955.7h0M218.3 948.1h0M196.8 955.9h0M197.3 950h0M200.2 950.6h0M201.6 954.7h0M197.4 943.5h0M210.5 945.3h0M198.8 948.5h0M195.3 950.9h0M217 944h0M209.3 956.7h0M216.4 951.5h0M209.4 940.8h0M200.7 958.8h0M211.7 950.9h0M198.8 942.8h0M113.8 788.1h0M118.8 761.6h0M117.6 767.1h0M111.4 789.7h0M108.5 756.8h0M111 762.6h0" stroke="#619CFF" stroke-width="3.6" stroke-linecap="round"/>
<path d="M130 790.9h0M129 797.6h0M131.1 792.5h0M132.5 788.4h0M130 797h0M126.9 791h0M128.2 792.8h0M128 795.5h0M132.9 795.5h0M134.7 791.5h0M127.4 797.3h0M133.7 795.6h0M127 792.7h0M127.3 795.7h0M124 796.6h0M126.8 789.1h0M129.2 790.4h0M132.3 791.9h0M126 791.3h0M129.7 791.4h0M127.6 795.9h0M130.8 790.5h0M125.7 796.4h0M131.9 798.7h0M126.1 796.3h0M128.3 797.2h0M121.9 791.2h0M132.2 794.6h0M126 793h0M129.2 795h0M130.7 789.2h0M128.9 796.3h0M127.5 794.2h0M131.3 793.1h0M131.5 795h0M132.3 796.8h0M132.3 796.4h0M127 793.3h0M128.8 789.1h0M128.7 801.3h0M127 797.5h0M134.3 791.3h0M127.4 800.2h0M127.6 798.5h0M128.4 793.3h0M129.3 804.8h0M132.1 800.3h0M129.6 792.8h0M125.5 795.2h0M131.9 792.8h0" stroke="#F564E3" stroke-width="3.6" stroke-linecap="round"/>
<circle cx="505.8" cy="798.4" r="5.6" fill="#F8766D"/>
<text x="526.5" y="805.4" font-size="19.5">0</text>
<circle cx="505.8" cy="821.6" r="5.6" fill="#B79F00"/>
<text x="526.5" y="828.6" font-size="19.5">1</text>
<circle cx="505.8" cy="844.8" r="5.6" fill="#00BA38"/>
<text x="526.5" y="851.8" font-size="19.5">2</text>
<circle cx="505.8" cy="868" r="5.6" fill="#00BFC4"/>
<text x="526.5" y="875" font-size="19.5">3</text>
<circle cx="505.8" cy="891.2" r="5.6" fill="#619CFF"/>
<text x="526.5" y="898.2" font-size="19.5">4</text>
<circle cx="505.8" cy="914.4" r="5.6" fill="#F564E3"/>
<text x="526.5" y="921.4" font-size="19.5">5</text>
<defs><filter id="hb" filterUnits="userSpaceOnUse" x="0" y="0" width="1750" height="1610" color-interpolation-filters="sRGB"><feGaussianBlur stdDeviation="0.8 0"/></filter></defs>
<text x="649.6" y="497" font-size="44" class="b">E</text>
<rect x="775" y="471.3" width="236" height="10" fill="#F8766D"/>
<text transform="translate(893 463) rotate(-45)" font-size="8.5" text-anchor="middle" fill="#222">0</text>
<rect x="1013" y="471.3" width="198" height="10" fill="#B79F00"/>
<text transform="translate(1112 463) rotate(-45)" font-size="8.5" text-anchor="middle" fill="#222">1</text>
<rect x="1213" y="471.3" width="186" height="10" fill="#00BA38"/>
<text transform="translate(1306 463) rotate(-45)" font-size="8.5" text-anchor="middle" fill="#222">2</text>
<rect x="1401" y="471.3" width="170" height="10" fill="#00BFC4"/>
<text transform="translate(1486 463) rotate(-45)" font-size="8.5" text-anchor="middle" fill="#222">3</text>
<rect x="1574" y="471.3" width="81" height="10" fill="#619CFF"/>
<text transform="translate(1614.5 463) rotate(-45)" font-size="8.5" text-anchor="middle" fill="#222">4</text>
<rect x="1658" y="471.3" width="9" height="10" fill="#F564E3"/>
<text transform="translate(1662.5 463) rotate(-45)" font-size="8.5" text-anchor="middle" fill="#222">5</text>
<g stroke-width="27.2" filter="url(#hb)">
<path d="M1347 505.3h1" stroke="#ff37ff"/>
<path d="M1254 505.3h1m9 0h1" stroke="#e632e6"/>
<path d="M1024 505.3h2m328 0h1m241 0h2" stroke="#cc2ccc"/>
<path d="M1019 505.3h1m229 0h1m57 0h1m47 0h1m75 0h1" stroke="#b226b2"/>
<path d="M806 505.3h1m1 0h1m15 0h1m6 0h1m10 0h1m3 0h2m3 0h1m4 0h1m15 0h1m5 0h1m14 0h1m4 0h2m4 0h1m8 0h2m8 0h1m16 0h1m5 0h1m5 0h1m8 0h1m4 0h1m3 0h2m6 0h2m6 0h1m26 0h2m1 0h1m1 0h1m3 0h1m5 0h4m1 0h2m5 0h3m2 0h3m5 0h8m1 0h1m3 0h6m1 0h4m2 0h2m6 0h3m1 0h1m4 0h2m1 0h1m4 0h1m1 0h3m12 0h2m1 0h3m4 0h3m1 0h3m1 0h1m1 0h1m1 0h2m2 0h2m4 0h3m1 0h3m1 0h2m4 0h1m2 0h2m1 0h2m2 0h6m2 0h3m5 0h2m1 0h1m3 0h1m7 0h1m4 0h7m2 0h2m3 0h4m1 0h8m2 0h7m1 0h4m1 0h6m1 0h1m4 0h5m2 0h1m2 0h1m2 0h1m1 0h1m1 0h7m3 0h12m2 0h2m2 0h1m1 0h1m1 0h3m1 0h3m4 0h2m2 0h2m1 0h1m2 0h7m7 0h2m5 0h1m5 0h7m1 0h2m1 0h4m1 0h1m1 0h6m1 0h8m1 0h1m3 0h4m2 0h1m1 0h5m1 0h1m4 0h2m2 0h2m2 0h1m2 0h4m4 0h2m2 0h1m4 0h1m3 0h1m2 0h1m1 0h1m6 0h2m1 0h3m2 0h2m7 0h3m5 0h5m2 0h2m1 0h2m1 0h2m3 0h1m5 0h2m2 0h1m1 0h1m4 0h2m6 0h1m4 0h1m1 0h1m18 0h1m2 0h2m2 0h3m1 0h1m3 0h1m1 0h11m2 0h4m2 0h1m2 0h2m1 0h1m2 0h6m1 0h3m2 0h2m2 0h1m1 0h14m1 0h2m1 0h1m2 0h2m1 0h6m1 0h2" stroke="#992199"/>
<path d="M996 505.3h2m53 0h1m26 0h1m37 0h1m71 0h2m50 0h2m30 0h2m37 0h1m7 0h1m3 0h1m20 0h1m12 0h1" stroke="#801c80"/>
<path d="M1015 505.3h1m1 0h1m3 0h1m64 0h1m11 0h1m41 0h1m35 0h1m30 0h1m12 0h2m43 0h1m44 0h1m4 0h1m13 0h2m22 0h1m5 0h1m28 0h1m70 0h1m52 0h2m20 0h1m68 0h1" stroke="#661666"/>
<path d="M906 505.3h1m141 0h2m22 0h1m12 0h1m16 0h2m6 0h1m1 0h1m7 0h1m13 0h1m11 0h1m13 0h1m22 0h2m16 0h2m28 0h1m31 0h1m17 0h1m11 0h1m52 0h1m2 0h2m9 0h2m9 0h1m70 0h1m104 0h1m2 0h1m5 0h1m45 0h1m11 0h2m25 0h1" stroke="#4c104c"/>
<path d="M897 505.3h1m7 0h1m12 0h1m13 0h2m3 0h2m97 0h1m26 0h2m19 0h1m15 0h2m3 0h1m9 0h1m52 0h1m6 0h1m23 0h1m4 0h1m21 0h1m34 0h1m16 0h1m12 0h1m14 0h1m6 0h1m12 0h1m6 0h1m11 0h1m28 0h1m6 0h1m54 0h1m8 0h1m17 0h2m20 0h1m23 0h1m13 0h1m6 0h1m38 0h1m72 0h1" stroke="#330b33"/>
<path d="M779 505.3h1m13 0h1m5 0h1m13 0h2m29 0h2m23 0h1m9 0h2m5 0h1m5 0h1m42 0h1m15 0h1m8 0h1m16 0h1m23 0h1m2 0h1m21 0h1m5 0h1m6 0h1m10 0h1m10 0h1m56 0h2m7 0h2m9 0h1m3 0h1m22 0h2m31 0h1m6 0h2m59 0h1m8 0h2m2 0h1m45 0h1m36 0h2m15 0h1m17 0h1m29 0h1m9 0h1m64 0h1m3 0h1m9 0h2m3 0h2m1 0h1m2 0h1m7 0h2m6 0h1m17 0h1m2 0h1m35 0h1m20 0h1m30 0h1m6 0h1m2 0h1m2 0h1" stroke="#1a061a"/>
<path d="M775 505.3h2m25 0h1m23 0h1m9 0h2m3 0h1m53 0h2m18 0h1m10 0h1m9 0h1m6 0h2m2 0h1m16 0h2m19 0h1m4 0h1m7 0h1m9 0h1m28 0h1m14 0h1m30 0h1m9 0h1m23 0h1m38 0h1m6 0h2m59 0h2m66 0h1m31 0h1m23 0h1m58 0h1m9 0h2m28 0h2m6 0h1m19 0h1m10 0h2m1 0h1m5 0h2m10 0h1m21 0h1m1 0h1m9 0h2m3 0h1m1 0h2m3 0h2m2 0h1m17 0h1m11 0h2m4 0h2m41 0h1m23 0h2" stroke="#000000"/>
<path d="M783 505.3h1m3 0h1m7 0h1m11 0h1m2 0h1m10 0h2m11 0h2m2 0h1m1 0h1m2 0h1m27 0h1m1 0h3m11 0h3m1 0h1m9 0h1m1 0h1m12 0h2m4 0h1m7 0h1m24 0h2m27 0h1m7 0h2m26 0h1m2 0h1m14 0h1m5 0h1m20 0h1m43 0h1m3 0h2m8 0h1m25 0h2m39 0h3m2 0h1m139 0h2m19 0h1m52 0h1m18 0h1m9 0h2m14 0h1m17 0h1m3 0h2m2 0h1m77 0h1m6 0h1m44 0h1m34 0h1m17 0h2" stroke="#1a1a00"/>
<path d="M796 505.3h1m3 0h2m25 0h2m20 0h2m2 0h1m4 0h1m1 0h2m2 0h1m2 0h1m14 0h1m11 0h1m15 0h1m30 0h2m2 0h1m4 0h1m17 0h1m7 0h1m18 0h1m47 0h1m37 0h2m9 0h1m59 0h1m44 0h1m5 0h1m5 0h2m72 0h1m117 0h1m17 0h2m3 0h1m32 0h1m2 0h1m10 0h1m7 0h1m1 0h1m17 0h1m11 0h1m7 0h1m12 0h1m4 0h1m6 0h2m6 0h1m7 0h1m78 0h1m26 0h1" stroke="#333300"/>
<path d="M777 505.3h2m1 0h2m2 0h1m4 0h1m1 0h1m6 0h1m24 0h1m8 0h1m50 0h3m16 0h1m4 0h1m13 0h1m6 0h2m4 0h1m18 0h1m4 0h2m7 0h1m1 0h1m3 0h2m8 0h1m4 0h1m5 0h1m14 0h1m67 0h1m51 0h2m14 0h1m23 0h1m2 0h1m233 0h1m8 0h1m14 0h1m15 0h1m31 0h1m9 0h1m39 0h1m26 0h1m62 0h2" stroke="#4c4c00"/>
<path d="M786 505.3h1m1 0h1m1 0h1m1 0h1m4 0h1m13 0h2m3 0h5m4 0h1m7 0h1m5 0h1m15 0h1m6 0h2m2 0h1m9 0h2m12 0h1m20 0h1m7 0h2m10 0h1m16 0h2m12 0h2m8 0h1m7 0h1m1 0h1m6 0h1m17 0h1m2 0h1m16 0h1m62 0h1m3 0h2m55 0h1m291 0h1m6 0h3m8 0h2m42 0h1m152 0h1" stroke="#666600"/>
<path d="M785 505.3h1m8 0h1m9 0h2m9 0h1m13 0h2m17 0h1m3 0h1m4 0h1m10 0h1m1 0h1m10 0h1m42 0h2m1 0h1m26 0h1m2 0h1m23 0h1m9 0h1m7 0h2m1 0h1m464 0h1m42 0h1m28 0h1" stroke="#808000"/>
<path d="M859 505.3h1m5 0h1m42 0h2m29 0h1m47 0h1m15 0h1m31 0h1m75 0h1m311 0h1m127 0h1" stroke="#999900"/>
<path d="M782 505.3h1m26 0h1m44 0h1m120 0h1m29 0h2" stroke="#b2b200"/>
<path d="M803 505.3h1m96 0h1m11 0h1" stroke="#cccc00"/>
<path d="M775 531.8h1m3 0h1m5 0h3m5 0h1m1 0h1m1 0h1m1 0h1m9 0h1m1 0h1m13 0h1m1 0h1m3 0h2m26 0h1m3 0h1m4 0h2m1 0h1m10 0h2m5 0h1m2 0h2m1 0h2m30 0h1m6 0h1m4 0h1m1 0h2m5 0h2m3 0h1m6 0h1m5 0h2m10 0h1m34 0h4m1 0h2m1 0h8m4 0h1m1 0h2m2 0h1m1 0h4m1 0h5m1 0h4m2 0h2m1 0h3m2 0h6m1 0h5m1 0h1m3 0h4m1 0h5m3 0h3m5 0h2m2 0h3m2 0h3m2 0h2m1 0h5m5 0h2m1 0h7m4 0h12m3 0h8m1 0h2m1 0h3m2 0h8m2 0h5m2 0h4m1 0h4m1 0h2m1 0h1m6 0h1m1 0h3m1 0h1m1 0h4m5 0h2m2 0h2m5 0h2m3 0h1m1 0h1m2 0h1m1 0h1m6 0h3m1 0h3m3 0h6m2 0h3m7 0h1m2 0h2m1 0h1m5 0h5m1 0h3m1 0h1m1 0h1m3 0h1m5 0h1m3 0h1m3 0h2m1 0h1m2 0h7m1 0h3m6 0h1m4 0h1m4 0h1m4 0h1m1 0h3m5 0h1m1 0h1m1 0h1m2 0h3m4 0h6m5 0h2m1 0h2m3 0h2m1 0h2m2 0h2m10 0h2m1 0h2m1 0h1m2 0h4m1 0h1m1 0h7m1 0h4m1 0h6m2 0h3m1 0h1m2 0h1m2 0h1m1 0h1m1 0h2m1 0h1m3 0h1m1 0h3m1 0h4m3 0h2m1 0h4m1 0h4m1 0h5m1 0h2m2 0h1m1 0h2m1 0h2m1 0h3m2 0h2m3 0h6m1 0h1m2 0h2m1 0h1m1 0h1m2 0h5m3 0h2m4 0h1m1 0h1m1 0h4m1 0h1m4 0h7m2 0h1m1 0h1m3 0h7m1 0h1m3 0h1m1 0h2m1 0h3m1 0h8m2 0h1m1 0h2m3 0h4m1 0h2m2 0h2m9 0h1m3 0h1" stroke="#661666"/>
<path d="M807 531.8h2m32 0h1m1 0h1m9 0h1m8 0h1m25 0h1m2 0h1m12 0h1m10 0h1m16 0h2m13 0h1m4 0h1m8 0h1m22 0h1m13 0h1m18 0h1m2 0h1m8 0h4m1 0h1m2 0h1m2 0h1m4 0h1m5 0h1m4 0h2m2 0h1m3 0h2m6 0h1m5 0h1m2 0h2m4 0h1m5 0h3m6 0h1m4 0h1m3 0h1m4 0h2m2 0h1m5 0h5m2 0h1m7 0h1m1 0h2m12 0h3m11 0h1m13 0h2m5 0h2m4 0h1m4 0h1m2 0h1m1 0h1m4 0h1m1 0h1m5 0h1m4 0h3m4 0h2m4 0h1m8 0h1m6 0h3m11 0h2m6 0h1m4 0h2m1 0h2m7 0h1m5 0h1m11 0h1m1 0h1m1 0h1m1 0h1m3 0h1m1 0h1m1 0h1m2 0h2m4 0h2m14 0h2m2 0h1m1 0h2m6 0h1m4 0h1m4 0h1m2 0h1m1 0h1m3 0h2m3 0h1m1 0h2m8 0h3m7 0h1m2 0h1m6 0h2m2 0h2m1 0h3m2 0h1m4 0h2m4 0h1m14 0h1m6 0h1m23 0h1m3 0h1m9 0h1m9 0h1m5 0h1m2 0h2m1 0h1m5 0h1m7 0h1m8 0h1m1 0h2m6 0h1m14 0h1m3 0h1m4 0h1m3 0h2m10 0h1m2 0h2m7 0h1m1 0h3m1 0h1m2 0h1m18 0h1m1 0h1m4 0h1m6 0h2m3 0h1m4 0h1" stroke="#4c104c"/>
<path d="M1649 531.8h2" stroke="#330b33"/>
<path d="M1099 531.8h1m3 0h1m140 0h1m8 0h1m33 0h2m9 0h2m33 0h1m76 0h1m13 0h1m2 0h1" stroke="#1a061a"/>
<path d="M791 531.8h1m48 0h1m20 0h1m139 0h1m227 0h2m9 0h2m49 0h1m56 0h1m97 0h1m26 0h1m7 0h1" stroke="#000000"/>
<path d="M798 531.8h1m7 0h1m48 0h1m46 0h2m5 0h1m13 0h1m63 0h1m124 0h1m132 0h1m22 0h1m27 0h1m9 0h1m12 0h1m29 0h2m5 0h1m19 0h1m13 0h1m93 0h1m15 0h2m7 0h1m19 0h1m30 0h1m15 0h1m8 0h2" stroke="#1a1a00"/>
<path d="M790 531.8h1m25 0h2m5 0h1m2 0h1m8 0h1m44 0h1m3 0h2m1 0h1m17 0h1m31 0h1m17 0h1m8 0h2m4 0h2m7 0h1m19 0h2m6 0h1m30 0h1m170 0h2m26 0h2m11 0h2m7 0h2m17 0h1m5 0h1m5 0h1m24 0h1m37 0h1m28 0h1m53 0h1m17 0h1m21 0h2m1 0h1m56 0h2m17 0h1m1 0h1m78 0h1m3 0h1m24 0h1" stroke="#333300"/>
<path d="M803 531.8h1m6 0h1m7 0h1m5 0h1m14 0h1m4 0h2m6 0h1m13 0h1m9 0h2m30 0h1m7 0h3m24 0h1m2 0h1m29 0h1m269 0h1m17 0h1m56 0h1m6 0h1m15 0h1m32 0h1m28 0h1m16 0h1m47 0h1m14 0h2m80 0h1m27 0h2m61 0h1" stroke="#4c4c00"/>
<path d="M796 531.8h1m36 0h1m15 0h2m6 0h1m2 0h1m3 0h1m13 0h1m7 0h1m7 0h1m27 0h1m17 0h1m3 0h1m41 0h1m2 0h2m4 0h1m12 0h1m91 0h2m40 0h1m32 0h2m42 0h1m38 0h1m61 0h1m4 0h1m42 0h1m130 0h1m160 0h2" stroke="#666600"/>
<path d="M777 531.8h2m9 0h2m10 0h2m2 0h2m7 0h3m3 0h1m1 0h2m15 0h1m28 0h1m5 0h1m7 0h1m54 0h1m20 0h1m15 0h2m2 0h1m2 0h1m4 0h1m23 0h1m96 0h1m61 0h1m128 0h1m12 0h1m49 0h2m47 0h1m223 0h2m29 0h1" stroke="#808000"/>
<path d="M780 531.8h3m1 0h1m7 0h1m19 0h1m29 0h1m5 0h1m5 0h1m1 0h1m22 0h1m10 0h1m9 0h2m8 0h1m2 0h2m6 0h1m4 0h1m1 0h1m1 0h1m14 0h1m4 0h1m3 0h1m3 0h2m8 0h1m6 0h1m6 0h2m7 0h4m1 0h2m5 0h2m357 0h2m2 0h2m173 0h2" stroke="#999900"/>
<path d="M820 531.8h1m7 0h1m5 0h1m1 0h2m13 0h1m6 0h1m6 0h1m4 0h1m27 0h2m29 0h1m21 0h1m36 0h1m13 0h1m464 0h1m133 0h1" stroke="#b2b200"/>
<path d="M776 531.8h1m6 0h1m45 0h2m15 0h2m49 0h1m8 0h2m3 0h2m18 0h1m3 0h1m20 0h1m5 0h2m5 0h1m11 0h1m28 0h1m406 0h2m69 0h1m77 0h2" stroke="#cccc00"/>
<path d="M794 531.8h1m77 0h1m1 0h2m48 0h2m12 0h1m66 0h2m73 0h1m293 0h1m99 0h1m149 0h1" stroke="#e6e600"/>
<path d="M802 531.8h1m116 0h2m51 0h1" stroke="#ffff00"/>
<path d="M1405 558.4h1" stroke="#801c80"/>
<path d="M775 558.4h1m21 0h1m4 0h1m3 0h1m12 0h1m12 0h1m6 0h1m11 0h1m2 0h1m5 0h1m3 0h1m4 0h1m18 0h1m1 0h1m1 0h2m6 0h1m1 0h1m3 0h1m1 0h1m1 0h2m12 0h3m8 0h1m5 0h2m3 0h1m1 0h3m13 0h2m13 0h1m2 0h2m1 0h2m3 0h1m5 0h2m3 0h1m1 0h2m5 0h1m5 0h1m1 0h5m4 0h3m8 0h2m1 0h1m1 0h2m3 0h2m1 0h1m3 0h4m4 0h2m3 0h5m3 0h1m1 0h2m3 0h1m4 0h2m3 0h1m3 0h1m1 0h1m3 0h1m5 0h2m2 0h3m8 0h5m4 0h2m2 0h2m1 0h6m5 0h2m3 0h2m1 0h1m5 0h4m1 0h1m1 0h4m1 0h3m2 0h5m1 0h11m2 0h2m1 0h1m3 0h3m5 0h2m4 0h4m1 0h2m2 0h1m3 0h2m9 0h6m1 0h1m1 0h1m2 0h1m2 0h1m1 0h2m1 0h8m6 0h1m8 0h3m2 0h1m5 0h1m5 0h2m2 0h2m2 0h1m2 0h1m2 0h1m2 0h1m1 0h3m3 0h3m1 0h5m3 0h1m1 0h1m2 0h1m6 0h1m1 0h8m1 0h3m1 0h1m1 0h3m3 0h2m1 0h1m2 0h5m4 0h4m4 0h1m5 0h1m4 0h4m1 0h6m7 0h1m1 0h1m9 0h2m2 0h2m9 0h1m1 0h1m6 0h1m1 0h1m1 0h1m2 0h1m4 0h2m5 0h1m2 0h4m7 0h1m8 0h1m1 0h1m3 0h1m5 0h1m2 0h1m3 0h1m1 0h1m2 0h1m1 0h1m1 0h2m2 0h3m1 0h3m3 0h1m1 0h3m1 0h1m1 0h3m5 0h4m5 0h1m1 0h2m1 0h5m5 0h2m6 0h1m1 0h2m1 0h1m2 0h2m4 0h2m4 0h9m1 0h8m1 0h4m1 0h4m1 0h1m1 0h3m6 0h1m1 0h4m2 0h1" stroke="#661666"/>
<path d="M782 558.4h1m4 0h1m3 0h1m18 0h1m5 0h2m11 0h2m4 0h1m2 0h1m10 0h2m70 0h1m40 0h2m6 0h2m5 0h1m9 0h1m14 0h1m29 0h4m10 0h2m2 0h1m1 0h3m4 0h2m5 0h2m5 0h1m6 0h1m3 0h1m1 0h2m6 0h2m8 0h2m1 0h2m8 0h4m8 0h4m2 0h2m9 0h1m1 0h3m7 0h1m2 0h1m7 0h1m10 0h2m17 0h1m3 0h1m2 0h2m6 0h1m4 0h1m1 0h1m7 0h2m2 0h2m2 0h2m1 0h5m7 0h1m1 0h1m1 0h2m1 0h2m1 0h1m11 0h1m2 0h2m2 0h1m14 0h2m3 0h1m6 0h1m4 0h1m10 0h1m3 0h1m11 0h2m2 0h1m8 0h2m14 0h1m19 0h2m1 0h1m15 0h2m1 0h1m16 0h1m4 0h1m2 0h1m7 0h1m3 0h1m14 0h2m15 0h1m1 0h1m10 0h1m1 0h2m3 0h2m1 0h1m5 0h1m1 0h3m2 0h2m6 0h1m1 0h1m3 0h1m17 0h2m1 0h1m13 0h1m4 0h1m5 0h1m8 0h5m5 0h1m15 0h1m2 0h2m25 0h1m6 0h1m3 0h1m6 0h1m4 0h1" stroke="#4c104c"/>
<path d="M874 558.4h2m186 0h1m27 0h2m70 0h1m37 0h1m92 0h1m18 0h1m16 0h2m18 0h2m32 0h1m7 0h1m68 0h1m10 0h1m9 0h1m39 0h2m32 0h1m60 0h1m48 0h1" stroke="#330b33"/>
<path d="M794 558.4h1m47 0h1m12 0h1m180 0h1m28 0h1m8 0h2m5 0h2m13 0h1m24 0h2m16 0h1m23 0h2m67 0h1m46 0h1m4 0h1m97 0h1m21 0h1m45 0h2m15 0h1m4 0h1m2 0h1m7 0h2m50 0h1m68 0h2" stroke="#1a061a"/>
<path d="M786 558.4h1m40 0h1m38 0h1m5 0h1m82 0h1m5 0h1m33 0h1m41 0h1m78 0h1m36 0h2m21 0h1m110 0h2m9 0h2m2 0h1m1 0h2m3 0h1m5 0h1m3 0h1m22 0h1m3 0h1m24 0h1m5 0h1m2 0h1m29 0h1m20 0h1m5 0h1m15 0h1m40 0h1m10 0h2m11 0h1m19 0h1m60 0h1m46 0h1" stroke="#000000"/>
<path d="M804 558.4h2m3 0h1m13 0h1m9 0h1m12 0h2m84 0h2m81 0h1m7 0h3m72 0h1m12 0h1m93 0h1m7 0h1m1 0h1m49 0h1m17 0h1m81 0h1m9 0h1m21 0h1m36 0h2m25 0h2m11 0h1m17 0h1m11 0h1m14 0h1m11 0h1m11 0h1m3 0h1m13 0h1m2 0h1m43 0h2" stroke="#1a1a00"/>
<path d="M789 558.4h1m3 0h1m1 0h1m12 0h1m11 0h3m34 0h1m28 0h1m52 0h1m14 0h1m3 0h2m6 0h1m5 0h1m11 0h1m4 0h1m1 0h1m34 0h1m13 0h1m4 0h1m31 0h1m14 0h1m9 0h1m9 0h1m47 0h1m10 0h1m54 0h1m55 0h1m35 0h1m15 0h1m16 0h2m45 0h1m25 0h1m13 0h2m14 0h1m31 0h2m104 0h1m3 0h2m12 0h1" stroke="#333300"/>
<path d="M788 558.4h1m10 0h1m12 0h4m45 0h1m9 0h1m25 0h1m9 0h1m28 0h1m1 0h1m1 0h1m10 0h1m26 0h1m2 0h1m10 0h2m5 0h2m16 0h1m24 0h1m18 0h1m38 0h2m4 0h1m48 0h1m62 0h1m1 0h1m18 0h1m45 0h2m5 0h1m2 0h1m20 0h1m4 0h1m54 0h1m25 0h2m2 0h1m9 0h1m6 0h1m1 0h2m13 0h2m3 0h1m3 0h1m5 0h1m13 0h1m27 0h2m3 0h1m36 0h1m22 0h2m10 0h1" stroke="#4c4c00"/>
<path d="M777 558.4h2m6 0h1m10 0h1m27 0h1m1 0h1m46 0h1m7 0h1m1 0h1m17 0h1m10 0h1m6 0h2m16 0h1m5 0h2m11 0h1m18 0h2m11 0h1m16 0h3m5 0h2m70 0h1m189 0h2m26 0h1m43 0h1m8 0h1m70 0h1m1 0h1m22 0h1m23 0h2m50 0h1m4 0h1m23 0h1m69 0h1m8 0h1m16 0h2" stroke="#666600"/>
<path d="M798 558.4h1m8 0h1m23 0h1m4 0h2m2 0h1m2 0h1m4 0h1m7 0h1m2 0h1m5 0h1m10 0h2m1 0h1m2 0h1m6 0h1m1 0h1m3 0h2m18 0h1m2 0h1m12 0h1m2 0h1m18 0h1m3 0h1m11 0h1m3 0h2m212 0h1m268 0h1m1 0h1m56 0h1m63 0h1m22 0h1" stroke="#808000"/>
<path d="M779 558.4h1m4 0h1m5 0h1m34 0h1m18 0h2m7 0h1m8 0h1m17 0h1m6 0h1m21 0h1m17 0h1m2 0h1m14 0h1m6 0h1m45 0h1m124 0h1m23 0h1m174 0h1m184 0h1m85 0h2m22 0h1" stroke="#999900"/>
<path d="M780 558.4h2m10 0h1m10 0h1m7 0h1m22 0h1m17 0h1m10 0h1m4 0h1m25 0h1m3 0h2m4 0h1m8 0h2m7 0h1m6 0h1m30 0h1m7 0h1m11 0h1m13 0h1m250 0h1m219 0h1" stroke="#b2b200"/>
<path d="M783 558.4h1m16 0h2m16 0h1m22 0h1m36 0h1m5 0h2m17 0h1m1 0h1m17 0h1m4 0h1m18 0h1m61 0h1m20 0h2m493 0h1" stroke="#cccc00"/>
<path d="M828 558.4h1m29 0h1m8 0h1m2 0h1" stroke="#e6e600"/>
<path d="M776 558.4h1m139 0h2m49 0h1m40 0h1" stroke="#ffff00"/>
<path d="M1027 584.9h1" stroke="#b226b2"/>
<path d="M1078 584.9h2" stroke="#992199"/>
<path d="M780 584.9h2m11 0h3m3 0h1m2 0h1m18 0h4m6 0h4m5 0h1m1 0h1m43 0h1m4 0h1m8 0h2m16 0h1m15 0h1m17 0h1m13 0h1m5 0h1m5 0h1m6 0h1m1 0h1m1 0h3m6 0h1m10 0h1m18 0h1m11 0h1m2 0h1m15 0h1m6 0h2m5 0h1m12 0h1m6 0h3m12 0h3m4 0h2m10 0h6m15 0h3m5 0h1m2 0h2m12 0h2m13 0h2m11 0h2m6 0h2m6 0h1m4 0h2m4 0h1m2 0h1m1 0h2m8 0h1m15 0h2m1 0h1m15 0h1m15 0h1m1 0h1m4 0h2m12 0h1m2 0h1m7 0h1m4 0h1m9 0h1m1 0h2m3 0h1m13 0h2m2 0h2m15 0h1m4 0h1m2 0h1m1 0h2m3 0h1m10 0h1m2 0h2m1 0h1m1 0h2m2 0h2m21 0h1m10 0h1m10 0h1m14 0h1m41 0h1m8 0h1m2 0h1m22 0h1m3 0h2m29 0h2m18 0h1m23 0h1m20 0h1m5 0h1" stroke="#801c80"/>
<path d="M775 584.9h1m3 0h1m6 0h1m1 0h1m3 0h1m3 0h1m9 0h3m1 0h2m13 0h2m1 0h3m7 0h1m2 0h1m4 0h3m4 0h3m1 0h1m1 0h2m2 0h4m3 0h1m2 0h1m5 0h1m1 0h5m1 0h4m1 0h2m9 0h1m4 0h1m7 0h2m4 0h1m1 0h6m1 0h3m2 0h2m1 0h1m1 0h5m9 0h1m1 0h1m2 0h1m7 0h1m1 0h2m4 0h1m3 0h1m2 0h2m1 0h1m1 0h1m5 0h1m8 0h2m2 0h2m4 0h2m2 0h1m1 0h1m1 0h1m1 0h1m2 0h1m5 0h1m3 0h3m2 0h1m4 0h9m5 0h1m1 0h2m8 0h1m1 0h2m1 0h1m2 0h4m3 0h5m5 0h2m5 0h2m1 0h1m9 0h3m1 0h2m1 0h2m7 0h2m2 0h1m2 0h1m2 0h2m1 0h1m4 0h4m6 0h4m12 0h10m3 0h2m2 0h2m8 0h2m2 0h1m5 0h1m1 0h1m1 0h1m1 0h1m5 0h2m1 0h2m1 0h1m2 0h7m11 0h2m1 0h2m5 0h1m1 0h1m2 0h4m2 0h4m2 0h2m11 0h1m3 0h1m2 0h1m2 0h5m2 0h1m3 0h1m1 0h2m2 0h4m3 0h1m1 0h2m3 0h1m4 0h1m2 0h1m2 0h1m1 0h1m3 0h3m1 0h1m1 0h2m6 0h1m2 0h1m1 0h6m3 0h1m1 0h2m1 0h4m1 0h2m1 0h1m2 0h1m1 0h1m3 0h1m2 0h3m7 0h1m4 0h2m3 0h3m3 0h2m2 0h2m1 0h1m5 0h1m2 0h1m2 0h1m4 0h1m2 0h2m1 0h1m4 0h1m3 0h1m1 0h1m2 0h1m1 0h2m1 0h1m3 0h1m2 0h2m12 0h2m2 0h1m1 0h2m1 0h1m10 0h1m5 0h1m6 0h1m3 0h1m1 0h2m2 0h1m20 0h2m4 0h1m3 0h1m3 0h1m2 0h2m1 0h1m6 0h1m3 0h1m5 0h1m5 0h1m2 0h1m7 0h2m10 0h2m15 0h1m5 0h2m4 0h3" stroke="#661666"/>
<path d="M1020 584.9h1m18 0h1m5 0h1m10 0h3m2 0h1m80 0h1m15 0h1m33 0h1m14 0h1m71 0h1m10 0h1m21 0h1m36 0h2m65 0h1m42 0h1m69 0h1" stroke="#4c104c"/>
<path d="M791 584.9h1m213 0h2m11 0h1m5 0h2m80 0h1m6 0h2m20 0h1m29 0h2m3 0h1m1 0h1m3 0h1m22 0h1m3 0h1m20 0h2m18 0h1m88 0h1m42 0h1m90 0h1m56 0h1m3 0h1m37 0h2m98 0h1" stroke="#330b33"/>
<path d="M797 584.9h1m69 0h1m26 0h1m135 0h2m2 0h1m7 0h1m1 0h1m10 0h1m9 0h1m10 0h1m8 0h1m26 0h1m23 0h1m20 0h1m38 0h2m23 0h1m23 0h1m12 0h1m95 0h1m5 0h2m34 0h1m31 0h1m43 0h2m1 0h1m14 0h2m3 0h2m11 0h1m1 0h1m4 0h1m43 0h1m20 0h1m9 0h1m54 0h1" stroke="#1a061a"/>
<path d="M816 584.9h2m18 0h2m83 0h1m59 0h1m53 0h1m32 0h1m1 0h2m12 0h1m7 0h1m18 0h1m26 0h2m5 0h1m1 0h1m20 0h1m18 0h1m10 0h1m7 0h1m8 0h1m30 0h1m3 0h2m12 0h1m1 0h1m17 0h5m2 0h2m2 0h1m2 0h2m28 0h1m49 0h1m28 0h1m3 0h1m36 0h1m21 0h1m14 0h1m28 0h1m10 0h1m15 0h2m8 0h4m72 0h1m14 0h1" stroke="#000000"/>
<path d="M782 584.9h1m20 0h1m14 0h1m8 0h1m81 0h1m5 0h1m31 0h1m51 0h2m14 0h2m12 0h1m3 0h1m65 0h3m21 0h1m51 0h1m66 0h1m4 0h1m35 0h1m24 0h2m3 0h1m32 0h1m9 0h1m7 0h1m12 0h1m24 0h2m4 0h1m14 0h1m9 0h1m2 0h1m3 0h3m4 0h1m20 0h1m9 0h1m5 0h1m4 0h1m28 0h2m1 0h2m4 0h1m3 0h1m17 0h2m9 0h1m102 0h1" stroke="#1a1a00"/>
<path d="M813 584.9h2m36 0h1m17 0h1m36 0h1m12 0h2m29 0h1m3 0h1m7 0h2m5 0h1m22 0h2m70 0h1m4 0h1m56 0h1m40 0h1m1 0h1m1 0h1m21 0h1m55 0h1m17 0h1m112 0h1m57 0h2m13 0h1m2 0h1m6 0h2m23 0h1m22 0h1m18 0h1m5 0h1m1 0h1m8 0h2m7 0h2m53 0h1m13 0h2m2 0h1m32 0h1" stroke="#333300"/>
<path d="M790 584.9h1m28 0h1m48 0h1m9 0h1m18 0h3m30 0h1m30 0h1m5 0h1m7 0h1m19 0h1m106 0h2m51 0h1m92 0h1m40 0h1m69 0h1m67 0h1m1 0h1m52 0h1m14 0h2m6 0h1m10 0h2m28 0h1m22 0h1m13 0h1m12 0h2m2 0h1m35 0h1m11 0h1m16 0h1" stroke="#4c4c00"/>
<path d="M785 584.9h1m18 0h2m9 0h1m36 0h1m5 0h1m2 0h1m12 0h2m26 0h1m2 0h1m1 0h1m2 0h5m8 0h1m16 0h1m17 0h2m4 0h2m13 0h1m2 0h1m19 0h1m19 0h1m97 0h1m20 0h1m58 0h1m18 0h1m32 0h1m2 0h1m26 0h1m36 0h1m4 0h1m125 0h2m9 0h2m17 0h1m12 0h2m97 0h1m11 0h2m8 0h2m1 0h1m2 0h1m1 0h1m1 0h1m8 0h3" stroke="#666600"/>
<path d="M798 584.9h1m1 0h2m7 0h1m25 0h1m7 0h1m5 0h2m21 0h1m7 0h1m57 0h1m7 0h1m4 0h1m4 0h1m44 0h1m8 0h1m85 0h1m116 0h1m47 0h1m63 0h1m6 0h1m4 0h2m1 0h1m69 0h1m81 0h1m10 0h1m30 0h1m20 0h1m5 0h1m14 0h1m12 0h1m8 0h1m17 0h1m21 0h1m12 0h1" stroke="#808000"/>
<path d="M784 584.9h1m27 0h1m26 0h1m4 0h2m25 0h1m4 0h2m118 0h2m274 0h2m37 0h1m57 0h1m62 0h1m12 0h1m6 0h1m46 0h1m2 0h1m41 0h2m22 0h1m8 0h1m7 0h4m19 0h2m2 0h1m15 0h1" stroke="#999900"/>
<path d="M777 584.9h2m4 0h1m3 0h1m1 0h1m30 0h1m41 0h1m41 0h1m68 0h2m360 0h2m175 0h2m89 0h1m35 0h2m2 0h2m1 0h1" stroke="#b2b200"/>
<path d="M776 584.9h1m79 0h1m38 0h2m38 0h1m12 0h2m3 0h1m625 0h1m19 0h1m2 0h1m3 0h1m25 0h1m19 0h1" stroke="#cccc00"/>
<path d="M1621 584.9h1" stroke="#e6e600"/>
<path d="M977 584.9h1m597 0h1m47 0h1m17 0h1m7 0h2" stroke="#ffff00"/>
<path d="M1410 611.5h1" stroke="#e632e6"/>
<path d="M1497 611.5h2" stroke="#cc2ccc"/>
<path d="M1010 611.5h1m412 0h1m135 0h1" stroke="#992199"/>
<path d="M1405 611.5h1" stroke="#801c80"/>
<path d="M776 611.5h3m7 0h1m1 0h4m10 0h4m4 0h1m5 0h3m4 0h1m2 0h1m13 0h1m8 0h2m14 0h1m4 0h2m6 0h1m7 0h1m1 0h1m2 0h1m9 0h2m4 0h2m2 0h1m3 0h3m3 0h1m2 0h2m1 0h1m2 0h1m6 0h1m7 0h2m6 0h1m1 0h1m4 0h2m11 0h3m2 0h1m6 0h1m8 0h2m13 0h1m17 0h2m3 0h1m39 0h1m3 0h1m57 0h1m80 0h2m3 0h1m1 0h4m6 0h1m2 0h1m7 0h2m2 0h1m2 0h5m3 0h1m3 0h1m3 0h1m4 0h4m2 0h1m3 0h1m2 0h3m3 0h1m3 0h1m1 0h1m1 0h2m2 0h1m1 0h1m11 0h2m3 0h3m3 0h1m5 0h1m8 0h1m1 0h1m3 0h1m5 0h1m7 0h2m1 0h1m8 0h1m2 0h1m10 0h1m1 0h1m4 0h1m11 0h3m1 0h1m2 0h1m4 0h2m6 0h1m6 0h2m1 0h1m4 0h1m3 0h1m2 0h1m2 0h2m4 0h1m7 0h1m1 0h1m5 0h1m3 0h1m13 0h1m1 0h1m4 0h3m19 0h2m1 0h1m10 0h1m11 0h1m7 0h2m1 0h1m1 0h1m5 0h2m11 0h1m16 0h2m5 0h1m8 0h1m12 0h2m3 0h3m2 0h1m7 0h2m2 0h1m15 0h1m2 0h1" stroke="#661666"/>
<path d="M775 611.5h1m3 0h4m2 0h1m1 0h1m4 0h10m5 0h3m1 0h5m3 0h4m1 0h2m2 0h1m2 0h1m1 0h7m2 0h1m1 0h5m2 0h8m1 0h2m1 0h2m1 0h4m2 0h2m2 0h2m1 0h4m4 0h1m1 0h2m1 0h9m2 0h1m1 0h2m2 0h2m1 0h3m7 0h2m2 0h1m1 0h2m1 0h5m2 0h2m1 0h4m2 0h6m1 0h1m1 0h4m2 0h6m1 0h4m3 0h2m1 0h6m1 0h8m2 0h13m8 0h2m5 0h2m39 0h3m39 0h1m5 0h2m8 0h1m5 0h2m4 0h1m21 0h1m2 0h1m17 0h4m11 0h1m3 0h1m15 0h2m2 0h3m1 0h1m4 0h6m1 0h2m1 0h7m2 0h2m1 0h2m5 0h3m1 0h3m1 0h3m1 0h4m7 0h3m1 0h2m3 0h3m1 0h3m1 0h1m1 0h1m2 0h2m1 0h1m1 0h11m2 0h3m3 0h3m1 0h5m1 0h8m1 0h1m2 0h2m1 0h5m1 0h1m1 0h5m2 0h1m1 0h8m1 0h2m1 0h10m1 0h1m1 0h4m1 0h3m3 0h2m8 0h2m1 0h1m1 0h2m2 0h2m1 0h3m2 0h5m2 0h1m1 0h2m3 0h2m2 0h2m1 0h2m2 0h4m1 0h7m1 0h1m1 0h1m3 0h1m1 0h3m1 0h1m1 0h2m2 0h6m2 0h1m1 0h2m5 0h2m1 0h1m1 0h3m2 0h2m1 0h4m1 0h1m5 0h2m1 0h3m1 0h1m2 0h11m3 0h1m6 0h1m3 0h5m11 0h1m7 0h4m2 0h1m3 0h1m3 0h1m4 0h2m2 0h2m1 0h1m8 0h1m1 0h2m3 0h2m7 0h1m4 0h1m3 0h1m2 0h4m10 0h1m1 0h2" stroke="#4c104c"/>
<path d="M806 611.5h1m22 0h2m640 0h1m47 0h1m48 0h1" stroke="#330b33"/>
<path d="M940 611.5h1m156 0h1m20 0h2m296 0h1m23 0h2m30 0h1m52 0h1m6 0h1m15 0h2m1 0h2m45 0h1m7 0h1" stroke="#1a061a"/>
<path d="M783 611.5h2m47 0h1m50 0h1m20 0h1m31 0h1m210 0h1m127 0h2m251 0h1m63 0h1m7 0h1m45 0h1m12 0h1" stroke="#000000"/>
<path d="M918 611.5h1m49 0h1m76 0h1m34 0h1m64 0h1m6 0h1m192 0h1m10 0h1m44 0h1m26 0h1m62 0h1m12 0h1m73 0h1m45 0h1" stroke="#1a1a00"/>
<path d="M859 611.5h1m2 0h1m21 0h2m147 0h1m16 0h1m5 0h2m1 0h1m2 0h1m7 0h2m74 0h1m364 0h1m22 0h1m49 0h1m55 0h1m19 0h2" stroke="#333300"/>
<path d="M1030 611.5h2m4 0h1m42 0h1m30 0h1m4 0h1m27 0h2m17 0h1m31 0h1m3 0h1m205 0h1m75 0h1m2 0h1m22 0h1m46 0h2m20 0h1m13 0h1m17 0h1m34 0h1m9 0h1" stroke="#4c4c00"/>
<path d="M1020 611.5h1m13 0h1m16 0h4m3 0h1m29 0h3m1 0h1m7 0h2m10 0h1m12 0h1m7 0h1m17 0h1m3 0h2m2 0h1m8 0h1m1 0h1m5 0h1m268 0h1m24 0h1m43 0h1m55 0h1m5 0h1m13 0h1m10 0h2m15 0h2m38 0h1" stroke="#666600"/>
<path d="M843 611.5h1m30 0h2m43 0h2m92 0h2m11 0h1m28 0h1m4 0h2m19 0h2m2 0h1m16 0h1m17 0h1m15 0h1m3 0h1m12 0h2m6 0h1m26 0h2m2 0h1m7 0h1m7 0h1m197 0h1m116 0h1m56 0h1m2 0h1m33 0h1m11 0h1m7 0h1m15 0h2" stroke="#808000"/>
<path d="M841 611.5h1m177 0h1m15 0h1m48 0h1m18 0h4m1 0h1m2 0h1m53 0h2m4 0h1m1 0h2m26 0h2m2 0h1m1 0h1m373 0h2m27 0h1m2 0h4m16 0h2m3 0h1" stroke="#999900"/>
<path d="M827 611.5h1m195 0h1m5 0h1m7 0h1m3 0h2m20 0h2m3 0h1m8 0h1m8 0h2m6 0h2m28 0h1m12 0h1m3 0h1m6 0h3m16 0h1m4 0h1m9 0h3m5 0h2m11 0h1m2 0h1m277 0h1m84 0h1m23 0h2" stroke="#b2b200"/>
<path d="M1021 611.5h1m17 0h1m3 0h2m29 0h2m20 0h1m1 0h1m10 0h1m6 0h1m4 0h2m4 0h2m29 0h1m26 0h3m11 0h1m9 0h2m428 0h1" stroke="#cccc00"/>
<path d="M1016 611.5h1m5 0h1m15 0h1m9 0h2m23 0h1m4 0h1m12 0h1m1 0h1m5 0h1m17 0h1m13 0h2m5 0h2m2 0h1m32 0h1m19 0h2m377 0h1" stroke="#e6e600"/>
<path d="M1015 611.5h1m24 0h1m5 0h2m21 0h1m13 0h1m42 0h1m36 0h2m4 0h1m7 0h1m26 0h1m305 0h1m110 0h1" stroke="#ffff00"/>
<path d="M780 638h2m16 0h1m50 0h2m3 0h1m1 0h1m79 0h1m30 0h1m41 0h1m83 0h1m41 0h1m80 0h1m3 0h1m7 0h1m3 0h1m3 0h1m2 0h1m4 0h1m4 0h1m9 0h4m2 0h1m9 0h2m3 0h1m2 0h1m1 0h2m4 0h1m2 0h1m1 0h1m5 0h1m1 0h1m1 0h1m2 0h1m4 0h1m2 0h1m5 0h1m3 0h1m3 0h1m2 0h1m5 0h1m4 0h2m11 0h2m21 0h1m2 0h2m4 0h4m3 0h1m99 0h2m71 0h1m4 0h1m17 0h2m1 0h2m1 0h1m2 0h1m3 0h1m1 0h2m1 0h1m1 0h1m8 0h1m22 0h1m1 0h1m5 0h2" stroke="#b226b2"/>
<path d="M775 638h2m5 0h1m3 0h1m1 0h1m4 0h2m12 0h1m2 0h2m1 0h2m3 0h1m1 0h1m3 0h1m15 0h1m20 0h1m7 0h1m18 0h1m1 0h1m3 0h1m14 0h1m2 0h1m8 0h1m1 0h1m5 0h1m34 0h2m11 0h1m3 0h1m2 0h1m1 0h2m25 0h3m6 0h1m4 0h1m1 0h1m20 0h1m1 0h3m6 0h1m2 0h1m4 0h1m2 0h1m13 0h1m4 0h1m8 0h2m6 0h1m3 0h1m5 0h2m25 0h1m6 0h1m5 0h1m4 0h2m23 0h2m17 0h1m5 0h3m1 0h3m1 0h7m1 0h3m1 0h3m1 0h2m1 0h4m1 0h4m1 0h9m4 0h1m2 0h9m2 0h2m2 0h2m1 0h1m2 0h4m1 0h2m1 0h1m1 0h5m1 0h1m1 0h1m1 0h2m2 0h3m1 0h2m1 0h5m1 0h3m1 0h3m1 0h2m1 0h5m1 0h4m2 0h2m2 0h7m2 0h21m1 0h2m2 0h4m4 0h3m1 0h1m12 0h1m7 0h2m2 0h1m1 0h2m4 0h1m2 0h2m34 0h1m10 0h1m10 0h1m34 0h1m4 0h2m3 0h2m5 0h2m11 0h1m16 0h1m1 0h5m2 0h6m1 0h3m7 0h1m2 0h1m3 0h1m2 0h1m1 0h1m1 0h2m2 0h3m4 0h5m2 0h3m1 0h4m2 0h3m1 0h1m1 0h1m2 0h1m8 0h2" stroke="#992199"/>
<path d="M882 638h1m30 0h2m155 0h2m61 0h1m384 0h1m97 0h1" stroke="#801c80"/>
<path d="M796 638h1m42 0h1m27 0h1m50 0h1m29 0h2m215 0h2m37 0h1m227 0h1m40 0h1m4 0h1m44 0h1m4 0h1m2 0h1m63 0h1" stroke="#661666"/>
<path d="M792 638h1m36 0h2m20 0h1m18 0h1m98 0h3m29 0h1m33 0h1m6 0h1m12 0h1m2 0h1m111 0h1m9 0h2m11 0h1m4 0h1m1 0h1m109 0h1m38 0h2m66 0h2m10 0h1m89 0h1m20 0h1m15 0h1m4 0h1" stroke="#4c104c"/>
<path d="M784 638h1m15 0h2m10 0h1m8 0h2m5 0h1m15 0h2m12 0h1m42 0h1m1 0h1m37 0h2m8 0h1m8 0h2m10 0h1m104 0h1m6 0h1m3 0h1m34 0h1m3 0h2m12 0h2m29 0h1m10 0h2m9 0h2m211 0h1m36 0h1m7 0h1m18 0h1m13 0h1m65 0h1m13 0h1m57 0h1" stroke="#330b33"/>
<path d="M804 638h2m2 0h1m6 0h1m15 0h1m3 0h1m6 0h1m10 0h1m11 0h1m6 0h2m28 0h1m2 0h1m10 0h2m32 0h1m29 0h1m2 0h1m26 0h1m9 0h1m25 0h2m18 0h2m39 0h1m3 0h1m9 0h2m6 0h2m8 0h1m3 0h2m16 0h1m14 0h1m251 0h1m7 0h1m21 0h1m6 0h1m10 0h2m12 0h1m19 0h1m55 0h3m71 0h1m8 0h2m14 0h1" stroke="#1a061a"/>
<path d="M777 638h2m4 0h1m15 0h1m46 0h2m12 0h1m13 0h2m2 0h1m13 0h2m12 0h1m4 0h1m20 0h2m19 0h1m2 0h1m31 0h2m4 0h1m24 0h1m3 0h1m24 0h2m13 0h1m1 0h1m8 0h2m20 0h2m1 0h1m4 0h1m4 0h1m7 0h1m18 0h1m19 0h2m15 0h2m15 0h3m3 0h1m2 0h1m5 0h2m2 0h2m199 0h1m44 0h1m35 0h1m8 0h2m1 0h1m8 0h2m7 0h2m24 0h1m4 0h1m2 0h1m4 0h1m1 0h3m24 0h1m14 0h2m24 0h2" stroke="#000000"/>
<path d="M790 638h1m28 0h1m5 0h2m16 0h1m53 0h4m9 0h1m13 0h2m2 0h1m2 0h1m6 0h1m27 0h1m1 0h1m16 0h1m9 0h4m3 0h2m13 0h1m8 0h1m7 0h1m2 0h2m1 0h1m4 0h1m32 0h2m1 0h3m1 0h1m27 0h2m1 0h1m7 0h1m6 0h2m1 0h1m2 0h1m8 0h1m13 0h1m16 0h1m4 0h1m4 0h1m13 0h2m61 0h1m14 0h1m124 0h1m32 0h1m10 0h1m45 0h3m14 0h1m23 0h1m23 0h1m21 0h2m34 0h1m3 0h1m19 0h1m17 0h1" stroke="#1a1a00"/>
<path d="M779 638h1m7 0h1m3 0h1m11 0h1m2 0h1m31 0h1m2 0h1m13 0h1m3 0h1m4 0h1m14 0h1m1 0h1m2 0h2m21 0h1m19 0h1m17 0h1m9 0h1m1 0h1m32 0h1m17 0h1m9 0h1m9 0h1m1 0h2m7 0h1m4 0h1m6 0h1m4 0h2m1 0h2m7 0h1m11 0h1m6 0h1m10 0h1m3 0h2m1 0h2m3 0h1m36 0h2m6 0h1m6 0h1m4 0h1m1 0h1m15 0h2m215 0h2m8 0h2m29 0h1m3 0h1m2 0h2m9 0h2m3 0h1m15 0h1m5 0h1m13 0h1m3 0h3m11 0h1m3 0h1m5 0h1m5 0h1m2 0h1m1 0h2m5 0h1m1 0h1m2 0h2m3 0h1m65 0h1m10 0h1m16 0h1" stroke="#333300"/>
<path d="M785 638h1m3 0h1m5 0h1m6 0h1m24 0h1m6 0h1m1 0h2m24 0h1m3 0h1m1 0h1m53 0h1m12 0h1m1 0h1m5 0h1m3 0h1m4 0h1m1 0h1m18 0h3m3 0h1m2 0h1m9 0h2m11 0h3m8 0h1m7 0h2m10 0h1m39 0h1m13 0h1m24 0h1m24 0h1m10 0h1m23 0h1m21 0h1m10 0h1m192 0h1m7 0h1m5 0h1m8 0h1m2 0h1m2 0h1m15 0h1m6 0h1m5 0h2m6 0h1m1 0h1m16 0h2m1 0h1m3 0h1m10 0h1m21 0h1m7 0h1m131 0h1" stroke="#4c4c00"/>
<path d="M797 638h1m25 0h1m8 0h1m43 0h2m2 0h1m2 0h1m2 0h1m2 0h1m5 0h2m11 0h1m10 0h2m9 0h1m9 0h1m21 0h2m14 0h1m42 0h1m10 0h1m10 0h1m18 0h1m26 0h1m2 0h1m56 0h2m2 0h2m251 0h1m7 0h1m25 0h3m2 0h1m11 0h1m16 0h2m3 0h2m2 0h2m24 0h1m15 0h1m20 0h1m2 0h1m19 0h1m28 0h1" stroke="#666600"/>
<path d="M833 638h1m14 0h1m3 0h1m18 0h1m32 0h1m10 0h1m23 0h1m4 0h1m1 0h1m52 0h2m32 0h1m7 0h1m31 0h1m20 0h2m24 0h1m17 0h1m20 0h1m8 0h1m2 0h1m6 0h2m23 0h1m201 0h1m2 0h1m7 0h1m16 0h1m4 0h2m9 0h1m13 0h2m3 0h1m3 0h1m42 0h1m27 0h1m57 0h1m60 0h3" stroke="#808000"/>
<path d="M857 638h1m5 0h1m23 0h1m3 0h1m42 0h1m23 0h2m31 0h1m133 0h1m295 0h2m31 0h1m1 0h1m57 0h1m14 0h1" stroke="#999900"/>
<path d="M809 638h1m6 0h2m108 0h1m49 0h1m27 0h1m494 0h1m16 0h2m140 0h1" stroke="#b2b200"/>
<path d="M1126 638h1m378 0h1" stroke="#cccc00"/>
<path d="M1236 664.6h1" stroke="#b226b2"/>
<path d="M775 664.6h4m1 0h5m1 0h7m1 0h10m2 0h4m1 0h2m2 0h3m3 0h10m1 0h4m2 0h4m1 0h8m2 0h4m1 0h15m3 0h14m2 0h5m1 0h20m1 0h2m1 0h1m1 0h2m1 0h9m5 0h2m1 0h11m1 0h5m5 0h7m2 0h2m1 0h8m1 0h24m4 0h1m7 0h1m22 0h5m1 0h1m6 0h1m2 0h1m7 0h2m2 0h2m5 0h4m6 0h1m5 0h1m1 0h1m12 0h1m5 0h2m3 0h1m7 0h2m4 0h1m9 0h1m8 0h1m3 0h1m12 0h3m1 0h1m4 0h1m5 0h4m17 0h2m2 0h1m4 0h1m3 0h2m2 0h1m1 0h4m3 0h1m1 0h2m1 0h2m1 0h5m5 0h8m1 0h1m3 0h1m2 0h10m1 0h1m1 0h1m2 0h2m5 0h1m1 0h3m3 0h1m1 0h3m2 0h5m2 0h1m1 0h5m2 0h1m1 0h1m1 0h2m2 0h3m1 0h8m3 0h1m1 0h1m2 0h2m3 0h2m4 0h4m2 0h2m1 0h1m2 0h3m1 0h2m2 0h1m3 0h2m2 0h1m1 0h4m1 0h2m12 0h1m9 0h2m2 0h2m11 0h2m6 0h1m3 0h2m16 0h1m1 0h1m9 0h1m7 0h1m11 0h2m7 0h1m5 0h4m2 0h2m7 0h2m4 0h1m2 0h1m11 0h5m20 0h1m2 0h4m1 0h7m2 0h3m6 0h1m1 0h4m2 0h2m1 0h5m2 0h1m1 0h3m5 0h3m4 0h1m2 0h1m1 0h3m1 0h1m4 0h1m6 0h9" stroke="#801c80"/>
<path d="M785 664.6h1m7 0h1m10 0h2m25 0h1m41 0h1m47 0h1m15 0h4m87 0h1m105 0h1m13 0h1m2 0h1m62 0h2m8 0h2m38 0h1m24 0h1m3 0h1m4 0h2m43 0h1m3 0h1m41 0h1m29 0h2" stroke="#661666"/>
<path d="M936 664.6h1m222 0h1m59 0h2m21 0h1m24 0h1m45 0h1m7 0h2m37 0h2" stroke="#4c104c"/>
<path d="M852 664.6h1m73 0h1m35 0h2m284 0h1m30 0h1m7 0h2m8 0h1m26 0h1" stroke="#330b33"/>
<path d="M891 664.6h1m5 0h1m20 0h1m268 0h1m51 0h1m43 0h1m22 0h1m19 0h1m7 0h1m10 0h1m34 0h1m122 0h1m74 0h1m60 0h1m5 0h1" stroke="#1a061a"/>
<path d="M813 664.6h2m75 0h1m82 0h2m257 0h1m19 0h1m38 0h1m13 0h1m66 0h2m10 0h2m5 0h1m35 0h1m82 0h1m118 0h1" stroke="#000000"/>
<path d="M779 664.6h1m94 0h2m67 0h1m11 0h1m5 0h1m118 0h1m22 0h1m91 0h1m3 0h1m3 0h1m12 0h1m4 0h1m5 0h1m5 0h2m30 0h1m24 0h1m21 0h1m16 0h2m13 0h1m13 0h1m7 0h2m20 0h1m7 0h1m26 0h1m33 0h1m11 0h1m5 0h1m9 0h1m13 0h1m5 0h1m93 0h2m7 0h2m18 0h1m12 0h1m10 0h1" stroke="#1a1a00"/>
<path d="M857 664.6h1m65 0h1m97 0h2m11 0h1m8 0h1m24 0h1m16 0h2m9 0h1m19 0h1m12 0h2m4 0h1m4 0h1m14 0h1m45 0h2m5 0h1m8 0h1m31 0h3m11 0h1m17 0h1m2 0h1m30 0h1m33 0h2m19 0h1m10 0h1m1 0h1m49 0h1m9 0h1m29 0h2m8 0h2m40 0h1m49 0h1m7 0h1m12 0h2m35 0h2" stroke="#333300"/>
<path d="M818 664.6h1m167 0h1m29 0h1m3 0h1m5 0h1m2 0h1m6 0h1m16 0h2m47 0h1m2 0h1m14 0h1m4 0h1m7 0h1m29 0h2m3 0h1m9 0h4m3 0h2m18 0h1m55 0h1m92 0h1m22 0h1m28 0h2m23 0h1m5 0h1m9 0h1m11 0h1m1 0h2m3 0h1m4 0h1m21 0h1m3 0h2m3 0h1m17 0h1m17 0h1m8 0h2m1 0h1m5 0h2m33 0h1m11 0h1m8 0h1" stroke="#4c4c00"/>
<path d="M820 664.6h1m15 0h2m126 0h2m11 0h1m40 0h1m5 0h2m7 0h1m5 0h1m5 0h1m5 0h1m3 0h1m2 0h1m5 0h1m8 0h1m32 0h3m4 0h2m9 0h1m1 0h3m13 0h1m6 0h2m1 0h3m2 0h1m3 0h1m7 0h2m21 0h1m215 0h3m6 0h2m13 0h1m1 0h2m22 0h1m1 0h1m4 0h1m6 0h1m8 0h1m4 0h2m6 0h1m24 0h1m3 0h2m2 0h2m35 0h1m4 0h1m31 0h1m34 0h1m12 0h2" stroke="#666600"/>
<path d="M851 664.6h1m165 0h1m1 0h1m12 0h1m30 0h1m8 0h1m3 0h1m12 0h1m8 0h1m5 0h1m66 0h2m24 0h1m2 0h1m5 0h1m61 0h1m32 0h1m103 0h1m10 0h1m11 0h2m14 0h2m7 0h2m8 0h2m14 0h1m24 0h1m30 0h1m22 0h1m7 0h3m1 0h1m3 0h1m23 0h1m19 0h2m18 0h1" stroke="#808000"/>
<path d="M810 664.6h1m219 0h2m3 0h1m1 0h2m26 0h1m3 0h1m18 0h1m3 0h2m16 0h1m6 0h1m21 0h1m1 0h1m3 0h1m12 0h1m34 0h2m1 0h1m10 0h1m145 0h1m1 0h1m46 0h2m10 0h2m14 0h1m5 0h1m3 0h2m10 0h1m36 0h1m5 0h2m15 0h3m17 0h1m1 0h1m5 0h4m2 0h1m12 0h1m2 0h2m13 0h1m47 0h3m19 0h1" stroke="#999900"/>
<path d="M819 664.6h1m22 0h1m184 0h1m12 0h1m3 0h1m21 0h2m9 0h2m11 0h1m20 0h1m3 0h1m30 0h1m18 0h2m31 0h1m160 0h1m52 0h2m10 0h1m23 0h1m6 0h1m20 0h2m4 0h1m8 0h2m18 0h1m14 0h1m22 0h1m10 0h1m92 0h2" stroke="#b2b200"/>
<path d="M1041 664.6h2m13 0h2m29 0h1m6 0h2m40 0h1m6 0h2m38 0h2m19 0h1m199 0h1m37 0h1m6 0h1m17 0h1m10 0h1m11 0h1m15 0h3m28 0h1m54 0h1m28 0h1m13 0h1" stroke="#cccc00"/>
<path d="M1013 664.6h2m45 0h1m39 0h2m7 0h1m28 0h1m37 0h1m279 0h1m76 0h1m27 0h1m3 0h1" stroke="#e6e600"/>
<path d="M1061 664.6h1m17 0h1m41 0h2m39 0h1m4 0h1m233 0h1m127 0h1m14 0h2m102 0h1" stroke="#ffff00"/>
<path d="M775 691.1h4m7 0h2m3 0h2m6 0h4m6 0h1m1 0h4m3 0h3m2 0h1m5 0h2m1 0h3m1 0h2m6 0h4m5 0h1m6 0h1m1 0h3m1 0h2m2 0h3m1 0h2m2 0h2m2 0h1m3 0h3m2 0h2m1 0h1m2 0h3m7 0h1m4 0h3m4 0h2m3 0h2m2 0h1m1 0h1m4 0h1m3 0h4m2 0h2m4 0h1m1 0h1m4 0h2m8 0h2m2 0h1m3 0h1m2 0h1m1 0h1m1 0h3m4 0h1m1 0h2m1 0h1m2 0h1m4 0h1m1 0h2m1 0h2m7 0h1m12 0h2m36 0h1m1 0h2m12 0h2m3 0h1m2 0h1m7 0h3m3 0h2m2 0h1m1 0h3m2 0h1m8 0h3m7 0h1m19 0h1m1 0h1m6 0h2m5 0h1m7 0h2m14 0h2m9 0h2m4 0h1m1 0h2m4 0h1m4 0h1m1 0h1m2 0h12m2 0h1m1 0h7m1 0h6m1 0h1m1 0h1m2 0h7m1 0h2m1 0h2m3 0h2m2 0h4m1 0h2m1 0h2m1 0h2m1 0h4m1 0h4m1 0h1m1 0h3m1 0h3m1 0h1m1 0h1m1 0h1m1 0h2m2 0h3m1 0h2m2 0h2m3 0h1m1 0h1m6 0h5m2 0h9m2 0h1m2 0h8m1 0h3m2 0h5m1 0h1m3 0h1m3 0h2m28 0h1m12 0h1m10 0h1m2 0h1m3 0h2m6 0h2m6 0h1m17 0h2m16 0h1m17 0h1m4 0h1m5 0h2m1 0h1m12 0h1m3 0h1m14 0h1m1 0h2m4 0h2m9 0h2m2 0h4m1 0h6m7 0h2m1 0h1m1 0h2m1 0h2m7 0h10m2 0h3m1 0h2m7 0h1m3 0h1" stroke="#992199"/>
<path d="M785 691.1h1m3 0h1m3 0h2m2 0h1m8 0h1m17 0h1m14 0h2m7 0h1m12 0h1m3 0h1m14 0h1m9 0h1m9 0h1m1 0h2m7 0h1m4 0h2m9 0h1m10 0h1m4 0h1m6 0h1m9 0h1m1 0h2m3 0h1m28 0h2m46 0h1m6 0h1m9 0h1m3 0h1m59 0h1m5 0h2m6 0h1m45 0h2m27 0h1m2 0h2m1 0h1m1 0h4m1 0h1m1 0h2m13 0h1m1 0h1m7 0h1m6 0h1m1 0h1m1 0h1m8 0h1m2 0h1m2 0h1m4 0h2m4 0h1m2 0h1m2 0h1m7 0h1m4 0h1m1 0h1m3 0h1m3 0h1m1 0h1m1 0h1m1 0h1m2 0h2m6 0h2m2 0h1m1 0h1m1 0h1m2 0h3m7 0h2m9 0h2m1 0h2m8 0h1m3 0h2m5 0h1m1 0h3m102 0h2m1 0h1m45 0h1m30 0h1m8 0h1m5 0h1m4 0h1m5 0h1m6 0h1m2 0h2m4 0h1m4 0h1m4 0h3m17 0h1" stroke="#801c80"/>
<path d="M937 691.1h1m267 0h1m76 0h1" stroke="#661666"/>
<path d="M804 691.1h2m2 0h1m86 0h2m76 0h2m3 0h1m542 0h2m54 0h1m85 0h1" stroke="#4c104c"/>
<path d="M810 691.1h1m16 0h1m45 0h1m41 0h1m73 0h1m31 0h1m50 0h1m20 0h1m149 0h1m226 0h1m13 0h1m105 0h1m56 0h1" stroke="#330b33"/>
<path d="M825 691.1h1m12 0h1m83 0h1m3 0h1m105 0h1m27 0h1m47 0h1m37 0h1m153 0h1m41 0h1m114 0h1m31 0h1m94 0h1m8 0h2m53 0h1" stroke="#1a061a"/>
<path d="M783 691.1h1m31 0h3m33 0h1m17 0h1m11 0h1m2 0h2m3 0h1m3 0h1m11 0h2m1 0h1m35 0h1m7 0h1m2 0h1m1 0h1m6 0h2m9 0h1m18 0h1m12 0h1m14 0h1m36 0h1m17 0h1m2 0h1m17 0h1m38 0h1m5 0h2m4 0h2m10 0h2m10 0h2m1 0h1m17 0h1m24 0h1m181 0h1m2 0h1m35 0h2m48 0h1m18 0h1m43 0h2m7 0h2m10 0h2m7 0h1m30 0h2m44 0h2" stroke="#000000"/>
<path d="M798 691.1h1m32 0h1m3 0h1m5 0h2m12 0h1m3 0h1m8 0h1m41 0h1m12 0h1m12 0h1m19 0h1m4 0h1m4 0h1m3 0h2m15 0h1m3 0h1m18 0h1m23 0h2m3 0h1m8 0h2m26 0h1m1 0h1m7 0h1m10 0h1m17 0h1m17 0h3m23 0h1m8 0h1m18 0h1m7 0h1m85 0h1m129 0h1m5 0h2m14 0h1m2 0h1m56 0h1m32 0h1m10 0h1m38 0h1m14 0h1m4 0h2m37 0h1m23 0h1" stroke="#1a1a00"/>
<path d="M780 691.1h2m6 0h1m18 0h1m41 0h2m3 0h1m3 0h1m17 0h2m40 0h1m10 0h1m2 0h2m13 0h1m56 0h1m18 0h1m12 0h1m1 0h1m2 0h1m8 0h1m1 0h1m5 0h1m4 0h1m9 0h1m17 0h1m2 0h2m8 0h1m24 0h2m7 0h1m14 0h2m16 0h1m3 0h1m7 0h2m162 0h1m3 0h2m57 0h1m18 0h1m12 0h1m35 0h1m9 0h1m35 0h1m30 0h1m9 0h1m4 0h1m21 0h1m8 0h1m16 0h2m4 0h1m5 0h2m4 0h1m27 0h1" stroke="#333300"/>
<path d="M784 691.1h1m5 0h1m4 0h2m6 0h1m17 0h2m20 0h1m12 0h2m46 0h1m29 0h1m13 0h2m38 0h1m10 0h2m18 0h2m3 0h3m1 0h1m26 0h1m13 0h1m18 0h1m7 0h1m2 0h1m3 0h1m5 0h1m13 0h1m17 0h2m4 0h1m9 0h1m12 0h1m11 0h1m7 0h2m8 0h1m2 0h1m2 0h1m198 0h1m3 0h1m5 0h1m3 0h2m13 0h2m8 0h1m1 0h1m7 0h2m2 0h1m14 0h2m1 0h2m7 0h1m21 0h1m6 0h1m21 0h1m4 0h2m16 0h1m1 0h1m6 0h1m16 0h2m71 0h1m6 0h1" stroke="#4c4c00"/>
<path d="M883 691.1h1m25 0h1m11 0h1m9 0h1m45 0h1m24 0h1m10 0h2m3 0h1m10 0h1m3 0h1m3 0h1m7 0h1m7 0h2m1 0h2m6 0h1m40 0h1m12 0h2m4 0h1m15 0h1m11 0h1m16 0h1m7 0h1m21 0h1m66 0h1m67 0h1m72 0h1m30 0h2m3 0h1m3 0h1m4 0h1m7 0h1m31 0h1m15 0h1m7 0h2m2 0h1m2 0h1m7 0h1m16 0h1m9 0h1m19 0h1" stroke="#666600"/>
<path d="M779 691.1h1m2 0h1m171 0h1m25 0h1m1 0h1m3 0h1m14 0h1m13 0h1m63 0h1m1 0h2m7 0h1m25 0h1m4 0h2m32 0h1m32 0h2m2 0h2m4 0h1m2 0h2m1 0h1m203 0h1m7 0h1m8 0h4m1 0h1m17 0h2m18 0h1m12 0h1m9 0h1m18 0h1m16 0h2m1 0h1m9 0h1m9 0h2m5 0h1m8 0h2" stroke="#808000"/>
<path d="M852 691.1h1m163 0h1m23 0h1m1 0h2m18 0h1m11 0h2m11 0h1m32 0h1m42 0h2m44 0h2m195 0h1m5 0h3m8 0h2m25 0h2m9 0h2m3 0h1m2 0h1m5 0h1m4 0h1m5 0h2m14 0h1m1 0h1m1 0h1m5 0h2m4 0h2m12 0h1m2 0h1m20 0h1m12 0h1" stroke="#999900"/>
<path d="M828 691.1h1m198 0h1m18 0h2m18 0h2m15 0h1m64 0h1m2 0h1m8 0h1m6 0h1m263 0h1m62 0h3m8 0h1m19 0h1m3 0h1m4 0h1" stroke="#b2b200"/>
<path d="M1421 691.1h2m14 0h1m15 0h1m28 0h1m16 0h1" stroke="#cccc00"/>
<path d="M826 691.1h1m351 0h2m285 0h1m1 0h1m15 0h1m59 0h1m2 0h1m5 0h1" stroke="#e6e600"/>
<path d="M901 691.1h1m209 0h1m33 0h1m365 0h1m27 0h1" stroke="#ffff00"/>
<path d="M815 717.7h1" stroke="#b226b2"/>
<path d="M792 717.7h1m10 0h4m18 0h1m5 0h1m22 0h1m1 0h2m4 0h1m3 0h1m4 0h1m2 0h2m6 0h1m9 0h1m22 0h1m2 0h1m16 0h1m10 0h1m17 0h2m2 0h1m1 0h3m7 0h1m2 0h1m6 0h1m7 0h1m52 0h1m17 0h1m10 0h1m3 0h1m17 0h1m3 0h1m17 0h1m12 0h1m31 0h1m31 0h2m19 0h2m7 0h1m7 0h3m2 0h1m2 0h3m2 0h1m2 0h1m3 0h2m7 0h1m2 0h1m6 0h2m5 0h2m14 0h1m2 0h2m4 0h1m5 0h1m2 0h2m2 0h1m2 0h1m1 0h1m6 0h2m6 0h1m1 0h2m1 0h1m11 0h4m5 0h1m2 0h3m15 0h1m1 0h2m25 0h2m67 0h1m25 0h1m66 0h2m7 0h1m5 0h2m35 0h2m10 0h1m5 0h1m1 0h2" stroke="#992199"/>
<path d="M775 717.7h1m3 0h6m2 0h4m2 0h5m1 0h1m2 0h1m4 0h3m1 0h1m1 0h2m3 0h2m4 0h1m1 0h1m1 0h1m4 0h6m1 0h2m1 0h6m2 0h3m1 0h1m4 0h2m1 0h3m3 0h1m3 0h1m2 0h3m2 0h1m1 0h1m3 0h1m3 0h1m6 0h2m2 0h2m3 0h1m3 0h1m4 0h2m3 0h2m1 0h2m4 0h2m2 0h1m1 0h1m1 0h1m6 0h1m2 0h9m1 0h2m1 0h3m13 0h3m1 0h2m1 0h2m1 0h2m3 0h6m3 0h3m6 0h1m5 0h1m1 0h1m3 0h1m4 0h1m7 0h1m3 0h1m6 0h2m11 0h1m12 0h1m4 0h2m8 0h2m10 0h1m13 0h3m1 0h1m9 0h2m2 0h2m8 0h4m14 0h1m12 0h1m4 0h1m2 0h2m12 0h1m2 0h1m10 0h1m4 0h9m2 0h7m1 0h7m3 0h2m1 0h2m3 0h2m1 0h2m1 0h3m2 0h2m1 0h4m1 0h2m3 0h4m2 0h5m2 0h6m1 0h7m1 0h2m2 0h4m1 0h5m1 0h2m2 0h2m1 0h2m1 0h1m1 0h6m2 0h6m1 0h1m2 0h1m1 0h11m4 0h5m1 0h2m3 0h15m1 0h1m2 0h5m18 0h2m5 0h1m12 0h1m12 0h2m11 0h2m10 0h1m6 0h3m4 0h1m3 0h1m1 0h2m5 0h1m3 0h1m5 0h2m11 0h1m2 0h1m32 0h3m4 0h1m11 0h1m3 0h1m2 0h2m4 0h2m3 0h1m2 0h1m2 0h4m2 0h2m9 0h2m14 0h1m1 0h1m8 0h3m7 0h1m1 0h3m3 0h1" stroke="#801c80"/>
<path d="M821 717.7h2m4 0h1m60 0h1m37 0h1m17 0h1m2 0h1m9 0h1m46 0h1m106 0h1m43 0h1" stroke="#661666"/>
<path d="M776 717.7h1m43 0h1m58 0h1m21 0h1m162 0h1m16 0h2m29 0h1m44 0h1m248 0h1m27 0h2m178 0h2" stroke="#4c104c"/>
<path d="M777 717.7h2m31 0h1m31 0h1m46 0h1m14 0h2m6 0h1m6 0h2m11 0h2m42 0h1m9 0h1m18 0h2m12 0h1m21 0h2m23 0h2m83 0h2m53 0h1m278 0h1m6 0h1m42 0h1m38 0h1m8 0h1" stroke="#330b33"/>
<path d="M786 717.7h1m11 0h1m30 0h2m1 0h1m37 0h1m22 0h1m19 0h2m28 0h1m16 0h1m30 0h1m21 0h2m9 0h2m3 0h3m16 0h2m2 0h1m5 0h1m20 0h1m16 0h1m10 0h1m28 0h1m16 0h2m23 0h2m8 0h2m2 0h2m11 0h1m1 0h1m55 0h1m201 0h1m2 0h1m83 0h1m39 0h1m34 0h1m2 0h2m33 0h1" stroke="#1a061a"/>
<path d="M800 717.7h2m66 0h1m11 0h1m9 0h1m4 0h2m42 0h1m1 0h2m24 0h1m40 0h1m6 0h1m12 0h1m15 0h1m10 0h1m4 0h1m25 0h1m7 0h2m25 0h2m6 0h2m14 0h1m14 0h1m1 0h5m31 0h1m5 0h1m67 0h2m137 0h1m15 0h1m20 0h1m4 0h1m1 0h1m3 0h1m12 0h1m8 0h1m15 0h2m32 0h1m25 0h1m11 0h1m9 0h1m15 0h1m7 0h1m32 0h1m9 0h1" stroke="#000000"/>
<path d="M839 717.7h1m9 0h2m7 0h1m13 0h1m55 0h1m37 0h1m6 0h2m14 0h1m9 0h2m35 0h1m19 0h2m4 0h1m7 0h2m11 0h1m5 0h1m7 0h2m17 0h1m22 0h1m27 0h1m15 0h4m12 0h1m3 0h1m201 0h1m1 0h1m28 0h1m30 0h1m5 0h1m20 0h1m13 0h1m12 0h2m9 0h1m10 0h1m6 0h1m2 0h2m9 0h1m5 0h1m6 0h1m13 0h1m10 0h1m21 0h1m17 0h1" stroke="#1a1a00"/>
<path d="M785 717.7h1m26 0h1m3 0h2m66 0h3m7 0h1m2 0h1m10 0h1m100 0h1m13 0h1m2 0h1m7 0h1m2 0h1m2 0h1m4 0h1m4 0h1m23 0h3m8 0h1m6 0h1m11 0h1m4 0h1m8 0h2m13 0h1m6 0h1m8 0h2m10 0h1m6 0h1m2 0h1m18 0h2m3 0h1m97 0h1m108 0h2m4 0h1m7 0h1m23 0h4m8 0h1m8 0h2m15 0h1m28 0h1m2 0h1m23 0h1m6 0h2m12 0h1m3 0h1m29 0h1m9 0h1m16 0h1m8 0h2m32 0h1m4 0h1" stroke="#333300"/>
<path d="M823 717.7h1m35 0h1m49 0h1m27 0h1m2 0h1m28 0h1m5 0h1m41 0h1m3 0h1m51 0h1m34 0h1m37 0h3m7 0h1m16 0h2m12 0h1m8 0h1m12 0h2m203 0h1m6 0h2m2 0h2m4 0h1m6 0h2m18 0h1m7 0h1m9 0h2m13 0h1m19 0h1m15 0h1m2 0h1m25 0h1m3 0h1m14 0h1m42 0h2m8 0h1m14 0h2m7 0h1" stroke="#4c4c00"/>
<path d="M867 717.7h1m32 0h1m5 0h1m3 0h1m12 0h1m5 0h1m102 0h2m4 0h1m4 0h1m17 0h1m31 0h1m6 0h2m18 0h1m2 0h1m2 0h1m7 0h1m35 0h1m11 0h1m249 0h1m11 0h1m1 0h1m23 0h2m2 0h1m4 0h2m24 0h1m13 0h1m13 0h1m3 0h2m39 0h1m29 0h2m2 0h1m19 0h1m2 0h1m2 0h1m8 0h1m15 0h1" stroke="#666600"/>
<path d="M791 717.7h1m135 0h1m92 0h1m32 0h2m10 0h1m2 0h1m22 0h1m13 0h1m29 0h1m2 0h1m19 0h1m17 0h1m23 0h1m208 0h1m18 0h2m3 0h1m13 0h1m8 0h1m33 0h1m8 0h1m3 0h1m5 0h1m13 0h1m20 0h2m2 0h2m50 0h1m16 0h1m5 0h1m5 0h1" stroke="#808000"/>
<path d="M1007 717.7h1m55 0h1m26 0h1m12 0h1m6 0h1m14 0h1m275 0h1m8 0h1m4 0h1m33 0h1m68 0h1m1 0h1m3 0h1m11 0h1m2 0h2m10 0h1m6 0h1m6 0h3m8 0h1m36 0h1m6 0h1m19 0h2" stroke="#999900"/>
<path d="M1175 717.7h1m236 0h2m16 0h1m14 0h1m11 0h1m28 0h2m12 0h2m2 0h1m24 0h1" stroke="#b2b200"/>
<path d="M1404 717.7h1m18 0h1m36 0h1m8 0h1m45 0h1m10 0h1m19 0h2m37 0h2" stroke="#cccc00"/>
<path d="M1454 717.7h1" stroke="#e6e600"/>
<path d="M1516 717.7h2" stroke="#ffff00"/>
<path d="M1015 744.2h1" stroke="#b226b2"/>
<path d="M783 744.2h2m7 0h1m1 0h1m4 0h3m11 0h2m5 0h1m3 0h1m2 0h1m6 0h1m1 0h3m12 0h1m9 0h1m8 0h1m12 0h1m6 0h2m17 0h1m2 0h1m14 0h1m8 0h2m3 0h2m1 0h1m9 0h1m5 0h1m1 0h4m11 0h1m18 0h2m10 0h2m3 0h2m6 0h1m2 0h2m55 0h2m64 0h1m4 0h3m5 0h1m11 0h1m10 0h2m9 0h1m18 0h1m3 0h1m10 0h1m3 0h1m2 0h2m2 0h1m4 0h2m1 0h1m8 0h2m6 0h1m12 0h2m6 0h2m8 0h2m5 0h2m5 0h3m3 0h1m3 0h1m1 0h2m10 0h2m2 0h3m7 0h1m5 0h1m4 0h1m7 0h2m6 0h1m4 0h2m1 0h1m1 0h2m2 0h3m3 0h1m13 0h1m7 0h1m16 0h1m19 0h1m37 0h1m56 0h2m74 0h1m22 0h1m4 0h1" stroke="#992199"/>
<path d="M775 744.2h2m2 0h4m2 0h1m1 0h2m1 0h1m4 0h4m4 0h1m2 0h1m2 0h1m1 0h2m2 0h5m1 0h3m2 0h1m1 0h1m2 0h3m6 0h1m3 0h7m1 0h3m2 0h4m4 0h1m5 0h5m2 0h2m1 0h1m4 0h2m4 0h2m1 0h5m1 0h2m2 0h3m3 0h1m1 0h6m2 0h1m4 0h1m1 0h2m2 0h2m5 0h2m4 0h2m1 0h6m1 0h1m1 0h3m1 0h1m4 0h1m1 0h1m1 0h7m1 0h1m5 0h2m1 0h4m4 0h1m2 0h3m1 0h1m1 0h1m2 0h1m2 0h1m17 0h1m11 0h1m3 0h1m10 0h1m8 0h1m14 0h1m13 0h1m8 0h1m2 0h1m9 0h1m4 0h1m6 0h2m4 0h1m3 0h1m4 0h4m2 0h4m5 0h1m1 0h1m10 0h2m18 0h2m12 0h2m2 0h1m5 0h3m1 0h10m1 0h3m1 0h2m2 0h2m1 0h4m2 0h1m1 0h8m2 0h6m1 0h4m2 0h6m2 0h1m1 0h4m2 0h8m2 0h5m2 0h5m3 0h3m1 0h3m1 0h1m2 0h10m7 0h7m1 0h5m1 0h4m1 0h7m2 0h6m1 0h4m2 0h1m1 0h1m2 0h2m3 0h3m1 0h4m3 0h3m2 0h1m20 0h1m9 0h2m4 0h1m9 0h1m15 0h1m5 0h2m3 0h1m4 0h2m37 0h1m1 0h1m11 0h1m12 0h1m2 0h1m5 0h1m13 0h2m26 0h1m37 0h2m15 0h6m1 0h2" stroke="#801c80"/>
<path d="M786 744.2h1m180 0h1m69 0h1m13 0h1m13 0h1m37 0h2m11 0h1m41 0h1m4 0h2m44 0h2m291 0h1" stroke="#661666"/>
<path d="M825 744.2h1m30 0h1m32 0h1m10 0h1m29 0h1m55 0h1m14 0h1m17 0h1m18 0h1m4 0h1m28 0h1m14 0h1m25 0h2m19 0h1m38 0h2m94 0h2m146 0h2" stroke="#4c104c"/>
<path d="M810 744.2h1m51 0h2m3 0h1m8 0h2m45 0h1m56 0h1m64 0h1m54 0h2m9 0h1m6 0h2m42 0h1m6 0h1m22 0h1m2 0h1m5 0h2m285 0h1m30 0h1" stroke="#330b33"/>
<path d="M842 744.2h2m11 0h1m26 0h1m20 0h1m20 0h2m5 0h1m3 0h1m43 0h1m1 0h1m1 0h1m52 0h1m13 0h1m5 0h3m9 0h4m20 0h1m13 0h1m1 0h1m31 0h1m36 0h1m2 0h3m10 0h1m230 0h1m21 0h1m10 0h1m2 0h1m39 0h2m5 0h1m23 0h1m93 0h2m37 0h1" stroke="#1a061a"/>
<path d="M777 744.2h2m10 0h1m3 0h1m13 0h1m27 0h1m30 0h1m1 0h1m11 0h1m29 0h1m92 0h1m1 0h2m11 0h1m3 0h1m6 0h1m11 0h2m9 0h1m21 0h2m2 0h1m9 0h1m1 0h1m3 0h3m15 0h1m4 0h1m3 0h4m1 0h1m8 0h1m20 0h1m19 0h1m19 0h1m1 0h1m1 0h1m5 0h2m241 0h1m9 0h1m13 0h1m6 0h1m13 0h1m10 0h1m10 0h2m51 0h1" stroke="#000000"/>
<path d="M804 744.2h2m33 0h1m64 0h1m3 0h1m13 0h1m69 0h3m25 0h1m6 0h1m6 0h1m11 0h2m5 0h2m6 0h1m4 0h2m5 0h1m15 0h1m7 0h2m79 0h2m19 0h1m80 0h1m133 0h1m8 0h1m16 0h3m9 0h1m12 0h1m17 0h1m39 0h1m4 0h1m5 0h1m50 0h2m20 0h1m15 0h1m5 0h1m15 0h1" stroke="#1a1a00"/>
<path d="M791 744.2h1m16 0h1m20 0h2m10 0h1m22 0h1m23 0h1m49 0h1m8 0h1m75 0h1m6 0h3m2 0h1m23 0h2m1 0h1m17 0h1m3 0h1m14 0h1m7 0h1m17 0h1m5 0h2m6 0h1m27 0h2m6 0h1m229 0h1m5 0h1m59 0h1m3 0h1m3 0h1m2 0h1m1 0h1m7 0h2m15 0h1m1 0h1m2 0h1m11 0h1m6 0h1m7 0h2m23 0h2m9 0h1m54 0h1m6 0h1" stroke="#333300"/>
<path d="M956 744.2h1m59 0h1m16 0h1m5 0h1m23 0h1m13 0h1m7 0h1m5 0h1m46 0h1m2 0h1m13 0h1m9 0h2m18 0h2m10 0h1m233 0h1m2 0h2m11 0h1m2 0h2m9 0h4m4 0h1m34 0h1m7 0h2m1 0h1m13 0h2m5 0h2m2 0h1m3 0h2m7 0h2m3 0h1m1 0h1m9 0h1m7 0h2m9 0h1m9 0h1m35 0h1" stroke="#4c4c00"/>
<path d="M869 744.2h1m24 0h1m24 0h2m22 0h1m38 0h1m8 0h1m25 0h1m58 0h1m6 0h1m2 0h1m23 0h1m18 0h2m56 0h1m15 0h1m206 0h1m18 0h1m7 0h1m30 0h1m3 0h1m17 0h1m12 0h1m14 0h1m2 0h2m1 0h1m10 0h1m21 0h1m4 0h2m19 0h1m16 0h1m5 0h1m9 0h1m13 0h2" stroke="#666600"/>
<path d="M884 744.2h2m48 0h1m34 0h1m78 0h2m86 0h1m24 0h1m26 0h2m237 0h1m8 0h1m6 0h1m1 0h1m2 0h1m6 0h2m21 0h1m10 0h1m7 0h3m8 0h1m11 0h1m17 0h1m12 0h1m4 0h1m2 0h1m5 0h1m21 0h2m4 0h3m14 0h1m3 0h2m1 0h1m19 0h1" stroke="#808000"/>
<path d="M1109 744.2h1m36 0h1m254 0h1m7 0h1m2 0h2m5 0h4m35 0h1m8 0h1m27 0h2m9 0h1m36 0h1m20 0h1m9 0h1m29 0h2m5 0h1m8 0h1m6 0h1m8 0h1m1 0h1m4 0h2m4 0h2" stroke="#999900"/>
<path d="M802 744.2h1m223 0h1m308 0h2m69 0h1m8 0h1m9 0h2m3 0h1m1 0h1m33 0h1m7 0h1m106 0h2m15 0h1m2 0h1m16 0h2m1 0h2m17 0h1" stroke="#b2b200"/>
<path d="M1546 744.2h2m44 0h1m15 0h2m18 0h1m19 0h1m4 0h2" stroke="#cccc00"/>
<path d="M1485 744.2h1m24 0h1m21 0h1m17 0h1m17 0h1m22 0h1m10 0h1m30 0h2m11 0h1m4 0h1" stroke="#e6e600"/>
<path d="M1580 744.2h1m3 0h1m5 0h1m5 0h2m14 0h2" stroke="#ffff00"/>
<path d="M1103 770.8h1m58 0h1m394 0h1" stroke="#801c80"/>
<path d="M777 770.8h2m3 0h1m11 0h1m1 0h1m2 0h1m2 0h1m4 0h1m5 0h2m1 0h2m6 0h1m3 0h1m2 0h1m9 0h1m1 0h6m4 0h1m3 0h1m15 0h1m5 0h1m8 0h1m9 0h2m2 0h1m1 0h1m2 0h1m2 0h1m2 0h2m6 0h1m12 0h1m1 0h1m3 0h3m3 0h1m7 0h1m1 0h1m19 0h1m3 0h1m2 0h2m2 0h4m8 0h3m7 0h2m42 0h2m17 0h1m36 0h2m1 0h1m28 0h1m9 0h1m23 0h1m27 0h2m9 0h1m4 0h1m2 0h2m3 0h2m3 0h1m3 0h1m7 0h1m1 0h1m3 0h2m1 0h1m1 0h1m5 0h1m7 0h2m4 0h2m15 0h1m1 0h1m2 0h1m8 0h1m4 0h1m12 0h1m4 0h2m1 0h1m1 0h3m6 0h1m5 0h4m1 0h1m2 0h3m9 0h2m6 0h1m1 0h1m1 0h1m10 0h1m1 0h1m2 0h1m32 0h1m9 0h2m23 0h1m2 0h1m24 0h1m3 0h2m12 0h1m14 0h1m91 0h2m28 0h1m14 0h1m1 0h1" stroke="#661666"/>
<path d="M775 770.8h2m2 0h3m1 0h1m1 0h9m1 0h1m1 0h2m1 0h2m1 0h1m2 0h1m1 0h1m2 0h2m2 0h1m2 0h1m1 0h4m1 0h3m1 0h2m1 0h1m1 0h7m1 0h1m9 0h1m2 0h2m1 0h13m1 0h1m1 0h5m1 0h4m2 0h2m1 0h2m2 0h5m3 0h1m1 0h1m1 0h2m1 0h2m1 0h2m2 0h6m1 0h10m3 0h1m1 0h3m3 0h3m1 0h7m1 0h1m1 0h3m1 0h15m1 0h2m2 0h2m2 0h2m5 0h7m3 0h7m4 0h2m6 0h2m7 0h2m1 0h1m2 0h1m5 0h1m13 0h3m14 0h1m7 0h2m1 0h2m3 0h3m8 0h2m2 0h2m9 0h2m1 0h2m13 0h1m3 0h1m10 0h1m3 0h1m5 0h1m4 0h2m3 0h2m3 0h2m2 0h3m25 0h1m7 0h1m1 0h4m1 0h2m2 0h3m2 0h3m1 0h3m1 0h7m1 0h1m1 0h3m2 0h1m1 0h1m1 0h5m1 0h7m2 0h4m2 0h15m1 0h1m1 0h2m1 0h8m1 0h4m1 0h12m1 0h4m2 0h1m1 0h1m3 0h6m1 0h5m4 0h1m1 0h2m3 0h9m2 0h6m1 0h1m1 0h1m1 0h10m1 0h1m1 0h2m1 0h1m7 0h1m24 0h1m2 0h2m8 0h2m4 0h2m6 0h1m24 0h1m1 0h1m3 0h1m19 0h1m26 0h1m19 0h1m3 0h1m18 0h1m4 0h1m4 0h2m2 0h2m13 0h6m7 0h1m1 0h1m15 0h1m7 0h1m10 0h5m1 0h1m1 0h1" stroke="#4c104c"/>
<path d="M1035 770.8h1m33 0h1m87 0h1m37 0h1m2 0h1m211 0h1m89 0h2m93 0h1" stroke="#330b33"/>
<path d="M804 770.8h2m223 0h1m18 0h2m13 0h1m13 0h1m2 0h1m40 0h2m4 0h2m17 0h1m33 0h2m8 0h2m335 0h1m10 0h1m97 0h1m16 0h2" stroke="#1a061a"/>
<path d="M810 770.8h1m38 0h2m3 0h1m179 0h1m17 0h1m9 0h1m3 0h2m43 0h1m14 0h1m4 0h2m2 0h1m3 0h1m2 0h3m14 0h2m10 0h2m15 0h2m219 0h1m61 0h1m16 0h1m35 0h1m45 0h1m5 0h1m27 0h2" stroke="#000000"/>
<path d="M960 770.8h1m54 0h1m12 0h1m8 0h1m8 0h2m7 0h1m14 0h2m6 0h1m44 0h2m13 0h1m8 0h1m34 0h1m2 0h2m6 0h1m5 0h2m236 0h1m4 0h2m12 0h1m9 0h1m19 0h2m19 0h1m8 0h2m17 0h1m81 0h1m11 0h1m5 0h1m2 0h1" stroke="#1a1a00"/>
<path d="M809 770.8h1m9 0h1m64 0h2m130 0h1m7 0h2m6 0h1m8 0h1m3 0h1m14 0h2m2 0h1m9 0h2m16 0h1m3 0h3m7 0h1m22 0h2m39 0h1m35 0h5m205 0h1m4 0h2m4 0h1m8 0h1m75 0h2m7 0h2m20 0h1m11 0h1m8 0h1m16 0h2m9 0h1m13 0h1m15 0h1m5 0h1m3 0h1m7 0h1m5 0h1" stroke="#333300"/>
<path d="M784 770.8h1m233 0h2m18 0h2m43 0h1m9 0h3m6 0h1m5 0h1m4 0h2m10 0h1m29 0h2m8 0h3m8 0h1m15 0h1m1 0h1m207 0h2m20 0h3m1 0h1m23 0h1m4 0h1m74 0h1m1 0h1m11 0h1m3 0h1m14 0h1m2 0h1m11 0h1m10 0h1m8 0h1m6 0h1m34 0h1" stroke="#4c4c00"/>
<path d="M871 770.8h1m19 0h1m8 0h1m31 0h2m89 0h1m3 0h1m15 0h1m7 0h1m24 0h1m10 0h1m11 0h1m36 0h1m3 0h1m4 0h1m15 0h1m21 0h2m2 0h1m224 0h2m5 0h2m2 0h1m35 0h1m19 0h1m14 0h1m4 0h1m4 0h1m5 0h1m22 0h1m6 0h1m7 0h1m2 0h2m22 0h1m9 0h2m27 0h2m8 0h1m12 0h1m5 0h2m4 0h2" stroke="#666600"/>
<path d="M833 770.8h1m17 0h1m216 0h1m19 0h1m18 0h1m12 0h1m80 0h2m198 0h1m2 0h1m3 0h1m2 0h1m17 0h1m3 0h1m15 0h1m3 0h1m15 0h1m6 0h2m3 0h1m8 0h2m3 0h2m5 0h1m2 0h1m2 0h1m5 0h1m3 0h1m4 0h1m6 0h1m6 0h1m11 0h1m3 0h2m6 0h1m16 0h1m4 0h1m3 0h2m7 0h3m3 0h2m21 0h3m17 0h1m5 0h2" stroke="#808000"/>
<path d="M1040 770.8h1m3 0h1m34 0h1m37 0h1m31 0h2m2 0h2m41 0h1m217 0h1m31 0h1m14 0h2m4 0h1m4 0h1m1 0h2m2 0h1m36 0h1m13 0h1m11 0h2m1 0h2m31 0h1m42 0h1" stroke="#999900"/>
<path d="M979 770.8h1m11 0h1m25 0h1m32 0h1m14 0h1m20 0h1m47 0h1m62 0h1m209 0h1m30 0h2m15 0h1m4 0h1m23 0h1m18 0h1m2 0h1m13 0h1m4 0h1m5 0h1m27 0h1m2 0h2m2 0h2m31 0h1m1 0h1m39 0h1" stroke="#b2b200"/>
<path d="M1020 770.8h1m5 0h1m378 0h1m11 0h2m13 0h1m21 0h1m15 0h1m2 0h1m8 0h1m9 0h1m35 0h1m45 0h1m41 0h1" stroke="#cccc00"/>
<path d="M892 770.8h1m166 0h1m355 0h1m31 0h1m71 0h1m19 0h1m7 0h1m10 0h1m10 0h1m60 0h2m1 0h2" stroke="#e6e600"/>
<path d="M1448 770.8h1m14 0h2m15 0h1" stroke="#ffff00"/>
<path d="M1124 797.4h1m320 0h1m124 0h1" stroke="#992199"/>
<path d="M799 797.4h1m7 0h1m3 0h1m7 0h1m3 0h1m10 0h1m7 0h4m10 0h2m1 0h1m1 0h1m7 0h1m2 0h1m16 0h1m3 0h1m13 0h2m4 0h3m2 0h1m13 0h2m3 0h1m8 0h1m1 0h4m2 0h1m22 0h1m4 0h1m9 0h2m1 0h1m2 0h1m3 0h1m5 0h1m1 0h1m12 0h1m11 0h1m3 0h1m37 0h1m28 0h1m16 0h1m36 0h1m6 0h1m9 0h1m39 0h1m1 0h3m4 0h1m4 0h1m16 0h1m5 0h1m13 0h1m2 0h1m12 0h1m4 0h2m1 0h1m8 0h2m2 0h1m4 0h1m4 0h1m8 0h1m1 0h1m7 0h1m7 0h1m3 0h2m9 0h1m11 0h1m1 0h1m5 0h2m5 0h2m2 0h1m7 0h1m11 0h1m2 0h1m12 0h1m34 0h1m16 0h2m17 0h2m23 0h1m5 0h1m9 0h1m16 0h2m53 0h2m15 0h2m1 0h1m4 0h2m28 0h1" stroke="#801c80"/>
<path d="M775 797.4h2m5 0h1m1 0h5m2 0h1m1 0h1m1 0h2m1 0h1m3 0h5m1 0h2m2 0h1m2 0h4m1 0h1m3 0h7m1 0h2m1 0h1m2 0h2m6 0h8m4 0h1m3 0h1m1 0h4m5 0h1m4 0h1m1 0h1m2 0h3m2 0h1m1 0h3m2 0h2m1 0h3m2 0h1m2 0h1m2 0h4m3 0h2m1 0h2m1 0h5m1 0h4m2 0h2m2 0h6m8 0h2m1 0h7m4 0h9m4 0h3m2 0h1m1 0h6m4 0h2m1 0h3m1 0h1m1 0h3m9 0h1m2 0h1m1 0h1m4 0h2m5 0h1m6 0h1m6 0h3m1 0h1m8 0h3m6 0h2m7 0h1m5 0h1m11 0h1m14 0h3m5 0h1m12 0h1m2 0h1m1 0h2m8 0h1m8 0h1m3 0h1m1 0h2m17 0h1m7 0h2m5 0h1m2 0h1m13 0h3m5 0h4m1 0h4m2 0h2m4 0h4m1 0h1m2 0h1m1 0h5m2 0h5m1 0h2m1 0h2m2 0h2m1 0h9m1 0h2m1 0h4m5 0h1m1 0h5m2 0h2m1 0h4m1 0h4m1 0h4m1 0h2m2 0h1m2 0h3m2 0h1m1 0h5m1 0h1m2 0h1m3 0h1m5 0h1m1 0h1m1 0h2m2 0h7m1 0h1m3 0h2m3 0h1m2 0h1m3 0h2m1 0h7m1 0h2m5 0h2m11 0h2m2 0h2m6 0h1m13 0h1m13 0h1m2 0h1m4 0h1m8 0h2m2 0h1m1 0h1m3 0h1m1 0h2m3 0h1m15 0h1m8 0h2m5 0h1m1 0h1m5 0h4m6 0h3m11 0h1m12 0h1m8 0h1m9 0h2m4 0h2m7 0h1m38 0h1m9 0h1m6 0h1m1 0h2m2 0h1" stroke="#661666"/>
<path d="M921 797.4h1m22 0h1m121 0h2m28 0h1m48 0h1m1 0h1m4 0h1m45 0h1m7 0h1m74 0h1m171 0h1m7 0h2m4 0h1" stroke="#4c104c"/>
<path d="M886 797.4h1m126 0h2m28 0h1m15 0h1m8 0h1m41 0h1m18 0h2m3 0h1m11 0h1m6 0h2m16 0h2m5 0h2m8 0h2m55 0h1m74 0h1m86 0h1m6 0h1m17 0h2m4 0h2m12 0h1m53 0h1m23 0h1m28 0h1m85 0h1" stroke="#330b33"/>
<path d="M874 797.4h2m18 0h1m2 0h1m171 0h1m3 0h1m7 0h2m5 0h1m11 0h2m1 0h1m17 0h2m3 0h1m8 0h1m1 0h1m21 0h1m25 0h2m6 0h1m1 0h1m8 0h1m86 0h1m35 0h1m12 0h1m65 0h1m24 0h1m2 0h2m61 0h2m20 0h1m36 0h1m61 0h2m46 0h1" stroke="#1a061a"/>
<path d="M797 797.4h1m38 0h2m16 0h1m49 0h1m110 0h1m28 0h1m8 0h2m17 0h1m11 0h1m4 0h2m3 0h2m3 0h1m2 0h1m2 0h1m37 0h2m24 0h1m5 0h1m7 0h2m14 0h1m1 0h2m5 0h3m2 0h1m22 0h1m9 0h1m17 0h1m58 0h1m106 0h1m16 0h1m1 0h1m38 0h1m4 0h1m5 0h1m14 0h1m3 0h1m8 0h1m9 0h1m9 0h1m17 0h1m51 0h1" stroke="#000000"/>
<path d="M821 797.4h2m8 0h1m9 0h1m13 0h1m7 0h1m17 0h1m80 0h2m11 0h1m7 0h1m32 0h1m1 0h1m7 0h1m19 0h2m3 0h1m3 0h1m8 0h2m17 0h1m14 0h1m5 0h1m6 0h1m4 0h1m24 0h2m6 0h3m21 0h2m17 0h1m1 0h1m8 0h1m1 0h1m26 0h1m22 0h1m99 0h1m16 0h2m2 0h1m33 0h1m1 0h2m1 0h1m3 0h2m16 0h1m6 0h1m25 0h1m10 0h3m5 0h1m2 0h1m7 0h2m1 0h1m4 0h2m1 0h1m12 0h1m3 0h1m11 0h1m3 0h2m2 0h1m41 0h1m10 0h1m57 0h1" stroke="#1a1a00"/>
<path d="M783 797.4h1m5 0h1m2 0h1m1 0h1m5 0h2m69 0h1m4 0h2m1 0h1m47 0h1m17 0h1m32 0h1m6 0h1m35 0h1m2 0h2m4 0h3m4 0h1m2 0h1m19 0h1m17 0h1m36 0h1m1 0h3m7 0h2m2 0h2m29 0h1m44 0h1m10 0h1m16 0h1m1 0h2m4 0h1m23 0h1m25 0h1m1 0h1m36 0h1m10 0h1m36 0h1m42 0h1m3 0h1m14 0h1m5 0h1m22 0h1m1 0h1m5 0h1m32 0h2m7 0h2m34 0h1m2 0h1m1 0h2m10 0h1m1 0h1m26 0h1m9 0h3m4 0h1" stroke="#333300"/>
<path d="M780 797.4h2m8 0h1m79 0h1m34 0h1m41 0h1m71 0h1m13 0h1m4 0h1m6 0h1m10 0h2m16 0h3m3 0h1m5 0h2m37 0h1m14 0h1m24 0h2m1 0h1m1 0h1m9 0h2m163 0h1m3 0h2m9 0h2m19 0h1m1 0h1m18 0h2m24 0h1m7 0h1m19 0h1m6 0h2m4 0h1m24 0h1m7 0h1m1 0h2m46 0h1m13 0h2m17 0h2m35 0h1m17 0h1m11 0h1m9 0h1" stroke="#4c4c00"/>
<path d="M810 797.4h1m2 0h2m45 0h1m168 0h1m12 0h1m48 0h1m15 0h1m47 0h1m40 0h1m134 0h1m19 0h3m47 0h1m7 0h1m6 0h1m8 0h2m45 0h1m12 0h1m29 0h1m22 0h1m10 0h3m6 0h1m2 0h1m2 0h1m18 0h1m15 0h2m10 0h2m3 0h1m6 0h1m8 0h1m4 0h1m5 0h2m20 0h1" stroke="#666600"/>
<path d="M882 797.4h1m19 0h1m73 0h1m17 0h1m63 0h1m33 0h1m15 0h2m77 0h1m262 0h2m2 0h1m35 0h1m38 0h1m9 0h1m29 0h1m9 0h1m1 0h2m6 0h1m1 0h1m4 0h3m7 0h2m2 0h1m10 0h1m2 0h1m2 0h1m2 0h2m6 0h1m7 0h1m1 0h1" stroke="#808000"/>
<path d="M868 797.4h1m32 0h1m34 0h1m67 0h1m4 0h1m83 0h1m64 0h1m17 0h1m269 0h1m8 0h1m54 0h1m35 0h1m37 0h1m7 0h1m42 0h2m2 0h1m7 0h1m1 0h2m2 0h2" stroke="#999900"/>
<path d="M779 797.4h1m60 0h1m123 0h2m70 0h1m119 0h1m104 0h1m178 0h2m16 0h1m76 0h1m42 0h1m1 0h1m14 0h1m8 0h2m23 0h1" stroke="#b2b200"/>
<path d="M777 797.4h2m108 0h1m578 0h1m108 0h1" stroke="#cccc00"/>
<path d="M1468 797.4h1m173 0h1" stroke="#ffff00"/>
<path d="M1468 823.9h1" stroke="#992199"/>
<path d="M1109 823.9h1" stroke="#801c80"/>
<path d="M780 823.9h2m2 0h2m5 0h2m1 0h1m3 0h2m3 0h3m2 0h3m2 0h3m2 0h1m2 0h3m2 0h2m6 0h1m3 0h1m5 0h2m3 0h2m3 0h1m2 0h2m2 0h1m1 0h4m3 0h1m1 0h1m6 0h3m4 0h1m4 0h1m5 0h3m1 0h1m2 0h2m6 0h3m14 0h1m8 0h1m1 0h1m4 0h1m1 0h1m3 0h1m6 0h2m1 0h1m6 0h1m18 0h2m3 0h2m5 0h2m1 0h1m2 0h2m3 0h1m4 0h33m2 0h3m2 0h5m1 0h5m2 0h4m1 0h27m2 0h7m1 0h16m1 0h10m1 0h9m1 0h23m1 0h5m1 0h7m2 0h16m1 0h2m1 0h4m18 0h2m9 0h2m21 0h1m11 0h2m17 0h1m8 0h3m16 0h1m8 0h1m9 0h1m5 0h1m3 0h2m23 0h1m24 0h6m1 0h3m1 0h2m1 0h1m1 0h21m4 0h4m1 0h9m2 0h3m2 0h5m1 0h4m1 0h1m1 0h6m1 0h11m1 0h20m1 0h4m3 0h3m1 0h1m1 0h7m1 0h1m1 0h14m2 0h16m3 0h28m1 0h3m1 0h25m1 0h2m2 0h8m1 0h6m6 0h9" stroke="#661666"/>
<path d="M851 823.9h1m208 0h1m355 0h1m58 0h1" stroke="#4c104c"/>
<path d="M786 823.9h1m2 0h1m39 0h2m12 0h1m2 0h2m21 0h1m3 0h1m15 0h1m12 0h1m78 0h1m7 0h1m136 0h1m280 0h1m65 0h1m128 0h1m29 0h1" stroke="#330b33"/>
<path d="M777 823.9h2m23 0h1m25 0h1m10 0h1m16 0h1m30 0h1m21 0h1m26 0h1m19 0h1m15 0h1m438 0h1m114 0h1m26 0h2m98 0h2" stroke="#1a061a"/>
<path d="M820 823.9h1m12 0h1m28 0h1m4 0h1m59 0h1m26 0h2m1 0h1m15 0h2m28 0h1m62 0h2m4 0h1m104 0h1m278 0h1" stroke="#000000"/>
<path d="M782 823.9h2m9 0h1m1 0h1m11 0h1m24 0h1m9 0h1m10 0h1m5 0h1m16 0h2m5 0h1m23 0h2m12 0h1m8 0h1m4 0h1m5 0h2m9 0h2m6 0h1m19 0h1m9 0h1m3 0h4m10 0h1m197 0h1m73 0h1m16 0h1m116 0h1m31 0h1m14 0h2m31 0h1m140 0h1m16 0h1" stroke="#1a1a00"/>
<path d="M775 823.9h1m3 0h1m7 0h2m1 0h1m9 0h2m9 0h1m4 0h2m7 0h1m9 0h1m5 0h1m29 0h1m2 0h2m2 0h1m32 0h1m3 0h1m6 0h1m1 0h2m2 0h1m10 0h1m35 0h1m2 0h1m3 0h2m64 0h2m121 0h1m13 0h2m16 0h1m16 0h1m62 0h1m42 0h1m48 0h1m64 0h2m78 0h3m83 0h1" stroke="#333300"/>
<path d="M796 823.9h1m22 0h1m20 0h1m43 0h2m6 0h2m6 0h1m2 0h1m14 0h1m7 0h1m4 0h3m30 0h2m1 0h1m2 0h2m4 0h1m7 0h1m6 0h1m12 0h1m8 0h2m38 0h2m45 0h2m170 0h2m13 0h2m7 0h1m17 0h1m17 0h1m13 0h1m8 0h1m15 0h1m6 0h1m1 0h2m8 0h1m47 0h2m17 0h1m70 0h1m107 0h1m8 0h1" stroke="#4c4c00"/>
<path d="M776 823.9h1m71 0h1m19 0h1m13 0h1m12 0h2m9 0h1m12 0h2m25 0h1m3 0h1m26 0h1m7 0h2m160 0h1m66 0h1m7 0h2m11 0h2m47 0h1m6 0h1m3 0h1m4 0h1m8 0h1m34 0h1m19 0h1m150 0h1m22 0h1" stroke="#666600"/>
<path d="M824 823.9h1m6 0h1m4 0h2m14 0h1m2 0h1m34 0h1m19 0h1m5 0h2m5 0h1m10 0h1m63 0h1m138 0h1m86 0h2m1 0h1m3 0h4m13 0h1m17 0h3m20 0h1m8 0h2m2 0h1m5 0h1m1 0h1m10 0h1m3 0h1m33 0h1m9 0h1m16 0h2m6 0h1m141 0h1" stroke="#808000"/>
<path d="M806 823.9h1m81 0h1m48 0h1m24 0h2m5 0h1m9 0h1m27 0h1m211 0h1m17 0h3m21 0h1m2 0h1m4 0h2m8 0h1m40 0h1m3 0h1m2 0h1m1 0h2m2 0h1m23 0h1m4 0h2m2 0h2m14 0h2m5 0h1m5 0h1m1 0h1m84 0h1" stroke="#999900"/>
<path d="M797 823.9h1m96 0h1m53 0h2m16 0h1m34 0h1m211 0h1m31 0h1m1 0h1m7 0h4m6 0h1m5 0h1m2 0h1m7 0h1m9 0h2m18 0h1m2 0h1m23 0h1m5 0h1m7 0h1m2 0h1m1 0h1m6 0h1m4 0h1m6 0h1m6 0h2m7 0h1m2 0h1m1 0h1" stroke="#b2b200"/>
<path d="M812 823.9h1m47 0h1m82 0h1m65 0h1m207 0h1m28 0h1m2 0h3m1 0h2m26 0h1m3 0h2m14 0h1m4 0h1m10 0h3m15 0h4m1 0h1m8 0h2m28 0h1m8 0h1m2 0h2" stroke="#cccc00"/>
<path d="M1216 823.9h1m4 0h1m40 0h1m14 0h1m33 0h1m11 0h1m18 0h1m5 0h1m5 0h1m19 0h1" stroke="#e6e600"/>
<path d="M944 823.9h1m270 0h1m2 0h1m7 0h1m1 0h1m13 0h3m7 0h1m6 0h2m17 0h1m11 0h1m16 0h1m5 0h1m2 0h1m11 0h1m5 0h1m8 0h1m16 0h2m6 0h1m3 0h2" stroke="#ffff00"/>
<path d="M775 850.5h1m8 0h3m3 0h3m1 0h1m1 0h1m1 0h4m1 0h1m2 0h1m1 0h1m1 0h1m4 0h1m2 0h1m1 0h1m2 0h1m1 0h1m3 0h3m1 0h2m1 0h2m4 0h1m3 0h3m2 0h3m2 0h1m2 0h3m6 0h1m1 0h1m1 0h1m1 0h2m2 0h1m3 0h6m3 0h1m1 0h2m2 0h1m2 0h2m1 0h1m1 0h3m2 0h5m3 0h1m3 0h1m4 0h1m1 0h1m1 0h1m3 0h4m4 0h1m1 0h10m2 0h3m2 0h4m3 0h1m3 0h2m1 0h1m1 0h1m1 0h4m1 0h3m2 0h2m4 0h7m1 0h1m2 0h3m3 0h2m3 0h2m1 0h1m1 0h4m1 0h13m2 0h2m1 0h2m3 0h1m1 0h2m1 0h3m1 0h6m2 0h9m1 0h5m1 0h6m2 0h1m1 0h2m1 0h5m1 0h1m1 0h1m1 0h1m1 0h1m1 0h1m1 0h2m1 0h1m1 0h3m2 0h1m1 0h1m3 0h4m1 0h6m1 0h2m3 0h1m1 0h12m1 0h2m9 0h1m4 0h1m4 0h1m2 0h8m1 0h3m1 0h7m2 0h4m15 0h1m6 0h2m20 0h1m21 0h1m123 0h3m2 0h2m1 0h3m4 0h9m3 0h6m2 0h2m2 0h2m1 0h11m1 0h4m1 0h5m1 0h3m1 0h3m1 0h4m1 0h3m2 0h4m2 0h1m1 0h1m6 0h1m2 0h1m1 0h1m2 0h5m2 0h2m4 0h1m2 0h1m1 0h3m2 0h6m1 0h1m1 0h2m2 0h1m3 0h2m1 0h2m3 0h4m2 0h1m4 0h5m3 0h3m1 0h2m3 0h8m1 0h1m3 0h3m2 0h1m1 0h1m4 0h3m3 0h2m1 0h4m1 0h6m2 0h3m4 0h1m1 0h12m1 0h1m5 0h2m2 0h2m1 0h1" stroke="#661666"/>
<path d="M777 850.5h2m1 0h2m5 0h1m5 0h1m1 0h1m11 0h1m3 0h2m13 0h1m1 0h1m6 0h1m2 0h1m1 0h2m2 0h2m11 0h1m6 0h2m5 0h1m9 0h1m8 0h1m7 0h2m4 0h1m3 0h2m11 0h1m1 0h3m2 0h1m26 0h1m5 0h1m4 0h3m3 0h1m2 0h1m12 0h1m6 0h1m7 0h1m1 0h2m3 0h1m4 0h2m5 0h1m4 0h1m17 0h1m4 0h1m1 0h1m24 0h1m5 0h1m7 0h1m4 0h1m5 0h1m1 0h1m1 0h1m1 0h1m1 0h1m1 0h1m2 0h1m5 0h2m1 0h1m1 0h1m6 0h1m9 0h2m2 0h1m12 0h1m2 0h9m1 0h2m1 0h1m1 0h4m1 0h2m8 0h1m3 0h1m8 0h1m47 0h1m66 0h1m2 0h1m79 0h2m8 0h2m11 0h1m6 0h2m18 0h1m4 0h1m5 0h1m3 0h1m3 0h1m8 0h1m8 0h1m1 0h1m1 0h4m6 0h2m5 0h2m4 0h1m2 0h2m1 0h1m3 0h2m8 0h1m5 0h3m2 0h1m2 0h3m4 0h2m3 0h2m11 0h1m13 0h1m1 0h3m3 0h2m3 0h4m4 0h2m2 0h1m4 0h1m7 0h1m6 0h1m1 0h1m12 0h1m8 0h2m2 0h1" stroke="#4c104c"/>
<path d="M779 850.5h1m52 0h1m10 0h1m86 0h1" stroke="#330b33"/>
<path d="M809 850.5h1m3 0h2m1 0h2m9 0h1m27 0h1m24 0h1m38 0h2m120 0h1m85 0h2m309 0h2m193 0h2m31 0h1" stroke="#1a061a"/>
<path d="M819 850.5h1m4 0h1m54 0h1m9 0h1m12 0h1m23 0h1m62 0h1m69 0h1m30 0h1m84 0h1m41 0h1m75 0h1m49 0h1m68 0h2m89 0h1m12 0h2m1 0h1m133 0h2" stroke="#000000"/>
<path d="M776 850.5h1m62 0h1m26 0h1m153 0h1m72 0h1m46 0h1m242 0h1m104 0h1m52 0h2m19 0h2m64 0h1" stroke="#1a1a00"/>
<path d="M783 850.5h1m70 0h1m7 0h2m24 0h1m3 0h1m22 0h3m16 0h1m25 0h1m9 0h2m5 0h1m6 0h1m63 0h2m67 0h1m153 0h1m39 0h1m96 0h1m74 0h1m5 0h1m46 0h1" stroke="#333300"/>
<path d="M782 850.5h1m75 0h1m8 0h1m1 0h1m6 0h2m17 0h2m35 0h2m5 0h1m39 0h1m386 0h2m57 0h2m15 0h1m51 0h1m5 0h2m100 0h1m32 0h1" stroke="#4c4c00"/>
<path d="M804 850.5h2m15 0h2m117 0h3m49 0h2m48 0h1m12 0h1m160 0h1m14 0h1m62 0h1m30 0h1m11 0h2m15 0h1m29 0h2m195 0h2m28 0h1" stroke="#666600"/>
<path d="M788 850.5h2m7 0h1m146 0h1m11 0h1m37 0h1m22 0h1m48 0h2m77 0h1m67 0h2m7 0h2m18 0h1m4 0h1m27 0h2m6 0h1m19 0h1m1 0h1m4 0h1m4 0h1m25 0h1m28 0h2m2 0h1m1 0h1m1 0h1m201 0h1" stroke="#808000"/>
<path d="M802 850.5h1m46 0h2m22 0h1m331 0h1m22 0h1m7 0h3m13 0h2m5 0h2m5 0h1m2 0h2m10 0h1m2 0h3m9 0h1m4 0h1m10 0h1m20 0h1m15 0h2m4 0h1m2 0h1m32 0h1m86 0h1" stroke="#999900"/>
<path d="M1229 850.5h2m12 0h1m4 0h1m7 0h2m7 0h1m6 0h3m15 0h1m7 0h2m2 0h1m11 0h1m5 0h1m1 0h1m12 0h2m2 0h2m15 0h1m7 0h2m9 0h1m1 0h1m12 0h1m6 0h1" stroke="#b2b200"/>
<path d="M1218 850.5h1m5 0h2m1 0h1m4 0h1m7 0h2m3 0h2m2 0h1m17 0h2m9 0h2m15 0h1m1 0h1m10 0h1m7 0h2m13 0h2m1 0h1m7 0h1m25 0h1m3 0h2m6 0h1m1 0h1" stroke="#cccc00"/>
<path d="M1215 850.5h1m5 0h1m13 0h1m8 0h1m17 0h1m1 0h1m22 0h3m1 0h1m8 0h1m5 0h1m6 0h1m4 0h2m3 0h1m35 0h1m29 0h1m2 0h2m1 0h1m2 0h1" stroke="#e6e600"/>
<path d="M1219 850.5h2m18 0h1m10 0h2m6 0h1m2 0h1m1 0h1m16 0h1m1 0h1m9 0h1m11 0h1m2 0h1m1 0h1m16 0h5m13 0h5m2 0h3m3 0h1m2 0h4m5 0h1m9 0h1m1 0h1m4 0h3m5 0h1m1 0h1" stroke="#ffff00"/>
<path d="M912 877h1" stroke="#801c80"/>
<path d="M775 877h1m13 0h1m4 0h1m2 0h7m8 0h1m15 0h1m3 0h1m5 0h1m2 0h1m2 0h2m8 0h3m5 0h1m1 0h1m3 0h1m1 0h2m6 0h4m6 0h1m1 0h1m2 0h1m1 0h2m1 0h3m3 0h1m2 0h1m1 0h1m1 0h1m1 0h2m9 0h2m1 0h1m6 0h1m4 0h1m4 0h1m1 0h2m10 0h3m7 0h1m4 0h2m1 0h1m4 0h1m7 0h3m6 0h1m4 0h1m5 0h1m3 0h2m1 0h8m2 0h4m2 0h8m1 0h20m1 0h7m1 0h11m2 0h1m1 0h13m1 0h4m1 0h16m1 0h6m4 0h11m1 0h25m1 0h3m1 0h2m1 0h1m1 0h7m2 0h6m1 0h2m1 0h3m1 0h3m1 0h6m8 0h1m8 0h1m8 0h2m5 0h1m1 0h1m9 0h2m5 0h1m19 0h1m3 0h2m3 0h1m3 0h1m5 0h1m3 0h1m2 0h1m3 0h1m3 0h1m3 0h1m3 0h2m19 0h1m11 0h1m15 0h1m7 0h1m10 0h1m3 0h1m3 0h1m3 0h3m1 0h2m1 0h5m2 0h4m1 0h3m1 0h6m2 0h16m1 0h1m4 0h1m1 0h1m2 0h3m3 0h7m2 0h1m3 0h2m1 0h1m3 0h1m1 0h1m1 0h1m1 0h7m1 0h6m1 0h1m1 0h11m2 0h3m1 0h2m1 0h1m1 0h14m1 0h1m1 0h5m2 0h3m1 0h2m1 0h1m2 0h1m1 0h1m3 0h4m1 0h14m2 0h5m1 0h2m1 0h3m1 0h4m2 0h2m1 0h4m1 0h15m1 0h5m2 0h3m1 0h6m7 0h3" stroke="#661666"/>
<path d="M824 877h1m483 0h1m125 0h2m16 0h1m6 0h1m6 0h1m89 0h1m101 0h1" stroke="#4c104c"/>
<path d="M776 877h1m57 0h1m4 0h1m12 0h1m77 0h1m211 0h1m32 0h1m113 0h1m241 0h1m89 0h1" stroke="#330b33"/>
<path d="M816 877h2m39 0h1m87 0h1m8 0h1m17 0h1m2 0h1m54 0h2m29 0h1m19 0h2m211 0h1m42 0h2m218 0h1m107 0h1" stroke="#1a061a"/>
<path d="M840 877h1m10 0h1m9 0h1m41 0h1m79 0h1m26 0h1m58 0h1m14 0h1m167 0h1m21 0h1m59 0h1m67 0h2m51 0h1m11 0h1m18 0h2m6 0h1m16 0h1m12 0h1m82 0h1m8 0h1m26 0h2" stroke="#000000"/>
<path d="M779 877h1m7 0h1m41 0h2m32 0h1m1 0h1m17 0h1m2 0h1m70 0h1m34 0h2m210 0h1m11 0h1m18 0h1m7 0h1m34 0h1m32 0h1m2 0h1m14 0h2m16 0h1m20 0h1m48 0h2m8 0h1m26 0h1m2 0h1m18 0h2m24 0h1m75 0h1m33 0h1" stroke="#1a1a00"/>
<path d="M782 877h1m3 0h1m19 0h1m1 0h1m4 0h2m86 0h2m15 0h1m7 0h1m2 0h1m7 0h1m14 0h1m2 0h1m10 0h1m48 0h1m87 0h1m23 0h2m39 0h1m8 0h1m7 0h2m6 0h1m2 0h1m17 0h1m2 0h1m14 0h1m3 0h1m11 0h1m10 0h2m3 0h1m2 0h1m36 0h1m5 0h1m5 0h1m3 0h1m6 0h2m6 0h2m19 0h1m13 0h1m10 0h1m1 0h1m39 0h1m57 0h1m6 0h1m34 0h1m9 0h1m30 0h1m28 0h2m53 0h1m17 0h1" stroke="#333300"/>
<path d="M785 877h1m4 0h1m2 0h1m16 0h1m4 0h1m4 0h4m7 0h1m4 0h2m10 0h1m33 0h1m6 0h1m26 0h2m3 0h1m6 0h1m2 0h1m16 0h4m4 0h1m10 0h1m10 0h3m13 0h1m6 0h1m5 0h1m32 0h1m79 0h1m8 0h2m90 0h1m23 0h1m4 0h2m17 0h2m24 0h1m23 0h1m31 0h2m26 0h1m15 0h1m12 0h1m47 0h1m4 0h2m29 0h1m55 0h1m1 0h1m10 0h1m41 0h1m33 0h1" stroke="#4c4c00"/>
<path d="M791 877h2m3 0h1m29 0h1m8 0h1m30 0h2m1 0h1m4 0h2m8 0h2m8 0h1m40 0h2m3 0h4m9 0h1m8 0h2m6 0h2m15 0h2m10 0h2m23 0h2m146 0h1m51 0h2m3 0h2m2 0h2m7 0h1m10 0h1m4 0h1m2 0h1m4 0h1m1 0h1m2 0h3m11 0h2m4 0h1m15 0h1m10 0h1m22 0h1m7 0h2m3 0h1m2 0h1m1 0h1m5 0h1m11 0h1m33 0h1m67 0h1m4 0h1m5 0h1m75 0h2m32 0h1m59 0h2" stroke="#666600"/>
<path d="M795 877h1m22 0h2m13 0h1m19 0h1m4 0h3m12 0h1m17 0h1m5 0h1m7 0h1m2 0h1m6 0h1m6 0h2m14 0h1m25 0h2m11 0h1m4 0h1m12 0h3m4 0h1m1 0h3m206 0h1m4 0h1m7 0h1m20 0h1m27 0h3m6 0h1m5 0h1m6 0h1m26 0h1m6 0h1m12 0h1m24 0h1m5 0h1m16 0h1m1 0h1m1 0h1m7 0h1m63 0h1m40 0h1m18 0h1m40 0h1m43 0h1m45 0h1" stroke="#808000"/>
<path d="M777 877h2m30 0h1m1 0h1m15 0h1m18 0h2m1 0h2m36 0h1m44 0h2m50 0h1m215 0h1m19 0h1m18 0h1m15 0h1m6 0h1m2 0h1m14 0h1m1 0h1m17 0h2m10 0h1m30 0h1m9 0h1m34 0h1m1 0h1m89 0h1" stroke="#999900"/>
<path d="M783 877h2m22 0h1m17 0h1m16 0h2m28 0h1m33 0h1m12 0h2m40 0h1m7 0h1m16 0h1m235 0h2m25 0h1m29 0h1m23 0h1m11 0h1m17 0h1m8 0h1m2 0h1m9 0h1m4 0h2m2 0h1m6 0h3m4 0h1m1 0h1m3 0h4m1 0h1m8 0h1" stroke="#b2b200"/>
<path d="M780 877h2m94 0h2m32 0h1m187 0h1m116 0h1m15 0h1m8 0h2m12 0h1m26 0h1m40 0h2m8 0h1m6 0h2m35 0h1m14 0h1" stroke="#cccc00"/>
<path d="M788 877h1m196 0h1m22 0h1m289 0h2m5 0h1m56 0h2m2 0h2" stroke="#e6e600"/>
<path d="M804 877h2m86 0h1m334 0h1m65 0h1m54 0h1" stroke="#ffff00"/>
<path d="M1151 903.6h1m55 0h1" stroke="#992199"/>
<path d="M890 903.6h1m292 0h2" stroke="#801c80"/>
<path d="M775 903.6h5m2 0h4m3 0h1m1 0h1m1 0h1m1 0h5m2 0h6m2 0h1m2 0h2m1 0h8m1 0h1m3 0h5m1 0h4m2 0h1m2 0h5m3 0h6m2 0h5m2 0h2m1 0h1m1 0h4m3 0h2m1 0h4m1 0h2m3 0h2m1 0h5m2 0h4m1 0h5m1 0h8m1 0h4m1 0h2m1 0h2m7 0h5m1 0h7m1 0h2m5 0h2m5 0h6m2 0h3m1 0h2m1 0h1m1 0h5m5 0h2m2 0h4m1 0h1m3 0h4m5 0h1m3 0h6m1 0h2m1 0h9m1 0h1m1 0h11m3 0h3m5 0h4m1 0h7m4 0h1m2 0h3m2 0h2m1 0h1m2 0h10m3 0h9m1 0h6m1 0h5m2 0h2m1 0h3m1 0h1m2 0h1m3 0h6m1 0h3m1 0h6m1 0h4m1 0h1m1 0h1m4 0h1m1 0h3m2 0h1m2 0h3m2 0h2m4 0h1m1 0h1m1 0h5m1 0h1m1 0h3m2 0h1m5 0h1m4 0h2m20 0h1m2 0h1m22 0h2m39 0h1m1 0h1m33 0h2m17 0h1m32 0h1m2 0h2m3 0h3m9 0h6m3 0h6m2 0h4m1 0h1m1 0h1m1 0h1m2 0h3m3 0h5m4 0h2m3 0h3m2 0h3m2 0h3m3 0h5m1 0h1m1 0h1m4 0h3m1 0h1m3 0h2m2 0h3m1 0h1m2 0h2m3 0h2m1 0h2m3 0h1m1 0h4m1 0h3m2 0h4m1 0h1m3 0h1m2 0h1m1 0h9m3 0h1m4 0h3m1 0h2m1 0h9m1 0h1m3 0h4m1 0h3m1 0h2m1 0h3m2 0h2m3 0h7m1 0h2m1 0h4m1 0h9m3 0h1m1 0h2m2 0h4m3 0h2m2 0h1m1 0h2" stroke="#661666"/>
<path d="M780 903.6h2m4 0h1m1 0h1m1 0h1m3 0h1m5 0h2m6 0h1m2 0h2m11 0h1m2 0h2m13 0h1m15 0h2m5 0h1m3 0h1m1 0h1m4 0h3m2 0h1m4 0h1m4 0h1m8 0h2m10 0h1m13 0h1m5 0h5m1 0h1m5 0h1m10 0h1m2 0h2m2 0h2m9 0h2m3 0h1m4 0h1m5 0h1m2 0h2m10 0h1m13 0h1m10 0h1m11 0h1m11 0h3m5 0h1m1 0h1m4 0h1m7 0h2m1 0h1m7 0h1m2 0h1m2 0h1m11 0h1m10 0h1m12 0h2m6 0h1m24 0h1m17 0h2m6 0h2m2 0h2m1 0h1m9 0h1m12 0h1m37 0h3m43 0h1m4 0h1m45 0h1m5 0h1m22 0h1m19 0h2m2 0h1m1 0h1m3 0h2m2 0h1m10 0h2m8 0h1m4 0h1m3 0h1m16 0h2m3 0h2m3 0h2m3 0h1m6 0h1m7 0h1m3 0h2m5 0h1m16 0h2m9 0h1m17 0h1m2 0h2m1 0h1m20 0h1m2 0h1m9 0h1m1 0h3m8 0h1m2 0h1m3 0h2m4 0h1m7 0h1m2 0h1m4 0h1m10 0h2m1 0h1m2 0h2m9 0h2m1 0h1m2 0h1" stroke="#4c104c"/>
<path d="M996 903.6h2m21 0h1m19 0h1m52 0h1m62 0h1m41 0h1m209 0h1m45 0h1m29 0h2m21 0h1m3 0h1m55 0h2m2 0h1m71 0h1" stroke="#330b33"/>
<path d="M809 903.6h1m29 0h1m117 0h1m32 0h1m14 0h2m133 0h1m28 0h1m249 0h2m58 0h1" stroke="#1a061a"/>
<path d="M787 903.6h1m149 0h1m26 0h2m36 0h1m10 0h3m1 0h1m8 0h1m33 0h1m1 0h1m23 0h1m19 0h1m26 0h1m33 0h1m5 0h2m1 0h1m17 0h1m66 0h1m1 0h1m23 0h2m126 0h1m20 0h1m17 0h1m12 0h1m41 0h1m15 0h1m21 0h1" stroke="#000000"/>
<path d="M792 903.6h1m47 0h1m2 0h1m77 0h1m7 0h1m61 0h1m89 0h2m89 0h1m26 0h1m62 0h1m35 0h2m202 0h1m2 0h1m8 0h1m1 0h2m2 0h1m7 0h3m6 0h1m30 0h1m30 0h1" stroke="#1a1a00"/>
<path d="M834 903.6h1m71 0h1m49 0h1m147 0h1m18 0h1m18 0h1m28 0h1m111 0h1m25 0h1m48 0h1m17 0h1m4 0h1m2 0h2m69 0h1" stroke="#333300"/>
<path d="M815 903.6h1m50 0h1m27 0h1m57 0h1m186 0h1m3 0h2m81 0h1m21 0h1m3 0h1m16 0h2m53 0h1m10 0h4m31 0h1m3 0h1m39 0h1m2 0h2m10 0h1m18 0h1m102 0h1" stroke="#4c4c00"/>
<path d="M826 903.6h1m62 0h1m76 0h1m92 0h1m162 0h2m5 0h2m8 0h3m1 0h1m3 0h1m2 0h2m27 0h1m16 0h1m9 0h1m4 0h1m5 0h1m23 0h1m3 0h1m18 0h1m15 0h1m2 0h1m2 0h3m2 0h1m99 0h1m3 0h2m44 0h2" stroke="#666600"/>
<path d="M849 903.6h2m130 0h1m96 0h1m165 0h2m25 0h1m8 0h1m3 0h1m6 0h1m13 0h1m6 0h1m5 0h1m3 0h2m1 0h1m6 0h3m9 0h1m9 0h1m7 0h2m5 0h1m2 0h2m3 0h1m14 0h1m4 0h2m45 0h1m16 0h2m86 0h1" stroke="#808000"/>
<path d="M1214 903.6h1m5 0h1m12 0h3m6 0h1m22 0h1m1 0h1m6 0h1m3 0h1m10 0h1m5 0h1m4 0h2m19 0h1m18 0h1m16 0h1m2 0h2m3 0h1m13 0h1m14 0h1m54 0h1m164 0h2" stroke="#999900"/>
<path d="M851 903.6h1m364 0h1m10 0h1m3 0h2m22 0h1m3 0h2m5 0h1m1 0h1m21 0h1m3 0h1m8 0h2m5 0h1m5 0h1m2 0h2m7 0h1m14 0h1m3 0h1m8 0h1m21 0h1m11 0h1m2 0h1" stroke="#b2b200"/>
<path d="M1215 903.6h1m5 0h1m6 0h1m24 0h1m21 0h3m4 0h1m2 0h2m5 0h1m4 0h1m10 0h1m18 0h1m11 0h1m2 0h1m5 0h1m26 0h1m19 0h2" stroke="#cccc00"/>
<path d="M1217 903.6h1m18 0h3m15 0h1m26 0h1m11 0h1m35 0h2m20 0h2m18 0h1m17 0h1" stroke="#e6e600"/>
<path d="M1264 903.6h1m49 0h1m11 0h1m4 0h1m14 0h1m8 0h1m10 0h2" stroke="#ffff00"/>
<path d="M1013 930.1h2" stroke="#b226b2"/>
<path d="M860 930.1h1m168 0h1m5 0h1m2 0h1m17 0h2m140 0h1" stroke="#992199"/>
<path d="M1180 930.1h2m239 0h2" stroke="#801c80"/>
<path d="M776 930.1h1m8 0h1m1 0h2m1 0h1m1 0h1m4 0h2m5 0h2m2 0h1m1 0h3m3 0h3m1 0h1m3 0h2m1 0h2m5 0h1m3 0h4m4 0h2m1 0h2m1 0h3m1 0h1m1 0h2m3 0h1m1 0h2m9 0h4m4 0h2m2 0h1m1 0h1m1 0h1m8 0h1m2 0h1m1 0h2m1 0h1m1 0h1m3 0h1m3 0h2m2 0h4m5 0h2m1 0h1m2 0h2m4 0h4m2 0h1m1 0h1m2 0h1m4 0h1m3 0h5m3 0h3m1 0h2m1 0h1m2 0h4m2 0h1m2 0h1m2 0h1m4 0h2m1 0h1m2 0h4m1 0h1m5 0h1m2 0h1m2 0h1m5 0h1m3 0h1m1 0h1m1 0h1m3 0h1m3 0h1m7 0h1m5 0h1m1 0h3m1 0h1m1 0h6m1 0h1m2 0h1m1 0h1m5 0h1m4 0h1m1 0h1m1 0h1m5 0h4m1 0h1m2 0h3m1 0h1m4 0h1m3 0h1m2 0h1m3 0h2m4 0h1m1 0h2m3 0h1m6 0h1m1 0h4m2 0h1m1 0h1m9 0h1m8 0h1m6 0h2m3 0h5m2 0h2m2 0h2m4 0h3m5 0h3m1 0h1m1 0h1m2 0h4m1 0h8m2 0h6m1 0h3m2 0h1m3 0h2m4 0h4m2 0h7m3 0h2m3 0h1m1 0h3m2 0h2m2 0h2m2 0h5m1 0h2m1 0h1m1 0h1m1 0h7m2 0h2m3 0h2m1 0h4m2 0h1m1 0h2m2 0h2m1 0h4m2 0h1m1 0h1m2 0h4m1 0h2m1 0h1m4 0h1m3 0h1m1 0h1m4 0h3m2 0h2m9 0h2m1 0h2m1 0h2m5 0h2m4 0h1m5 0h1m6 0h1m1 0h2m1 0h1m1 0h1m3 0h2m4 0h4m1 0h2m5 0h1m2 0h1m1 0h1m9 0h2m2 0h2m5 0h2m1 0h3m5 0h1m2 0h1m4 0h2m1 0h3m1 0h2m1 0h2m3 0h2m1 0h1m2 0h1m4 0h1m2 0h1m6 0h2m1 0h1m2 0h1m1 0h3m2 0h1m2 0h1m9 0h1m1 0h1m2 0h2m3 0h2m3 0h1m10 0h4m6 0h1m6 0h1m4 0h1m3 0h1m2 0h2m1 0h4m2 0h1m1 0h3m5 0h3m2 0h1m8 0h4m2 0h2m3 0h1m3 0h2m2 0h1" stroke="#661666"/>
<path d="M782 930.1h1m1 0h1m4 0h1m3 0h1m12 0h1m22 0h2m1 0h1m11 0h2m9 0h1m1 0h1m3 0h1m2 0h1m2 0h3m1 0h1m1 0h1m6 0h1m8 0h1m4 0h1m2 0h1m20 0h1m3 0h1m4 0h1m1 0h1m1 0h1m2 0h1m5 0h1m7 0h2m3 0h1m3 0h3m1 0h1m18 0h1m5 0h1m14 0h1m22 0h2m4 0h2m1 0h1m9 0h1m7 0h1m25 0h1m10 0h1m45 0h1m6 0h2m2 0h1m22 0h1m2 0h4m2 0h1m9 0h1m30 0h1m7 0h1m9 0h1m6 0h1m6 0h2m3 0h3m6 0h1m14 0h1m1 0h1m7 0h2m9 0h1m2 0h1m1 0h1m1 0h1m11 0h3m10 0h1m6 0h1m4 0h1m2 0h1m1 0h2m4 0h1m4 0h2m3 0h3m1 0h1m2 0h2m8 0h4m2 0h1m1 0h1m2 0h1m2 0h1m9 0h1m26 0h1m10 0h1m5 0h2m2 0h1m19 0h4m7 0h1m2 0h1m5 0h1m25 0h1m7 0h1m3 0h1m17 0h1m4 0h1m2 0h1m9 0h1m8 0h1m5 0h1m14 0h1m5 0h2m10 0h1m15 0h1m9 0h1m8 0h1m7 0h1m4 0h2" stroke="#4c104c"/>
<path d="M916 930.1h2m10 0h1m12 0h2m78 0h1m5 0h1m13 0h1m6 0h2m24 0h2m3 0h1m1 0h2m9 0h1m13 0h1m3 0h1m2 0h2m3 0h2m5 0h1m43 0h1m38 0h1m65 0h1m249 0h1m31 0h1" stroke="#330b33"/>
<path d="M836 930.1h2m32 0h1m65 0h1m89 0h1m15 0h1m12 0h1m3 0h1m37 0h1m23 0h2m1 0h1m1 0h1m26 0h2m1 0h1m2 0h1m18 0h2m2 0h1m11 0h1m68 0h1m29 0h2m119 0h1m4 0h2m39 0h1m2 0h2m4 0h1m59 0h1m17 0h1m28 0h1m24 0h1m37 0h1" stroke="#1a061a"/>
<path d="M800 930.1h2m13 0h1m7 0h1m48 0h1m13 0h1m4 0h1m20 0h1m8 0h1m34 0h1m33 0h1m4 0h1m19 0h1m1 0h1m28 0h2m17 0h1m14 0h1m4 0h3m10 0h1m4 0h1m11 0h1m22 0h2m3 0h2m13 0h1m16 0h1m25 0h2m6 0h2m10 0h1m25 0h1m76 0h1m53 0h1m33 0h2m13 0h1m1 0h1m17 0h1m1 0h1m11 0h2m3 0h1m3 0h1m19 0h1m34 0h1m5 0h1m6 0h1m83 0h1m22 0h1" stroke="#000000"/>
<path d="M786 930.1h1m16 0h1m17 0h2m8 0h1m3 0h1m6 0h1m19 0h1m19 0h1m4 0h1m10 0h2m51 0h1m2 0h1m41 0h2m5 0h1m16 0h1m29 0h1m2 0h2m8 0h1m19 0h1m10 0h3m8 0h1m23 0h4m13 0h1m14 0h1m1 0h4m18 0h2m33 0h1m51 0h2m3 0h1m7 0h2m28 0h2m28 0h1m12 0h1m42 0h1m6 0h1m2 0h1m25 0h1m10 0h1m7 0h1m34 0h1m3 0h2m17 0h1m4 0h1m15 0h1m12 0h1m31 0h3m29 0h1m23 0h2" stroke="#1a1a00"/>
<path d="M775 930.1h1m1 0h3m71 0h1m85 0h1m24 0h2m11 0h1m22 0h1m5 0h1m13 0h1m53 0h1m44 0h1m30 0h1m21 0h1m22 0h1m3 0h1m18 0h1m18 0h1m22 0h1m70 0h2m31 0h2m25 0h1m12 0h2m34 0h2m13 0h1m45 0h1m6 0h1m71 0h1m11 0h1m33 0h1m3 0h2m10 0h2m10 0h1m7 0h2" stroke="#333300"/>
<path d="M780 930.1h2m1 0h1m7 0h1m7 0h1m83 0h1m9 0h1m9 0h1m4 0h1m78 0h1m35 0h1m13 0h1m1 0h1m72 0h1m24 0h1m24 0h1m89 0h1m25 0h1m95 0h1m4 0h1m6 0h2m21 0h1m5 0h1m16 0h1m26 0h1m13 0h1m6 0h1m3 0h1m1 0h2m5 0h1m17 0h1m18 0h1m13 0h2m11 0h1m4 0h2m28 0h3m4 0h1m3 0h1m2 0h1m1 0h2m3 0h1" stroke="#4c4c00"/>
<path d="M796 930.1h1m10 0h1m18 0h1m54 0h1m13 0h2m3 0h1m1 0h1m10 0h2m55 0h2m6 0h1m181 0h1m87 0h1m122 0h1m35 0h1m9 0h2m39 0h1m44 0h1m23 0h1m25 0h2m11 0h2m7 0h1m24 0h1m42 0h2" stroke="#666600"/>
<path d="M813 930.1h2m4 0h1m23 0h1m30 0h2m34 0h1m58 0h1m22 0h2m51 0h1m44 0h1m112 0h2m130 0h2m87 0h1m6 0h1m4 0h1m72 0h1m6 0h2m19 0h1m14 0h1m26 0h1m4 0h1m36 0h1m24 0h1" stroke="#808000"/>
<path d="M794 930.1h1m7 0h1m6 0h1m23 0h1m71 0h1m24 0h1m58 0h1m19 0h1m455 0h1m55 0h2m28 0h1m37 0h1m1 0h1m38 0h2" stroke="#999900"/>
<path d="M795 930.1h1m764 0h1m35 0h2" stroke="#b2b200"/>
<path d="M848 930.1h1m132 0h1m528 0h1m99 0h1" stroke="#cccc00"/>
<path d="M943 930.1h1m596 0h1" stroke="#e6e600"/>
<path d="M1280 956.7h1" stroke="#992199"/>
<path d="M1162 956.7h1m24 0h1m279 0h1" stroke="#801c80"/>
<path d="M782 956.7h1m2 0h1m1 0h1m1 0h5m6 0h2m1 0h3m2 0h1m1 0h1m4 0h1m3 0h1m4 0h1m1 0h1m5 0h1m3 0h2m1 0h2m5 0h3m6 0h1m1 0h1m1 0h1m2 0h1m4 0h2m3 0h1m1 0h4m3 0h1m4 0h2m1 0h2m1 0h1m8 0h2m1 0h2m4 0h1m2 0h3m5 0h2m1 0h2m1 0h1m1 0h1m1 0h3m3 0h4m6 0h3m2 0h1m2 0h1m8 0h2m3 0h7m2 0h2m1 0h1m1 0h2m1 0h1m8 0h1m3 0h2m3 0h1m4 0h2m8 0h1m1 0h2m7 0h6m4 0h2m1 0h3m2 0h3m2 0h2m6 0h1m1 0h1m5 0h1m6 0h4m9 0h1m1 0h3m2 0h1m1 0h2m5 0h1m2 0h2m1 0h1m3 0h2m4 0h2m2 0h4m2 0h2m3 0h1m8 0h3m1 0h4m3 0h2m2 0h1m4 0h2m1 0h1m1 0h1m11 0h1m2 0h2m3 0h3m2 0h2m1 0h1m1 0h1m2 0h4m1 0h1m4 0h1m1 0h1m2 0h1m1 0h1m3 0h4m3 0h4m1 0h1m2 0h1m3 0h1m1 0h1m1 0h3m3 0h1m2 0h3m3 0h3m1 0h1m4 0h4m8 0h6m4 0h10m2 0h1m2 0h2m1 0h4m1 0h3m1 0h1m3 0h2m3 0h2m1 0h3m5 0h1m2 0h2m1 0h1m2 0h2m3 0h2m2 0h2m2 0h2m1 0h3m2 0h1m3 0h1m1 0h8m4 0h1m1 0h5m2 0h1m3 0h1m4 0h2m4 0h3m4 0h2m2 0h4m5 0h1m1 0h2m1 0h1m2 0h2m1 0h7m2 0h1m1 0h1m2 0h1m2 0h1m8 0h1m2 0h2m15 0h3m1 0h4m2 0h1m3 0h1m1 0h1m1 0h1m6 0h1m6 0h2m4 0h1m1 0h1m2 0h1m1 0h1m4 0h1m3 0h1m8 0h1m2 0h7m2 0h1m1 0h2m2 0h1m3 0h1m2 0h3m5 0h5m5 0h1m2 0h1m9 0h2m1 0h1m9 0h2m4 0h1m4 0h4m3 0h1m3 0h2m2 0h4m1 0h1m5 0h2m3 0h4" stroke="#661666"/>
<path d="M780 956.7h2m1 0h2m10 0h1m1 0h1m1 0h1m9 0h1m1 0h1m6 0h1m8 0h1m13 0h3m7 0h2m7 0h1m3 0h1m8 0h1m14 0h1m5 0h1m14 0h1m13 0h1m11 0h1m7 0h2m16 0h1m18 0h1m7 0h1m1 0h1m3 0h1m1 0h3m18 0h1m5 0h1m2 0h2m9 0h1m17 0h3m1 0h1m5 0h1m2 0h1m1 0h2m8 0h1m4 0h2m1 0h1m1 0h1m6 0h1m4 0h1m3 0h1m5 0h1m10 0h1m9 0h1m7 0h4m18 0h2m2 0h1m4 0h1m3 0h1m6 0h2m8 0h1m5 0h1m9 0h2m5 0h1m4 0h3m4 0h1m6 0h1m6 0h1m9 0h1m8 0h1m6 0h1m10 0h1m2 0h1m8 0h2m26 0h1m3 0h1m2 0h3m12 0h1m3 0h1m1 0h1m3 0h3m2 0h2m2 0h2m7 0h1m2 0h2m10 0h4m1 0h1m6 0h1m8 0h1m2 0h2m7 0h2m17 0h1m13 0h2m1 0h1m4 0h1m7 0h1m15 0h2m13 0h2m1 0h2m6 0h3m5 0h3m1 0h1m4 0h2m8 0h1m1 0h1m2 0h3m3 0h1m1 0h1m4 0h2m10 0h1m17 0h1m18 0h1m7 0h1m19 0h2m28 0h3" stroke="#4c104c"/>
<path d="M807 956.7h1m85 0h1m51 0h1m7 0h1m54 0h1m4 0h2m59 0h2m8 0h1m50 0h1m3 0h1m13 0h2m20 0h1m78 0h1m55 0h1m105 0h1m14 0h1m1 0h1m4 0h2m38 0h1m2 0h1m3 0h1" stroke="#330b33"/>
<path d="M798 956.7h1m64 0h1m70 0h1m80 0h1m2 0h1m9 0h1m13 0h1m8 0h2m9 0h1m18 0h2m11 0h2m4 0h2m2 0h1m12 0h1m2 0h1m37 0h1m2 0h1m16 0h2m17 0h1m3 0h2m14 0h1m11 0h2m13 0h1m90 0h2m65 0h2m26 0h1m32 0h2m9 0h1m1 0h2m41 0h1m27 0h1m93 0h1" stroke="#1a061a"/>
<path d="M838 956.7h1m26 0h1m92 0h2m6 0h1m35 0h1m13 0h1m12 0h1m6 0h1m36 0h1m13 0h1m15 0h1m3 0h1m16 0h1m4 0h2m6 0h1m10 0h1m118 0h1m36 0h1m34 0h1m31 0h1m32 0h1m22 0h2m32 0h2m12 0h1m3 0h1m6 0h2m4 0h1m31 0h1m24 0h1m12 0h2m26 0h1m26 0h1" stroke="#000000"/>
<path d="M823 956.7h1m1 0h1m18 0h2m7 0h1m12 0h1m2 0h1m21 0h1m26 0h1m58 0h1m42 0h1m3 0h2m20 0h2m16 0h1m1 0h2m66 0h1m3 0h1m1 0h1m32 0h2m2 0h1m2 0h2m6 0h2m29 0h1m39 0h2m17 0h1m10 0h1m31 0h1m26 0h1m80 0h1m12 0h1m16 0h1m8 0h1m19 0h1m15 0h1m10 0h1m12 0h1m21 0h1m18 0h1m21 0h1m48 0h1" stroke="#1a1a00"/>
<path d="M775 956.7h1m1 0h2m9 0h1m24 0h2m20 0h1m20 0h1m38 0h2m9 0h2m3 0h1m29 0h2m58 0h1m36 0h1m19 0h1m1 0h1m22 0h1m34 0h2m87 0h1m32 0h2m4 0h1m8 0h1m13 0h2m6 0h1m25 0h1m2 0h2m7 0h1m15 0h1m10 0h1m21 0h1m33 0h1m56 0h2m13 0h1m40 0h1m26 0h1m5 0h2m5 0h1m16 0h1m31 0h1m23 0h1m4 0h1" stroke="#333300"/>
<path d="M796 956.7h1m31 0h1m4 0h1m49 0h1m32 0h2m12 0h1m19 0h2m2 0h1m7 0h2m12 0h1m8 0h1m53 0h1m70 0h1m2 0h2m54 0h1m1 0h1m93 0h1m9 0h2m4 0h1m55 0h2m76 0h1m49 0h1m36 0h1m9 0h2m17 0h1m48 0h1m39 0h1m2 0h1m12 0h1" stroke="#4c4c00"/>
<path d="M794 956.7h1m17 0h1m7 0h1m10 0h1m17 0h2m3 0h1m16 0h1m10 0h1m1 0h2m12 0h2m3 0h1m8 0h1m13 0h1m1 0h1m38 0h1m23 0h3m13 0h1m64 0h1m121 0h1m55 0h2m38 0h1m31 0h1m87 0h2m59 0h1m12 0h1m21 0h1m23 0h1m50 0h2m13 0h2m5 0h1m2 0h1m7 0h2m29 0h1" stroke="#666600"/>
<path d="M786 956.7h1m19 0h1m27 0h1m43 0h1m1 0h1m55 0h1m9 0h1m21 0h1m18 0h1m15 0h1m151 0h1m3 0h1m77 0h2m129 0h1m6 0h1m45 0h2m100 0h1m12 0h1m56 0h2m21 0h1m21 0h1m3 0h1" stroke="#808000"/>
<path d="M779 956.7h1m22 0h1m18 0h2m6 0h2m27 0h1m11 0h1m26 0h1m2 0h1m7 0h1m10 0h2m35 0h2m2 0h1m28 0h1m224 0h1m180 0h1m137 0h1m42 0h1m27 0h2m6 0h1m5 0h2m5 0h2m19 0h1m4 0h1" stroke="#999900"/>
<path d="M816 956.7h2m662 0h1m94 0h1m25 0h1m5 0h1m5 0h1m14 0h1m8 0h1" stroke="#b2b200"/>
<path d="M861 956.7h1m17 0h1m125 0h2m585 0h1m60 0h2" stroke="#cccc00"/>
<path d="M776 956.7h1m205 0h1m616 0h1" stroke="#e6e600"/>
<path d="M1584 956.7h1" stroke="#ffff00"/>
<path d="M1081 983.2h2" stroke="#cc2ccc"/>
<path d="M1064 983.2h1m13 0h1m82 0h1m47 0h2m111 0h1m234 0h1" stroke="#992199"/>
<path d="M1091 983.2h1" stroke="#801c80"/>
<path d="M775 983.2h2m2 0h1m8 0h6m1 0h1m2 0h5m1 0h2m1 0h1m2 0h1m2 0h2m1 0h2m2 0h1m2 0h2m2 0h1m1 0h2m2 0h1m1 0h7m6 0h1m2 0h1m4 0h1m2 0h5m1 0h2m1 0h1m4 0h6m2 0h2m1 0h2m1 0h3m2 0h2m3 0h8m2 0h1m1 0h1m5 0h3m1 0h3m2 0h2m3 0h8m2 0h2m6 0h1m2 0h3m1 0h2m2 0h2m1 0h1m2 0h2m2 0h5m2 0h2m1 0h2m2 0h1m2 0h2m1 0h7m1 0h6m1 0h2m4 0h1m5 0h1m3 0h2m3 0h2m1 0h5m1 0h1m1 0h2m1 0h2m1 0h1m3 0h1m2 0h7m1 0h2m3 0h1m3 0h1m3 0h1m2 0h2m5 0h1m5 0h5m8 0h1m3 0h1m1 0h1m5 0h1m4 0h1m1 0h1m3 0h4m1 0h1m9 0h1m1 0h1m2 0h2m6 0h6m1 0h1m2 0h1m5 0h4m1 0h1m2 0h2m1 0h2m2 0h3m4 0h1m5 0h1m5 0h2m2 0h2m2 0h1m5 0h2m2 0h1m1 0h7m2 0h4m4 0h4m2 0h4m1 0h1m2 0h4m5 0h2m1 0h2m1 0h3m3 0h4m2 0h1m1 0h2m2 0h1m1 0h2m2 0h2m1 0h1m4 0h5m1 0h2m1 0h3m1 0h5m1 0h1m2 0h3m1 0h3m2 0h4m3 0h2m2 0h3m1 0h4m2 0h6m2 0h3m10 0h2m3 0h2m1 0h4m4 0h4m1 0h1m1 0h3m1 0h2m3 0h2m1 0h1m1 0h2m6 0h1m1 0h2m4 0h1m1 0h2m2 0h1m1 0h1m6 0h2m3 0h1m5 0h1m2 0h1m1 0h1m1 0h1m1 0h2m1 0h4m2 0h4m3 0h2m3 0h3m2 0h2m2 0h2m5 0h4m5 0h3m1 0h2m1 0h1m2 0h1m4 0h1m1 0h2m6 0h1m4 0h1m1 0h1m6 0h1m2 0h2m1 0h3m1 0h4m1 0h7m3 0h2m4 0h1m2 0h6m2 0h5m6 0h2m4 0h2m7 0h1m1 0h1m2 0h1m4 0h2m1 0h5m4 0h5m9 0h2m2 0h1m6 0h1m4 0h2m1 0h1" stroke="#661666"/>
<path d="M844 983.2h2m216 0h2m19 0h1m23 0h2m3 0h1m44 0h1m11 0h1m2 0h1m24 0h1m56 0h1m32 0h2m76 0h1m71 0h1m132 0h1" stroke="#4c104c"/>
<path d="M811 983.2h1m210 0h1m45 0h1m11 0h1m12 0h1m5 0h1m3 0h1m27 0h2m29 0h1m20 0h2m20 0h1m96 0h1m14 0h1m96 0h1m38 0h1m22 0h2m182 0h2" stroke="#330b33"/>
<path d="M809 983.2h1m45 0h1m81 0h1m67 0h2m48 0h1m4 0h1m5 0h2m6 0h2m18 0h4m7 0h1m12 0h2m19 0h1m8 0h1m26 0h1m32 0h1m6 0h1m65 0h1m27 0h1m54 0h1m17 0h1m27 0h1m1 0h2m18 0h1m9 0h1m12 0h1m22 0h1m13 0h1m33 0h1m1 0h1m10 0h1m8 0h1m16 0h1m10 0h1m88 0h1" stroke="#1a061a"/>
<path d="M783 983.2h1m19 0h1m30 0h1m145 0h1m32 0h2m6 0h1m4 0h1m7 0h1m5 0h1m18 0h1m10 0h2m18 0h1m1 0h1m16 0h1m3 0h2m14 0h2m2 0h1m6 0h1m19 0h1m29 0h2m14 0h1m26 0h2m11 0h1m21 0h1m13 0h1m8 0h1m3 0h1m19 0h1m50 0h2m4 0h2m18 0h1m34 0h2m17 0h1m35 0h1m37 0h1m3 0h1m10 0h1m8 0h2m20 0h2m22 0h1m1 0h1m2 0h1m36 0h1m13 0h1" stroke="#000000"/>
<path d="M794 983.2h1m72 0h1m2 0h1m51 0h1m3 0h1m19 0h1m30 0h1m38 0h1m15 0h1m9 0h1m3 0h2m10 0h1m52 0h1m15 0h2m5 0h1m8 0h2m10 0h1m7 0h2m20 0h2m5 0h1m8 0h2m45 0h1m15 0h1m19 0h1m47 0h1m27 0h2m12 0h1m8 0h1m17 0h1m17 0h2m12 0h1m2 0h1m3 0h2m3 0h1m1 0h2m22 0h1m28 0h2m1 0h1m23 0h1m5 0h1m18 0h1m77 0h2m30 0h1" stroke="#1a1a00"/>
<path d="M797 983.2h1m8 0h1m14 0h2m8 0h1m37 0h1m2 0h1m10 0h1m21 0h1m4 0h1m42 0h1m3 0h1m15 0h2m9 0h1m10 0h1m6 0h1m14 0h2m4 0h1m13 0h1m5 0h2m55 0h2m33 0h1m1 0h1m7 0h1m32 0h2m18 0h1m41 0h2m7 0h1m8 0h1m2 0h1m13 0h2m28 0h1m20 0h2m6 0h1m2 0h2m51 0h1m5 0h1m14 0h1m9 0h2m1 0h1m5 0h1m35 0h1m16 0h1m31 0h1m7 0h1m1 0h1m11 0h1m60 0h2m8 0h2m19 0h1m12 0h1" stroke="#333300"/>
<path d="M786 983.2h1m38 0h1m16 0h1m9 0h2m4 0h1m5 0h1m29 0h1m11 0h1m4 0h2m30 0h1m1 0h1m20 0h1m43 0h1m66 0h1m6 0h1m21 0h1m13 0h1m25 0h1m24 0h1m23 0h2m29 0h1m8 0h1m19 0h1m13 0h2m77 0h1m6 0h1m12 0h1m15 0h2m30 0h1m33 0h2m5 0h1m2 0h1m4 0h1m6 0h1m17 0h2m15 0h1m2 0h1m1 0h2m2 0h2m65 0h1m16 0h1m3 0h3m3 0h1m1 0h1m4 0h3m3 0h1" stroke="#4c4c00"/>
<path d="M777 983.2h2m6 0h1m22 0h1m10 0h1m6 0h1m1 0h1m28 0h1m32 0h2m16 0h1m9 0h1m4 0h1m17 0h2m19 0h2m19 0h1m24 0h1m116 0h1m62 0h2m4 0h1m98 0h2m109 0h1m29 0h2m37 0h1m12 0h2m30 0h1m13 0h1m51 0h1m16 0h1m18 0h1m19 0h1m11 0h1" stroke="#666600"/>
<path d="M780 983.2h2m5 0h1m44 0h1m13 0h2m6 0h1m16 0h1m23 0h2m16 0h2m13 0h1m9 0h1m42 0h1m134 0h1m30 0h1m68 0h1m1 0h1m8 0h1m4 0h1m23 0h2m20 0h1m39 0h1m14 0h1m13 0h1m8 0h1m5 0h2m13 0h1m115 0h2m7 0h1m27 0h1m7 0h1m2 0h2m48 0h1m1 0h2m19 0h2m22 0h2" stroke="#808000"/>
<path d="M782 983.2h1m13 0h1m21 0h1m60 0h1m47 0h1m20 0h2m6 0h1m10 0h1m19 0h1m19 0h1m150 0h1m183 0h1m26 0h1m36 0h1m37 0h1m54 0h1m31 0h1m43 0h1" stroke="#999900"/>
<path d="M784 983.2h1m27 0h1m2 0h1m27 0h1m5 0h2m29 0h1m79 0h1m115 0h1m219 0h1m112 0h1m130 0h1m66 0h1m33 0h1m1 0h3m3 0h2" stroke="#b2b200"/>
<path d="M944 983.2h1m708 0h2m4 0h1" stroke="#cccc00"/>
<path d="M886 983.2h1" stroke="#e6e600"/>
</g>
<g fill="#fff"><rect x="772.5" y="488" width="2.5" height="512"/><rect x="1667" y="488" width="5" height="512"/><rect x="1011" y="488" width="2" height="512"/><rect x="1211" y="488" width="2" height="512"/><rect x="1399" y="488" width="2" height="512"/><rect x="1571" y="488" width="3" height="512"/><rect x="1655" y="488" width="3" height="512"/></g>
<text x="771.8" y="517.5" font-size="21.5" text-anchor="end" class="i">Ccl5</text>
<text x="771.8" y="544" font-size="21.5" text-anchor="end" class="i">Ifit3</text>
<text x="771.8" y="570.6" font-size="21.5" text-anchor="end" class="i">Isg15</text>
<text x="771.8" y="597.1" font-size="21.5" text-anchor="end" class="i">Cd44</text>
<text x="771.8" y="623.7" font-size="21.5" text-anchor="end" class="i">Mki67</text>
<text x="771.8" y="650.2" font-size="21.5" text-anchor="end" class="i">Ifng</text>
<text x="771.8" y="676.8" font-size="21.5" text-anchor="end" class="i">Prf1</text>
<text x="771.8" y="703.3" font-size="21.5" text-anchor="end" class="i">Gzmb</text>
<text x="771.8" y="729.9" font-size="21.5" text-anchor="end" class="i">Pdcd1</text>
<text x="771.8" y="756.5" font-size="21.5" text-anchor="end" class="i">Lag3</text>
<text x="771.8" y="783" font-size="21.5" text-anchor="end" class="i">Havcr2</text>
<text x="771.8" y="809.6" font-size="21.5" text-anchor="end" class="i">Tox</text>
<text x="771.8" y="836.1" font-size="21.5" text-anchor="end" class="i">Tcf7</text>
<text x="771.8" y="862.7" font-size="21.5" text-anchor="end" class="i">Sell</text>
<text x="771.8" y="889.2" font-size="21.5" text-anchor="end" class="i">Il7r</text>
<text x="771.8" y="915.8" font-size="21.5" text-anchor="end" class="i">Ccr7</text>
<text x="771.8" y="942.3" font-size="21.5" text-anchor="end" class="i">Tbx21</text>
<text x="771.8" y="968.9" font-size="21.5" text-anchor="end" class="i">Eomes</text>
<text x="771.8" y="995.4" font-size="21.5" text-anchor="end" class="i">Gata3</text>
<text x="1683" y="666.6" font-size="13" fill="#111">Expression</text>
<defs><linearGradient id="cb1683" x1="0" y1="0" x2="0" y2="1"><stop offset="0" stop-color="#ffff00"/><stop offset="0.5" stop-color="#000"/><stop offset="1" stop-color="#ff37ff"/></linearGradient></defs>
<rect x="1683" y="674" width="20.7" height="105.4" fill="url(#cb1683)"/>
<path d="M1683 685h4M1703.7 685h-4" stroke="#fff" stroke-width="0.8" opacity="0.7"/>
<text x="1710.6" y="689" font-size="11" fill="#222">2</text>
<path d="M1683 706.7h4M1703.7 706.7h-4" stroke="#fff" stroke-width="0.8" opacity="0.7"/>
<text x="1710.6" y="710.7" font-size="11" fill="#222">1</text>
<path d="M1683 727.3h4M1703.7 727.3h-4" stroke="#fff" stroke-width="0.8" opacity="0.7"/>
<text x="1710.6" y="731.3" font-size="11" fill="#222">0</text>
<path d="M1683 748.6h4M1703.7 748.6h-4" stroke="#fff" stroke-width="0.8" opacity="0.7"/>
<text x="1710.6" y="752.6" font-size="11" fill="#222">-1</text>
<path d="M1683 770h4M1703.7 770h-4" stroke="#fff" stroke-width="0.8" opacity="0.7"/>
<text x="1710.6" y="774" font-size="11" fill="#222">-2</text>
<text x="-1.2" y="1068.6" font-size="44" class="b">F</text>
<text x="301.9" y="1112" font-size="28" text-anchor="middle">NC</text>
<text x="701" y="1112" font-size="28" text-anchor="middle">WD</text>
<g stroke-width="26" filter="url(#hb)">
<path d="M681 1139.7h1" stroke="#b226b2"/>
<path d="M735 1139.7h2" stroke="#992199"/>
<path d="M120 1139.7h1m46 0h2m79 0h1m8 0h1m73 0h1m6 0h2m16 0h1m48 0h1m143 0h1m21 0h1m12 0h1m25 0h1m29 0h1m20 0h1m14 0h1m32 0h1m13 0h2m55 0h1m1 0h1m28 0h1m26 0h1" stroke="#801c80"/>
<path d="M128 1139.7h2m8 0h1m26 0h1m32 0h2m7 0h1m9 0h1m51 0h1m7 0h1m30 0h1m37 0h1m5 0h2m11 0h1m4 0h1m28 0h2m17 0h1m16 0h1m4 0h1m3 0h1m16 0h2m2 0h1m9 0h1m6 0h1m3 0h1m10 0h1m29 0h1m9 0h1m5 0h1m8 0h3m14 0h1m5 0h1m5 0h1m1 0h1m1 0h1m35 0h2m11 0h1m9 0h1m5 0h2m6 0h1m7 0h1m19 0h2m9 0h3m18 0h2m1 0h1m10 0h1m6 0h2m4 0h1m4 0h2m2 0h1m1 0h1m2 0h1m9 0h1m34 0h3m8 0h1m2 0h2m2 0h1m1 0h2m2 0h1m6 0h1m10 0h1m1 0h1m6 0h2m4 0h1m1 0h1m4 0h1" stroke="#661666"/>
<path d="M558 1139.7h2m16 0h2m37 0h1m51 0h1m113 0h1m32 0h1m17 0h2m37 0h1" stroke="#4c104c"/>
<path d="M291 1139.7h2m37 0h1m232 0h1m15 0h1m12 0h1m21 0h1m5 0h1m16 0h1m14 0h1m3 0h1m56 0h1m1 0h2m79 0h1m56 0h1m20 0h1" stroke="#330b33"/>
<path d="M114 1139.7h1m51 0h1m53 0h1m47 0h1m18 0h2m79 0h1m34 0h1m19 0h1m30 0h2m16 0h1m10 0h1m25 0h1m52 0h1m10 0h1m15 0h1m26 0h1m10 0h1m2 0h1m2 0h1m86 0h1m20 0h1m52 0h1m28 0h1m30 0h1" stroke="#1a061a"/>
<path d="M145 1139.7h1m73 0h1m6 0h1m34 0h1m31 0h1m7 0h1m20 0h2m50 0h1m47 0h1m20 0h1m33 0h1m68 0h1m1 0h1m54 0h1m19 0h1m17 0h2m36 0h1m26 0h3m1 0h2m16 0h1m33 0h1m20 0h1m16 0h1m6 0h1m1 0h2m2 0h1m29 0h2m2 0h1m14 0h1m1 0h1m7 0h1" stroke="#000000"/>
<path d="M124 1139.7h1m1 0h2m6 0h3m3 0h1m22 0h2m31 0h1m12 0h2m53 0h1m5 0h1m8 0h1m1 0h2m2 0h1m69 0h1m1 0h1m1 0h1m9 0h1m1 0h1m1 0h1m1 0h1m14 0h1m23 0h1m35 0h2m1 0h1m15 0h2m18 0h1m6 0h1m3 0h1m6 0h1m12 0h2m18 0h1m3 0h2m40 0h1m6 0h2m1 0h1m7 0h1m4 0h1m7 0h2m12 0h2m12 0h1m14 0h1m7 0h1m14 0h2m4 0h2m9 0h1m1 0h1m19 0h1m2 0h1m18 0h1m7 0h1m13 0h1m9 0h1m1 0h1m19 0h2m31 0h1m4 0h2m2 0h3m8 0h2m6 0h2m14 0h1" stroke="#1a1a00"/>
<path d="M110 1139.7h1m14 0h1m34 0h3m8 0h1m8 0h2m24 0h1m1 0h1m12 0h1m12 0h1m2 0h3m26 0h1m7 0h2m2 0h1m16 0h2m17 0h1m11 0h1m17 0h2m17 0h1m33 0h1m12 0h1m4 0h1m16 0h1m23 0h1m1 0h1m12 0h1m16 0h1m4 0h2m13 0h1m15 0h1m1 0h1m1 0h2m6 0h1m2 0h1m25 0h2m5 0h1m7 0h1m6 0h2m1 0h2m20 0h2m5 0h1m16 0h1m2 0h1m6 0h2m25 0h1m17 0h2m2 0h2m29 0h1m2 0h1m7 0h1m11 0h1m5 0h1m18 0h1m2 0h1m14 0h2m14 0h1m7 0h1m9 0h2m6 0h1m10 0h1m3 0h2m14 0h1m1 0h1m1 0h1" stroke="#333300"/>
<path d="M115 1139.7h3m5 0h1m6 0h4m5 0h1m19 0h1m10 0h1m6 0h3m7 0h1m15 0h3m17 0h1m5 0h1m30 0h1m19 0h1m23 0h1m1 0h1m4 0h1m3 0h1m25 0h1m24 0h2m10 0h2m2 0h1m8 0h1m2 0h1m1 0h1m7 0h1m2 0h1m13 0h1m7 0h1m15 0h1m28 0h1m10 0h1m4 0h1m11 0h1m11 0h3m6 0h1m10 0h2m11 0h1m7 0h3m6 0h1m5 0h1m3 0h1m3 0h1m3 0h1m15 0h1m2 0h2m26 0h1m18 0h2m27 0h2m1 0h1m1 0h1m11 0h1m10 0h1m6 0h1m14 0h1m5 0h1m4 0h1m3 0h2m23 0h1m2 0h1m8 0h1m4 0h3m1 0h1m1 0h2m5 0h1m32 0h1m26 0h1" stroke="#4c4c00"/>
<path d="M137 1139.7h1m10 0h2m19 0h1m6 0h1m12 0h4m18 0h2m2 0h1m6 0h1m2 0h1m4 0h2m9 0h2m11 0h3m1 0h1m4 0h1m3 0h1m8 0h1m20 0h2m8 0h1m2 0h1m2 0h1m4 0h3m8 0h1m18 0h1m5 0h1m3 0h1m5 0h1m7 0h1m4 0h1m3 0h1m6 0h2m27 0h1m1 0h1m8 0h1m2 0h1m1 0h2m7 0h1m9 0h1m4 0h1m10 0h1m7 0h1m3 0h1m14 0h1m3 0h1m1 0h1m4 0h1m34 0h1m9 0h1m54 0h2m20 0h1m6 0h1m2 0h1m4 0h1m9 0h3m3 0h1m2 0h4m3 0h4m1 0h1m18 0h1m23 0h1m13 0h1m16 0h1m8 0h1m6 0h1m3 0h1m4 0h1m13 0h1m32 0h1m45 0h1m6 0h1" stroke="#666600"/>
<path d="M111 1139.7h2m29 0h1m3 0h2m2 0h2m1 0h1m18 0h3m8 0h3m2 0h1m6 0h1m6 0h1m11 0h1m1 0h1m18 0h2m3 0h1m2 0h2m5 0h3m18 0h1m12 0h1m5 0h1m8 0h2m4 0h1m15 0h1m2 0h1m2 0h1m4 0h1m7 0h1m1 0h1m6 0h2m32 0h1m2 0h2m7 0h1m5 0h2m9 0h2m6 0h1m16 0h1m8 0h4m9 0h2m2 0h1m2 0h2m5 0h1m4 0h1m8 0h1m10 0h1m6 0h1m7 0h1m3 0h3m5 0h1m4 0h1m19 0h1m9 0h2m6 0h1m26 0h1m1 0h1m1 0h2m4 0h1m5 0h1m13 0h2m61 0h1m12 0h1m1 0h2m9 0h1m15 0h1m3 0h1m23 0h1m12 0h2m22 0h1m5 0h1m15 0h1m3 0h1m48 0h1" stroke="#808000"/>
<path d="M119 1139.7h1m1 0h2m29 0h1m1 0h2m1 0h1m24 0h1m3 0h1m6 0h2m2 0h1m2 0h2m11 0h1m10 0h1m8 0h1m11 0h2m6 0h1m5 0h1m5 0h1m7 0h1m9 0h1m10 0h1m7 0h2m12 0h2m15 0h1m2 0h2m38 0h1m16 0h1m12 0h1m2 0h1m6 0h1m13 0h1m7 0h2m1 0h1m37 0h1m12 0h1m11 0h1m7 0h1m9 0h1m19 0h1m24 0h1m107 0h1m77 0h1m7 0h1m1 0h1m1 0h1m23 0h1" stroke="#999900"/>
<path d="M109 1139.7h1m3 0h1m27 0h1m14 0h1m1 0h1m16 0h1m52 0h1m18 0h1m14 0h1m23 0h1m22 0h1m15 0h1m2 0h1m5 0h2m11 0h1m3 0h1m10 0h1m21 0h1m7 0h1m15 0h1m15 0h3m9 0h1m47 0h1m53 0h1m85 0h1m150 0h1m36 0h1m16 0h1m9 0h1m18 0h1" stroke="#b2b200"/>
<path d="M118 1139.7h1m108 0h1m84 0h1m30 0h1m16 0h2m36 0h1m12 0h1m15 0h1m63 0h1m19 0h1m145 0h1m27 0h1m74 0h1m41 0h2" stroke="#cccc00"/>
<path d="M143 1139.7h2m127 0h1m16 0h1m90 0h1m83 0h1m38 0h1m6 0h1m97 0h1" stroke="#e6e600"/>
<path d="M218 1139.7h1m13 0h1m16 0h1m135 0h1m95 0h1m264 0h2" stroke="#ffff00"/>
<path d="M541 1165.2h1m75 0h2m31 0h1" stroke="#992199"/>
<path d="M635 1165.2h1m7 0h1m39 0h2m85 0h1" stroke="#801c80"/>
<path d="M130 1165.2h1m5 0h2m4 0h1m13 0h2m14 0h1m26 0h1m41 0h2m7 0h2m6 0h2m3 0h1m6 0h1m48 0h1m1 0h1m3 0h1m15 0h1m11 0h1m14 0h1m1 0h1m45 0h1m8 0h2m13 0h1m3 0h1m3 0h2m18 0h1m13 0h1m20 0h1m9 0h2m5 0h1m13 0h1m8 0h1m4 0h1m1 0h1m5 0h4m5 0h3m10 0h1m3 0h2m10 0h2m7 0h1m2 0h1m1 0h2m6 0h1m2 0h1m5 0h1m8 0h1m1 0h1m4 0h2m1 0h1m7 0h1m8 0h1m6 0h2m5 0h1m4 0h3m8 0h2m1 0h1m6 0h1m1 0h3m7 0h1m6 0h3m4 0h1m4 0h2m3 0h2m15 0h1m4 0h2m3 0h3m1 0h1m2 0h2m1 0h1m8 0h2m10 0h1m4 0h1m1 0h2m8 0h2m3 0h2m9 0h1m10 0h1m14 0h1m2 0h1m4 0h1m1 0h1m2 0h1m1 0h1m3 0h1" stroke="#661666"/>
<path d="M213 1165.2h1m29 0h1m226 0h1m120 0h1m53 0h1m12 0h1m67 0h1m26 0h1m8 0h1m6 0h1m24 0h1m13 0h1m12 0h1m41 0h1m8 0h1" stroke="#4c104c"/>
<path d="M184 1165.2h2m46 0h1m303 0h1m16 0h2m7 0h1m6 0h2m18 0h1m3 0h1m21 0h1m10 0h1m37 0h2m13 0h1m9 0h2m16 0h2m3 0h1m12 0h1m2 0h1m28 0h1m46 0h1m4 0h1m1 0h1m3 0h1m19 0h1m6 0h1m4 0h1" stroke="#330b33"/>
<path d="M197 1165.2h1m93 0h2m29 0h2m4 0h2m63 0h1m101 0h1m48 0h2m6 0h1m18 0h1m4 0h2m8 0h1m9 0h1m2 0h2m13 0h1m24 0h1m26 0h1m19 0h1m6 0h1m2 0h1m13 0h2m5 0h1m5 0h2m31 0h1m28 0h2m1 0h1m8 0h3m25 0h1m4 0h1m12 0h2m1 0h1m12 0h2m4 0h2m1 0h1" stroke="#1a061a"/>
<path d="M150 1165.2h2m76 0h1m8 0h3m68 0h1m11 0h1m57 0h1m26 0h1m5 0h1m42 0h2m2 0h1m6 0h1m8 0h1m1 0h1m9 0h1m48 0h1m38 0h2m4 0h1m16 0h2m5 0h2m18 0h1m2 0h3m18 0h2m17 0h1m8 0h1m22 0h1m2 0h1m3 0h1m2 0h1m8 0h2m15 0h2m2 0h2m3 0h1m18 0h1m9 0h1m3 0h1m2 0h1m8 0h1m2 0h2m11 0h2m7 0h1m5 0h1m1 0h1m1 0h1m9 0h1m2 0h1m23 0h1" stroke="#000000"/>
<path d="M111 1165.2h2m10 0h1m29 0h1m8 0h3m6 0h1m42 0h1m9 0h1m35 0h1m16 0h1m11 0h1m46 0h1m18 0h1m3 0h1m25 0h1m23 0h2m3 0h1m2 0h1m24 0h1m16 0h2m22 0h1m7 0h1m14 0h2m7 0h2m21 0h1m7 0h1m2 0h1m29 0h1m4 0h1m5 0h1m10 0h2m4 0h1m2 0h1m1 0h2m7 0h2m10 0h1m28 0h2m70 0h1m6 0h3m2 0h2m4 0h1m26 0h1m7 0h1m3 0h1m9 0h1m14 0h1m14 0h1m6 0h1" stroke="#1a1a00"/>
<path d="M139 1165.2h1m20 0h1m13 0h1m4 0h1m21 0h1m3 0h1m39 0h3m9 0h1m4 0h1m4 0h1m4 0h1m7 0h3m11 0h1m7 0h1m10 0h1m4 0h1m7 0h2m3 0h1m24 0h1m8 0h1m15 0h1m4 0h2m2 0h1m41 0h1m10 0h1m9 0h1m12 0h2m3 0h1m1 0h1m5 0h1m12 0h1m1 0h1m2 0h1m29 0h1m11 0h1m2 0h1m8 0h1m16 0h1m4 0h1m13 0h2m42 0h2m5 0h1m7 0h1m7 0h2m1 0h1m1 0h1m28 0h1m6 0h1m19 0h2m28 0h1m12 0h1m2 0h1m5 0h1m14 0h1m13 0h1m13 0h1m8 0h1m3 0h1m2 0h2m1 0h1m6 0h1m3 0h1m7 0h3m4 0h2m17 0h1" stroke="#333300"/>
<path d="M118 1165.2h1m7 0h2m33 0h1m3 0h1m4 0h1m37 0h1m13 0h1m10 0h1m31 0h1m7 0h1m11 0h1m1 0h2m17 0h2m24 0h1m18 0h1m5 0h2m4 0h1m27 0h1m3 0h1m1 0h1m5 0h1m14 0h1m9 0h1m7 0h2m52 0h1m19 0h1m14 0h1m4 0h1m16 0h1m12 0h2m2 0h1m7 0h1m12 0h1m6 0h1m47 0h1m10 0h1m20 0h1m1 0h1m10 0h1m43 0h3m16 0h2m31 0h1m63 0h1m5 0h2m5 0h1m12 0h1" stroke="#4c4c00"/>
<path d="M113 1165.2h1m2 0h2m6 0h1m6 0h1m8 0h1m28 0h1m7 0h2m3 0h1m5 0h1m6 0h2m6 0h1m2 0h2m10 0h1m4 0h1m1 0h2m34 0h1m2 0h1m11 0h1m6 0h1m6 0h1m2 0h1m1 0h4m4 0h2m4 0h1m1 0h1m2 0h1m45 0h2m7 0h1m6 0h1m5 0h1m29 0h2m6 0h1m3 0h1m44 0h1m2 0h1m2 0h1m12 0h1m10 0h1m2 0h1m8 0h1m6 0h1m4 0h1m31 0h1m25 0h1m48 0h1m6 0h1m18 0h1m3 0h1m9 0h2m1 0h1m26 0h1m13 0h1m61 0h1m1 0h1m28 0h1m24 0h2m19 0h1m16 0h1m4 0h1" stroke="#666600"/>
<path d="M119 1165.2h1m5 0h1m3 0h1m11 0h1m6 0h2m4 0h2m10 0h1m8 0h1m7 0h1m3 0h1m3 0h2m24 0h1m12 0h2m16 0h2m18 0h2m14 0h1m20 0h1m4 0h1m4 0h1m8 0h1m9 0h2m6 0h2m23 0h1m4 0h1m48 0h2m4 0h1m2 0h1m4 0h1m5 0h1m3 0h1m4 0h2m4 0h1m6 0h1m17 0h1m3 0h1m1 0h1m10 0h1m1 0h1m7 0h1m19 0h2m7 0h1m2 0h1m22 0h1m59 0h1m23 0h1m5 0h1m33 0h1m153 0h1" stroke="#808000"/>
<path d="M109 1165.2h1m5 0h1m18 0h2m2 0h1m41 0h1m5 0h1m2 0h2m7 0h1m1 0h1m1 0h1m6 0h2m4 0h1m24 0h1m25 0h1m34 0h1m10 0h1m24 0h3m4 0h3m2 0h2m13 0h1m8 0h1m1 0h1m3 0h1m4 0h1m17 0h1m12 0h1m7 0h1m9 0h2m11 0h2m4 0h1m4 0h1m6 0h1m19 0h1m11 0h1m4 0h1m2 0h1m7 0h1m13 0h1m84 0h1m8 0h1m76 0h2m76 0h1" stroke="#999900"/>
<path d="M114 1165.2h1m37 0h1m6 0h1m7 0h2m12 0h1m29 0h2m3 0h1m17 0h3m16 0h1m24 0h1m7 0h1m43 0h1m2 0h1m6 0h1m6 0h1m14 0h1m3 0h1m10 0h1m2 0h1m7 0h2m2 0h1m1 0h1m1 0h1m1 0h4m17 0h1m9 0h1m8 0h1m22 0h2m17 0h1m36 0h1m3 0h2m1 0h1m230 0h1m34 0h1" stroke="#b2b200"/>
<path d="M110 1165.2h1m9 0h3m22 0h1m27 0h1m19 0h2m9 0h1m14 0h3m5 0h1m26 0h2m23 0h1m19 0h2m15 0h2m30 0h1m3 0h1m21 0h1m8 0h1m22 0h1m24 0h1m7 0h1m38 0h1m10 0h1m3 0h1m15 0h1m9 0h1m157 0h2m71 0h2" stroke="#cccc00"/>
<path d="M132 1165.2h2m9 0h2m1 0h2m10 0h1m70 0h1m14 0h1m26 0h1m99 0h1m105 0h1" stroke="#e6e600"/>
<path d="M128 1165.2h1m47 0h1m75 0h1m3 0h1m17 0h2m78 0h1m49 0h1m2 0h2m96 0h1" stroke="#ffff00"/>
<path d="M525 1190.6h1" stroke="#992199"/>
<path d="M109 1190.6h1m42 0h1m4 0h1m3 0h1m18 0h1m22 0h1m7 0h2m25 0h2m10 0h2m9 0h1m12 0h3m4 0h2m1 0h2m4 0h3m17 0h2m2 0h1m15 0h1m15 0h1m16 0h3m6 0h1m2 0h1m16 0h1m16 0h1m12 0h2m18 0h1m5 0h1m1 0h2m5 0h1m14 0h1m4 0h1m3 0h1m3 0h1m12 0h1m13 0h2m8 0h1m7 0h1m7 0h2m2 0h1m6 0h1m6 0h2m5 0h1m21 0h1m6 0h1m4 0h1m46 0h1m1 0h1m1 0h3m11 0h2m12 0h1m5 0h1m13 0h1m8 0h1m7 0h1m12 0h1m4 0h1m6 0h1m32 0h2m14 0h1m4 0h2m18 0h1m8 0h1m2 0h2m5 0h1m3 0h1m21 0h1m1 0h2m2 0h1m9 0h1" stroke="#661666"/>
<path d="M128 1190.6h1m48 0h2m100 0h1m48 0h1m22 0h1m89 0h1m7 0h1m24 0h1m148 0h1m53 0h2m167 0h1" stroke="#4c104c"/>
<path d="M183 1190.6h1m22 0h1m1 0h1m9 0h1m99 0h1m30 0h2m45 0h1m30 0h1m37 0h1m4 0h1m5 0h1m16 0h1m42 0h1m45 0h1m38 0h2m57 0h1m5 0h1m83 0h1m5 0h1m8 0h2" stroke="#330b33"/>
<path d="M129 1190.6h1m7 0h1m33 0h1m4 0h1m5 0h1m6 0h2m5 0h1m1 0h2m27 0h1m4 0h1m34 0h1m1 0h2m45 0h2m17 0h1m6 0h1m28 0h1m14 0h2m6 0h1m13 0h1m23 0h3m18 0h3m8 0h1m8 0h1m10 0h1m14 0h1m14 0h1m4 0h1m7 0h1m19 0h1m12 0h2m9 0h1m1 0h2m5 0h1m2 0h1m14 0h3m11 0h2m31 0h1m5 0h1m5 0h1m8 0h1m3 0h2m15 0h1m14 0h1m71 0h1m42 0h1m10 0h2" stroke="#1a061a"/>
<path d="M111 1190.6h2m1 0h1m6 0h2m9 0h2m6 0h1m7 0h3m23 0h1m9 0h2m33 0h1m69 0h1m3 0h1m32 0h1m11 0h2m42 0h1m12 0h1m7 0h2m16 0h1m3 0h2m2 0h1m13 0h1m8 0h1m6 0h2m17 0h1m11 0h1m11 0h1m3 0h1m3 0h1m32 0h1m23 0h1m25 0h1m59 0h1m2 0h1m1 0h1m1 0h1m20 0h1m7 0h2m3 0h1m2 0h2m28 0h1m4 0h1m69 0h2m4 0h1m9 0h1m29 0h1m4 0h1m16 0h1" stroke="#000000"/>
<path d="M116 1190.6h2m1 0h1m3 0h1m12 0h1m19 0h1m9 0h1m6 0h1m12 0h1m1 0h1m2 0h2m8 0h1m5 0h1m9 0h1m7 0h1m3 0h3m1 0h2m18 0h1m2 0h2m2 0h1m2 0h1m1 0h1m17 0h1m11 0h2m2 0h4m4 0h2m3 0h1m6 0h1m9 0h1m4 0h1m2 0h1m5 0h1m8 0h1m3 0h1m5 0h1m13 0h1m13 0h2m14 0h1m12 0h1m15 0h1m22 0h1m2 0h3m25 0h1m7 0h1m3 0h1m3 0h1m15 0h1m18 0h1m28 0h1m2 0h1m5 0h1m15 0h1m15 0h1m4 0h1m8 0h1m4 0h1m1 0h2m1 0h1m5 0h1m31 0h2m14 0h1m6 0h1m5 0h1m1 0h2m17 0h1m12 0h3m1 0h3m13 0h1m59 0h1m3 0h2m2 0h1m16 0h1m17 0h1m2 0h1m4 0h1" stroke="#1a1a00"/>
<path d="M113 1190.6h1m4 0h1m5 0h1m1 0h2m2 0h1m3 0h2m3 0h1m1 0h2m11 0h2m3 0h1m15 0h1m26 0h1m10 0h2m1 0h1m6 0h1m2 0h1m8 0h2m10 0h1m1 0h1m16 0h1m1 0h1m9 0h1m1 0h1m13 0h1m8 0h1m9 0h1m8 0h3m15 0h1m13 0h2m1 0h1m8 0h1m2 0h1m10 0h1m16 0h1m1 0h2m9 0h1m4 0h2m1 0h1m11 0h1m5 0h1m3 0h1m3 0h2m23 0h1m5 0h1m6 0h1m9 0h1m10 0h2m2 0h1m3 0h1m6 0h1m4 0h2m1 0h1m17 0h2m19 0h2m12 0h1m4 0h1m2 0h3m15 0h1m3 0h1m4 0h1m5 0h1m5 0h2m2 0h1m2 0h1m2 0h2m3 0h3m35 0h1m38 0h2m1 0h1m3 0h1m4 0h1m3 0h1m9 0h2m6 0h1m47 0h1m8 0h1m3 0h1m8 0h1m3 0h2m6 0h1m2 0h2m3 0h3m10 0h2m5 0h1m1 0h1m7 0h1" stroke="#333300"/>
<path d="M110 1190.6h1m4 0h1m4 0h1m24 0h1m16 0h1m2 0h1m6 0h1m8 0h1m11 0h2m10 0h1m14 0h1m27 0h1m3 0h1m5 0h1m12 0h1m1 0h1m3 0h1m8 0h1m10 0h2m7 0h1m8 0h1m15 0h1m9 0h1m5 0h1m20 0h1m8 0h1m1 0h1m4 0h1m3 0h2m11 0h1m3 0h1m40 0h2m20 0h1m2 0h1m8 0h1m5 0h2m7 0h1m12 0h1m6 0h2m17 0h1m2 0h1m13 0h1m10 0h1m5 0h1m7 0h2m12 0h2m4 0h1m6 0h2m3 0h1m8 0h2m9 0h1m9 0h1m22 0h1m6 0h1m6 0h1m7 0h2m6 0h3m5 0h1m9 0h1m10 0h1m2 0h2m8 0h1m8 0h2m12 0h1m3 0h1m5 0h2m10 0h1m12 0h1m2 0h1m1 0h1m19 0h1m13 0h1m8 0h1m5 0h1m5 0h2m14 0h2m5 0h1" stroke="#4c4c00"/>
<path d="M138 1190.6h1m12 0h1m8 0h1m34 0h1m4 0h1m3 0h1m16 0h2m1 0h1m19 0h1m14 0h1m4 0h1m39 0h1m15 0h2m45 0h1m10 0h1m4 0h1m18 0h1m9 0h2m6 0h1m10 0h1m5 0h1m28 0h2m11 0h1m11 0h1m4 0h1m3 0h1m8 0h1m10 0h1m27 0h1m1 0h1m1 0h4m8 0h1m5 0h1m15 0h1m48 0h1m3 0h1m19 0h1m4 0h2m44 0h3m1 0h3m11 0h1m17 0h6m9 0h1m2 0h1m4 0h1m7 0h1m10 0h2m7 0h1m7 0h3m2 0h1m43 0h1m20 0h1" stroke="#666600"/>
<path d="M131 1190.6h1m11 0h2m1 0h2m10 0h1m4 0h2m4 0h1m9 0h1m7 0h1m21 0h2m26 0h1m3 0h2m19 0h1m9 0h1m14 0h2m20 0h1m15 0h1m1 0h1m4 0h2m10 0h2m2 0h1m4 0h1m4 0h1m1 0h2m12 0h1m6 0h1m3 0h1m7 0h1m13 0h1m9 0h1m123 0h1m33 0h1m5 0h1m13 0h1m15 0h1m4 0h1m30 0h1m21 0h1m30 0h1m57 0h1m3 0h1m2 0h1m2 0h1m10 0h5m11 0h1m2 0h2m1 0h1m12 0h1m21 0h1m28 0h1m3 0h1" stroke="#808000"/>
<path d="M167 1190.6h2m1 0h1m44 0h1m12 0h1m11 0h1m64 0h1m64 0h1m53 0h1m14 0h1m16 0h1m31 0h1m5 0h1m33 0h2m5 0h1m22 0h2m41 0h2m3 0h1m12 0h1m5 0h1m26 0h1m1 0h2m11 0h1m17 0h1m21 0h2m8 0h1m35 0h2m2 0h1m32 0h1m13 0h1m6 0h1m20 0h2" stroke="#999900"/>
<path d="M125 1190.6h1m27 0h1m89 0h1m129 0h1m37 0h1m2 0h1m23 0h1m78 0h1m89 0h1m66 0h1m31 0h1m22 0h1m29 0h1m13 0h1m67 0h1m5 0h1m1 0h2m20 0h1" stroke="#b2b200"/>
<path d="M197 1190.6h1m47 0h2m181 0h1m54 0h1m291 0h1" stroke="#cccc00"/>
<path d="M254 1190.6h2m80 0h1m22 0h1m38 0h1m364 0h1" stroke="#e6e600"/>
<path d="M546 1190.6h1m237 0h1" stroke="#ffff00"/>
<path d="M798 1216.1h2" stroke="#b226b2"/>
<path d="M834 1216.1h1m12 0h1" stroke="#992199"/>
<path d="M543 1216.1h1m171 0h2m20 0h1m91 0h1" stroke="#801c80"/>
<path d="M128 1216.1h1m28 0h1m16 0h1m6 0h2m4 0h1m16 0h1m11 0h1m2 0h1m2 0h1m6 0h1m3 0h1m10 0h1m20 0h1m5 0h1m12 0h1m4 0h1m26 0h3m2 0h1m13 0h1m33 0h1m18 0h2m27 0h1m13 0h1m22 0h2m3 0h4m11 0h1m32 0h1m4 0h1m24 0h1m8 0h1m1 0h1m2 0h5m12 0h1m1 0h1m21 0h1m1 0h1m6 0h2m8 0h1m14 0h1m12 0h1m1 0h2m3 0h1m13 0h1m1 0h4m10 0h1m2 0h1m1 0h1m11 0h2m10 0h1m8 0h1m3 0h2m1 0h2m7 0h1m2 0h1m7 0h1m4 0h3m4 0h2m2 0h1m6 0h1m3 0h1m13 0h1m4 0h1m6 0h1m1 0h1m5 0h2m11 0h1m14 0h1m14 0h1m5 0h1m15 0h1m1 0h2m2 0h1" stroke="#661666"/>
<path d="M538 1216.1h1m8 0h1m2 0h1m33 0h1m4 0h1m24 0h1m21 0h1m129 0h1m42 0h1m4 0h1m20 0h1" stroke="#4c104c"/>
<path d="M199 1216.1h1m183 0h1m125 0h1m32 0h1m29 0h1m3 0h2m5 0h1m11 0h1m2 0h1m4 0h1m23 0h1m57 0h1m31 0h1m16 0h1m3 0h1m11 0h2m6 0h1m20 0h1m5 0h2m8 0h1m29 0h1m5 0h1m7 0h1m8 0h3m7 0h1m9 0h1" stroke="#330b33"/>
<path d="M169 1216.1h1m33 0h1m45 0h1m31 0h2m43 0h1m80 0h1m19 0h1m15 0h1m8 0h1m82 0h1m20 0h4m4 0h1m2 0h1m6 0h1m11 0h1m3 0h1m13 0h1m2 0h1m11 0h1m3 0h1m11 0h1m17 0h1m3 0h1m17 0h1m7 0h2m3 0h1m8 0h2m8 0h2m4 0h1m9 0h2m7 0h1m32 0h1m10 0h1m7 0h1m3 0h1m27 0h1m2 0h1m1 0h1m1 0h2m17 0h1m3 0h1" stroke="#1a061a"/>
<path d="M125 1216.1h1m11 0h1m12 0h1m16 0h2m24 0h2m55 0h2m28 0h1m21 0h1m16 0h1m10 0h2m42 0h1m3 0h1m3 0h1m2 0h1m24 0h2m6 0h2m49 0h1m10 0h1m5 0h1m8 0h1m40 0h1m38 0h1m5 0h1m9 0h1m1 0h1m15 0h1m6 0h1m11 0h1m9 0h1m12 0h1m2 0h3m1 0h1m28 0h1m3 0h2m7 0h3m7 0h3m29 0h2m11 0h1m4 0h1m14 0h1m14 0h2m5 0h1m3 0h1m5 0h1m5 0h1m18 0h2m2 0h1m1 0h1m2 0h1m10 0h3m6 0h1m9 0h1" stroke="#000000"/>
<path d="M110 1216.1h1m20 0h3m25 0h1m45 0h1m12 0h1m1 0h1m6 0h1m6 0h1m26 0h1m32 0h1m13 0h1m24 0h1m20 0h2m7 0h1m38 0h2m69 0h1m4 0h1m15 0h1m28 0h1m10 0h1m6 0h1m2 0h2m17 0h1m32 0h1m8 0h2m3 0h1m4 0h1m15 0h2m17 0h1m10 0h1m4 0h1m5 0h1m4 0h2m46 0h1m23 0h1m17 0h1m1 0h1m1 0h2m5 0h1m1 0h2m1 0h1m8 0h2m11 0h2m4 0h1m8 0h1m22 0h2m10 0h2m5 0h2m2 0h1m5 0h1" stroke="#1a1a00"/>
<path d="M123 1216.1h1m6 0h1m3 0h2m12 0h2m6 0h1m3 0h1m1 0h1m7 0h2m16 0h3m10 0h1m19 0h1m16 0h2m1 0h3m4 0h1m36 0h2m33 0h1m4 0h1m12 0h2m8 0h1m2 0h1m27 0h1m11 0h1m5 0h1m1 0h2m3 0h1m1 0h1m7 0h1m7 0h2m12 0h2m3 0h1m11 0h1m2 0h2m17 0h1m14 0h1m2 0h1m5 0h1m13 0h1m8 0h1m16 0h2m37 0h2m2 0h1m2 0h1m34 0h1m9 0h1m2 0h1m3 0h1m6 0h1m14 0h1m9 0h1m10 0h1m1 0h1m12 0h1m33 0h1m1 0h1m12 0h2m6 0h1m3 0h1m2 0h1m1 0h1m1 0h1m13 0h1m26 0h1m5 0h1m54 0h1m8 0h1" stroke="#333300"/>
<path d="M109 1216.1h1m5 0h1m2 0h1m7 0h2m38 0h1m12 0h1m6 0h1m11 0h1m9 0h5m13 0h1m18 0h2m6 0h3m3 0h2m1 0h1m10 0h1m16 0h1m19 0h1m1 0h1m14 0h1m14 0h1m4 0h1m5 0h1m4 0h1m6 0h1m4 0h1m2 0h1m3 0h1m3 0h1m4 0h2m4 0h1m15 0h1m11 0h1m14 0h1m2 0h1m5 0h1m18 0h1m15 0h1m1 0h1m3 0h1m6 0h1m9 0h1m12 0h3m8 0h2m32 0h3m8 0h1m8 0h1m18 0h2m7 0h1m3 0h2m15 0h1m4 0h1m5 0h1m4 0h1m1 0h3m2 0h1m36 0h2m5 0h1m9 0h1m19 0h3m41 0h1m3 0h1m25 0h1m7 0h1m13 0h1m14 0h1m2 0h1m23 0h1m10 0h1" stroke="#4c4c00"/>
<path d="M119 1216.1h1m18 0h3m1 0h1m10 0h1m22 0h1m25 0h1m3 0h1m6 0h1m3 0h1m12 0h2m3 0h2m15 0h1m4 0h1m10 0h2m2 0h1m1 0h2m1 0h1m17 0h4m4 0h3m1 0h1m5 0h1m10 0h1m12 0h1m5 0h1m2 0h1m5 0h1m23 0h1m3 0h1m14 0h2m4 0h1m3 0h1m18 0h1m8 0h2m4 0h1m2 0h1m2 0h1m2 0h2m15 0h1m11 0h1m22 0h1m9 0h2m7 0h1m5 0h1m4 0h1m18 0h1m19 0h1m17 0h2m32 0h2m1 0h1m42 0h2m5 0h1m24 0h1m3 0h2m4 0h1m63 0h1m44 0h1m7 0h2" stroke="#666600"/>
<path d="M111 1216.1h2m28 0h1m3 0h3m24 0h1m4 0h2m16 0h1m28 0h2m30 0h1m21 0h1m14 0h1m5 0h2m5 0h1m33 0h1m15 0h2m1 0h1m6 0h1m8 0h1m22 0h1m10 0h1m2 0h2m14 0h1m3 0h1m7 0h1m17 0h1m13 0h1m10 0h2m3 0h1m14 0h1m16 0h1m7 0h2m43 0h1m43 0h2m51 0h2m14 0h1m48 0h2m52 0h1m27 0h1m10 0h1m28 0h1" stroke="#808000"/>
<path d="M114 1216.1h1m21 0h1m28 0h1m14 0h1m3 0h2m10 0h1m10 0h1m6 0h2m16 0h1m4 0h1m2 0h1m23 0h1m14 0h1m3 0h1m7 0h2m8 0h1m7 0h1m1 0h1m2 0h2m6 0h2m5 0h1m2 0h1m1 0h1m1 0h1m4 0h1m2 0h2m16 0h1m1 0h1m2 0h1m3 0h1m22 0h1m21 0h1m29 0h2m2 0h2m12 0h1m3 0h1m13 0h1m8 0h1m5 0h2m2 0h1m4 0h1m7 0h1m9 0h1m40 0h2m30 0h1m141 0h2m21 0h1m96 0h2" stroke="#999900"/>
<path d="M120 1216.1h3m6 0h1m22 0h1m5 0h1m16 0h1m7 0h1m7 0h2m35 0h1m34 0h1m23 0h2m71 0h2m28 0h1m24 0h1m13 0h2m45 0h1m12 0h1m14 0h1m120 0h1m17 0h1m76 0h1m91 0h1" stroke="#b2b200"/>
<path d="M124 1216.1h1m36 0h1m1 0h2m8 0h1m26 0h1m46 0h1m10 0h1m11 0h1m57 0h1m43 0h1m11 0h1m36 0h1m48 0h2m24 0h1m24 0h1m151 0h1" stroke="#cccc00"/>
<path d="M113 1216.1h1m29 0h2m9 0h2m41 0h1m25 0h1m42 0h2m8 0h1m72 0h2m42 0h1m31 0h2m39 0h2m19 0h1m17 0h1m12 0h1" stroke="#e6e600"/>
<path d="M116 1216.1h2m33 0h1m216 0h1m139 0h1" stroke="#ffff00"/>
<path d="M541 1241.5h1" stroke="#cc2ccc"/>
<path d="M634 1241.5h1" stroke="#b226b2"/>
<path d="M402 1241.5h1m232 0h1" stroke="#992199"/>
<path d="M535 1241.5h1m8 0h2m258 0h1m8 0h1m47 0h1" stroke="#801c80"/>
<path d="M128 1241.5h1m3 0h2m19 0h1m2 0h1m8 0h1m7 0h1m1 0h1m5 0h1m9 0h2m4 0h1m3 0h1m5 0h2m12 0h1m1 0h1m4 0h1m16 0h2m3 0h2m9 0h1m29 0h2m16 0h1m9 0h1m7 0h1m9 0h1m10 0h1m14 0h2m4 0h1m1 0h1m1 0h1m2 0h1m21 0h1m6 0h1m4 0h1m10 0h2m45 0h1m15 0h1m14 0h1m2 0h1m11 0h1m9 0h2m10 0h3m4 0h1m3 0h3m1 0h1m3 0h1m2 0h5m1 0h4m17 0h2m2 0h1m1 0h1m1 0h1m11 0h2m2 0h3m4 0h1m2 0h1m1 0h2m1 0h1m3 0h1m2 0h2m10 0h1m3 0h1m3 0h1m4 0h1m7 0h2m4 0h2m2 0h1m5 0h2m19 0h1m8 0h3m10 0h2m4 0h1m19 0h1m3 0h1m2 0h1m10 0h1m1 0h1m1 0h2m5 0h1m1 0h2m1 0h1m5 0h1m1 0h1m3 0h1m12 0h1m3 0h1m3 0h1m1 0h1m2 0h1m2 0h1m5 0h1m3 0h1m7 0h3m1 0h1m4 0h3m4 0h3m2 0h1m10 0h1" stroke="#661666"/>
<path d="M186 1241.5h1m248 0h1m98 0h1m28 0h1m6 0h1m52 0h1m17 0h2m2 0h1m13 0h1m16 0h1m14 0h2m46 0h2m9 0h2m14 0h1m3 0h1m27 0h2m19 0h1m19 0h1m30 0h1" stroke="#4c104c"/>
<path d="M174 1241.5h1m92 0h1m65 0h1m51 0h1m90 0h1m4 0h1m9 0h1m50 0h1m10 0h2m13 0h1m21 0h1m10 0h2m9 0h2m3 0h2m6 0h1m13 0h1m6 0h1m14 0h1m21 0h2m18 0h2m9 0h1m30 0h3m34 0h1m13 0h1m4 0h1m3 0h2m7 0h2m6 0h1m32 0h2m15 0h2m1 0h1" stroke="#330b33"/>
<path d="M116 1241.5h2m23 0h1m73 0h2m42 0h1m19 0h1m35 0h1m4 0h1m45 0h1m115 0h1m89 0h1m5 0h1m15 0h1m1 0h1m29 0h1m2 0h1m7 0h1m2 0h1m7 0h2m17 0h3m23 0h1m1 0h1m3 0h1m22 0h1m3 0h1m11 0h1m19 0h1m5 0h2m9 0h1m8 0h3m24 0h1m11 0h1m4 0h1m7 0h1m3 0h1m24 0h1m2 0h1" stroke="#1a061a"/>
<path d="M154 1241.5h2m2 0h2m36 0h1m25 0h1m15 0h2m22 0h1m38 0h1m4 0h1m6 0h1m12 0h1m9 0h1m16 0h1m4 0h1m13 0h1m18 0h1m22 0h2m1 0h1m21 0h1m24 0h1m12 0h1m11 0h1m4 0h1m20 0h2m6 0h1m22 0h1m22 0h1m3 0h1m6 0h1m3 0h1m12 0h1m9 0h2m35 0h1m7 0h1m1 0h2m1 0h1m8 0h1m18 0h1m16 0h1m17 0h1m7 0h1m3 0h2m1 0h2m4 0h1m21 0h1m4 0h1m4 0h1m2 0h1m15 0h3m5 0h1m8 0h1m16 0h2m3 0h1m6 0h1m6 0h1m3 0h2m16 0h1m3 0h1" stroke="#000000"/>
<path d="M114 1241.5h1m3 0h1m1 0h1m16 0h1m7 0h1m67 0h1m39 0h3m7 0h1m38 0h1m2 0h1m23 0h1m1 0h1m8 0h1m24 0h1m8 0h1m11 0h2m2 0h1m27 0h1m17 0h1m4 0h1m6 0h1m3 0h1m19 0h1m6 0h1m7 0h2m3 0h1m12 0h1m4 0h1m6 0h1m2 0h1m6 0h1m12 0h1m30 0h1m2 0h2m7 0h1m30 0h2m11 0h1m5 0h1m2 0h1m21 0h1m1 0h1m11 0h2m8 0h1m3 0h2m8 0h3m7 0h1m30 0h1m10 0h1m10 0h1m2 0h1m24 0h1m19 0h1m2 0h1m6 0h1m7 0h1m3 0h1m5 0h1m18 0h1m7 0h1m3 0h1" stroke="#1a1a00"/>
<path d="M111 1241.5h3m9 0h1m15 0h1m11 0h1m18 0h1m31 0h2m10 0h1m4 0h1m4 0h3m7 0h3m6 0h1m12 0h1m7 0h1m1 0h1m4 0h1m8 0h3m16 0h2m13 0h1m28 0h1m11 0h1m11 0h1m11 0h1m2 0h1m11 0h1m1 0h1m2 0h2m42 0h1m14 0h6m1 0h1m7 0h1m1 0h1m2 0h1m30 0h1m71 0h1m10 0h1m6 0h2m2 0h1m49 0h1m8 0h2m30 0h1m5 0h1m14 0h2m1 0h2m10 0h1m30 0h1m15 0h1m1 0h1m8 0h1m1 0h1m41 0h2m14 0h1m8 0h1m6 0h1" stroke="#333300"/>
<path d="M119 1241.5h1m5 0h1m3 0h1m4 0h2m2 0h1m11 0h1m10 0h1m1 0h2m39 0h1m1 0h1m11 0h1m10 0h1m2 0h1m19 0h1m5 0h1m1 0h1m26 0h2m6 0h2m10 0h1m2 0h2m13 0h1m2 0h1m9 0h2m2 0h1m19 0h1m14 0h2m2 0h1m6 0h2m11 0h1m1 0h1m23 0h1m5 0h2m15 0h2m4 0h2m8 0h2m22 0h1m5 0h1m1 0h1m9 0h1m19 0h2m20 0h1m25 0h2m17 0h1m2 0h1m5 0h1m15 0h1m9 0h1m19 0h1m26 0h3m29 0h1m15 0h1m8 0h1m7 0h2m8 0h1m49 0h2m33 0h1" stroke="#4c4c00"/>
<path d="M124 1241.5h1m11 0h1m20 0h1m8 0h1m2 0h1m18 0h1m9 0h1m10 0h4m4 0h1m2 0h1m6 0h1m5 0h1m6 0h1m3 0h1m4 0h1m7 0h1m11 0h1m4 0h2m2 0h1m4 0h1m1 0h1m4 0h1m3 0h1m8 0h1m8 0h1m8 0h1m13 0h1m5 0h1m5 0h1m1 0h2m5 0h1m11 0h1m1 0h1m12 0h1m13 0h1m6 0h1m11 0h1m7 0h1m4 0h1m7 0h1m4 0h1m2 0h1m24 0h1m15 0h1m19 0h2m31 0h1m12 0h1m3 0h2m29 0h2m49 0h1m36 0h1m31 0h2m8 0h1m9 0h1m3 0h1m12 0h1m9 0h1m2 0h1m2 0h1m13 0h1m22 0h1m43 0h1m5 0h1" stroke="#666600"/>
<path d="M110 1241.5h1m4 0h1m14 0h1m11 0h1m9 0h1m7 0h1m6 0h2m8 0h2m1 0h1m2 0h3m1 0h1m5 0h2m5 0h1m29 0h2m5 0h1m9 0h1m22 0h1m33 0h1m11 0h2m4 0h2m6 0h1m3 0h1m19 0h1m5 0h2m46 0h1m3 0h2m5 0h1m26 0h2m5 0h1m20 0h1m8 0h1m13 0h1m3 0h1m1 0h1m15 0h1m59 0h1m125 0h1m49 0h1m113 0h1" stroke="#808000"/>
<path d="M109 1241.5h1m30 0h1m5 0h2m28 0h1m18 0h1m9 0h1m59 0h1m7 0h1m2 0h2m6 0h1m1 0h1m2 0h1m7 0h2m25 0h1m7 0h1m13 0h1m4 0h1m28 0h1m3 0h1m7 0h1m13 0h2m1 0h1m1 0h1m11 0h1m4 0h1m3 0h1m5 0h1m10 0h1m4 0h2m13 0h1m10 0h1m4 0h1m9 0h1m4 0h1m20 0h1m8 0h1m51 0h1m106 0h2" stroke="#999900"/>
<path d="M121 1241.5h2m8 0h1m11 0h2m3 0h2m12 0h1m8 0h2m6 0h1m9 0h2m8 0h1m41 0h2m5 0h1m108 0h1m37 0h1m29 0h2m3 0h1m9 0h1m3 0h1m26 0h1m32 0h1m7 0h2m4 0h1m3 0h1m190 0h1m7 0h1" stroke="#b2b200"/>
<path d="M126 1241.5h2m144 0h1m35 0h1m9 0h1m25 0h2m6 0h1m22 0h1m17 0h1m99 0h1m194 0h1" stroke="#cccc00"/>
<path d="M268 1241.5h1m90 0h1m60 0h1m90 0h1m308 0h1" stroke="#e6e600"/>
<path d="M182 1241.5h1m110 0h1m137 0h1m94 0h1" stroke="#ffff00"/>
<path d="M686 1266.9h1" stroke="#801c80"/>
<path d="M114 1266.9h1m27 0h1m20 0h2m60 0h1m23 0h1m7 0h1m6 0h1m14 0h1m17 0h2m22 0h1m9 0h1m2 0h1m5 0h1m11 0h2m52 0h1m10 0h1m14 0h1m4 0h2m10 0h1m31 0h1m2 0h1m38 0h1m10 0h1m12 0h2m3 0h1m25 0h1m31 0h1m1 0h2m2 0h3m18 0h1m18 0h1m12 0h1m51 0h1m5 0h1m4 0h2m4 0h1m5 0h1m7 0h1m7 0h1m13 0h1m4 0h1m4 0h1m3 0h1m5 0h1m2 0h1m9 0h1m3 0h1m37 0h3m5 0h1m13 0h1m2 0h1" stroke="#661666"/>
<path d="M564 1266.9h1m135 0h1m108 0h1m54 0h1" stroke="#4c104c"/>
<path d="M280 1266.9h1m67 0h1m114 0h1m96 0h2m20 0h2m7 0h1m23 0h1m9 0h1m3 0h1m4 0h1m61 0h3m54 0h1m64 0h1m17 0h1" stroke="#330b33"/>
<path d="M110 1266.9h1m75 0h1m13 0h1m19 0h1m78 0h2m164 0h1m72 0h1m30 0h1m49 0h1m4 0h1m28 0h1m25 0h1m1 0h1m23 0h1m3 0h3m5 0h3m9 0h1m25 0h1m17 0h1m9 0h1m33 0h1m17 0h1m7 0h2m17 0h2" stroke="#1a061a"/>
<path d="M129 1266.9h1m13 0h2m59 0h1m22 0h2m18 0h1m25 0h1m33 0h1m4 0h1m20 0h1m58 0h1m9 0h1m8 0h1m23 0h1m28 0h1m1 0h2m4 0h1m22 0h1m44 0h1m3 0h2m19 0h2m28 0h1m35 0h2m33 0h1m5 0h1m2 0h1m4 0h1m8 0h2m12 0h2m7 0h1m9 0h1m11 0h4m12 0h2m5 0h2m4 0h1m6 0h1m6 0h1m20 0h2m1 0h1m19 0h1m9 0h1m16 0h1m5 0h1m3 0h1" stroke="#000000"/>
<path d="M125 1266.9h1m63 0h2m6 0h1m7 0h1m7 0h1m1 0h1m6 0h1m25 0h1m28 0h1m30 0h1m27 0h1m14 0h1m7 0h1m13 0h1m19 0h1m3 0h1m23 0h2m13 0h1m2 0h1m2 0h1m7 0h3m6 0h2m12 0h1m22 0h2m1 0h1m7 0h1m5 0h1m11 0h1m10 0h1m5 0h2m6 0h1m4 0h1m2 0h2m13 0h1m11 0h1m8 0h1m1 0h1m2 0h2m8 0h1m17 0h2m1 0h1m2 0h1m11 0h1m36 0h1m24 0h2m4 0h1m6 0h1m10 0h1m17 0h1m4 0h1m1 0h1m4 0h1m33 0h1m12 0h1m3 0h1m1 0h1m23 0h1m2 0h1m3 0h1m29 0h1" stroke="#1a1a00"/>
<path d="M111 1266.9h2m8 0h3m10 0h2m48 0h2m12 0h1m7 0h1m10 0h1m6 0h1m9 0h1m9 0h3m13 0h2m4 0h1m3 0h1m14 0h2m16 0h1m40 0h2m10 0h1m5 0h1m1 0h1m1 0h1m27 0h1m20 0h1m24 0h1m20 0h2m46 0h1m5 0h2m1 0h1m18 0h1m1 0h1m6 0h1m16 0h1m15 0h1m6 0h3m15 0h1m9 0h1m6 0h2m3 0h1m8 0h1m2 0h2m7 0h3m4 0h2m2 0h1m26 0h1m5 0h2m1 0h1m11 0h1m23 0h1m11 0h2m15 0h1m4 0h1m2 0h3m1 0h2m5 0h1m10 0h1m2 0h2m8 0h2m6 0h1m13 0h1m4 0h1m4 0h1m2 0h1m2 0h1m1 0h1m10 0h1m7 0h1m4 0h1" stroke="#333300"/>
<path d="M119 1266.9h1m8 0h1m12 0h1m6 0h2m4 0h2m1 0h1m4 0h1m8 0h1m1 0h1m6 0h1m10 0h2m42 0h2m3 0h1m18 0h1m5 0h1m3 0h1m2 0h1m8 0h2m19 0h1m1 0h2m3 0h1m1 0h1m4 0h2m2 0h1m1 0h2m5 0h1m37 0h2m7 0h1m1 0h1m7 0h4m5 0h1m20 0h1m12 0h1m18 0h1m29 0h1m3 0h1m34 0h1m17 0h1m31 0h1m3 0h2m1 0h2m4 0h1m9 0h1m1 0h1m12 0h1m2 0h1m11 0h1m15 0h1m9 0h1m5 0h1m11 0h2m11 0h2m14 0h1m20 0h1m8 0h4m12 0h3m6 0h1m26 0h2m4 0h1m5 0h1m8 0h1m7 0h1m8 0h1m5 0h1m2 0h1m2 0h1m13 0h1m12 0h1m14 0h1m2 0h1" stroke="#4c4c00"/>
<path d="M109 1266.9h1m6 0h2m2 0h1m3 0h1m1 0h2m8 0h2m7 0h3m8 0h1m4 0h1m5 0h3m2 0h1m1 0h1m4 0h1m1 0h1m1 0h1m11 0h1m5 0h1m6 0h1m5 0h1m1 0h1m13 0h2m1 0h1m50 0h1m10 0h2m13 0h1m3 0h1m9 0h1m1 0h2m2 0h1m6 0h1m8 0h1m7 0h1m14 0h1m5 0h1m8 0h1m11 0h1m2 0h3m1 0h1m1 0h1m2 0h2m9 0h2m3 0h3m4 0h1m13 0h1m8 0h2m2 0h1m11 0h1m4 0h1m1 0h1m2 0h1m2 0h1m7 0h1m10 0h1m8 0h2m17 0h1m10 0h1m7 0h1m6 0h2m18 0h2m3 0h1m24 0h1m16 0h1m16 0h1m18 0h1m2 0h2m3 0h1m2 0h2m16 0h1m6 0h1m3 0h1m2 0h1m63 0h1m15 0h1m2 0h2m29 0h1m11 0h1m18 0h1m7 0h2m8 0h1m7 0h1" stroke="#666600"/>
<path d="M118 1266.9h1m13 0h2m17 0h3m11 0h1m9 0h1m11 0h1m8 0h1m2 0h1m11 0h2m8 0h1m7 0h1m7 0h1m14 0h1m5 0h1m3 0h2m27 0h2m13 0h1m12 0h1m5 0h1m2 0h1m6 0h1m5 0h1m21 0h1m1 0h1m5 0h1m13 0h1m12 0h1m11 0h1m1 0h2m4 0h1m4 0h1m17 0h1m15 0h1m10 0h1m18 0h4m2 0h1m4 0h1m1 0h1m19 0h1m3 0h1m26 0h1m37 0h1m7 0h2m2 0h3m3 0h1m3 0h1m49 0h1m6 0h1m4 0h1m2 0h1m6 0h2m60 0h1m16 0h1m2 0h1m39 0h2m8 0h1m10 0h2m18 0h1m12 0h2m8 0h1m2 0h1" stroke="#808000"/>
<path d="M113 1266.9h1m17 0h1m6 0h3m9 0h1m7 0h2m6 0h1m3 0h1m11 0h1m10 0h2m12 0h1m10 0h2m3 0h1m14 0h2m1 0h3m9 0h3m20 0h1m1 0h1m8 0h2m4 0h1m19 0h1m24 0h2m9 0h2m4 0h1m2 0h1m13 0h1m6 0h1m1 0h2m7 0h1m13 0h1m2 0h1m19 0h2m24 0h1m2 0h1m14 0h1m2 0h1m1 0h1m2 0h1m5 0h1m8 0h1m6 0h1m6 0h1m10 0h1m8 0h2m23 0h2m7 0h1m5 0h1m15 0h1m56 0h4m15 0h1m13 0h1m12 0h1m40 0h1m51 0h1m9 0h2m8 0h1m19 0h1m2 0h1m6 0h1m37 0h1" stroke="#999900"/>
<path d="M115 1266.9h1m44 0h1m27 0h1m14 0h1m22 0h1m29 0h1m33 0h1m10 0h1m13 0h1m16 0h1m9 0h2m16 0h2m18 0h1m63 0h1m41 0h1m5 0h1m11 0h1m5 0h1m3 0h1m6 0h2m4 0h1m122 0h1m6 0h1m57 0h2m115 0h2" stroke="#b2b200"/>
<path d="M177 1266.9h2m23 0h1m47 0h2m16 0h1m2 0h1m11 0h1m5 0h1m28 0h1m28 0h1m22 0h1m6 0h1m5 0h1m30 0h1m15 0h1m12 0h1m59 0h1m22 0h1m43 0h1m22 0h1m57 0h1m49 0h1" stroke="#cccc00"/>
<path d="M176 1266.9h1m32 0h2m56 0h1m26 0h1m138 0h2m34 0h1m36 0h1" stroke="#e6e600"/>
<path d="M130 1266.9h1m101 0h1m41 0h2m81 0h1m16 0h1m16 0h1m54 0h2m57 0h1m240 0h2" stroke="#ffff00"/>
<path d="M562 1292.4h1m4 0h1m186 0h1" stroke="#801c80"/>
<path d="M125 1292.4h1m55 0h1m4 0h1m1 0h1m8 0h1m9 0h1m25 0h1m15 0h3m20 0h1m1 0h2m1 0h1m13 0h2m6 0h2m2 0h1m2 0h1m2 0h1m2 0h1m7 0h1m4 0h2m4 0h1m8 0h1m3 0h2m37 0h2m16 0h1m3 0h1m25 0h1m11 0h1m9 0h3m10 0h3m10 0h1m2 0h1m4 0h1m1 0h1m7 0h1m8 0h1m8 0h2m3 0h2m3 0h1m4 0h1m10 0h1m10 0h1m11 0h1m5 0h1m3 0h1m1 0h2m4 0h1m6 0h2m5 0h1m2 0h2m2 0h4m9 0h1m17 0h1m4 0h1m5 0h1m10 0h2m6 0h2m1 0h1m11 0h1m5 0h1m37 0h2m13 0h1m9 0h2m7 0h1m3 0h1m2 0h1m2 0h1m1 0h1m1 0h2m8 0h1m2 0h1m12 0h1m6 0h1m11 0h1m5 0h1m9 0h2m3 0h1m5 0h2m9 0h3m7 0h1m3 0h1m4 0h2" stroke="#661666"/>
<path d="M542 1292.4h1m49 0h1m14 0h1m13 0h2m36 0h1m71 0h1m14 0h2m42 0h1m5 0h1m41 0h2" stroke="#4c104c"/>
<path d="M183 1292.4h1m124 0h1m166 0h1m70 0h1m62 0h1m19 0h1m32 0h2m39 0h2m4 0h1m3 0h1m6 0h1m13 0h1m24 0h1m6 0h1m22 0h1m15 0h3m1 0h1m51 0h1" stroke="#330b33"/>
<path d="M170 1292.4h1m8 0h2m12 0h2m4 0h1m4 0h1m81 0h1m70 0h1m10 0h1m75 0h1m56 0h1m20 0h2m27 0h1m34 0h1m21 0h1m1 0h1m6 0h2m17 0h1m1 0h1m7 0h1m13 0h1m14 0h1m11 0h1m14 0h1m12 0h2m1 0h2m1 0h1m6 0h1m8 0h1m1 0h3m10 0h1m9 0h1m19 0h1m27 0h1m2 0h1m3 0h2m7 0h2m2 0h1m11 0h1m3 0h1m6 0h1m17 0h1" stroke="#1a061a"/>
<path d="M114 1292.4h1m11 0h2m9 0h1m122 0h1m5 0h1m49 0h2m25 0h1m4 0h1m7 0h1m13 0h2m3 0h1m5 0h1m21 0h1m12 0h1m4 0h1m18 0h1m8 0h3m36 0h1m1 0h1m16 0h1m31 0h2m8 0h1m3 0h2m8 0h1m8 0h1m6 0h2m38 0h1m3 0h1m4 0h1m18 0h1m3 0h1m14 0h1m15 0h1m3 0h1m6 0h1m20 0h1m10 0h1m39 0h1m11 0h1m1 0h2m6 0h1m20 0h1m3 0h1m34 0h1m11 0h2m9 0h1" stroke="#000000"/>
<path d="M129 1292.4h1m4 0h2m2 0h1m4 0h2m11 0h1m41 0h1m7 0h1m11 0h1m33 0h2m5 0h1m11 0h1m9 0h3m21 0h1m8 0h1m4 0h1m39 0h3m14 0h1m3 0h1m7 0h2m12 0h1m6 0h1m8 0h1m44 0h1m48 0h1m43 0h2m17 0h1m7 0h1m1 0h1m5 0h1m3 0h1m2 0h1m12 0h1m8 0h1m3 0h1m5 0h1m27 0h1m2 0h1m10 0h1m3 0h3m4 0h2m6 0h2m3 0h3m27 0h1m8 0h2m26 0h1m19 0h1m4 0h1m3 0h2m1 0h1m2 0h2m1 0h1m13 0h1m5 0h1m1 0h1m5 0h1m10 0h1m4 0h1m5 0h1m10 0h1m2 0h1m1 0h1m1 0h1m2 0h1" stroke="#1a1a00"/>
<path d="M128 1292.4h1m23 0h1m20 0h1m37 0h2m7 0h1m8 0h1m4 0h1m2 0h3m25 0h1m4 0h1m5 0h1m1 0h2m7 0h3m5 0h2m27 0h1m12 0h1m9 0h1m10 0h1m35 0h2m18 0h1m5 0h1m1 0h1m6 0h1m9 0h1m25 0h1m37 0h1m6 0h1m15 0h1m9 0h1m6 0h3m9 0h1m4 0h2m9 0h1m15 0h2m25 0h1m10 0h1m1 0h1m22 0h1m1 0h1m59 0h1m4 0h1m15 0h1m8 0h3m5 0h2m1 0h1m1 0h1m2 0h1m14 0h1m1 0h2m8 0h2m4 0h1m2 0h1m19 0h1m10 0h1m2 0h1m5 0h2m13 0h2m12 0h1m11 0h1" stroke="#333300"/>
<path d="M111 1292.4h2m3 0h2m3 0h2m7 0h1m22 0h1m4 0h1m3 0h1m2 0h1m6 0h1m18 0h2m29 0h1m2 0h1m2 0h1m14 0h1m10 0h2m5 0h1m5 0h1m5 0h1m6 0h1m12 0h1m7 0h1m5 0h1m5 0h1m8 0h2m10 0h1m7 0h1m3 0h1m6 0h2m9 0h1m4 0h1m3 0h1m4 0h2m5 0h1m4 0h1m5 0h5m3 0h1m20 0h2m5 0h1m3 0h1m5 0h1m5 0h1m10 0h2m19 0h1m21 0h1m2 0h1m11 0h1m9 0h3m4 0h2m1 0h1m12 0h1m18 0h1m11 0h1m19 0h2m12 0h1m19 0h1m1 0h1m3 0h2m1 0h1m23 0h2m3 0h1m14 0h1m10 0h3m27 0h1m2 0h1m12 0h1m24 0h1m3 0h1m27 0h2m7 0h1m8 0h1m3 0h1m23 0h1m8 0h1m8 0h1" stroke="#4c4c00"/>
<path d="M118 1292.4h3m2 0h1m8 0h2m5 0h1m5 0h1m4 0h1m9 0h1m2 0h2m19 0h2m17 0h1m4 0h1m7 0h1m6 0h1m8 0h1m2 0h2m10 0h1m8 0h1m28 0h1m8 0h1m2 0h2m3 0h1m1 0h1m16 0h1m6 0h1m6 0h1m2 0h2m11 0h1m11 0h1m2 0h1m10 0h1m49 0h1m5 0h3m1 0h1m7 0h3m9 0h2m14 0h2m8 0h3m7 0h1m1 0h2m12 0h1m84 0h1m2 0h1m14 0h2m34 0h2m24 0h1m31 0h3m1 0h2m18 0h1m47 0h1m40 0h1m11 0h1m4 0h1m4 0h1m10 0h1" stroke="#666600"/>
<path d="M109 1292.4h1m3 0h1m1 0h1m26 0h1m11 0h2m5 0h1m5 0h2m2 0h1m3 0h1m20 0h1m4 0h2m6 0h2m4 0h1m1 0h1m3 0h1m4 0h2m13 0h2m19 0h1m5 0h2m57 0h1m24 0h1m14 0h1m39 0h1m3 0h1m3 0h1m36 0h1m16 0h1m1 0h1m4 0h1m4 0h1m18 0h1m7 0h1m4 0h2m32 0h2m9 0h2m8 0h1m9 0h1m5 0h1m41 0h1m4 0h3m6 0h1m13 0h2m14 0h2m9 0h1m23 0h1m16 0h1m33 0h1m3 0h1m7 0h1m31 0h1m57 0h1" stroke="#808000"/>
<path d="M136 1292.4h1m9 0h2m3 0h1m7 0h1m9 0h1m7 0h2m10 0h2m23 0h1m4 0h1m24 0h3m1 0h1m8 0h2m4 0h2m19 0h1m26 0h1m20 0h1m3 0h1m12 0h2m11 0h1m11 0h1m37 0h2m5 0h1m18 0h1m2 0h1m14 0h1m29 0h1m12 0h1m4 0h1m6 0h1m12 0h1m48 0h1m19 0h1m100 0h1m32 0h1" stroke="#999900"/>
<path d="M110 1292.4h1m13 0h1m6 0h1m9 0h1m24 0h1m9 0h1m10 0h1m7 0h1m17 0h1m10 0h1m90 0h1m2 0h1m10 0h1m3 0h1m31 0h1m16 0h1m9 0h1m13 0h1m1 0h1m15 0h1m5 0h1m33 0h1m5 0h1m20 0h1m2 0h1m3 0h1m19 0h2m18 0h1m26 0h2m76 0h1m51 0h1" stroke="#b2b200"/>
<path d="M140 1292.4h1m33 0h1m25 0h1m109 0h1m30 0h1m13 0h1m16 0h1m13 0h2m5 0h1m16 0h1m6 0h1m10 0h1m32 0h2m29 0h1m160 0h1m35 0h2" stroke="#cccc00"/>
<path d="M148 1292.4h2m7 0h1m24 0h1m22 0h1m24 0h2m58 0h1m39 0h1m60 0h1m80 0h1m4 0h2m201 0h1" stroke="#e6e600"/>
<path d="M240 1292.4h1m182 0h1" stroke="#ffff00"/>
<path d="M650 1317.8h1m164 0h1" stroke="#992199"/>
<path d="M731 1317.8h1m121 0h1" stroke="#801c80"/>
<path d="M116 1317.8h2m3 0h2m17 0h1m11 0h1m16 0h1m7 0h2m27 0h1m25 0h1m5 0h2m7 0h1m11 0h2m2 0h1m17 0h2m8 0h2m25 0h1m13 0h3m3 0h2m1 0h1m36 0h1m66 0h1m4 0h2m84 0h1m4 0h1m8 0h1m20 0h1m2 0h1m3 0h1m1 0h1m6 0h2m1 0h2m4 0h1m8 0h1m3 0h1m6 0h1m9 0h1m3 0h1m6 0h1m2 0h1m4 0h1m1 0h3m8 0h1m2 0h1m4 0h2m9 0h2m3 0h1m14 0h2m3 0h1m10 0h1m8 0h1m4 0h3m16 0h2m5 0h1m7 0h1m1 0h1m1 0h2m7 0h1m3 0h1m1 0h1m1 0h1m4 0h2m3 0h2m8 0h2m4 0h1m2 0h1m9 0h1m10 0h3m5 0h1m8 0h3m3 0h2m8 0h2m6 0h1" stroke="#661666"/>
<path d="M376 1317.8h1m171 0h1m9 0h2m8 0h1m46 0h1m22 0h1m15 0h2m3 0h1m26 0h1m19 0h1m48 0h1m11 0h1m68 0h1" stroke="#4c104c"/>
<path d="M131 1317.8h1m317 0h1m94 0h2m27 0h1m34 0h1m34 0h1m20 0h2m4 0h3m3 0h1m30 0h2m33 0h2m4 0h1m42 0h1m3 0h1m24 0h1m17 0h1m9 0h1m15 0h1" stroke="#330b33"/>
<path d="M156 1317.8h1m80 0h1m69 0h1m18 0h1m45 0h1m39 0h2m1 0h1m1 0h1m64 0h1m55 0h1m1 0h1m5 0h2m8 0h2m23 0h1m7 0h1m2 0h1m11 0h1m14 0h1m16 0h1m7 0h1m11 0h2m17 0h1m12 0h3m3 0h1m14 0h1m5 0h2m16 0h1m4 0h1m37 0h1m20 0h1m6 0h1m7 0h1m4 0h3m37 0h1m1 0h2m14 0h1" stroke="#1a061a"/>
<path d="M111 1317.8h2m1 0h1m30 0h1m12 0h1m99 0h1m50 0h1m21 0h1m8 0h1m158 0h1m4 0h1m15 0h1m5 0h1m7 0h1m18 0h2m14 0h1m24 0h1m2 0h1m22 0h4m29 0h1m25 0h1m3 0h2m10 0h1m18 0h1m2 0h1m3 0h1m30 0h1m3 0h2m2 0h1m10 0h2m16 0h1m6 0h1m10 0h1m17 0h1m15 0h1m1 0h2m1 0h1m11 0h1m4 0h1m3 0h1" stroke="#000000"/>
<path d="M113 1317.8h1m11 0h1m13 0h1m34 0h3m24 0h1m5 0h1m32 0h1m30 0h1m42 0h1m1 0h2m1 0h1m7 0h1m7 0h1m8 0h2m1 0h1m14 0h1m2 0h2m27 0h1m7 0h2m36 0h1m5 0h2m8 0h1m12 0h1m7 0h1m8 0h1m8 0h1m17 0h1m28 0h1m8 0h1m8 0h2m20 0h1m3 0h1m8 0h1m7 0h1m3 0h1m4 0h2m10 0h2m1 0h1m3 0h2m1 0h1m4 0h1m1 0h2m17 0h1m7 0h2m4 0h1m5 0h1m29 0h2m6 0h2m12 0h1m4 0h1m6 0h1m4 0h3m2 0h1m4 0h1m9 0h2m2 0h1m5 0h1m18 0h2m10 0h1m2 0h2m7 0h2m5 0h2m4 0h1m1 0h1m31 0h1" stroke="#1a1a00"/>
<path d="M110 1317.8h1m23 0h2m7 0h2m3 0h3m3 0h2m1 0h1m13 0h2m8 0h1m13 0h1m8 0h1m40 0h2m3 0h2m21 0h1m13 0h2m5 0h1m2 0h4m1 0h1m3 0h1m5 0h1m7 0h2m14 0h1m19 0h1m18 0h1m1 0h1m3 0h2m18 0h1m8 0h1m5 0h1m8 0h2m16 0h1m19 0h1m11 0h1m5 0h1m15 0h1m25 0h1m28 0h1m9 0h1m1 0h1m2 0h1m25 0h1m20 0h1m47 0h2m17 0h1m19 0h1m3 0h1m6 0h1m10 0h2m9 0h3m8 0h1m12 0h1m9 0h1m8 0h1m6 0h1m16 0h1m7 0h1m21 0h1m13 0h1m22 0h1m1 0h1m1 0h1m1 0h1" stroke="#333300"/>
<path d="M118 1317.8h1m4 0h2m11 0h1m42 0h2m2 0h1m4 0h1m13 0h1m10 0h3m8 0h2m4 0h2m1 0h4m6 0h1m4 0h1m3 0h2m13 0h2m5 0h4m1 0h2m20 0h1m20 0h2m1 0h1m2 0h1m1 0h1m18 0h5m6 0h2m7 0h1m3 0h2m29 0h2m1 0h1m1 0h1m19 0h1m2 0h1m2 0h1m1 0h1m4 0h1m1 0h1m8 0h1m11 0h1m5 0h1m6 0h1m6 0h1m5 0h1m13 0h1m4 0h1m11 0h1m2 0h1m4 0h1m6 0h1m11 0h1m13 0h1m1 0h2m12 0h1m4 0h1m13 0h1m2 0h2m3 0h1m3 0h1m6 0h2m9 0h2m5 0h1m10 0h1m4 0h1m33 0h1m10 0h1m6 0h2m15 0h1m4 0h2m12 0h2m34 0h1m9 0h2m13 0h1m25 0h2m19 0h1m13 0h1" stroke="#4c4c00"/>
<path d="M129 1317.8h1m2 0h2m7 0h2m3 0h2m3 0h1m7 0h1m2 0h1m7 0h1m11 0h1m13 0h2m5 0h1m18 0h2m3 0h2m12 0h2m19 0h1m2 0h2m5 0h1m51 0h1m18 0h1m4 0h1m8 0h2m5 0h1m2 0h1m16 0h1m3 0h2m6 0h1m2 0h2m7 0h1m12 0h2m5 0h1m12 0h1m15 0h2m5 0h1m24 0h2m9 0h1m7 0h1m5 0h1m12 0h3m5 0h1m7 0h1m32 0h2m5 0h1m1 0h1m25 0h1m40 0h1m34 0h1m3 0h2m7 0h1m29 0h1m52 0h1m21 0h2m32 0h1m2 0h1m11 0h1m7 0h1" stroke="#666600"/>
<path d="M138 1317.8h1m21 0h2m3 0h1m1 0h2m17 0h1m4 0h2m16 0h2m6 0h3m1 0h1m27 0h1m6 0h1m7 0h1m13 0h1m11 0h1m12 0h1m1 0h1m7 0h1m1 0h1m26 0h1m3 0h1m8 0h1m12 0h1m10 0h2m11 0h2m12 0h1m4 0h1m6 0h2m4 0h1m2 0h1m2 0h2m4 0h1m11 0h1m5 0h2m14 0h1m3 0h1m4 0h2m2 0h2m3 0h1m3 0h1m1 0h1m1 0h1m4 0h1m1 0h1m11 0h3m37 0h1m14 0h1m4 0h1m23 0h2m92 0h1m5 0h1m41 0h1m20 0h1m1 0h1m16 0h1m42 0h1m27 0h1m18 0h1" stroke="#808000"/>
<path d="M115 1317.8h1m3 0h1m10 0h1m53 0h2m3 0h2m9 0h1m10 0h2m3 0h1m3 0h1m5 0h1m43 0h1m22 0h1m14 0h1m2 0h1m25 0h1m21 0h1m10 0h2m11 0h1m2 0h2m2 0h1m6 0h2m15 0h1m5 0h1m18 0h1m33 0h1m19 0h1m12 0h2m4 0h1m6 0h1m1 0h1m2 0h1m14 0h1m93 0h1m39 0h1m142 0h1" stroke="#999900"/>
<path d="M120 1317.8h1m7 0h1m8 0h1m15 0h1m9 0h2m1 0h1m6 0h1m13 0h1m10 0h2m5 0h1m2 0h1m45 0h2m13 0h1m16 0h1m8 0h2m7 0h1m58 0h1m21 0h1m37 0h1m9 0h2m3 0h1m27 0h3m3 0h1m14 0h1m14 0h1m8 0h1m6 0h1m53 0h1m217 0h1m37 0h1" stroke="#b2b200"/>
<path d="M126 1317.8h2m65 0h2m49 0h1m16 0h1m22 0h1m4 0h1m39 0h1m61 0h1m3 0h1m65 0h2m35 0h1" stroke="#cccc00"/>
<path d="M283 1317.8h1m168 0h1m6 0h2m15 0h1m32 0h1m284 0h1" stroke="#e6e600"/>
<path d="M109 1317.8h1m119 0h1m27 0h1m27 0h1m24 0h1m43 0h1" stroke="#ffff00"/>
<path d="M228 1343.3h1" stroke="#b226b2"/>
<path d="M321 1343.3h1" stroke="#992199"/>
<path d="M505 1343.3h1" stroke="#801c80"/>
<path d="M114 1343.3h1m3 0h1m1 0h1m8 0h2m8 0h1m12 0h1m9 0h1m13 0h1m3 0h2m7 0h2m6 0h1m6 0h1m12 0h1m4 0h3m2 0h1m13 0h2m1 0h1m12 0h1m2 0h3m2 0h2m1 0h1m25 0h1m12 0h3m15 0h1m1 0h1m1 0h1m34 0h1m8 0h1m6 0h1m13 0h1m4 0h3m2 0h1m10 0h1m5 0h1m6 0h1m2 0h1m5 0h1m6 0h1m21 0h2m6 0h2m12 0h1m5 0h1m3 0h1m3 0h1m1 0h1m5 0h2m7 0h2m2 0h1m29 0h2m16 0h1m4 0h2m1 0h1m5 0h1m3 0h1m6 0h2m3 0h3m10 0h1m4 0h1m5 0h2m12 0h2m13 0h2m11 0h1m19 0h1m3 0h2m21 0h1m6 0h1m9 0h1m6 0h1m15 0h1m8 0h1m1 0h1m9 0h1m9 0h2m13 0h1m10 0h2m8 0h1m7 0h1m19 0h2m6 0h1" stroke="#661666"/>
<path d="M126 1343.3h2m35 0h2m91 0h1m101 0h1m20 0h1m90 0h1m57 0h2" stroke="#4c104c"/>
<path d="M123 1343.3h1m21 0h1m8 0h2m42 0h1m104 0h1m20 0h1m30 0h1m39 0h1m22 0h2m38 0h1m4 0h1m7 0h1m28 0h1m11 0h1m12 0h1m26 0h1m5 0h2m73 0h1m7 0h2m7 0h1m64 0h2m41 0h1m3 0h1m11 0h1m38 0h1" stroke="#330b33"/>
<path d="M110 1343.3h3m3 0h2m14 0h2m27 0h1m7 0h1m67 0h1m9 0h1m19 0h1m1 0h1m7 0h1m5 0h1m18 0h1m12 0h1m44 0h2m22 0h1m31 0h1m24 0h1m35 0h1m52 0h1m50 0h1m49 0h2m28 0h1m6 0h1m48 0h1m2 0h1m21 0h2m29 0h1m9 0h2m19 0h1m19 0h1m7 0h2m18 0h1m16 0h1" stroke="#1a061a"/>
<path d="M113 1343.3h1m28 0h1m3 0h2m3 0h1m1 0h1m6 0h1m18 0h1m6 0h1m1 0h1m2 0h2m10 0h1m2 0h1m2 0h4m6 0h1m9 0h1m13 0h1m5 0h1m2 0h4m18 0h2m5 0h2m1 0h1m6 0h2m2 0h2m7 0h1m9 0h1m7 0h2m9 0h1m2 0h1m6 0h1m2 0h1m2 0h2m2 0h1m3 0h1m5 0h1m1 0h1m4 0h1m7 0h1m7 0h2m5 0h1m12 0h1m20 0h1m33 0h2m9 0h1m6 0h1m7 0h1m3 0h1m35 0h1m36 0h1m2 0h1m18 0h1m17 0h1m5 0h1m13 0h1m12 0h1m5 0h1m37 0h1m15 0h2m28 0h1m20 0h1m22 0h2m7 0h1m21 0h2m32 0h1m25 0h1" stroke="#000000"/>
<path d="M124 1343.3h2m2 0h1m5 0h3m4 0h1m14 0h3m6 0h2m4 0h1m23 0h1m11 0h1m6 0h1m3 0h1m1 0h1m4 0h1m7 0h1m4 0h2m10 0h2m7 0h1m4 0h1m5 0h4m4 0h2m17 0h2m2 0h1m14 0h2m2 0h1m9 0h1m6 0h1m2 0h1m3 0h2m5 0h1m19 0h1m9 0h1m6 0h2m1 0h2m3 0h1m6 0h1m1 0h1m1 0h2m36 0h3m4 0h1m32 0h2m21 0h1m4 0h1m1 0h2m5 0h1m3 0h1m10 0h1m4 0h1m1 0h2m1 0h1m20 0h1m5 0h1m8 0h1m7 0h1m2 0h1m20 0h2m30 0h1m21 0h1m5 0h2m30 0h2m32 0h1m7 0h1m2 0h1m15 0h1m49 0h1m3 0h1m18 0h1m31 0h1" stroke="#1a1a00"/>
<path d="M138 1343.3h1m31 0h1m3 0h1m12 0h1m12 0h2m13 0h1m5 0h1m26 0h1m27 0h1m12 0h1m15 0h1m7 0h1m12 0h1m15 0h1m9 0h1m1 0h1m13 0h2m2 0h1m1 0h1m2 0h1m5 0h1m14 0h1m3 0h1m22 0h2m2 0h1m9 0h1m8 0h1m7 0h2m10 0h1m30 0h1m9 0h1m11 0h1m2 0h1m11 0h1m2 0h2m8 0h1m1 0h1m17 0h1m5 0h1m2 0h1m1 0h1m39 0h1m7 0h1m15 0h1m17 0h2m16 0h1m14 0h1m14 0h2m1 0h1m9 0h2m1 0h1m30 0h1m11 0h1m7 0h1m4 0h1m11 0h1m2 0h1m17 0h1m35 0h1m2 0h1m3 0h1m4 0h1m2 0h1" stroke="#333300"/>
<path d="M143 1343.3h2m5 0h1m8 0h1m17 0h2m3 0h1m16 0h1m2 0h1m13 0h1m13 0h2m3 0h2m3 0h1m39 0h1m5 0h3m4 0h1m5 0h2m9 0h1m8 0h1m8 0h1m12 0h1m5 0h1m8 0h1m18 0h1m35 0h1m5 0h1m2 0h1m2 0h1m8 0h1m5 0h1m14 0h1m15 0h1m10 0h2m2 0h1m18 0h1m3 0h1m33 0h1m8 0h1m21 0h2m10 0h1m20 0h2m16 0h1m10 0h1m1 0h1m33 0h2m5 0h2m7 0h1m15 0h1m2 0h2m22 0h2m2 0h1m19 0h1m25 0h1m9 0h2m4 0h1m5 0h1m7 0h2m6 0h1m1 0h2m5 0h3m1 0h2m7 0h1m6 0h3m4 0h1m11 0h1m6 0h1m2 0h1" stroke="#4c4c00"/>
<path d="M109 1343.3h1m5 0h1m15 0h1m41 0h1m1 0h1m17 0h2m1 0h1m16 0h1m18 0h1m1 0h1m10 0h2m16 0h1m48 0h1m19 0h1m1 0h1m3 0h2m22 0h1m3 0h2m22 0h1m21 0h3m15 0h1m5 0h1m3 0h1m23 0h1m8 0h1m9 0h1m5 0h2m1 0h2m52 0h1m1 0h1m33 0h1m24 0h1m4 0h2m7 0h2m7 0h1m21 0h1m3 0h2m21 0h1m3 0h2m3 0h1m10 0h3m1 0h2m4 0h1m8 0h2m5 0h1m6 0h1m11 0h1m1 0h2m2 0h2m4 0h1m10 0h1m23 0h1m15 0h1m26 0h1m2 0h1m2 0h1m29 0h1" stroke="#666600"/>
<path d="M119 1343.3h1m20 0h1m7 0h2m58 0h1m76 0h1m4 0h1m15 0h1m24 0h1m27 0h1m25 0h1m24 0h1m11 0h1m12 0h1m7 0h1m5 0h3m2 0h2m39 0h2m9 0h1m7 0h1m2 0h1m37 0h1m6 0h2m1 0h2m3 0h1m21 0h1m18 0h1m15 0h1m17 0h1m5 0h1m7 0h2m3 0h2m6 0h2m8 0h1m6 0h2m2 0h1m2 0h1m25 0h1m5 0h1m5 0h1m4 0h2m4 0h1m20 0h1m3 0h1m10 0h1m16 0h2m16 0h1m8 0h1m9 0h1m6 0h1m18 0h1m2 0h1m2 0h1m3 0h1" stroke="#808000"/>
<path d="M167 1343.3h2m3 0h1m10 0h3m19 0h1m52 0h1m59 0h1m16 0h1m40 0h1m20 0h1m26 0h1m40 0h1m16 0h1m14 0h1m3 0h1m32 0h1m3 0h1m4 0h1m46 0h1m4 0h1m3 0h2m7 0h2m7 0h2m10 0h1m16 0h1m88 0h2m22 0h1m1 0h1m25 0h1m4 0h2m2 0h1m8 0h2m16 0h1m21 0h1m9 0h2" stroke="#999900"/>
<path d="M121 1343.3h2m14 0h1m88 0h1m84 0h1m36 0h1m33 0h1m50 0h2m7 0h1m35 0h1m56 0h1m20 0h2m2 0h2m31 0h1m4 0h1m36 0h1m2 0h1m9 0h2m8 0h1m7 0h1m7 0h1m10 0h1m8 0h1m60 0h1m4 0h1m3 0h1m13 0h1m9 0h1m25 0h1m28 0h2m14 0h2m13 0h1" stroke="#b2b200"/>
<path d="M459 1343.3h2m15 0h1m110 0h2m64 0h1m154 0h1m59 0h1" stroke="#cccc00"/>
<path d="M409 1343.3h1m108 0h1m193 0h1m63 0h1m61 0h1" stroke="#e6e600"/>
<path d="M737 1343.3h1" stroke="#ffff00"/>
<path d="M316 1368.7h2" stroke="#b226b2"/>
<path d="M808 1368.7h1" stroke="#992199"/>
<path d="M432 1368.7h1" stroke="#801c80"/>
<path d="M541 1368.7h1" stroke="#661666"/>
<path d="M109 1368.7h2m2 0h7m1 0h30m1 0h2m2 0h2m1 0h3m1 0h6m1 0h1m2 0h15m1 0h6m1 0h1m1 0h4m1 0h3m1 0h47m2 0h24m1 0h3m1 0h16m1 0h7m1 0h6m2 0h10m1 0h8m1 0h2m1 0h1m1 0h4m2 0h8m1 0h28m2 0h3m1 0h13m1 0h8m1 0h6m2 0h9m1 0h2m1 0h5m1 0h7m1 0h15m1 0h16m1 0h5m2 0h38m2 0h1m3 0h7m1 0h7m1 0h20m2 0h3m1 0h4m1 0h4m1 0h5m1 0h4m1 0h14m1 0h9m3 0h5m1 0h1m2 0h27m2 0h4m1 0h10m2 0h1m1 0h4m1 0h11m2 0h3m1 0h18m2 0h8m1 0h17m1 0h3m1 0h4m2 0h4m1 0h1m1 0h6m1 0h17m1 0h3m1 0h2m2 0h8m1 0h3m1 0h1m1 0h13m1 0h45m1 0h1" stroke="#4c104c"/>
<path d="M151 1368.7h1m17 0h1m18 0h1m65 0h2m86 0h1m5 0h1m37 0h2m3 0h1m29 0h2m200 0h1m53 0h2m1 0h1m110 0h1" stroke="#330b33"/>
<path d="M172 1368.7h1m398 0h1m159 0h1m21 0h1m58 0h1" stroke="#1a061a"/>
<path d="M158 1368.7h1m12 0h1m23 0h1m105 0h1m112 0h1m165 0h1m79 0h2m4 0h1m30 0h2m23 0h1" stroke="#000000"/>
<path d="M154 1368.7h2m46 0h1m3 0h1m73 0h1m3 0h1m52 0h1m9 0h1m93 0h1m7 0h1m32 0h1m6 0h1m59 0h1m46 0h1m24 0h2m8 0h2m69 0h1m55 0h1m5 0h1m109 0h1" stroke="#1a1a00"/>
<path d="M357 1368.7h1m77 0h1m52 0h1m81 0h1m14 0h1m25 0h1m73 0h1m35 0h1m44 0h1m28 0h1m18 0h1" stroke="#333300"/>
<path d="M120 1368.7h1m41 0h1m34 0h1m111 0h1m18 0h1m199 0h2m45 0h1m53 0h1m143 0h1" stroke="#4c4c00"/>
<path d="M340 1368.7h1m250 0h1m167 0h1" stroke="#666600"/>
<path d="M405 1368.7h1m343 0h1m48 0h2" stroke="#808000"/>
<path d="M111 1368.7h2m352 0h1" stroke="#999900"/>
<path d="M828 1368.7h1" stroke="#cccc00"/>
<path d="M596 1394.2h1" stroke="#b226b2"/>
<path d="M633 1394.2h1m91 0h1m50 0h1m59 0h1" stroke="#992199"/>
<path d="M316 1394.2h2m305 0h1" stroke="#801c80"/>
<path d="M131 1394.2h1m7 0h1m37 0h2m39 0h1m1 0h1m14 0h2m3 0h1m24 0h1m10 0h1m2 0h1m51 0h1m19 0h2m2 0h1m40 0h1m28 0h2m12 0h1m2 0h1m33 0h1m22 0h1m1 0h1m28 0h1m12 0h1m4 0h1m2 0h1m11 0h1m9 0h1m9 0h1m14 0h1m8 0h1m13 0h2m3 0h1m13 0h3m4 0h1m4 0h2m2 0h2m6 0h2m4 0h2m2 0h2m7 0h2m17 0h1m2 0h1m3 0h1m3 0h2m7 0h3m21 0h2m2 0h2m6 0h1m8 0h1m6 0h1m5 0h1m1 0h1m2 0h2m7 0h1m5 0h1m9 0h2m3 0h4m7 0h2m9 0h1m9 0h2m5 0h1m2 0h1m7 0h1m1 0h1m1 0h1m3 0h1" stroke="#661666"/>
<path d="M579 1394.2h1m1 0h2m6 0h1m136 0h1m37 0h1m16 0h1m5 0h1m26 0h1m25 0h1m21 0h1" stroke="#4c104c"/>
<path d="M234 1394.2h1m71 0h1m17 0h1m67 0h1m75 0h1m93 0h1m17 0h1m29 0h1m1 0h2m13 0h1m7 0h1m44 0h1m4 0h1m17 0h2m1 0h1m8 0h2m4 0h1m16 0h1m9 0h1m35 0h1m12 0h1m74 0h1m1 0h1" stroke="#330b33"/>
<path d="M198 1394.2h1m2 0h1m51 0h1m8 0h1m119 0h1m8 0h1m11 0h1m2 0h1m130 0h1m14 0h1m15 0h1m7 0h2m7 0h1m6 0h1m4 0h1m18 0h1m59 0h1m4 0h1m9 0h2m3 0h1m21 0h2m7 0h1m9 0h1m3 0h1m3 0h1m7 0h2m5 0h1m14 0h1m3 0h1m12 0h2m2 0h1m10 0h1m5 0h1m7 0h2m12 0h1m19 0h2m6 0h1m4 0h1m6 0h1" stroke="#1a061a"/>
<path d="M151 1394.2h1m11 0h2m9 0h1m4 0h1m33 0h1m10 0h1m42 0h1m27 0h2m30 0h1m32 0h2m22 0h1m9 0h2m9 0h1m9 0h1m17 0h2m9 0h1m49 0h1m8 0h1m45 0h1m3 0h2m9 0h1m5 0h2m6 0h1m8 0h2m2 0h1m14 0h1m17 0h2m12 0h1m7 0h1m1 0h3m18 0h1m18 0h1m8 0h2m2 0h1m30 0h1m9 0h2m18 0h1m10 0h1m35 0h1m9 0h1m22 0h4m3 0h3m9 0h1" stroke="#000000"/>
<path d="M124 1394.2h1m3 0h1m17 0h2m12 0h1m11 0h1m15 0h1m10 0h2m7 0h1m12 0h1m4 0h1m2 0h1m67 0h2m13 0h1m12 0h1m22 0h1m17 0h1m21 0h2m12 0h1m4 0h1m4 0h2m2 0h1m4 0h1m19 0h1m31 0h1m4 0h1m7 0h1m2 0h1m5 0h1m1 0h2m8 0h1m7 0h2m1 0h1m9 0h2m6 0h1m1 0h2m6 0h2m17 0h2m2 0h1m2 0h1m1 0h2m18 0h1m4 0h4m8 0h1m3 0h1m14 0h1m8 0h1m4 0h1m6 0h1m2 0h2m12 0h1m10 0h1m6 0h2m12 0h1m11 0h1m7 0h1m45 0h1m11 0h1m10 0h3m3 0h1m12 0h1m14 0h1m6 0h1m8 0h1m6 0h1" stroke="#1a1a00"/>
<path d="M120 1394.2h1m13 0h2m2 0h1m14 0h1m8 0h1m2 0h2m3 0h1m4 0h1m26 0h1m2 0h1m27 0h1m27 0h1m10 0h1m4 0h1m12 0h1m3 0h1m7 0h1m25 0h1m11 0h1m21 0h1m5 0h1m7 0h1m9 0h2m2 0h1m59 0h2m11 0h1m8 0h1m6 0h1m22 0h1m6 0h1m11 0h1m12 0h2m5 0h1m44 0h1m8 0h1m8 0h1m14 0h1m8 0h1m2 0h2m10 0h1m14 0h1m23 0h1m27 0h2m16 0h1m4 0h1m21 0h1m7 0h1m1 0h1m2 0h2m13 0h1m14 0h2m2 0h2m1 0h2m22 0h1m8 0h1m13 0h2m5 0h2m3 0h1" stroke="#333300"/>
<path d="M110 1394.2h1m5 0h2m7 0h1m4 0h1m14 0h1m23 0h1m1 0h1m1 0h1m6 0h1m3 0h2m3 0h2m16 0h1m1 0h2m12 0h1m3 0h1m19 0h1m15 0h1m29 0h1m14 0h1m13 0h2m22 0h1m11 0h1m12 0h2m4 0h1m7 0h1m7 0h1m5 0h2m3 0h1m44 0h1m3 0h1m3 0h1m22 0h3m5 0h1m1 0h1m5 0h1m3 0h1m3 0h1m5 0h1m2 0h1m26 0h1m79 0h1m13 0h1m2 0h1m7 0h1m14 0h4m13 0h2m14 0h1m5 0h1m7 0h2m8 0h1m11 0h1m4 0h3m22 0h1m17 0h1m26 0h1m20 0h1m40 0h1m3 0h1" stroke="#4c4c00"/>
<path d="M111 1394.2h2m1 0h1m6 0h2m20 0h2m9 0h2m27 0h1m32 0h1m21 0h2m1 0h2m2 0h2m1 0h1m11 0h1m5 0h1m4 0h1m12 0h2m1 0h3m15 0h1m1 0h1m1 0h1m3 0h1m5 0h1m9 0h1m26 0h2m12 0h1m2 0h1m6 0h1m2 0h1m14 0h1m2 0h1m6 0h1m8 0h1m5 0h1m8 0h1m4 0h1m5 0h1m1 0h3m8 0h1m4 0h2m1 0h1m6 0h1m5 0h1m5 0h3m20 0h1m13 0h1m4 0h2m15 0h1m7 0h1m9 0h2m22 0h1m5 0h1m23 0h1m21 0h1m22 0h1m12 0h1m16 0h2m4 0h1m35 0h1m7 0h2m8 0h1m2 0h1m4 0h1m3 0h1m9 0h2m28 0h1m10 0h1m7 0h1m3 0h1m3 0h1m2 0h3m7 0h1m29 0h1" stroke="#666600"/>
<path d="M115 1394.2h1m7 0h1m12 0h1m4 0h1m10 0h1m5 0h1m23 0h1m3 0h2m3 0h2m2 0h2m9 0h1m7 0h2m3 0h1m10 0h2m5 0h1m6 0h1m4 0h3m5 0h3m9 0h1m21 0h2m18 0h1m3 0h1m10 0h1m3 0h1m1 0h1m3 0h1m16 0h2m4 0h1m3 0h1m1 0h1m15 0h1m32 0h1m5 0h1m1 0h1m6 0h1m10 0h1m17 0h1m49 0h1m13 0h1m4 0h1m16 0h2m10 0h4m33 0h1m9 0h1m1 0h1m3 0h1m134 0h1m11 0h1m77 0h1" stroke="#808000"/>
<path d="M113 1394.2h1m4 0h1m10 0h1m7 0h1m2 0h1m1 0h1m5 0h2m6 0h1m10 0h2m56 0h1m17 0h1m8 0h1m1 0h3m7 0h1m5 0h1m3 0h2m5 0h3m15 0h3m2 0h1m15 0h2m12 0h1m3 0h2m2 0h2m5 0h2m13 0h1m2 0h1m6 0h2m2 0h2m30 0h1m7 0h2m10 0h2m3 0h2m17 0h2m3 0h2m13 0h2m15 0h1m1 0h1m17 0h1m2 0h1m4 0h1m4 0h1m30 0h1m11 0h1m40 0h1m57 0h2m26 0h1m35 0h1m39 0h1m17 0h1" stroke="#999900"/>
<path d="M119 1394.2h1m6 0h2m22 0h1m8 0h1m1 0h1m19 0h1m21 0h1m7 0h2m4 0h1m4 0h1m9 0h1m35 0h1m17 0h1m16 0h1m6 0h1m7 0h1m16 0h1m88 0h1m2 0h2m19 0h1m3 0h1m34 0h1m24 0h1m10 0h1m93 0h2m10 0h1m43 0h1m184 0h1" stroke="#b2b200"/>
<path d="M109 1394.2h1m83 0h2m9 0h1m23 0h1m44 0h1m4 0h1m35 0h1m22 0h1m6 0h2m1 0h1m21 0h1m41 0h1m54 0h2m1 0h1m35 0h1" stroke="#cccc00"/>
<path d="M132 1394.2h2m23 0h1m122 0h1m52 0h1m7 0h1m96 0h1m31 0h1m21 0h1" stroke="#e6e600"/>
<path d="M176 1394.2h1m20 0h1m199 0h1m11 0h1m55 0h1m51 0h1" stroke="#ffff00"/>
<path d="M335 1419.6h1" stroke="#992199"/>
<path d="M211 1419.6h2m64 0h1m537 0h1m51 0h1" stroke="#801c80"/>
<path d="M145 1419.6h1m6 0h1m51 0h1m42 0h1m17 0h1m55 0h1m58 0h1m31 0h2m54 0h1m23 0h1m5 0h1m7 0h1m21 0h2m20 0h1m108 0h1m29 0h2m61 0h1m14 0h1m17 0h2m18 0h2m17 0h1" stroke="#661666"/>
<path d="M110 1419.6h3m3 0h2m1 0h2m4 0h4m1 0h13m3 0h2m3 0h1m4 0h1m1 0h7m1 0h5m2 0h8m2 0h3m1 0h2m6 0h3m1 0h1m1 0h3m2 0h1m2 0h2m2 0h1m4 0h4m2 0h2m2 0h5m1 0h1m2 0h1m6 0h1m3 0h4m1 0h1m2 0h1m1 0h2m1 0h3m3 0h1m2 0h2m1 0h3m2 0h1m1 0h1m3 0h3m6 0h1m5 0h4m1 0h4m2 0h3m1 0h5m3 0h2m1 0h1m6 0h1m3 0h2m3 0h2m5 0h4m2 0h1m1 0h6m3 0h1m2 0h1m1 0h1m1 0h1m1 0h2m2 0h2m1 0h2m1 0h6m2 0h1m3 0h7m4 0h2m2 0h1m3 0h5m1 0h2m1 0h3m1 0h1m1 0h3m2 0h2m4 0h3m5 0h3m1 0h1m2 0h3m2 0h2m6 0h1m1 0h3m1 0h2m1 0h1m1 0h1m3 0h3m1 0h3m3 0h1m2 0h1m2 0h5m2 0h1m1 0h4m1 0h4m1 0h3m2 0h1m1 0h1m3 0h1m4 0h1m3 0h2m3 0h2m2 0h2m1 0h4m1 0h2m6 0h1m2 0h1m2 0h1m4 0h3m1 0h1m10 0h2m2 0h2m1 0h1m3 0h2m2 0h1m1 0h1m4 0h3m2 0h2m4 0h1m3 0h1m9 0h1m3 0h2m2 0h1m14 0h4m5 0h1m3 0h1m3 0h2m4 0h3m2 0h1m8 0h3m3 0h2m2 0h5m6 0h2m3 0h2m1 0h1m3 0h2m2 0h1m2 0h1m3 0h5m4 0h2m1 0h1m8 0h1m1 0h1m6 0h4m5 0h1m2 0h1m8 0h3m5 0h5m3 0h2m3 0h2m1 0h4m3 0h1m2 0h3m7 0h2m7 0h1m1 0h1m1 0h3m1 0h1m1 0h2m6 0h1m2 0h1m5 0h1" stroke="#4c104c"/>
<path d="M113 1419.6h1m109 0h1m110 0h1m69 0h1m1 0h1m26 0h2m5 0h1m13 0h2m62 0h1m3 0h1m35 0h2m2 0h1m15 0h1m3 0h1m6 0h1m66 0h1m18 0h1m44 0h1m4 0h1m3 0h1m9 0h2m22 0h1m13 0h1m1 0h1m31 0h1m29 0h1m15 0h1" stroke="#330b33"/>
<path d="M114 1419.6h1m3 0h1m10 0h1m42 0h1m53 0h1m8 0h2m42 0h1m9 0h1m1 0h2m10 0h1m16 0h1m55 0h1m14 0h1m18 0h1m18 0h1m35 0h3m31 0h1m38 0h1m4 0h1m29 0h1m12 0h1m5 0h1m3 0h1m2 0h2m3 0h1m1 0h1m18 0h1m12 0h1m15 0h2m12 0h1m1 0h2m2 0h1m5 0h1m19 0h1m4 0h2m31 0h1m15 0h1m3 0h1m9 0h1m1 0h1m4 0h1m8 0h1m13 0h2m29 0h1m16 0h1" stroke="#1a061a"/>
<path d="M124 1419.6h1m29 0h2m66 0h1m18 0h3m13 0h1m14 0h1m3 0h1m6 0h1m25 0h1m20 0h1m24 0h1m27 0h1m9 0h1m20 0h1m8 0h1m13 0h1m10 0h1m15 0h1m22 0h1m35 0h1m13 0h1m3 0h2m37 0h1m2 0h3m1 0h2m4 0h1m4 0h1m21 0h1m27 0h2m3 0h1m18 0h1m28 0h1m10 0h1m8 0h1m13 0h2m9 0h3m6 0h1m1 0h1m2 0h1m4 0h1m46 0h1m19 0h2m6 0h1m2 0h2m7 0h1m6 0h3m2 0h2m8 0h1" stroke="#000000"/>
<path d="M109 1419.6h1m5 0h1m34 0h1m2 0h1m37 0h2m7 0h1m7 0h1m8 0h1m9 0h1m36 0h1m4 0h1m43 0h1m12 0h1m6 0h1m19 0h1m49 0h1m23 0h1m17 0h1m13 0h2m18 0h1m1 0h1m1 0h1m9 0h1m1 0h1m29 0h1m10 0h1m10 0h1m15 0h1m8 0h1m1 0h1m6 0h1m46 0h1m4 0h1m1 0h2m2 0h2m5 0h1m10 0h1m6 0h2m10 0h1m14 0h2m1 0h2m37 0h1m32 0h1m21 0h1m7 0h1m28 0h1m4 0h1m23 0h1m7 0h1m8 0h1" stroke="#1a1a00"/>
<path d="M123 1419.6h1m62 0h1m2 0h2m7 0h1m6 0h1m1 0h1m7 0h1m29 0h2m34 0h2m4 0h2m1 0h1m17 0h1m20 0h1m8 0h2m3 0h3m18 0h1m1 0h2m9 0h1m16 0h1m25 0h1m42 0h1m13 0h1m13 0h1m42 0h1m11 0h1m18 0h2m4 0h1m31 0h1m11 0h2m2 0h1m4 0h1m5 0h1m27 0h1m7 0h1m12 0h1m6 0h2m8 0h1m5 0h1m11 0h1m34 0h1m28 0h1m12 0h1m3 0h1m1 0h1m9 0h1m14 0h1m8 0h1m7 0h1m2 0h1m5 0h1m9 0h1m11 0h1m2 0h1" stroke="#333300"/>
<path d="M121 1419.6h2m20 0h2m12 0h1m23 0h2m55 0h2m12 0h1m7 0h1m5 0h1m57 0h1m2 0h1m3 0h1m14 0h2m4 0h1m18 0h1m33 0h1m3 0h1m28 0h2m4 0h1m1 0h2m4 0h1m21 0h1m21 0h1m11 0h1m18 0h1m32 0h2m6 0h2m39 0h1m1 0h1m9 0h2m6 0h1m4 0h1m9 0h1m5 0h1m1 0h1m64 0h1m9 0h2m40 0h1m6 0h1m4 0h1m7 0h2m19 0h1m9 0h2m13 0h1m2 0h1m36 0h1" stroke="#4c4c00"/>
<path d="M171 1419.6h1m68 0h1m27 0h1m25 0h3m31 0h1m33 0h1m6 0h1m3 0h1m16 0h1m4 0h1m117 0h1m94 0h1m1 0h1m15 0h1m16 0h1m3 0h1m3 0h1m15 0h1m25 0h1m19 0h1m18 0h1m23 0h1m4 0h1m25 0h1m46 0h1m33 0h1" stroke="#666600"/>
<path d="M165 1419.6h1m27 0h2m19 0h1m1 0h1m37 0h2m41 0h2m20 0h1m162 0h1m148 0h2m48 0h2m39 0h1m36 0h1m22 0h1m86 0h1" stroke="#808000"/>
<path d="M148 1419.6h2m355 0h1m49 0h1m159 0h2" stroke="#999900"/>
<path d="M363 1419.6h1" stroke="#b2b200"/>
<path d="M340 1419.6h1m129 0h1" stroke="#e6e600"/>
<path d="M233 1419.6h1" stroke="#ffff00"/>
<path d="M367 1445.1h1" stroke="#801c80"/>
<path d="M156 1445.1h1m15 0h1m113 0h1m16 0h1m29 0h1m114 0h1m49 0h1m5 0h1m228 0h1" stroke="#661666"/>
<path d="M109 1445.1h2m4 0h3m1 0h7m2 0h1m3 0h2m2 0h1m1 0h2m1 0h1m1 0h3m4 0h1m1 0h2m3 0h1m2 0h5m1 0h1m4 0h1m5 0h9m3 0h2m2 0h3m10 0h1m1 0h1m4 0h1m4 0h3m1 0h1m1 0h2m1 0h1m1 0h3m5 0h1m2 0h1m3 0h1m2 0h1m1 0h1m2 0h1m4 0h2m1 0h4m2 0h1m1 0h2m2 0h6m2 0h3m7 0h1m3 0h1m2 0h2m6 0h1m2 0h2m2 0h1m2 0h1m9 0h3m2 0h2m8 0h1m2 0h1m3 0h2m3 0h2m2 0h1m1 0h6m1 0h2m2 0h1m3 0h2m1 0h1m3 0h1m1 0h3m3 0h6m2 0h2m1 0h5m1 0h3m1 0h1m1 0h4m3 0h2m3 0h2m3 0h1m3 0h1m2 0h2m1 0h4m4 0h2m2 0h4m7 0h2m1 0h1m1 0h4m2 0h1m6 0h1m4 0h2m1 0h1m1 0h1m1 0h4m7 0h2m1 0h1m1 0h1m1 0h3m7 0h2m1 0h1m3 0h5m4 0h1m31 0h1m2 0h1m9 0h1m23 0h1m5 0h1m4 0h1m5 0h2m7 0h1m27 0h1m7 0h1m9 0h1m23 0h1m33 0h1m2 0h1m6 0h1m4 0h1m11 0h1m4 0h4m4 0h1m9 0h4m9 0h4m7 0h1m28 0h1m5 0h2m12 0h1m1 0h2m10 0h1" stroke="#4c104c"/>
<path d="M188 1445.1h1m157 0h1m47 0h1m88 0h1m6 0h1m178 0h1m50 0h1" stroke="#330b33"/>
<path d="M151 1445.1h1m34 0h1m48 0h2m27 0h1m89 0h1m9 0h1m21 0h2m22 0h1m10 0h1m22 0h1m28 0h2m11 0h1m30 0h1m134 0h1m166 0h1m14 0h1" stroke="#1a061a"/>
<path d="M137 1445.1h1m90 0h1m14 0h1m9 0h3m15 0h1m6 0h1m8 0h2m31 0h1m15 0h2m11 0h2m4 0h1m59 0h1m15 0h1m1 0h2m22 0h1m42 0h1m33 0h1m72 0h1m17 0h1m55 0h1m3 0h1m1 0h1m60 0h1" stroke="#000000"/>
<path d="M114 1445.1h1m15 0h2m8 0h1m50 0h2m11 0h2m10 0h1m6 0h1m10 0h1m3 0h2m1 0h2m5 0h1m10 0h1m23 0h1m5 0h1m11 0h1m2 0h1m5 0h1m3 0h1m1 0h2m3 0h1m16 0h2m11 0h1m20 0h1m2 0h1m44 0h1m8 0h1m7 0h1m39 0h1m2 0h1m1 0h1m38 0h1m3 0h1m39 0h2m25 0h1m2 0h2m9 0h1m26 0h1m9 0h1m2 0h1m3 0h1m42 0h1m3 0h2m10 0h1m55 0h1m24 0h1m18 0h1m8 0h1m29 0h1" stroke="#1a1a00"/>
<path d="M111 1445.1h3m4 0h1m23 0h1m53 0h1m4 0h1m13 0h1m5 0h1m10 0h1m12 0h2m32 0h1m4 0h2m9 0h2m5 0h1m4 0h1m5 0h1m15 0h1m4 0h1m6 0h1m15 0h1m10 0h1m2 0h1m26 0h1m9 0h1m7 0h1m10 0h1m2 0h1m14 0h1m17 0h1m14 0h1m16 0h1m1 0h1m44 0h1m10 0h3m8 0h1m13 0h1m2 0h1m3 0h1m26 0h3m14 0h1m17 0h1m3 0h1m2 0h2m17 0h1m3 0h2m3 0h1m11 0h1m17 0h2m32 0h2m33 0h1m10 0h2m8 0h2m1 0h2m4 0h1m4 0h2m13 0h1m17 0h3m13 0h1" stroke="#333300"/>
<path d="M154 1445.1h2m2 0h1m8 0h2m5 0h1m1 0h1m25 0h1m11 0h1m52 0h1m2 0h1m40 0h1m6 0h1m3 0h2m8 0h1m2 0h1m6 0h1m82 0h2m27 0h2m14 0h1m41 0h1m10 0h1m14 0h2m6 0h1m5 0h1m7 0h4m15 0h1m4 0h1m2 0h2m4 0h1m5 0h2m27 0h1m2 0h2m24 0h1m3 0h1m5 0h2m11 0h1m7 0h1m7 0h1m9 0h3m20 0h1m8 0h1m6 0h1m4 0h3m4 0h1m19 0h1m18 0h1m7 0h1m17 0h4m2 0h1m7 0h1m5 0h1m2 0h1" stroke="#4c4c00"/>
<path d="M159 1445.1h1m27 0h1m9 0h3m7 0h1m1 0h2m22 0h1m59 0h1m5 0h2m94 0h1m8 0h1m17 0h1m26 0h1m25 0h1m37 0h2m26 0h1m14 0h2m14 0h3m7 0h2m5 0h1m4 0h1m3 0h1m2 0h3m20 0h1m12 0h2m25 0h2m6 0h1m30 0h2m5 0h2m5 0h1m4 0h1m8 0h1m7 0h2m14 0h1m2 0h3m9 0h1m9 0h1m1 0h2m5 0h1m1 0h1m2 0h2m16 0h1m19 0h2m4 0h1m1 0h1m28 0h1m2 0h1m2 0h1" stroke="#666600"/>
<path d="M129 1445.1h1m4 0h2m10 0h4m15 0h1m4 0h1m29 0h1m2 0h1m13 0h1m8 0h1m23 0h2m4 0h1m8 0h1m53 0h1m8 0h1m48 0h1m3 0h1m3 0h1m31 0h1m24 0h1m13 0h1m1 0h1m6 0h1m5 0h1m4 0h1m11 0h1m12 0h1m4 0h1m17 0h1m18 0h3m29 0h1m10 0h1m18 0h1m2 0h1m7 0h1m3 0h1m14 0h2m4 0h2m2 0h1m7 0h1m16 0h2m23 0h1m5 0h1m3 0h1m9 0h2m4 0h1m6 0h1m1 0h1m1 0h1m8 0h1m12 0h1m16 0h2m15 0h1m12 0h1m8 0h1m2 0h1m7 0h1m7 0h1m5 0h1m34 0h1m2 0h1" stroke="#808000"/>
<path d="M126 1445.1h2m41 0h1m174 0h2m32 0h1m64 0h1m107 0h1m16 0h2m1 0h1m4 0h2m41 0h1m3 0h1m2 0h1m32 0h1m29 0h2m27 0h2m7 0h1m7 0h2m36 0h1m1 0h1m2 0h2m35 0h1m4 0h1m5 0h2m18 0h1m8 0h2m6 0h1m2 0h1m7 0h1" stroke="#999900"/>
<path d="M173 1445.1h1m37 0h2m93 0h1m17 0h1m45 0h1m8 0h1m101 0h1m14 0h1m2 0h1m18 0h1m28 0h4m46 0h1m11 0h1m1 0h1m28 0h1m15 0h1m5 0h2m10 0h1m8 0h2m1 0h1m36 0h2m31 0h1m6 0h1m12 0h1m30 0h1m22 0h1m8 0h1m13 0h1m8 0h1m1 0h1" stroke="#b2b200"/>
<path d="M459 1445.1h2m47 0h1m6 0h2m19 0h1m3 0h1m49 0h2m42 0h1m4 0h1m4 0h1m3 0h2m10 0h1m14 0h1m3 0h1m22 0h1m22 0h2m26 0h1m8 0h1m51 0h1m26 0h1m12 0h1m12 0h2" stroke="#cccc00"/>
<path d="M291 1445.1h2m244 0h1m20 0h2m57 0h2m8 0h1m63 0h2m21 0h1m27 0h2m20 0h1m82 0h1m4 0h1m5 0h1" stroke="#e6e600"/>
<path d="M175 1445.1h1m523 0h1m161 0h1" stroke="#ffff00"/>
<path d="M596 1470.5h1m8 0h1m4 0h1" stroke="#b226b2"/>
<path d="M824 1470.5h1" stroke="#992199"/>
<path d="M221 1470.5h1m193 0h1m9 0h2m128 0h1m51 0h1m9 0h2m12 0h2m141 0h1m16 0h1m55 0h1" stroke="#801c80"/>
<path d="M196 1470.5h1m41 0h2m114 0h1m7 0h1m41 0h1m2 0h1m77 0h1m65 0h1m6 0h2m18 0h1m16 0h1m24 0h1m18 0h1m34 0h1m20 0h1m21 0h1m38 0h1m27 0h1m35 0h2m12 0h1m1 0h1m11 0h1" stroke="#661666"/>
<path d="M109 1470.5h5m1 0h6m4 0h1m2 0h1m1 0h2m2 0h3m1 0h1m3 0h6m4 0h2m3 0h1m1 0h6m1 0h7m6 0h1m1 0h7m3 0h2m2 0h1m1 0h3m1 0h2m1 0h1m1 0h2m1 0h5m3 0h4m1 0h1m1 0h4m2 0h5m2 0h1m2 0h3m6 0h4m1 0h2m1 0h4m1 0h2m1 0h3m1 0h2m1 0h1m1 0h2m1 0h9m1 0h2m1 0h5m2 0h2m2 0h2m3 0h1m1 0h5m2 0h3m1 0h1m2 0h5m1 0h1m2 0h4m1 0h1m5 0h2m2 0h2m1 0h2m1 0h2m3 0h5m1 0h1m1 0h3m3 0h2m1 0h3m1 0h7m1 0h4m1 0h1m1 0h2m1 0h3m2 0h3m1 0h2m1 0h4m2 0h1m2 0h1m3 0h4m2 0h1m1 0h3m1 0h3m3 0h1m1 0h5m4 0h2m7 0h5m2 0h2m6 0h2m2 0h5m1 0h1m1 0h1m2 0h6m2 0h7m1 0h2m2 0h1m1 0h3m3 0h1m2 0h1m5 0h2m2 0h1m4 0h3m1 0h1m3 0h1m2 0h1m1 0h1m4 0h2m8 0h1m3 0h1m2 0h3m1 0h1m6 0h1m3 0h1m1 0h2m3 0h1m6 0h2m2 0h2m1 0h1m7 0h1m6 0h3m1 0h1m3 0h1m5 0h1m2 0h1m2 0h3m3 0h1m5 0h1m2 0h1m1 0h1m1 0h1m6 0h1m1 0h1m2 0h1m4 0h2m1 0h1m5 0h1m1 0h3m5 0h1m4 0h2m4 0h2m1 0h4m1 0h2m4 0h1m1 0h3m1 0h5m1 0h2m13 0h2m8 0h2m1 0h2m1 0h1m1 0h1m13 0h1m2 0h1m1 0h2m2 0h1m2 0h3m1 0h1m1 0h3m3 0h1m2 0h2m2 0h1m2 0h1m22 0h1m3 0h1m1 0h2m6 0h1m3 0h2m5 0h1m3 0h1m2 0h1m4 0h1" stroke="#4c104c"/>
<path d="M205 1470.5h1m8 0h1m20 0h2m10 0h1m5 0h1m50 0h1m25 0h1m25 0h1m20 0h1m14 0h1m39 0h1m36 0h1m70 0h1m8 0h1m12 0h1m2 0h2m12 0h1m2 0h2m2 0h1m10 0h1m35 0h1m11 0h2m12 0h1m1 0h1m21 0h2m8 0h1m5 0h1m32 0h1m6 0h2m9 0h2m8 0h1m15 0h1m4 0h1m6 0h1m12 0h1m10 0h1m3 0h1" stroke="#330b33"/>
<path d="M165 1470.5h1m27 0h2m28 0h1m62 0h1m12 0h2m4 0h1m31 0h1m6 0h2m66 0h2m111 0h1m12 0h1m3 0h1m17 0h2m2 0h1m4 0h1m31 0h2m12 0h1m10 0h1m10 0h1m44 0h1m14 0h2m7 0h1m2 0h1m12 0h1m19 0h2m1 0h1m6 0h2m23 0h2m31 0h1m6 0h1m1 0h1m3 0h1m5 0h1m15 0h2m2 0h2m14 0h1m7 0h1" stroke="#1a061a"/>
<path d="M129 1470.5h1m28 0h1m29 0h1m54 0h1m4 0h1m7 0h1m14 0h1m4 0h1m61 0h2m30 0h1m24 0h1m60 0h1m11 0h1m1 0h2m4 0h1m11 0h1m21 0h1m3 0h1m8 0h1m4 0h2m4 0h1m49 0h1m8 0h1m18 0h2m5 0h1m10 0h1m5 0h1m36 0h1m1 0h1m27 0h2m13 0h2m6 0h1m8 0h2m4 0h1m2 0h1m18 0h1m33 0h1m4 0h2m5 0h1m5 0h1m2 0h1m7 0h2m3 0h3m5 0h1m19 0h2m6 0h1m3 0h2" stroke="#000000"/>
<path d="M114 1470.5h1m6 0h2m1 0h1m1 0h2m13 0h1m8 0h1m3 0h2m18 0h1m5 0h1m34 0h1m91 0h1m6 0h1m25 0h1m7 0h1m36 0h1m32 0h1m1 0h1m27 0h1m9 0h1m6 0h1m7 0h1m30 0h1m16 0h2m21 0h2m29 0h1m4 0h1m9 0h1m37 0h1m19 0h5m4 0h1m8 0h1m12 0h1m7 0h1m32 0h1m33 0h1m27 0h1m30 0h1m8 0h1m17 0h1m1 0h1m14 0h1m3 0h1m1 0h1m6 0h1m4 0h1" stroke="#1a1a00"/>
<path d="M176 1470.5h1m67 0h1m16 0h1m102 0h1m4 0h1m58 0h1m8 0h1m8 0h2m5 0h1m10 0h1m12 0h1m5 0h1m23 0h2m6 0h2m1 0h1m31 0h1m5 0h2m18 0h2m11 0h1m4 0h1m14 0h1m1 0h1m32 0h1m9 0h2m8 0h2m2 0h1m1 0h2m9 0h1m9 0h2m12 0h1m8 0h1m31 0h2m9 0h1m7 0h1m1 0h1m3 0h2m2 0h1m11 0h1m17 0h2m57 0h1m3 0h1" stroke="#333300"/>
<path d="M137 1470.5h1m2 0h1m7 0h2m27 0h2m24 0h1m4 0h1m19 0h1m16 0h2m21 0h1m34 0h1m23 0h1m23 0h1m84 0h1m1 0h1m13 0h1m34 0h1m8 0h1m55 0h1m15 0h1m22 0h1m6 0h1m17 0h1m7 0h1m9 0h1m5 0h1m44 0h1m52 0h1m29 0h1m1 0h1m24 0h1m34 0h1m21 0h1m5 0h1" stroke="#4c4c00"/>
<path d="M139 1470.5h1m16 0h1m16 0h1m1 0h1m13 0h2m73 0h1m48 0h1m4 0h1m2 0h1m13 0h1m32 0h1m4 0h1m42 0h1m2 0h1m20 0h1m31 0h1m22 0h1m77 0h1m34 0h1m53 0h2m30 0h1m5 0h1m36 0h1m41 0h1m45 0h1m9 0h1m2 0h1m14 0h2" stroke="#666600"/>
<path d="M123 1470.5h1m8 0h2m161 0h2m32 0h1m11 0h1m13 0h1m34 0h1m8 0h2m48 0h1m4 0h2m1 0h1m61 0h1m107 0h1m141 0h1m3 0h1m16 0h1m37 0h1" stroke="#808000"/>
<path d="M151 1470.5h1m48 0h1m15 0h1m12 0h1m43 0h1m15 0h1m30 0h1m220 0h1m5 0h1m207 0h1" stroke="#999900"/>
<path d="M524 1470.5h1" stroke="#b2b200"/>
<path d="M676 1470.5h1" stroke="#e6e600"/>
<path d="M581 1495.9h1m26 0h2m56 0h1m93 0h1m8 0h1m18 0h1m52 0h1" stroke="#992199"/>
<path d="M628 1495.9h1m132 0h1" stroke="#801c80"/>
<path d="M110 1495.9h1m69 0h1m15 0h1m40 0h1m115 0h1m45 0h2m2 0h1m25 0h1m10 0h1m70 0h1m40 0h1m100 0h1m14 0h1m36 0h1m51 0h1m10 0h1m42 0h1m7 0h2m28 0h2m20 0h1" stroke="#661666"/>
<path d="M109 1495.9h1m1 0h2m1 0h1m1 0h4m1 0h2m2 0h1m2 0h1m1 0h1m3 0h3m1 0h1m1 0h11m1 0h7m1 0h1m1 0h5m2 0h3m2 0h2m6 0h1m1 0h12m1 0h2m2 0h1m1 0h1m1 0h4m2 0h4m1 0h2m1 0h2m1 0h2m1 0h1m1 0h2m1 0h4m1 0h2m1 0h2m4 0h5m1 0h2m1 0h4m2 0h3m1 0h1m1 0h2m1 0h3m1 0h1m3 0h2m2 0h4m1 0h2m3 0h5m4 0h5m1 0h2m3 0h1m5 0h2m1 0h3m2 0h3m2 0h1m2 0h2m1 0h8m1 0h3m5 0h1m2 0h1m2 0h4m1 0h1m1 0h4m4 0h5m3 0h2m1 0h12m2 0h1m2 0h1m2 0h3m2 0h3m2 0h5m1 0h1m2 0h6m1 0h5m2 0h3m4 0h5m1 0h7m1 0h1m4 0h1m1 0h1m2 0h3m1 0h2m2 0h2m1 0h4m1 0h3m2 0h1m1 0h1m1 0h5m1 0h1m1 0h1m1 0h4m2 0h2m1 0h2m1 0h2m1 0h1m2 0h1m1 0h1m1 0h1m2 0h3m5 0h1m1 0h1m3 0h1m3 0h1m4 0h1m3 0h3m4 0h7m2 0h1m1 0h1m8 0h1m1 0h5m3 0h1m1 0h1m2 0h1m6 0h3m13 0h1m9 0h1m12 0h1m3 0h1m2 0h1m1 0h1m4 0h1m2 0h2m2 0h2m1 0h1m1 0h3m2 0h1m1 0h4m1 0h1m13 0h4m14 0h1m9 0h2m10 0h3m6 0h1m1 0h2m7 0h1m2 0h1m4 0h5m2 0h1m3 0h2m2 0h1m1 0h2m2 0h1m7 0h2m1 0h3m2 0h2m2 0h1m2 0h1m6 0h1m1 0h1m1 0h1m2 0h1m1 0h1m1 0h1m11 0h4m4 0h1m2 0h1m2 0h1m2 0h1m3 0h4m2 0h1m5 0h1m2 0h2" stroke="#4c104c"/>
<path d="M123 1495.9h1m13 0h1m29 0h2m33 0h1m70 0h1m133 0h1m80 0h1m38 0h1m19 0h1m50 0h3m28 0h1m1 0h2m11 0h1m3 0h2m6 0h1m28 0h1m7 0h1m6 0h1m17 0h3m38 0h1m25 0h3m14 0h2m5 0h1m7 0h1m12 0h1m12 0h2m8 0h1m1 0h2" stroke="#330b33"/>
<path d="M129 1495.9h1m29 0h1m44 0h1m16 0h1m7 0h1m32 0h1m8 0h1m2 0h2m11 0h3m24 0h1m57 0h1m62 0h1m5 0h1m50 0h1m5 0h1m44 0h1m25 0h1m2 0h1m1 0h1m36 0h1m39 0h1m30 0h1m18 0h1m1 0h2m12 0h1m3 0h1m9 0h1m73 0h2m8 0h1m6 0h1m13 0h1m20 0h1m10 0h1" stroke="#1a061a"/>
<path d="M139 1495.9h1m32 0h1m3 0h1m41 0h1m48 0h1m10 0h2m15 0h2m7 0h1m8 0h1m160 0h1m8 0h1m23 0h1m6 0h1m4 0h1m2 0h1m3 0h1m22 0h1m20 0h1m7 0h1m1 0h1m22 0h1m3 0h1m9 0h2m14 0h2m2 0h2m15 0h2m2 0h1m3 0h2m8 0h1m2 0h1m10 0h1m1 0h1m5 0h1m11 0h1m3 0h2m3 0h2m10 0h1m21 0h1m3 0h1m17 0h3m36 0h1m17 0h2m12 0h1m20 0h1m2 0h1m5 0h1" stroke="#000000"/>
<path d="M113 1495.9h1m1 0h1m35 0h1m112 0h1m32 0h2m12 0h1m3 0h1m14 0h1m3 0h1m8 0h1m4 0h1m13 0h1m1 0h1m77 0h1m16 0h2m3 0h1m6 0h1m6 0h1m11 0h1m11 0h1m5 0h1m11 0h1m13 0h1m2 0h1m3 0h1m8 0h1m7 0h2m19 0h1m30 0h1m1 0h4m7 0h1m1 0h1m1 0h1m7 0h2m3 0h1m4 0h1m27 0h1m6 0h1m10 0h2m9 0h1m4 0h2m20 0h2m1 0h1m6 0h3m34 0h2m4 0h2m29 0h1m10 0h1m6 0h5m29 0h1m1 0h1m1 0h1" stroke="#1a1a00"/>
<path d="M126 1495.9h2m4 0h2m39 0h1m26 0h1m14 0h1m8 0h1m9 0h1m17 0h1m5 0h1m50 0h1m8 0h1m38 0h1m12 0h1m8 0h2m2 0h1m24 0h1m10 0h1m23 0h1m22 0h2m67 0h1m4 0h1m3 0h2m14 0h2m13 0h1m14 0h1m4 0h1m25 0h2m86 0h1m12 0h1m2 0h1m2 0h1m5 0h1m13 0h1m1 0h3m1 0h1m24 0h1m9 0h1m1 0h1m16 0h1m3 0h1m34 0h1m4 0h1m9 0h1m12 0h1" stroke="#333300"/>
<path d="M120 1495.9h1m10 0h1m94 0h1m13 0h1m8 0h1m57 0h2m3 0h1m9 0h2m23 0h1m1 0h2m20 0h1m24 0h2m4 0h1m9 0h2m8 0h1m26 0h1m25 0h1m63 0h1m8 0h1m27 0h2m11 0h1m1 0h1m24 0h1m7 0h1m14 0h1m1 0h2m16 0h1m23 0h2m2 0h1m11 0h1m33 0h1m28 0h1m31 0h1m3 0h2m46 0h1" stroke="#4c4c00"/>
<path d="M124 1495.9h1m54 0h1m3 0h1m25 0h2m30 0h2m14 0h1m69 0h2m22 0h1m2 0h1m1 0h1m79 0h1m20 0h1m59 0h1m6 0h1m28 0h2m38 0h1m7 0h2m86 0h2m21 0h1m29 0h2m12 0h1m69 0h2" stroke="#666600"/>
<path d="M161 1495.9h1m15 0h2m20 0h1m43 0h1m177 0h1m65 0h1m12 0h1m95 0h1m22 0h1m26 0h1m79 0h1m11 0h1m6 0h1" stroke="#808000"/>
<path d="M284 1495.9h1m46 0h1m37 0h1m8 0h1m204 0h1m42 0h1m87 0h1m75 0h1" stroke="#999900"/>
<path d="M181 1495.9h1m279 0h2" stroke="#b2b200"/>
<path d="M798 1521.4h2" stroke="#992199"/>
<path d="M494 1521.4h1m102 0h1m14 0h2" stroke="#801c80"/>
<path d="M110 1521.4h1m8 0h2m4 0h3m2 0h1m1 0h2m3 0h3m1 0h4m1 0h8m2 0h3m2 0h1m3 0h2m3 0h2m1 0h1m2 0h3m1 0h1m1 0h2m2 0h1m1 0h1m4 0h2m1 0h1m1 0h1m1 0h1m1 0h1m2 0h1m1 0h1m3 0h4m2 0h1m2 0h1m1 0h1m2 0h3m2 0h3m4 0h3m3 0h1m3 0h5m2 0h3m1 0h1m2 0h3m1 0h1m1 0h1m1 0h1m3 0h1m5 0h1m1 0h3m2 0h8m3 0h2m3 0h2m1 0h1m3 0h1m2 0h2m2 0h3m3 0h4m1 0h1m12 0h2m2 0h2m1 0h1m1 0h5m2 0h1m2 0h1m3 0h1m1 0h1m2 0h3m3 0h1m1 0h1m2 0h1m2 0h1m1 0h1m1 0h4m3 0h1m1 0h2m2 0h2m1 0h1m1 0h5m1 0h1m1 0h2m3 0h2m1 0h1m1 0h1m1 0h3m3 0h1m1 0h3m1 0h2m1 0h1m1 0h4m5 0h3m1 0h3m6 0h1m1 0h1m3 0h3m1 0h5m2 0h1m2 0h1m1 0h3m2 0h1m1 0h2m1 0h1m1 0h1m5 0h1m2 0h1m1 0h2m3 0h2m4 0h3m1 0h1m3 0h1m2 0h1m3 0h1m4 0h1m1 0h1m5 0h1m4 0h1m2 0h1m2 0h4m3 0h2m5 0h1m6 0h2m8 0h1m2 0h1m2 0h1m2 0h1m12 0h1m9 0h3m9 0h1m3 0h1m3 0h2m2 0h1m12 0h3m3 0h2m1 0h1m1 0h1m7 0h2m1 0h1m4 0h2m8 0h4m30 0h1m4 0h3m1 0h3m5 0h2m5 0h1m16 0h1m5 0h1m4 0h4m5 0h1m4 0h1m5 0h1m10 0h1m32 0h2m8 0h2m7 0h1m2 0h1" stroke="#661666"/>
<path d="M124 1521.4h1m90 0h1m18 0h1m9 0h1m21 0h1m11 0h1m122 0h1m57 0h2m79 0h1m64 0h1m8 0h1m98 0h1m19 0h1m66 0h1m10 0h1m9 0h1m41 0h1" stroke="#4c104c"/>
<path d="M111 1521.4h2m56 0h1m31 0h1m21 0h1m83 0h1m2 0h1m24 0h1m31 0h1m4 0h1m2 0h1m22 0h1m22 0h1m78 0h1m4 0h1m4 0h1m13 0h1m1 0h1m15 0h1m5 0h1m24 0h1m7 0h1m8 0h1m18 0h2m9 0h1m8 0h1m21 0h1m27 0h1m9 0h2m29 0h1m24 0h1m13 0h1m15 0h1m34 0h1m8 0h1m3 0h1m6 0h1m42 0h1" stroke="#330b33"/>
<path d="M121 1521.4h2m39 0h1m24 0h1m3 0h2m4 0h1m23 0h1m2 0h1m39 0h1m7 0h1m7 0h1m40 0h1m21 0h1m29 0h1m3 0h1m36 0h1m8 0h1m4 0h1m135 0h1m4 0h1m5 0h1m9 0h1m30 0h1m30 0h1m27 0h1m24 0h1m5 0h1m10 0h1m7 0h1m4 0h1m33 0h1m3 0h1m53 0h1m19 0h1m23 0h1m2 0h1m2 0h1" stroke="#1a061a"/>
<path d="M140 1521.4h1m18 0h1m7 0h2m26 0h1m3 0h1m8 0h3m17 0h2m22 0h1m21 0h2m1 0h1m6 0h2m74 0h2m2 0h1m1 0h1m16 0h1m1 0h1m33 0h1m37 0h1m14 0h1m25 0h2m1 0h1m5 0h1m4 0h1m9 0h1m23 0h1m16 0h1m37 0h2m4 0h1m11 0h1m18 0h1m13 0h1m46 0h1m48 0h1m6 0h2m8 0h2m27 0h1m9 0h1m13 0h1m1 0h1m5 0h3m12 0h1m1 0h2m6 0h1m1 0h1m4 0h3m7 0h1" stroke="#000000"/>
<path d="M109 1521.4h1m4 0h1m16 0h1m43 0h1m40 0h1m40 0h1m1 0h1m8 0h1m1 0h1m33 0h1m3 0h1m5 0h2m15 0h1m4 0h1m9 0h1m8 0h1m24 0h2m9 0h2m23 0h1m12 0h1m8 0h1m22 0h2m1 0h1m73 0h1m4 0h1m7 0h1m1 0h2m19 0h1m19 0h1m1 0h1m2 0h2m5 0h1m1 0h1m15 0h1m1 0h1m3 0h1m8 0h1m3 0h1m10 0h3m9 0h1m5 0h2m2 0h1m11 0h1m2 0h3m8 0h1m4 0h2m3 0h1m1 0h1m6 0h1m1 0h2m2 0h1m26 0h1m14 0h1m4 0h1m3 0h1m12 0h3m2 0h1m11 0h1m4 0h1m2 0h2m44 0h1m7 0h2" stroke="#1a1a00"/>
<path d="M134 1521.4h2m36 0h1m6 0h1m4 0h2m3 0h2m15 0h1m12 0h1m51 0h1m22 0h1m6 0h1m9 0h1m14 0h1m6 0h1m3 0h3m18 0h1m99 0h1m9 0h1m9 0h1m3 0h1m1 0h1m33 0h1m18 0h1m6 0h2m16 0h1m5 0h1m1 0h1m13 0h1m1 0h1m4 0h1m35 0h1m8 0h1m7 0h1m16 0h3m6 0h2m2 0h1m7 0h1m26 0h1m5 0h2m1 0h2m2 0h1m8 0h2m4 0h1m11 0h1m2 0h1m4 0h1m15 0h1m3 0h1m10 0h2m7 0h1m16 0h1m23 0h1" stroke="#333300"/>
<path d="M113 1521.4h1m1 0h3m11 0h1m30 0h1m42 0h1m29 0h1m11 0h2m6 0h1m52 0h1m21 0h2m4 0h1m13 0h1m22 0h1m25 0h1m11 0h1m17 0h1m12 0h1m4 0h4m4 0h1m27 0h1m6 0h1m13 0h1m1 0h1m10 0h2m8 0h1m41 0h1m8 0h2m25 0h2m12 0h2m9 0h1m5 0h2m12 0h2m33 0h2m2 0h1m13 0h1m1 0h3m4 0h2m49 0h2m8 0h2m6 0h1m5 0h2m18 0h2m2 0h1m5 0h1m9 0h1m5 0h1m5 0h1m14 0h1m1 0h1m19 0h1" stroke="#4c4c00"/>
<path d="M118 1521.4h1m4 0h1m4 0h1m75 0h1m13 0h1m41 0h1m59 0h1m9 0h1m1 0h1m9 0h1m14 0h1m32 0h1m12 0h1m11 0h1m15 0h1m3 0h1m30 0h2m49 0h1m38 0h2m13 0h1m10 0h2m3 0h2m42 0h2m7 0h1m5 0h1m10 0h1m23 0h1m59 0h1m8 0h2m6 0h1m21 0h1m21 0h2m35 0h2m6 0h2m8 0h1" stroke="#666600"/>
<path d="M136 1521.4h1m17 0h2m7 0h2m16 0h1m58 0h3m33 0h1m22 0h2m18 0h1m42 0h1m31 0h1m96 0h1m19 0h1m66 0h1m14 0h1m21 0h1m34 0h1m109 0h1m2 0h1m3 0h1m56 0h1m7 0h5m12 0h2" stroke="#808000"/>
<path d="M145 1521.4h1m28 0h1m60 0h2m58 0h2m81 0h1m32 0h1m67 0h1m9 0h1m38 0h2m6 0h1m116 0h1m14 0h1m25 0h1m31 0h1m1 0h1m146 0h1" stroke="#999900"/>
<path d="M354 1521.4h1m180 0h1m13 0h1m75 0h1m116 0h2m63 0h1m21 0h1m35 0h1" stroke="#b2b200"/>
<path d="M449 1521.4h1m294 0h1m42 0h1" stroke="#cccc00"/>
<path d="M496 1521.4h1m53 0h1m310 0h1" stroke="#e6e600"/>
<path d="M653 1546.8h1" stroke="#ff37ff"/>
<path d="M307 1546.8h1m287 0h1m62 0h1" stroke="#cc2ccc"/>
<path d="M110 1546.8h3m10 0h1m1 0h1m3 0h1m2 0h2m4 0h1m9 0h2m7 0h1m5 0h6m15 0h2m2 0h3m2 0h2m1 0h1m7 0h1m12 0h1m4 0h1m1 0h1m2 0h1m6 0h1m13 0h1m9 0h1m3 0h1m1 0h1m3 0h2m4 0h2m10 0h1m3 0h1m14 0h1m4 0h1m1 0h2m4 0h1m6 0h1m2 0h1m11 0h1m5 0h1m1 0h1m4 0h1m5 0h1m2 0h2m2 0h1m3 0h1m6 0h1m3 0h2m21 0h2m6 0h2m2 0h1m3 0h1m6 0h1m2 0h1m9 0h1m13 0h2m1 0h1m1 0h2m11 0h1m10 0h1m5 0h1m2 0h1m7 0h1m1 0h1m5 0h1m2 0h1m1 0h1m7 0h1m21 0h3m39 0h1m6 0h1m1 0h1m1 0h2m7 0h1m31 0h1m38 0h1m8 0h1m23 0h1m10 0h1m12 0h1m18 0h1m12 0h2m2 0h1m5 0h2m3 0h2m7 0h1m2 0h2m15 0h1m4 0h1m4 0h1m2 0h1m1 0h1m4 0h1m9 0h1m12 0h1m9 0h1" stroke="#b226b2"/>
<path d="M109 1546.8h1m3 0h7m1 0h2m1 0h1m3 0h1m1 0h1m3 0h2m1 0h1m1 0h2m1 0h4m4 0h1m1 0h5m1 0h2m1 0h2m6 0h1m2 0h2m1 0h4m1 0h2m1 0h1m2 0h1m4 0h2m4 0h5m1 0h1m1 0h1m2 0h6m5 0h3m4 0h1m1 0h6m1 0h3m3 0h2m1 0h3m2 0h5m2 0h1m2 0h2m2 0h1m1 0h2m5 0h2m2 0h4m1 0h2m1 0h2m5 0h4m4 0h3m1 0h2m1 0h1m1 0h2m1 0h1m2 0h1m1 0h2m1 0h5m3 0h1m1 0h2m2 0h3m2 0h2m1 0h5m1 0h1m3 0h1m2 0h5m5 0h2m1 0h3m2 0h4m3 0h1m3 0h3m2 0h2m1 0h2m3 0h2m3 0h3m2 0h1m1 0h1m1 0h1m3 0h2m1 0h2m2 0h4m3 0h2m1 0h4m2 0h3m2 0h3m1 0h3m4 0h1m2 0h1m6 0h9m1 0h1m1 0h2m1 0h2m1 0h2m1 0h5m1 0h2m1 0h3m3 0h1m1 0h1m1 0h5m1 0h2m1 0h1m1 0h5m1 0h1m1 0h1m2 0h6m4 0h1m2 0h1m7 0h1m2 0h1m8 0h2m8 0h1m2 0h2m9 0h1m21 0h1m6 0h1m8 0h1m7 0h1m4 0h1m4 0h1m15 0h3m9 0h2m4 0h1m8 0h1m1 0h2m2 0h1m12 0h1m11 0h2m3 0h1m23 0h3m4 0h2m4 0h1m2 0h1m1 0h1m22 0h1m13 0h1m37 0h1m3 0h1m2 0h1m17 0h2m4 0h2m1 0h1m2 0h1m2 0h1" stroke="#992199"/>
<path d="M378 1546.8h1m19 0h1m97 0h1m53 0h1m18 0h1m4 0h1m23 0h1m4 0h1m12 0h1m13 0h1m3 0h1m94 0h1m7 0h1m50 0h1m5 0h1m7 0h2m7 0h1m1 0h1" stroke="#801c80"/>
<path d="M542 1546.8h1m10 0h2m7 0h1m62 0h1m13 0h1m6 0h1m15 0h2m42 0h1m11 0h2m2 0h1m5 0h1m61 0h1m41 0h2m14 0h1m5 0h1m15 0h1m4 0h1" stroke="#661666"/>
<path d="M126 1546.8h2m46 0h1m32 0h1m7 0h1m38 0h2m11 0h1m84 0h1m23 0h1m18 0h1m84 0h1m53 0h1m20 0h1m11 0h1m19 0h2m4 0h1m13 0h1m2 0h1m3 0h1m28 0h2m6 0h2m7 0h1m3 0h2m44 0h2m26 0h1m5 0h1m10 0h1m6 0h1m8 0h2m25 0h2m5 0h2m9 0h1m1 0h1m4 0h1m29 0h1" stroke="#4c104c"/>
<path d="M151 1546.8h1m19 0h1m15 0h1m28 0h1m53 0h1m12 0h1m18 0h1m68 0h1m152 0h1m40 0h2m8 0h1m5 0h1m1 0h1m22 0h1m5 0h2m3 0h3m20 0h1m20 0h1m6 0h1m26 0h1m19 0h2m15 0h1m1 0h1m29 0h1m9 0h1m2 0h1m7 0h3m40 0h1m13 0h3m6 0h1m9 0h1m7 0h1" stroke="#330b33"/>
<path d="M131 1546.8h1m4 0h1m4 0h1m4 0h2m12 0h1m45 0h1m18 0h1m45 0h1m8 0h1m56 0h1m123 0h2m76 0h3m5 0h1m8 0h2m12 0h1m2 0h1m25 0h4m12 0h1m7 0h2m10 0h1m33 0h3m17 0h2m2 0h1m2 0h3m40 0h2m5 0h2m2 0h2m1 0h1m7 0h1m5 0h1m2 0h1m2 0h1m26 0h1m7 0h1m8 0h1m3 0h1m13 0h1m19 0h2m6 0h1m3 0h1" stroke="#1a061a"/>
<path d="M179 1546.8h1m43 0h1m14 0h2m49 0h1m42 0h1m3 0h1m53 0h1m2 0h1m13 0h1m27 0h1m5 0h1m3 0h1m3 0h3m25 0h1m19 0h1m54 0h1m7 0h2m17 0h2m3 0h1m24 0h1m21 0h2m8 0h2m4 0h1m27 0h1m4 0h1m21 0h1m2 0h1m15 0h1m5 0h1m2 0h1m4 0h2m42 0h1m24 0h1m7 0h1m12 0h3m9 0h1m9 0h1m9 0h1m15 0h1" stroke="#000000"/>
<path d="M120 1546.8h1m74 0h1m22 0h1m24 0h1m3 0h1m9 0h1m39 0h2m32 0h1m62 0h1m4 0h2m8 0h1m1 0h1m24 0h1m15 0h1m84 0h1m38 0h2m8 0h1m4 0h1m16 0h1m12 0h2m3 0h2m8 0h1m8 0h1m4 0h1m8 0h1m14 0h1m2 0h2m9 0h1m5 0h1m6 0h1m1 0h2m2 0h2m16 0h1m30 0h1m1 0h1m19 0h1m5 0h1m6 0h1m3 0h1m1 0h1m9 0h1m7 0h1m4 0h1m10 0h1m13 0h2" stroke="#1a1a00"/>
<path d="M170 1546.8h1m11 0h1m19 0h1m11 0h1m25 0h1m83 0h1m35 0h2m24 0h2m70 0h1m89 0h1m2 0h1m26 0h1m11 0h1m38 0h1m18 0h2m32 0h1m3 0h1m4 0h2m6 0h1m14 0h1m30 0h1m14 0h1m40 0h1m8 0h1m38 0h2m21 0h1" stroke="#333300"/>
<path d="M287 1546.8h2m6 0h2m18 0h1m64 0h1m38 0h1m5 0h2m47 0h1m23 0h1m24 0h1m149 0h1m94 0h1m71 0h1" stroke="#4c4c00"/>
<path d="M349 1546.8h2m168 0h1m16 0h1m26 0h2m92 0h1m68 0h1m4 0h1m51 0h1m52 0h1m27 0h1" stroke="#666600"/>
<path d="M261 1546.8h1m327 0h1m89 0h1m43 0h2m38 0h1" stroke="#808000"/>
<path d="M326 1546.8h1m531 0h1" stroke="#999900"/>
<path d="M830 1546.8h1" stroke="#b2b200"/>
<path d="M644 1572.3h1" stroke="#b226b2"/>
<path d="M222 1572.3h1m201 0h1m121 0h1m206 0h1m33 0h1" stroke="#992199"/>
<path d="M109 1572.3h1m4 0h1m1 0h2m10 0h1m7 0h2m2 0h1m13 0h2m2 0h1m10 0h1m1 0h1m1 0h1m7 0h1m4 0h1m9 0h1m3 0h1m2 0h1m10 0h1m1 0h2m3 0h1m6 0h1m4 0h1m1 0h2m4 0h2m2 0h3m2 0h2m6 0h1m7 0h1m6 0h1m4 0h1m2 0h2m4 0h2m10 0h3m1 0h3m6 0h1m16 0h1m1 0h1m2 0h1m2 0h3m26 0h1m4 0h1m5 0h1m5 0h1m2 0h2m10 0h3m1 0h1m2 0h1m8 0h1m1 0h1m13 0h1m5 0h1m2 0h2m2 0h2m7 0h1m22 0h1m13 0h1m2 0h1m7 0h1m1 0h1m5 0h1m3 0h2m3 0h1m3 0h1m5 0h1m34 0h1m1 0h1m3 0h1m10 0h1m15 0h1m7 0h1m17 0h2m10 0h1m13 0h1m2 0h1m21 0h1m20 0h1m3 0h2m15 0h1m13 0h1m2 0h1m10 0h3m5 0h2m4 0h1m10 0h1m9 0h1m14 0h2m11 0h2m40 0h1m16 0h1" stroke="#801c80"/>
<path d="M110 1572.3h3m2 0h1m2 0h1m1 0h1m2 0h2m1 0h2m1 0h1m2 0h2m5 0h1m3 0h2m1 0h8m2 0h2m2 0h3m4 0h2m3 0h1m2 0h2m2 0h2m2 0h1m5 0h7m1 0h1m1 0h1m5 0h2m1 0h6m4 0h3m2 0h1m1 0h1m1 0h1m1 0h3m5 0h4m2 0h2m3 0h2m2 0h4m1 0h1m2 0h6m1 0h1m1 0h4m1 0h3m2 0h2m2 0h2m1 0h1m2 0h2m2 0h1m1 0h4m3 0h1m6 0h2m2 0h1m1 0h4m2 0h1m2 0h1m5 0h1m1 0h1m2 0h1m7 0h1m2 0h7m1 0h2m2 0h1m1 0h2m1 0h1m1 0h1m1 0h4m4 0h2m2 0h1m1 0h1m2 0h1m5 0h3m10 0h2m1 0h2m3 0h1m5 0h1m1 0h2m1 0h2m4 0h2m1 0h2m4 0h1m3 0h1m3 0h4m1 0h2m1 0h3m1 0h2m2 0h3m1 0h5m1 0h3m4 0h1m1 0h1m1 0h3m5 0h1m2 0h4m1 0h1m2 0h1m1 0h4m4 0h1m3 0h2m1 0h3m1 0h1m1 0h3m1 0h3m7 0h1m3 0h1m1 0h2m27 0h1m9 0h2m25 0h1m3 0h1m1 0h4m3 0h1m2 0h1m4 0h2m1 0h1m3 0h1m13 0h1m9 0h2m5 0h1m4 0h1m8 0h2m2 0h1m32 0h1m53 0h1m4 0h1m4 0h1m3 0h2m1 0h1m2 0h1m18 0h1m3 0h1m4 0h1m8 0h3m2 0h1m4 0h1m3 0h1m2 0h1m9 0h1m4 0h1m2 0h1m1 0h1m2 0h1" stroke="#661666"/>
<path d="M130 1572.3h1m10 0h1m23 0h1m11 0h2m28 0h1m24 0h1m111 0h2m63 0h2m96 0h1m43 0h1m3 0h1m9 0h2m15 0h1m11 0h1m1 0h1m2 0h2m5 0h1m4 0h1m23 0h1m25 0h1m8 0h2m98 0h1m14 0h2m8 0h2m3 0h1m1 0h2m22 0h2m29 0h1m3 0h1" stroke="#4c104c"/>
<path d="M121 1572.3h2m2 0h1m5 0h1m2 0h2m34 0h1m13 0h2m12 0h1m35 0h1m24 0h1m25 0h1m5 0h2m79 0h1m7 0h1m13 0h2m12 0h1m6 0h1m107 0h1m13 0h1m38 0h3m1 0h1m6 0h2m18 0h1m21 0h1m10 0h3m2 0h2m4 0h1m5 0h1m6 0h2m2 0h1m16 0h1m2 0h3m9 0h2m1 0h2m8 0h1m1 0h5m6 0h1m3 0h1m3 0h1m3 0h1m16 0h1m17 0h1m1 0h1m4 0h1m1 0h2m32 0h1m4 0h1m12 0h1m18 0h1m15 0h1" stroke="#330b33"/>
<path d="M138 1572.3h1m20 0h1m14 0h1m7 0h1m5 0h1m67 0h1m99 0h1m68 0h2m15 0h1m43 0h3m21 0h1m58 0h1m4 0h2m15 0h1m5 0h2m28 0h1m26 0h3m1 0h1m8 0h1m5 0h1m1 0h1m1 0h2m7 0h1m18 0h1m17 0h2m2 0h1m1 0h1m2 0h2m1 0h3m1 0h2m4 0h1m3 0h1m8 0h1m2 0h1m3 0h1m15 0h1m16 0h2m1 0h1m8 0h1m7 0h2m5 0h1m14 0h1m18 0h2m6 0h1m6 0h2" stroke="#1a061a"/>
<path d="M142 1572.3h1m20 0h2m36 0h1m66 0h1m38 0h1m14 0h2m1 0h1m2 0h1m12 0h1m11 0h1m8 0h1m11 0h1m13 0h2m6 0h1m15 0h2m4 0h1m37 0h1m13 0h1m14 0h1m13 0h1m39 0h1m1 0h1m7 0h1m8 0h4m27 0h1m2 0h1m16 0h1m20 0h1m6 0h1m21 0h1m19 0h1m2 0h1m69 0h1m10 0h1m14 0h1m29 0h1m6 0h1m33 0h2m3 0h1m7 0h1" stroke="#000000"/>
<path d="M202 1572.3h1m91 0h1m13 0h1m5 0h1m4 0h2m6 0h1m31 0h1m13 0h1m4 0h1m14 0h1m7 0h1m31 0h2m14 0h1m14 0h1m11 0h1m4 0h1m9 0h1m44 0h1m16 0h2m15 0h2m14 0h1m3 0h1m2 0h1m7 0h2m1 0h1m3 0h1m27 0h1m11 0h2m10 0h1m19 0h1m10 0h2m2 0h2m10 0h6m12 0h1m15 0h1m15 0h1m1 0h1m11 0h2m17 0h1m16 0h1m3 0h1m11 0h1m5 0h2m8 0h1m2 0h3m1 0h1m4 0h1m3 0h2m8 0h1m7 0h1" stroke="#1a1a00"/>
<path d="M145 1572.3h1m58 0h1m10 0h1m10 0h1m50 0h1m28 0h1m26 0h1m6 0h1m80 0h1m13 0h1m23 0h2m48 0h1m25 0h1m4 0h1m7 0h1m14 0h1m8 0h1m12 0h1m26 0h2m6 0h1m3 0h2m2 0h1m10 0h1m26 0h1m9 0h1m25 0h1m18 0h2m23 0h3m11 0h1m1 0h1m3 0h1m2 0h1m6 0h1m27 0h1m9 0h1m37 0h1" stroke="#333300"/>
<path d="M119 1572.3h1m46 0h1m57 0h1m132 0h1m6 0h1m17 0h1m2 0h1m11 0h1m29 0h1m49 0h1m19 0h1m49 0h1m8 0h2m9 0h1m13 0h1m71 0h1m40 0h1m4 0h1m54 0h1m42 0h1m11 0h1m2 0h1m11 0h1m10 0h1m1 0h2m31 0h1m1 0h1" stroke="#4c4c00"/>
<path d="M113 1572.3h1m73 0h1m123 0h1m126 0h1m35 0h1m4 0h1m34 0h1m19 0h1m8 0h1m284 0h1" stroke="#666600"/>
<path d="M550 1572.3h1m1 0h1m52 0h1m37 0h1m37 0h1m82 0h1m55 0h1" stroke="#808000"/>
<path d="M326 1572.3h1m9 0h1m278 0h1m90 0h1" stroke="#999900"/>
<path d="M342 1572.3h1" stroke="#b2b200"/>
<path d="M768 1572.3h1" stroke="#cccc00"/>
</g>
<g fill="#fff"><rect x="107.3" y="1123" width="1.7" height="466"/><rect x="876" y="1123" width="5" height="466"/><rect x="531" y="1123" width="3" height="466"/></g>
<text x="106.9" y="1148.2" font-size="21" text-anchor="end" class="i">Gzmb</text>
<text x="106.9" y="1173.7" font-size="21" text-anchor="end" class="i">Prf1</text>
<text x="106.9" y="1199.1" font-size="21" text-anchor="end" class="i">Ifng</text>
<text x="106.9" y="1224.6" font-size="21" text-anchor="end" class="i">Klrc1</text>
<text x="106.9" y="1250" font-size="21" text-anchor="end" class="i">Klrd1</text>
<text x="106.9" y="1275.4" font-size="21" text-anchor="end" class="i">Pdcd1</text>
<text x="106.9" y="1300.9" font-size="21" text-anchor="end" class="i">Lag3</text>
<text x="106.9" y="1326.3" font-size="21" text-anchor="end" class="i">Havcr2</text>
<text x="106.9" y="1351.8" font-size="21" text-anchor="end" class="i">Tox</text>
<text x="106.9" y="1377.2" font-size="21" text-anchor="end" class="i">Tcf7</text>
<text x="106.9" y="1402.7" font-size="21" text-anchor="end" class="i">Ly6a</text>
<text x="106.9" y="1428.1" font-size="21" text-anchor="end" class="i">Cd44</text>
<text x="106.9" y="1453.6" font-size="21" text-anchor="end" class="i">Mki67</text>
<text x="106.9" y="1479" font-size="21" text-anchor="end" class="i">Tbx21</text>
<text x="106.9" y="1504.4" font-size="21" text-anchor="end" class="i">Eomes</text>
<text x="106.9" y="1529.9" font-size="21" text-anchor="end" class="i">Nfkbia</text>
<text x="106.9" y="1555.3" font-size="21" text-anchor="end" class="i">Junb</text>
<text x="106.9" y="1580.8" font-size="21" text-anchor="end" class="i">Fos</text>
<text x="892" y="1300.3" font-size="13" fill="#111">Expression</text>
<defs><linearGradient id="cb892" x1="0" y1="0" x2="0" y2="1"><stop offset="0" stop-color="#ffff00"/><stop offset="0.5" stop-color="#000"/><stop offset="1" stop-color="#ff37ff"/></linearGradient></defs>
<rect x="892" y="1308.2" width="21.3" height="105" fill="url(#cb892)"/>
<path d="M892 1319h4M913.3 1319h-4" stroke="#fff" stroke-width="0.8" opacity="0.7"/>
<text x="919.3" y="1323" font-size="11" fill="#222">2</text>
<path d="M892 1340h4M913.3 1340h-4" stroke="#fff" stroke-width="0.8" opacity="0.7"/>
<text x="919.3" y="1344" font-size="11" fill="#222">1</text>
<path d="M892 1361h4M913.3 1361h-4" stroke="#fff" stroke-width="0.8" opacity="0.7"/>
<text x="919.3" y="1365" font-size="11" fill="#222">0</text>
<path d="M892 1382h4M913.3 1382h-4" stroke="#fff" stroke-width="0.8" opacity="0.7"/>
<text x="919.3" y="1386" font-size="11" fill="#222">-1</text>
<path d="M892 1403h4M913.3 1403h-4" stroke="#fff" stroke-width="0.8" opacity="0.7"/>
<text x="919.3" y="1407" font-size="11" fill="#222">-2</text>
<text x="937.2" y="1068.4" font-size="44" class="b">G</text>
<path d="M1055.2 1223.7C1057.2 1222.3 1063.6 1218.5 1067.2 1215.4C1070.7 1212.4 1074.3 1206.6 1076.6 1205.2C1078.9 1203.7 1079.3 1206.3 1080.9 1206.9C1082.4 1207.4 1084.2 1208.7 1086 1208.6C1087.9 1208.4 1090.2 1205.6 1092 1206C1093.9 1206.4 1094.4 1209.6 1097.2 1211.2C1099.9 1212.7 1103.6 1214.7 1108.3 1215.4C1113 1216.2 1121.2 1216.3 1125.4 1215.4C1129.7 1214.6 1131.7 1211.4 1134 1210.3C1136.3 1209.2 1137.4 1210.9 1139.2 1208.6C1140.9 1206.3 1142 1201.7 1144.3 1196.6C1146.6 1191.4 1150.9 1183.4 1152.9 1177.7C1154.9 1172 1155 1170.9 1156.3 1162.3C1157.6 1153.7 1159.2 1140.1 1160.6 1126.3C1162 1112.4 1163.7 1087.3 1164.9 1079.1C1166 1071 1166.7 1077.9 1167.4 1077.4C1168.2 1077 1168.4 1074.7 1169.2 1076.6C1169.9 1078.4 1170.7 1078 1171.7 1088.6C1172.7 1099.1 1174 1124.3 1175.2 1140C1176.3 1155.7 1177.2 1170.3 1178.6 1182.9C1180 1195.4 1181.9 1208.6 1183.7 1215.4C1185.6 1222.2 1188.7 1222.3 1189.7 1223.7L1189.7 1223.3L1055.2 1223.3Z" fill="#5aa9f5" fill-opacity="0.45" stroke="none"/>
<path d="M1055.2 1223.7C1057.2 1222.3 1063.6 1218.5 1067.2 1215.4C1070.7 1212.4 1074.3 1206.6 1076.6 1205.2C1078.9 1203.7 1079.3 1206.3 1080.9 1206.9C1082.4 1207.4 1084.2 1208.7 1086 1208.6C1087.9 1208.4 1090.2 1205.6 1092 1206C1093.9 1206.4 1094.4 1209.6 1097.2 1211.2C1099.9 1212.7 1103.6 1214.7 1108.3 1215.4C1113 1216.2 1121.2 1216.3 1125.4 1215.4C1129.7 1214.6 1131.7 1211.4 1134 1210.3C1136.3 1209.2 1137.4 1210.9 1139.2 1208.6C1140.9 1206.3 1142 1201.7 1144.3 1196.6C1146.6 1191.4 1150.9 1183.4 1152.9 1177.7C1154.9 1172 1155 1170.9 1156.3 1162.3C1157.6 1153.7 1159.2 1140.1 1160.6 1126.3C1162 1112.4 1163.7 1087.3 1164.9 1079.1C1166 1071 1166.7 1077.9 1167.4 1077.4C1168.2 1077 1168.4 1074.7 1169.2 1076.6C1169.9 1078.4 1170.7 1078 1171.7 1088.6C1172.7 1099.1 1174 1124.3 1175.2 1140C1176.3 1155.7 1177.2 1170.3 1178.6 1182.9C1180 1195.4 1181.9 1208.6 1183.7 1215.4C1185.6 1222.2 1188.7 1222.3 1189.7 1223.7" fill="none" stroke="#3d8ef0" stroke-width="1.1"/>
<path d="M1050 1223.7C1051.1 1222.9 1054.7 1222 1056.9 1218.9C1059 1215.8 1061.2 1208.3 1062.9 1205.2C1064.6 1202 1065.6 1204 1067.2 1200C1068.7 1196 1070.7 1185.6 1072.3 1181.2C1073.9 1176.7 1075.4 1174.3 1076.6 1173.4C1077.7 1172.6 1078 1177.3 1079.2 1176C1080.3 1174.7 1082.3 1166.6 1083.4 1165.7C1084.6 1164.9 1084.9 1167.7 1086 1170.9C1087.2 1174 1089 1183.6 1090.3 1184.6C1091.6 1185.6 1092.6 1177.7 1093.7 1176.9C1094.9 1176 1095.9 1180.7 1097.2 1179.4C1098.4 1178.2 1100.3 1170 1101.4 1169.2C1102.6 1168.3 1102.9 1169.4 1104 1174.3C1105.2 1179.2 1106.4 1193.6 1108.3 1198.3C1110.2 1203 1112.9 1203.7 1115.2 1202.6C1117.4 1201.4 1120 1193.2 1122 1191.4C1124 1189.7 1125 1191.9 1127.2 1192.3C1129.3 1192.7 1132.9 1195.3 1134.9 1194C1136.9 1192.7 1137.6 1187.3 1139.2 1184.6C1140.7 1181.9 1142.7 1178.4 1144.3 1177.7C1145.9 1177 1147.2 1179.9 1148.6 1180.3C1150 1180.7 1151.7 1178.9 1152.9 1180.3C1154 1181.7 1154.6 1187 1155.4 1188.9C1156.3 1190.7 1157.2 1194.4 1158 1191.4C1158.9 1188.4 1159.7 1176.3 1160.6 1170.9C1161.4 1165.4 1162 1166.9 1163.2 1158.9C1164.3 1150.9 1166.2 1134 1167.4 1122.9C1168.7 1111.7 1169.9 1096.3 1170.9 1092C1171.9 1087.7 1172.3 1090.6 1173.4 1097.1C1174.6 1103.7 1176.4 1118.6 1177.7 1131.4C1179 1144.3 1179.9 1162.6 1181.2 1174.3C1182.4 1186 1183.9 1194 1185.4 1201.7C1187 1209.4 1188.9 1216.9 1190.6 1220.6C1192.3 1224.2 1194.9 1223.2 1195.7 1223.7L1195.7 1223.3L1050 1223.3Z" fill="#f5262b" fill-opacity="0.45" stroke="none"/>
<path d="M1050 1223.7C1051.1 1222.9 1054.7 1222 1056.9 1218.9C1059 1215.8 1061.2 1208.3 1062.9 1205.2C1064.6 1202 1065.6 1204 1067.2 1200C1068.7 1196 1070.7 1185.6 1072.3 1181.2C1073.9 1176.7 1075.4 1174.3 1076.6 1173.4C1077.7 1172.6 1078 1177.3 1079.2 1176C1080.3 1174.7 1082.3 1166.6 1083.4 1165.7C1084.6 1164.9 1084.9 1167.7 1086 1170.9C1087.2 1174 1089 1183.6 1090.3 1184.6C1091.6 1185.6 1092.6 1177.7 1093.7 1176.9C1094.9 1176 1095.9 1180.7 1097.2 1179.4C1098.4 1178.2 1100.3 1170 1101.4 1169.2C1102.6 1168.3 1102.9 1169.4 1104 1174.3C1105.2 1179.2 1106.4 1193.6 1108.3 1198.3C1110.2 1203 1112.9 1203.7 1115.2 1202.6C1117.4 1201.4 1120 1193.2 1122 1191.4C1124 1189.7 1125 1191.9 1127.2 1192.3C1129.3 1192.7 1132.9 1195.3 1134.9 1194C1136.9 1192.7 1137.6 1187.3 1139.2 1184.6C1140.7 1181.9 1142.7 1178.4 1144.3 1177.7C1145.9 1177 1147.2 1179.9 1148.6 1180.3C1150 1180.7 1151.7 1178.9 1152.9 1180.3C1154 1181.7 1154.6 1187 1155.4 1188.9C1156.3 1190.7 1157.2 1194.4 1158 1191.4C1158.9 1188.4 1159.7 1176.3 1160.6 1170.9C1161.4 1165.4 1162 1166.9 1163.2 1158.9C1164.3 1150.9 1166.2 1134 1167.4 1122.9C1168.7 1111.7 1169.9 1096.3 1170.9 1092C1171.9 1087.7 1172.3 1090.6 1173.4 1097.1C1174.6 1103.7 1176.4 1118.6 1177.7 1131.4C1179 1144.3 1179.9 1162.6 1181.2 1174.3C1182.4 1186 1183.9 1194 1185.4 1201.7C1187 1209.4 1188.9 1216.9 1190.6 1220.6C1192.3 1224.2 1194.9 1223.2 1195.7 1223.7" fill="none" stroke="#f0202a" stroke-width="1.1"/>
<rect x="1035.4" y="1049.5" width="175.4" height="174.2" fill="none" stroke="#555" stroke-width="1.2"/>
<path d="M1035.4 1222.3h-4.5M1035.4 1214.1h-2.5M1035.4 1205.8h-2.5M1035.4 1197.6h-2.5M1035.4 1189.3h-4.5M1035.4 1181.1h-2.5M1035.4 1172.8h-2.5M1035.4 1164.6h-2.5M1035.4 1156.3h-4.5M1035.4 1148.1h-2.5M1035.4 1139.8h-2.5M1035.4 1131.6h-2.5M1035.4 1123.4h-4.5M1035.4 1115.1h-2.5M1035.4 1106.9h-2.5M1035.4 1098.6h-2.5M1035.4 1090.4h-4.5M1035.4 1082.1h-2.5M1035.4 1073.9h-2.5M1035.4 1065.6h-2.5M1035.4 1057.4h-4.5" stroke="#333" stroke-width="0.9"/>
<text x="1029.4" y="1224.5" font-size="6.2" text-anchor="end" fill="#333">0</text>
<text x="1029.4" y="1191.5" font-size="6.2" text-anchor="end" fill="#333">20</text>
<text x="1029.4" y="1158.5" font-size="6.2" text-anchor="end" fill="#333">40</text>
<text x="1029.4" y="1125.6" font-size="6.2" text-anchor="end" fill="#333">60</text>
<text x="1029.4" y="1092.6" font-size="6.2" text-anchor="end" fill="#333">80</text>
<text x="1029.4" y="1059.6" font-size="6.2" text-anchor="end" fill="#333">100</text>
<path d="" stroke="#333" stroke-width="0.9"/>
<path d="M1036 1223.7v4M1075 1223.7v4M1102.3 1223.7v4M1122 1223.7v4M1160 1223.7v4M1196 1223.7v4M1036 1223.7v2M1040 1223.7v2M1044 1223.7v2M1048 1223.7v2M1052 1223.7v2M1056 1223.7v2M1060 1223.7v2M1064 1223.7v2M1068 1223.7v2M1072 1223.7v2M1076 1223.7v2M1080 1223.7v2M1084 1223.7v2M1088 1223.7v2M1092 1223.7v2M1096 1223.7v2M1100 1223.7v2M1104 1223.7v2M1108 1223.7v2M1112 1223.7v2M1116 1223.7v2M1120 1223.7v2M1124 1223.7v2M1128 1223.7v2M1132 1223.7v2M1136 1223.7v2M1140 1223.7v2M1144 1223.7v2M1148 1223.7v2M1152 1223.7v2M1156 1223.7v2M1160 1223.7v2M1164 1223.7v2M1168 1223.7v2M1172 1223.7v2M1176 1223.7v2M1180 1223.7v2M1184 1223.7v2M1188 1223.7v2M1192 1223.7v2M1196 1223.7v2M1200 1223.7v2M1204 1223.7v2" stroke="#333" stroke-width="0.9"/>
<text x="1047.5" y="1238.5" font-size="6.5" text-anchor="middle" fill="#333">-10<tspan font-size="5" dy="-3">4</tspan></text>
<text x="1102.3" y="1238.5" font-size="6.5" text-anchor="middle" fill="#333">0</text>
<text x="1167.5" y="1238.5" font-size="6.5" text-anchor="middle" fill="#333">10<tspan font-size="5" dy="-3">4</tspan></text>
<text x="1201.5" y="1238.5" font-size="6.5" text-anchor="middle" fill="#333">10<tspan font-size="5" dy="-3">5</tspan></text>
<text x="1048" y="1081.4" font-size="24" fill="#0a32f0">NC</text>
<text x="1048" y="1108.8" font-size="24" fill="#f00000">WD</text>
<text transform="translate(1002 1182.8) rotate(-90)" text-anchor="middle" font-size="28.5">events</text>
<path d="M998.2 1236.4V1268.6H1025.1" fill="none" stroke="#000" stroke-width="1.6"/>
<text x="1045.2" y="1277.2" font-size="27.5">PD-1-BV711</text>
<path d="M1323.9 1223.3C1324.8 1221.6 1327.9 1221.6 1329 1212.9C1330.1 1204.2 1330.1 1189.1 1330.6 1171C1331.2 1152.8 1331.8 1119.7 1332.3 1103.9C1332.8 1088.1 1333.1 1079 1333.5 1076.2C1333.9 1073.4 1334.3 1076.9 1334.8 1087.1C1335.3 1097.3 1335.8 1120.6 1336.5 1137.4C1337.2 1154.2 1338.2 1178.2 1339 1187.7C1339.9 1197.2 1340.6 1193.1 1341.5 1194.5C1342.5 1195.9 1343.9 1195 1344.9 1196.1C1345.9 1197.2 1346.4 1199.3 1347.4 1201.2C1348.4 1203 1349.1 1206.3 1350.8 1207C1352.5 1207.7 1355.9 1206.3 1357.5 1205.4C1359 1204.4 1358.9 1202.1 1360 1201.2C1361.1 1200.2 1362.8 1199.5 1364.2 1199.5C1365.6 1199.5 1367 1203.1 1368.4 1201.2C1369.8 1199.2 1371.5 1192.2 1372.6 1187.7C1373.7 1183.3 1374.3 1176.3 1375.1 1174.3C1375.9 1172.4 1376.6 1177.7 1377.6 1176C1378.6 1174.3 1379.9 1168.2 1381 1164.3C1382.1 1160.3 1382.9 1155.3 1384.3 1152.5C1385.7 1149.7 1388 1151 1389.4 1147.5C1390.8 1144 1391.6 1133.2 1392.7 1131.5C1393.8 1129.9 1395.1 1134.5 1396.1 1137.4C1397 1140.4 1397.5 1145.8 1398.6 1149.2C1399.7 1152.5 1401.5 1153.9 1402.8 1157.5C1404 1161.2 1405 1167.6 1406.1 1171C1407.2 1174.3 1408.4 1173.5 1409.5 1177.7C1410.6 1181.9 1411.4 1190.5 1412.8 1196.1C1414.2 1201.7 1416.2 1207.6 1417.9 1211.2C1419.5 1214.9 1421.2 1216.1 1422.9 1217.9C1424.6 1219.8 1426.3 1221.2 1427.9 1222.1C1429.6 1223 1432.1 1223.1 1433 1223.3L1433 1223.1L1323.9 1223.1Z" fill="#5aa9f5" fill-opacity="0.45" stroke="none"/>
<path d="M1323.9 1223.3C1324.8 1221.6 1327.9 1221.6 1329 1212.9C1330.1 1204.2 1330.1 1189.1 1330.6 1171C1331.2 1152.8 1331.8 1119.7 1332.3 1103.9C1332.8 1088.1 1333.1 1079 1333.5 1076.2C1333.9 1073.4 1334.3 1076.9 1334.8 1087.1C1335.3 1097.3 1335.8 1120.6 1336.5 1137.4C1337.2 1154.2 1338.2 1178.2 1339 1187.7C1339.9 1197.2 1340.6 1193.1 1341.5 1194.5C1342.5 1195.9 1343.9 1195 1344.9 1196.1C1345.9 1197.2 1346.4 1199.3 1347.4 1201.2C1348.4 1203 1349.1 1206.3 1350.8 1207C1352.5 1207.7 1355.9 1206.3 1357.5 1205.4C1359 1204.4 1358.9 1202.1 1360 1201.2C1361.1 1200.2 1362.8 1199.5 1364.2 1199.5C1365.6 1199.5 1367 1203.1 1368.4 1201.2C1369.8 1199.2 1371.5 1192.2 1372.6 1187.7C1373.7 1183.3 1374.3 1176.3 1375.1 1174.3C1375.9 1172.4 1376.6 1177.7 1377.6 1176C1378.6 1174.3 1379.9 1168.2 1381 1164.3C1382.1 1160.3 1382.9 1155.3 1384.3 1152.5C1385.7 1149.7 1388 1151 1389.4 1147.5C1390.8 1144 1391.6 1133.2 1392.7 1131.5C1393.8 1129.9 1395.1 1134.5 1396.1 1137.4C1397 1140.4 1397.5 1145.8 1398.6 1149.2C1399.7 1152.5 1401.5 1153.9 1402.8 1157.5C1404 1161.2 1405 1167.6 1406.1 1171C1407.2 1174.3 1408.4 1173.5 1409.5 1177.7C1410.6 1181.9 1411.4 1190.5 1412.8 1196.1C1414.2 1201.7 1416.2 1207.6 1417.9 1211.2C1419.5 1214.9 1421.2 1216.1 1422.9 1217.9C1424.6 1219.8 1426.3 1221.2 1427.9 1222.1C1429.6 1223 1432.1 1223.1 1433 1223.3" fill="none" stroke="#3d8ef0" stroke-width="1.1"/>
<path d="M1323.9 1223.3C1324.5 1222.4 1326.2 1229.5 1327.3 1217.9C1328.4 1206.4 1329.6 1173.6 1330.6 1154.2C1331.7 1134.8 1332.7 1106.9 1333.5 1101.4C1334.3 1095.8 1334.9 1106.2 1335.7 1120.6C1336.5 1135 1337.4 1174.3 1338.2 1187.7C1339 1201.2 1339.7 1197.5 1340.7 1201.2C1341.7 1204.8 1342.9 1207.9 1344.1 1209.5C1345.2 1211.2 1346.3 1210.4 1347.4 1211.2C1348.5 1212.1 1349.7 1214.2 1350.8 1214.6C1351.9 1215 1353 1213.5 1354.1 1213.7C1355.2 1214 1356.2 1215.4 1357.5 1216.3C1358.7 1217.1 1360.1 1219 1361.7 1218.8C1363.2 1218.6 1364.9 1215.3 1366.7 1214.9C1368.5 1214.6 1371 1216 1372.6 1216.6C1374.1 1217.2 1374.5 1219.7 1375.9 1218.8C1377.3 1217.9 1379.6 1212.2 1381 1211.2C1382.4 1210.2 1383.1 1214 1384.3 1212.9C1385.6 1211.8 1387.4 1206.1 1388.5 1204.5C1389.6 1203 1390.1 1203.4 1391 1203.7C1392 1204 1393.3 1205.6 1394.4 1206.2C1395.5 1206.8 1396.6 1206.6 1397.7 1207C1398.9 1207.5 1400.1 1208.6 1401.1 1208.7C1402.1 1208.9 1402.5 1207.5 1403.6 1207.9C1404.7 1208.3 1406.5 1209.8 1407.8 1211.2C1409.1 1212.6 1410 1214.9 1411.2 1216.3C1412.3 1217.7 1412.8 1218.8 1414.5 1219.6C1416.2 1220.5 1419.3 1220.7 1421.2 1221.3C1423.2 1221.9 1425.4 1223 1426.3 1223.3L1426.3 1223.1L1323.9 1223.1Z" fill="#f5262b" fill-opacity="0.45" stroke="none"/>
<path d="M1323.9 1223.3C1324.5 1222.4 1326.2 1229.5 1327.3 1217.9C1328.4 1206.4 1329.6 1173.6 1330.6 1154.2C1331.7 1134.8 1332.7 1106.9 1333.5 1101.4C1334.3 1095.8 1334.9 1106.2 1335.7 1120.6C1336.5 1135 1337.4 1174.3 1338.2 1187.7C1339 1201.2 1339.7 1197.5 1340.7 1201.2C1341.7 1204.8 1342.9 1207.9 1344.1 1209.5C1345.2 1211.2 1346.3 1210.4 1347.4 1211.2C1348.5 1212.1 1349.7 1214.2 1350.8 1214.6C1351.9 1215 1353 1213.5 1354.1 1213.7C1355.2 1214 1356.2 1215.4 1357.5 1216.3C1358.7 1217.1 1360.1 1219 1361.7 1218.8C1363.2 1218.6 1364.9 1215.3 1366.7 1214.9C1368.5 1214.6 1371 1216 1372.6 1216.6C1374.1 1217.2 1374.5 1219.7 1375.9 1218.8C1377.3 1217.9 1379.6 1212.2 1381 1211.2C1382.4 1210.2 1383.1 1214 1384.3 1212.9C1385.6 1211.8 1387.4 1206.1 1388.5 1204.5C1389.6 1203 1390.1 1203.4 1391 1203.7C1392 1204 1393.3 1205.6 1394.4 1206.2C1395.5 1206.8 1396.6 1206.6 1397.7 1207C1398.9 1207.5 1400.1 1208.6 1401.1 1208.7C1402.1 1208.9 1402.5 1207.5 1403.6 1207.9C1404.7 1208.3 1406.5 1209.8 1407.8 1211.2C1409.1 1212.6 1410 1214.9 1411.2 1216.3C1412.3 1217.7 1412.8 1218.8 1414.5 1219.6C1416.2 1220.5 1419.3 1220.7 1421.2 1221.3C1423.2 1221.9 1425.4 1223 1426.3 1223.3" fill="none" stroke="#f0202a" stroke-width="1.1"/>
<rect x="1291.2" y="1047.2" width="177.3" height="176.3" fill="none" stroke="#555" stroke-width="1.2"/>
<path d="M1291.2 1222.6h-4.5M1291.2 1214.2h-2.5M1291.2 1205.9h-2.5M1291.2 1197.5h-2.5M1291.2 1189.1h-4.5M1291.2 1180.8h-2.5M1291.2 1172.4h-2.5M1291.2 1164h-2.5M1291.2 1155.6h-4.5M1291.2 1147.3h-2.5M1291.2 1138.9h-2.5M1291.2 1130.5h-2.5M1291.2 1122.2h-4.5M1291.2 1113.8h-2.5M1291.2 1105.4h-2.5M1291.2 1097h-2.5M1291.2 1088.7h-4.5M1291.2 1080.3h-2.5M1291.2 1071.9h-2.5M1291.2 1063.6h-2.5M1291.2 1055.2h-4.5" stroke="#333" stroke-width="0.9"/>
<text x="1285.2" y="1224.8" font-size="6.2" text-anchor="end" fill="#333">0</text>
<text x="1285.2" y="1191.3" font-size="6.2" text-anchor="end" fill="#333">20</text>
<text x="1285.2" y="1157.8" font-size="6.2" text-anchor="end" fill="#333">40</text>
<text x="1285.2" y="1124.4" font-size="6.2" text-anchor="end" fill="#333">60</text>
<text x="1285.2" y="1090.9" font-size="6.2" text-anchor="end" fill="#333">80</text>
<text x="1285.2" y="1057.4" font-size="6.2" text-anchor="end" fill="#333">100</text>
<path d="" stroke="#333" stroke-width="0.9"/>
<path d="M1302 1223.5v4M1334.3 1223.5v4M1360 1223.5v4M1409 1223.5v4M1450.5 1223.5v4M1292 1223.5v2M1296 1223.5v2M1300 1223.5v2M1304 1223.5v2M1308 1223.5v2M1312 1223.5v2M1316 1223.5v2M1320 1223.5v2M1324 1223.5v2M1328 1223.5v2M1332 1223.5v2M1336 1223.5v2M1340 1223.5v2M1344 1223.5v2M1348 1223.5v2M1352 1223.5v2M1356 1223.5v2M1360 1223.5v2M1364 1223.5v2M1368 1223.5v2M1372 1223.5v2M1376 1223.5v2M1380 1223.5v2M1384 1223.5v2M1388 1223.5v2M1392 1223.5v2M1396 1223.5v2M1400 1223.5v2M1404 1223.5v2M1408 1223.5v2M1412 1223.5v2M1416 1223.5v2M1420 1223.5v2M1424 1223.5v2M1428 1223.5v2M1432 1223.5v2M1436 1223.5v2M1440 1223.5v2M1444 1223.5v2M1448 1223.5v2M1452 1223.5v2M1456 1223.5v2M1460 1223.5v2M1464 1223.5v2" stroke="#333" stroke-width="0.9"/>
<text x="1308" y="1238" font-size="6.5" text-anchor="middle" fill="#333">-10<tspan font-size="5" dy="-3">3</tspan></text>
<text x="1334.3" y="1238" font-size="6.5" text-anchor="middle" fill="#333">0</text>
<text x="1365" y="1238" font-size="6.5" text-anchor="middle" fill="#333">10<tspan font-size="5" dy="-3">3</tspan></text>
<text x="1413.7" y="1238" font-size="6.5" text-anchor="middle" fill="#333">10<tspan font-size="5" dy="-3">4</tspan></text>
<text x="1455.6" y="1238" font-size="6.5" text-anchor="middle" fill="#333">10<tspan font-size="5" dy="-3">5</tspan></text>
<text transform="translate(1262.5 1176.5) rotate(-90)" text-anchor="middle" font-size="28.5">events</text>
<path d="M1252.6 1231V1264H1279.5" fill="none" stroke="#000" stroke-width="1.6"/>
<text x="1295" y="1273.3" font-size="27.5">Lag3-PE</text>
<path d="M1572.2 1221C1573.6 1220.5 1578.3 1219.3 1580.6 1217.9C1582.8 1216.6 1584.2 1216.5 1585.6 1212.9C1587 1209.3 1587.9 1205.9 1589 1196.1C1590.1 1186.3 1591.3 1166.8 1592.3 1154.2C1593.3 1141.6 1594 1131.8 1594.8 1120.6C1595.7 1109.5 1596.6 1094.8 1597.4 1087.1C1598.1 1079.4 1598.7 1075.1 1599.4 1074.5C1600.1 1074 1600.6 1078.3 1601.5 1083.7C1602.5 1089.2 1603.9 1097.7 1604.9 1107.2C1605.9 1116.7 1606.4 1130.2 1607.4 1140.8C1608.4 1151.4 1609.7 1163.7 1610.8 1171C1611.9 1178.2 1613 1180.8 1614.1 1184.4C1615.2 1188 1616.4 1190.8 1617.5 1192.8C1618.6 1194.7 1619.7 1196 1620.8 1196.1C1622 1196.3 1623.1 1193.5 1624.2 1193.6C1625.3 1193.8 1626.2 1197.7 1627.5 1197C1628.9 1196.3 1630.9 1192.9 1632.6 1189.4C1634.3 1185.9 1635.9 1179.6 1637.6 1176C1639.3 1172.4 1641.2 1171.2 1642.6 1167.6C1644 1164 1645 1159.5 1646 1154.2C1647 1148.9 1647.7 1139.1 1648.5 1135.7C1649.4 1132.4 1650.2 1136.9 1651 1134.1C1651.9 1131.3 1652.6 1123.7 1653.5 1119C1654.5 1114.2 1656.1 1108.1 1656.9 1105.5C1657.7 1103 1657.9 1105.1 1658.6 1103.9C1659.3 1102.6 1660.3 1098.6 1661.1 1098C1661.9 1097.4 1662.8 1100.7 1663.6 1100.5C1664.4 1100.4 1665.1 1096.6 1665.8 1097.2C1666.5 1097.7 1667.1 1100.2 1667.8 1103.9C1668.6 1107.5 1669.6 1116.2 1670.3 1119C1671 1121.8 1671.3 1118.1 1672 1120.6C1672.7 1123.2 1673.8 1130.7 1674.5 1134.1C1675.2 1137.4 1675.5 1135.5 1676.2 1140.8C1676.9 1146.1 1677.9 1158.1 1678.7 1165.9C1679.5 1173.8 1680.2 1181.3 1681.2 1187.7C1682.2 1194.2 1683.5 1199.8 1684.6 1204.5C1685.7 1209.3 1686.5 1213.5 1687.9 1216.3C1689.3 1219 1692.1 1220.2 1693 1221L1693 1220.9L1572.2 1220.9Z" fill="#5aa9f5" fill-opacity="0.45" stroke="none"/>
<path d="M1572.2 1221C1573.6 1220.5 1578.3 1219.3 1580.6 1217.9C1582.8 1216.6 1584.2 1216.5 1585.6 1212.9C1587 1209.3 1587.9 1205.9 1589 1196.1C1590.1 1186.3 1591.3 1166.8 1592.3 1154.2C1593.3 1141.6 1594 1131.8 1594.8 1120.6C1595.7 1109.5 1596.6 1094.8 1597.4 1087.1C1598.1 1079.4 1598.7 1075.1 1599.4 1074.5C1600.1 1074 1600.6 1078.3 1601.5 1083.7C1602.5 1089.2 1603.9 1097.7 1604.9 1107.2C1605.9 1116.7 1606.4 1130.2 1607.4 1140.8C1608.4 1151.4 1609.7 1163.7 1610.8 1171C1611.9 1178.2 1613 1180.8 1614.1 1184.4C1615.2 1188 1616.4 1190.8 1617.5 1192.8C1618.6 1194.7 1619.7 1196 1620.8 1196.1C1622 1196.3 1623.1 1193.5 1624.2 1193.6C1625.3 1193.8 1626.2 1197.7 1627.5 1197C1628.9 1196.3 1630.9 1192.9 1632.6 1189.4C1634.3 1185.9 1635.9 1179.6 1637.6 1176C1639.3 1172.4 1641.2 1171.2 1642.6 1167.6C1644 1164 1645 1159.5 1646 1154.2C1647 1148.9 1647.7 1139.1 1648.5 1135.7C1649.4 1132.4 1650.2 1136.9 1651 1134.1C1651.9 1131.3 1652.6 1123.7 1653.5 1119C1654.5 1114.2 1656.1 1108.1 1656.9 1105.5C1657.7 1103 1657.9 1105.1 1658.6 1103.9C1659.3 1102.6 1660.3 1098.6 1661.1 1098C1661.9 1097.4 1662.8 1100.7 1663.6 1100.5C1664.4 1100.4 1665.1 1096.6 1665.8 1097.2C1666.5 1097.7 1667.1 1100.2 1667.8 1103.9C1668.6 1107.5 1669.6 1116.2 1670.3 1119C1671 1121.8 1671.3 1118.1 1672 1120.6C1672.7 1123.2 1673.8 1130.7 1674.5 1134.1C1675.2 1137.4 1675.5 1135.5 1676.2 1140.8C1676.9 1146.1 1677.9 1158.1 1678.7 1165.9C1679.5 1173.8 1680.2 1181.3 1681.2 1187.7C1682.2 1194.2 1683.5 1199.8 1684.6 1204.5C1685.7 1209.3 1686.5 1213.5 1687.9 1216.3C1689.3 1219 1692.1 1220.2 1693 1221" fill="none" stroke="#3d8ef0" stroke-width="1.1"/>
<path d="M1572.2 1221C1573.3 1220.6 1576.9 1219.8 1578.9 1218.8C1580.9 1217.7 1582.5 1217 1583.9 1214.6C1585.3 1212.2 1586.2 1211.8 1587.3 1204.5C1588.4 1197.2 1589.4 1183.5 1590.6 1171C1591.9 1158.4 1593.7 1140.2 1594.8 1129C1596 1117.9 1596.6 1109.9 1597.4 1103.9C1598.1 1097.9 1598.8 1091.6 1599.4 1093C1600 1094.4 1600.3 1102.6 1601 1112.3C1601.8 1121.9 1603 1141.6 1604.1 1150.8C1605.1 1160.1 1606.3 1162 1607.4 1167.6C1608.5 1173.2 1609.8 1179.2 1610.8 1184.4C1611.8 1189.6 1612.2 1196.7 1613.3 1198.6C1614.4 1200.6 1616.2 1196 1617.5 1196.1C1618.7 1196.3 1619.4 1197.7 1620.8 1199.5C1622.2 1201.3 1624.1 1207 1625.9 1207C1627.7 1207 1629.8 1201.3 1631.7 1199.5C1633.7 1197.7 1636.2 1196.1 1637.6 1196.1C1639 1196.1 1639.3 1197.9 1640.1 1199.5C1641 1201 1641.4 1205.4 1642.6 1205.4C1643.9 1205.4 1646.1 1200.9 1647.7 1199.5C1649.2 1198.1 1650.5 1197 1651.9 1197C1653.3 1197 1654.7 1198.5 1656.1 1199.5C1657.5 1200.5 1659 1203.4 1660.3 1202.8C1661.5 1202.3 1662.6 1198.1 1663.6 1196.1C1664.6 1194.2 1665.3 1191.4 1666.1 1191.1C1667 1190.8 1667.8 1192.8 1668.6 1194.5C1669.5 1196.1 1670.2 1198.6 1671.2 1201.2C1672.1 1203.7 1673.4 1207 1674.5 1209.5C1675.6 1212.1 1676.6 1214.4 1677.9 1216.3C1679.1 1218.2 1681.4 1220.2 1682.1 1221L1682.1 1220.9L1572.2 1220.9Z" fill="#f5262b" fill-opacity="0.45" stroke="none"/>
<path d="M1572.2 1221C1573.3 1220.6 1576.9 1219.8 1578.9 1218.8C1580.9 1217.7 1582.5 1217 1583.9 1214.6C1585.3 1212.2 1586.2 1211.8 1587.3 1204.5C1588.4 1197.2 1589.4 1183.5 1590.6 1171C1591.9 1158.4 1593.7 1140.2 1594.8 1129C1596 1117.9 1596.6 1109.9 1597.4 1103.9C1598.1 1097.9 1598.8 1091.6 1599.4 1093C1600 1094.4 1600.3 1102.6 1601 1112.3C1601.8 1121.9 1603 1141.6 1604.1 1150.8C1605.1 1160.1 1606.3 1162 1607.4 1167.6C1608.5 1173.2 1609.8 1179.2 1610.8 1184.4C1611.8 1189.6 1612.2 1196.7 1613.3 1198.6C1614.4 1200.6 1616.2 1196 1617.5 1196.1C1618.7 1196.3 1619.4 1197.7 1620.8 1199.5C1622.2 1201.3 1624.1 1207 1625.9 1207C1627.7 1207 1629.8 1201.3 1631.7 1199.5C1633.7 1197.7 1636.2 1196.1 1637.6 1196.1C1639 1196.1 1639.3 1197.9 1640.1 1199.5C1641 1201 1641.4 1205.4 1642.6 1205.4C1643.9 1205.4 1646.1 1200.9 1647.7 1199.5C1649.2 1198.1 1650.5 1197 1651.9 1197C1653.3 1197 1654.7 1198.5 1656.1 1199.5C1657.5 1200.5 1659 1203.4 1660.3 1202.8C1661.5 1202.3 1662.6 1198.1 1663.6 1196.1C1664.6 1194.2 1665.3 1191.4 1666.1 1191.1C1667 1190.8 1667.8 1192.8 1668.6 1194.5C1669.5 1196.1 1670.2 1198.6 1671.2 1201.2C1672.1 1203.7 1673.4 1207 1674.5 1209.5C1675.6 1212.1 1676.6 1214.4 1677.9 1216.3C1679.1 1218.2 1681.4 1220.2 1682.1 1221" fill="none" stroke="#f0202a" stroke-width="1.1"/>
<rect x="1550" y="1046" width="177.4" height="175.3" fill="none" stroke="#555" stroke-width="1.2"/>
<path d="M1550 1220.5h-4.5M1550 1212.2h-2.5M1550 1203.8h-2.5M1550 1195.5h-2.5M1550 1187.1h-4.5M1550 1178.8h-2.5M1550 1170.4h-2.5M1550 1162.1h-2.5M1550 1153.7h-4.5M1550 1145.4h-2.5M1550 1137h-2.5M1550 1128.7h-2.5M1550 1120.4h-4.5M1550 1112h-2.5M1550 1103.7h-2.5M1550 1095.3h-2.5M1550 1087h-4.5M1550 1078.6h-2.5M1550 1070.3h-2.5M1550 1061.9h-2.5M1550 1053.6h-4.5" stroke="#333" stroke-width="0.9"/>
<text x="1544" y="1222.7" font-size="6.2" text-anchor="end" fill="#333">0</text>
<text x="1544" y="1189.3" font-size="6.2" text-anchor="end" fill="#333">20</text>
<text x="1544" y="1155.9" font-size="6.2" text-anchor="end" fill="#333">40</text>
<text x="1544" y="1122.6" font-size="6.2" text-anchor="end" fill="#333">60</text>
<text x="1544" y="1089.2" font-size="6.2" text-anchor="end" fill="#333">80</text>
<text x="1544" y="1055.8" font-size="6.2" text-anchor="end" fill="#333">100</text>
<path d="" stroke="#333" stroke-width="0.9"/>
<path d="M1560 1221.3v4M1593.2 1221.3v4M1619 1221.3v4M1667 1221.3v4M1709.5 1221.3v4M1551 1221.3v2M1555 1221.3v2M1559 1221.3v2M1563 1221.3v2M1567 1221.3v2M1571 1221.3v2M1575 1221.3v2M1579 1221.3v2M1583 1221.3v2M1587 1221.3v2M1591 1221.3v2M1595 1221.3v2M1599 1221.3v2M1603 1221.3v2M1607 1221.3v2M1611 1221.3v2M1615 1221.3v2M1619 1221.3v2M1623 1221.3v2M1627 1221.3v2M1631 1221.3v2M1635 1221.3v2M1639 1221.3v2M1643 1221.3v2M1647 1221.3v2M1651 1221.3v2M1655 1221.3v2M1659 1221.3v2M1663 1221.3v2M1667 1221.3v2M1671 1221.3v2M1675 1221.3v2M1679 1221.3v2M1683 1221.3v2M1687 1221.3v2M1691 1221.3v2M1695 1221.3v2M1699 1221.3v2M1703 1221.3v2M1707 1221.3v2M1711 1221.3v2M1715 1221.3v2M1719 1221.3v2M1723 1221.3v2" stroke="#333" stroke-width="0.9"/>
<text x="1566.3" y="1236.5" font-size="6.5" text-anchor="middle" fill="#333">-10<tspan font-size="5" dy="-3">3</tspan></text>
<text x="1593.2" y="1236.5" font-size="6.5" text-anchor="middle" fill="#333">0</text>
<text x="1624.2" y="1236.5" font-size="6.5" text-anchor="middle" fill="#333">10<tspan font-size="5" dy="-3">3</tspan></text>
<text x="1672" y="1236.5" font-size="6.5" text-anchor="middle" fill="#333">10<tspan font-size="5" dy="-3">4</tspan></text>
<text x="1714.8" y="1236.5" font-size="6.5" text-anchor="middle" fill="#333">10<tspan font-size="5" dy="-3">5</tspan></text>
<text transform="translate(1522 1176) rotate(-90)" text-anchor="middle" font-size="28.5">events</text>
<path d="M1511.8 1228.9V1261.6H1538.6" fill="none" stroke="#000" stroke-width="1.6"/>
<text x="1550.4" y="1273.3" font-size="27.5">Tim3-BV605</text>
<path d="M1066.4 1342.2L1066.4 1570.7" stroke="#000" stroke-width="3.2"/>
<path d="M1056.4 1570.7L1217.5 1570.7" stroke="#000" stroke-width="3.2"/>
<path d="M1056.4 1343.7L1066.4 1343.7" stroke="#000" stroke-width="3.2"/>
<text x="1052" y="1349.8" font-size="17" text-anchor="end" class="b">20000</text>
<path d="M1056.4 1400.3L1066.4 1400.3" stroke="#000" stroke-width="3.2"/>
<text x="1052" y="1406.4" font-size="17" text-anchor="end" class="b">15000</text>
<path d="M1056.4 1457L1066.4 1457" stroke="#000" stroke-width="3.2"/>
<text x="1052" y="1463.1" font-size="17" text-anchor="end" class="b">10000</text>
<path d="M1056.4 1514L1066.4 1514" stroke="#000" stroke-width="3.2"/>
<text x="1052" y="1520.1" font-size="17" text-anchor="end" class="b">5000</text>
<path d="M1056.4 1570.7L1066.4 1570.7" stroke="#000" stroke-width="3.2"/>
<text x="1052" y="1576.8" font-size="17" text-anchor="end" class="b">0</text>
<path d="M1108 1570.7L1108 1580.7" stroke="#000" stroke-width="3.2"/>
<path d="M1173.7 1570.7L1173.7 1580.7" stroke="#000" stroke-width="3.2"/>
<path d="M1090 1569.2V1467.8H1128.8V1569.2" fill="#fff" stroke="#0c30ff" stroke-width="3.6"/>
<path d="M1155.6 1569.2V1451.8H1193.8V1569.2" fill="#fff" stroke="#ff2a00" stroke-width="3.6"/>
<path d="M1109.4 1459.4V1470.9M1098 1459.4H1120M1098 1470.9H1120" stroke="#0c30ff" stroke-width="2"/>
<path d="M1174.1 1425.8V1472.5M1162.8 1425.8H1185.3M1162.8 1472.5H1185.3" stroke="#ff2a00" stroke-width="2"/>
<g fill="#0c30ff"><circle cx="1109.1" cy="1434.5" r="4.1"/><circle cx="1109.1" cy="1445.5" r="4.1"/><circle cx="1100.2" cy="1461.4" r="4.1"/><circle cx="1091.2" cy="1465.3" r="4.1"/><circle cx="1119" cy="1465" r="4.1"/><circle cx="1127" cy="1466.5" r="4.1"/><circle cx="1109.1" cy="1470.5" r="4.1"/><circle cx="1105.1" cy="1489.8" r="4.1"/><circle cx="1114.1" cy="1486.4" r="4.1"/><circle cx="1110.1" cy="1463" r="4.1"/></g>
<g fill="#ff2a00"><circle cx="1174.1" cy="1376.5" r="4.1"/><circle cx="1164.8" cy="1406.7" r="4.1"/><circle cx="1183.7" cy="1399.3" r="4.1"/><circle cx="1164.8" cy="1457" r="4.1"/><circle cx="1183.7" cy="1450.6" r="4.1"/><circle cx="1174.1" cy="1499.7" r="4.1"/><circle cx="1174.1" cy="1555.4" r="4.1"/></g>
<text x="1095.7" y="1315.6" font-size="17.3"><tspan class="i">P</tspan>=0.3510</text>
<path d="M1106.5 1338.7V1323.4H1165.4V1338.7" fill="none" stroke="#000" stroke-width="1.5"/>
<text transform="translate(991 1458) rotate(-90)" text-anchor="middle" font-size="28.5">PD-1 MFI</text>
<text x="1110.1" y="1608" font-size="28.5" text-anchor="middle">NC</text>
<text x="1177.7" y="1608" font-size="28.5" text-anchor="middle">WD</text>
<path d="M1321.4 1334.6L1321.4 1566.7" stroke="#000" stroke-width="3.2"/>
<path d="M1311.4 1566.7L1474.5 1566.7" stroke="#000" stroke-width="3.2"/>
<path d="M1311.4 1336.1L1321.4 1336.1" stroke="#000" stroke-width="3.2"/>
<text x="1306.4" y="1342.2" font-size="17" text-anchor="end" class="b">6000</text>
<path d="M1311.4 1413.3L1321.4 1413.3" stroke="#000" stroke-width="3.2"/>
<text x="1306.4" y="1419.4" font-size="17" text-anchor="end" class="b">4000</text>
<path d="M1311.4 1490.4L1321.4 1490.4" stroke="#000" stroke-width="3.2"/>
<text x="1306.4" y="1496.5" font-size="17" text-anchor="end" class="b">2000</text>
<path d="M1311.4 1566.7L1321.4 1566.7" stroke="#000" stroke-width="3.2"/>
<text x="1306.4" y="1572.8" font-size="17" text-anchor="end" class="b">0</text>
<path d="M1364.1 1566.7L1364.1 1576.7" stroke="#000" stroke-width="3.2"/>
<path d="M1430.1 1566.7L1430.1 1576.7" stroke="#000" stroke-width="3.2"/>
<path d="M1345.1 1565.2V1414.7H1384.2V1565.2" fill="#fff" stroke="#0c30ff" stroke-width="3.6"/>
<path d="M1410.7 1565.2V1490.2H1450.4V1565.2" fill="#fff" stroke="#ff2a00" stroke-width="3.6"/>
<path d="M1364.7 1403V1421.6M1354.6 1403H1376M1354.6 1421.6H1376" stroke="#0c30ff" stroke-width="2"/>
<path d="M1430.7 1469V1506.1M1419.4 1469H1442.1M1419.4 1506.1H1442.1" stroke="#ff2a00" stroke-width="2"/>
<g fill="#0c30ff"><circle cx="1365.1" cy="1347.7" r="4.1"/><circle cx="1356.2" cy="1398.9" r="4.1"/><circle cx="1373.7" cy="1398" r="4.1"/><circle cx="1382.6" cy="1414.9" r="4.1"/><circle cx="1348.2" cy="1422.8" r="4.1"/><circle cx="1382.6" cy="1424.8" r="4.1"/><circle cx="1365.1" cy="1428.8" r="4.1"/><circle cx="1382.6" cy="1434.1" r="4.1"/><circle cx="1348.2" cy="1442.1" r="4.1"/></g>
<g fill="#ff2a00"><circle cx="1430.7" cy="1421.2" r="4.1"/><circle cx="1430.7" cy="1441.7" r="4.1"/><circle cx="1430.7" cy="1462" r="4.1"/><circle cx="1430.7" cy="1486.4" r="4.1"/><circle cx="1421.8" cy="1517.2" r="4.1"/><circle cx="1440.1" cy="1526.2" r="4.1"/><circle cx="1430.7" cy="1557.4" r="4.1"/></g>
<text x="1355.7" y="1315.6" font-size="17.3"><tspan class="i">P</tspan>=0.0052</text>
<path d="M1364.1 1335.7V1322.8H1428.2V1335.7" fill="none" stroke="#000" stroke-width="1.5"/>
<text transform="translate(1250 1458.3) rotate(-90)" text-anchor="middle" font-size="28.5">Lag3 MFI</text>
<text x="1365.6" y="1608" font-size="28.5" text-anchor="middle">NC</text>
<text x="1431.7" y="1608" font-size="28.5" text-anchor="middle">WD</text>
<path d="M1577.4 1334.8L1577.4 1566.7" stroke="#000" stroke-width="3.2"/>
<path d="M1567.4 1566.7L1730.5 1566.7" stroke="#000" stroke-width="3.2"/>
<path d="M1567.4 1336.3L1577.4 1336.3" stroke="#000" stroke-width="3.2"/>
<text x="1562.4" y="1342.4" font-size="17" text-anchor="end" class="b">8000</text>
<path d="M1567.4 1393.8L1577.4 1393.8" stroke="#000" stroke-width="3.2"/>
<text x="1562.4" y="1399.9" font-size="17" text-anchor="end" class="b">6000</text>
<path d="M1567.4 1451.4L1577.4 1451.4" stroke="#000" stroke-width="3.2"/>
<text x="1562.4" y="1457.5" font-size="17" text-anchor="end" class="b">4000</text>
<path d="M1567.4 1509.3L1577.4 1509.3" stroke="#000" stroke-width="3.2"/>
<text x="1562.4" y="1515.4" font-size="17" text-anchor="end" class="b">2000</text>
<path d="M1567.4 1566.7L1577.4 1566.7" stroke="#000" stroke-width="3.2"/>
<text x="1562.4" y="1572.8" font-size="17" text-anchor="end" class="b">0</text>
<path d="M1620.8 1566.7L1620.8 1576.7" stroke="#000" stroke-width="3.2"/>
<path d="M1686.8 1566.7L1686.8 1576.7" stroke="#000" stroke-width="3.2"/>
<path d="M1601.1 1565.2V1419H1640.2V1565.2" fill="#fff" stroke="#0c30ff" stroke-width="3.6"/>
<path d="M1667.3 1565.2V1505.5H1706.8V1565.2" fill="#fff" stroke="#ff2a00" stroke-width="3.6"/>
<path d="M1620.7 1411.7V1421.2M1610.2 1411.7H1632.1M1610.2 1421.2H1632.1" stroke="#0c30ff" stroke-width="2"/>
<path d="M1687 1491.4V1515M1675.8 1491.4H1698.3M1675.8 1515H1698.3" stroke="#ff2a00" stroke-width="2"/>
<g fill="#0c30ff"><circle cx="1603.7" cy="1398.9" r="4.1"/><circle cx="1615.2" cy="1402.3" r="4.1"/><circle cx="1627.1" cy="1397.4" r="4.1"/><circle cx="1639" cy="1417.2" r="4.1"/><circle cx="1603.3" cy="1421.6" r="4.1"/><circle cx="1615.2" cy="1426.2" r="4.1"/><circle cx="1627.1" cy="1422.8" r="4.1"/><circle cx="1638.1" cy="1427.2" r="4.1"/><circle cx="1620.8" cy="1436.7" r="4.1"/></g>
<g fill="#ff2a00"><circle cx="1686.8" cy="1467.3" r="4.1"/><circle cx="1669.5" cy="1475.9" r="4.1"/><circle cx="1704.3" cy="1474.9" r="4.1"/><circle cx="1686.8" cy="1505.7" r="4.1"/><circle cx="1677.8" cy="1521.6" r="4.1"/><circle cx="1695.1" cy="1524.6" r="4.1"/><circle cx="1686.8" cy="1552.4" r="4.1"/></g>
<text x="1609.7" y="1315.6" font-size="17.3"><tspan class="i">P</tspan>=0.0002</text>
<path d="M1615.8 1335.3V1322.8H1686.8V1335.3" fill="none" stroke="#000" stroke-width="1.5"/>
<text transform="translate(1509.5 1457.8) rotate(-90)" text-anchor="middle" font-size="28.5">Tim3 MFI</text>
<text x="1624.8" y="1608" font-size="28.5" text-anchor="middle">NC</text>
<text x="1685.2" y="1608" font-size="28.5" text-anchor="middle">WD</text>
</svg></body></html>
